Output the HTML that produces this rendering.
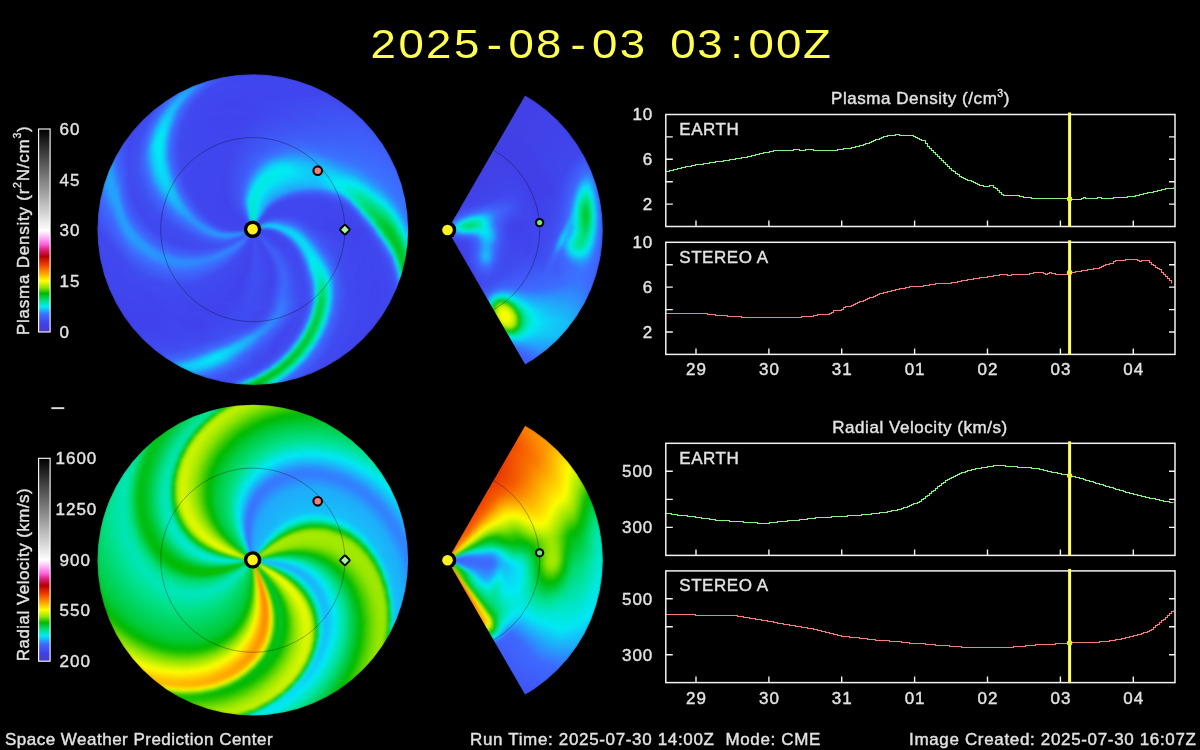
<!DOCTYPE html>
<html><head><meta charset="utf-8"><title>WSA-Enlil Solar Wind Prediction</title>
<style>
html,body{margin:0;padding:0;background:#000}
body{width:1200px;height:750px;position:relative;overflow:hidden;font-family:"Liberation Sans",sans-serif}
.d{position:absolute;overflow:hidden}
.bl{position:absolute;width:0;height:0;filter:blur(1.4px)}
.bl i{position:absolute;left:0;top:0;border-radius:50%;display:block}
svg{position:absolute;left:0;top:0}
text{font-family:"Liberation Sans",sans-serif;letter-spacing:.55px;stroke-width:.4px;paint-order:stroke}
.t text{stroke:#e2e2e2}
.t .ttl text{letter-spacing:0;stroke:none}
.t text.n{letter-spacing:1px}
</style></head><body>
<div class="d" style="left:93.4px;top:70.2px;width:318.8px;height:318.8px;clip-path:circle(155.4px at 50% 50%)"><div class="bl" style="left:159.4px;top:159.4px"><i style="width:313.8px;height:313.8px;margin:-156.9px;background:conic-gradient(from 90deg,#2b91fc 0deg,#0dd1f7 3.5deg,#01e9f5 4.5deg,#00da6d 9deg,#00c934 11.5deg,#00c21f 13.5deg,#00c425 15deg,#00ce46 16deg,#00e4a3 17.5deg,#00ebf1 18.5deg,#3a72fe 20.5deg,#3f59f7 22deg,#4044ed 26deg,#4047ee 66.5deg,#3e62fb 78deg,#3d6dff 79.5deg,#1ab4f9 82deg,#00ebf4 83.5deg,#00d865 86.5deg,#00c320 88.5deg,#00bd0c 90deg,#00be11 91deg,#00c831 92deg,#00da6b 93deg,#00e9e1 94.5deg,#09d9f6 95deg,#367afe 96.5deg,#3e67fe 97deg,#3f4ef2 100deg,#3f53f4 105.5deg,#3e69ff 110deg,#19b7f9 114.5deg,#0fcbf7 117.5deg,#1bb3f9 119.5deg,#3e69fe 122.5deg,#3f4df1 128.5deg,#4042ec 142.5deg,#4049ef 181.5deg,#3d6cff 193.5deg,#24a1fb 199deg,#20a8fa 203deg,#3284fd 206.5deg,#3e68fe 208.5deg,#4047ee 217.5deg,#404af0 230.5deg,#3c6eff 241.5deg,#2996fc 246deg,#2897fc 249.5deg,#3e66fd 254deg,#4046ee 263deg,#4047ee 303.5deg,#3e6aff 344deg,#3a73fe 356.5deg,#2b91fc 360deg)"></i>
<i style="width:311px;height:311px;margin:-155.5px;background:conic-gradient(from 90deg,#23a2fb 0deg,#00eaf5 3.5deg,#00db6d 8deg,#00c934 10.5deg,#00c21e 13deg,#00c423 14deg,#00cd41 15deg,#00de78 16deg,#00eae8 17.5deg,#0bd4f7 18deg,#3778fe 19.5deg,#3e67fd 20deg,#4049ef 23.5deg,#4042ec 45.5deg,#3f4cf1 69deg,#3e68fe 78deg,#3086fd 79.5deg,#00ebf3 82.5deg,#00d865 85.5deg,#00c321 87.5deg,#00bd0d 89deg,#00be12 90deg,#00c831 91deg,#00da6a 92deg,#00e9df 93.5deg,#08dbf6 94deg,#357cfe 95.5deg,#3e68fe 96deg,#3f4ef2 99deg,#3f52f4 104.5deg,#3d6dff 109.5deg,#17bbf9 114deg,#0ecdf7 116.5deg,#17bbf9 118.5deg,#3e68fe 122deg,#3f4df1 128deg,#4042ec 142deg,#4048ef 180.5deg,#3e6aff 192.5deg,#23a2fb 198.5deg,#21a6fa 202.5deg,#347ffd 206deg,#3e66fd 208deg,#4046ee 217deg,#3f4bf0 229.5deg,#3d6cff 239.5deg,#279bfb 244.5deg,#269cfb 248deg,#3b71fe 251.5deg,#3f4cf1 258.5deg,#4042ec 272.5deg,#3f4ef2 313deg,#3d6cff 350deg,#3877fe 356deg,#279afb 359.5deg,#23a2fb 360deg)"></i>
<i style="width:308.2px;height:308.2px;margin:-154.1px;background:conic-gradient(from 90deg,#1ab5f9 0deg,#00ebf5 2.5deg,#00d760 7.5deg,#00c72e 10deg,#00c21e 12.5deg,#00c62c 13.5deg,#00d355 14.5deg,#00e6b9 16deg,#00e9e0 16.5deg,#07dbf6 17deg,#347ffd 18.5deg,#3e68fe 19deg,#4049ef 22.5deg,#4042ec 40deg,#3f4bf0 67.5deg,#3e68fe 77deg,#3087fd 78.5deg,#00ebf3 81.5deg,#00d866 84.5deg,#00c422 86.5deg,#00bd0e 88deg,#00bf12 89deg,#00c831 90deg,#00d969 91deg,#00e9dd 92.5deg,#07ddf6 93deg,#347efd 94.5deg,#3e68fe 95deg,#3f4ef2 98deg,#3f51f3 103.5deg,#3e69ff 108.5deg,#18b9f9 113deg,#0dcff7 116deg,#18baf9 118deg,#3d6cff 121deg,#3f4ff2 126.5deg,#4042ec 139.5deg,#4049ef 180deg,#3d6cff 192deg,#24a1fb 197.5deg,#21a7fa 201.5deg,#3282fd 205deg,#3e67fe 207deg,#4047ee 216deg,#3f4bf0 228deg,#3c6fff 238deg,#259ffb 243deg,#24a1fb 246.5deg,#3875fe 250deg,#3e60fa 252.5deg,#4045ed 261deg,#4047ee 301.5deg,#3e69ff 342deg,#3974fe 354deg,#2995fc 358deg,#1ab5f9 360deg)"></i>
<i style="width:305.4px;height:305.4px;margin:-152.7px;background:conic-gradient(from 90deg,#0fcbf7 0deg,#00ebf3 1.5deg,#00d761 6.5deg,#00c72e 9deg,#00c21e 11.5deg,#00c629 12.5deg,#00d150 13.5deg,#00e5b1 15deg,#04e3f6 16deg,#3e6aff 18deg,#404af0 21.5deg,#4042ec 36deg,#404af0 66deg,#3e65fd 75.5deg,#3c6eff 76.5deg,#1ab6f9 79deg,#00ebf2 80.5deg,#00d866 83.5deg,#00c423 85.5deg,#00be0f 87deg,#00bf13 88deg,#00c830 89deg,#00d968 90deg,#00e9db 91.5deg,#06dff6 92deg,#3380fd 93.5deg,#3e69fe 94deg,#3f4ef2 97deg,#3f50f3 102.5deg,#3c6eff 108deg,#16bef8 112.5deg,#0cd1f7 115deg,#10c9f8 116.5deg,#2b92fc 119deg,#3e6aff 120.5deg,#3f4df1 126.5deg,#4042ec 140deg,#4048ef 179deg,#3e6aff 191deg,#259ffb 196.5deg,#21a7fa 200.5deg,#2e8cfc 203.5deg,#3e68fe 206deg,#4047ee 215deg,#3f4bf0 226.5deg,#3d6bff 236deg,#24a1fb 241deg,#20a8fa 244.5deg,#2e8afc 247.5deg,#3e67fd 250deg,#4046ee 258.5deg,#4046ee 299deg,#3e69fe 339.5deg,#3975fe 353deg,#2897fb 357deg,#0fcbf7 360deg)"></i>
<i style="width:302.6px;height:302.6px;margin:-151.3px;background:conic-gradient(from 90deg,#04e2f6 0deg,#00e9e3 1deg,#00d761 5.5deg,#00c72f 8deg,#00c21e 10.5deg,#00c527 11.5deg,#00d04b 12.5deg,#00e4a9 14deg,#01eaf5 15deg,#3b70ff 17deg,#3f50f3 19.5deg,#4042ec 25.5deg,#4049ef 64deg,#3e63fc 74deg,#3a73fe 75.5deg,#0ecef7 78.5deg,#05e1f6 79deg,#00eaea 79.5deg,#00d760 82.5deg,#00c321 84.5deg,#00be10 86deg,#00c017 87deg,#00ca38 88deg,#00e396 89.5deg,#00eae6 90.5deg,#0ad5f7 91deg,#3779fe 92.5deg,#3e67fe 93deg,#3f4cf0 96.5deg,#3f53f4 102.5deg,#3e6aff 107deg,#17bcf9 111.5deg,#0bd4f7 114.5deg,#15c0f8 116.5deg,#3e68fe 120deg,#3f4df1 126deg,#4042ec 140deg,#4049ef 178.5deg,#3d6cff 190.5deg,#24a0fb 196deg,#21a6fa 200deg,#3380fd 203.5deg,#3e67fd 205.5deg,#4047ee 214.5deg,#3f4ef1 226deg,#3c6eff 234.5deg,#22a5fa 239.5deg,#1eadfa 243deg,#2c8ffc 246deg,#3e68fe 248.5deg,#4046ee 257deg,#4046ee 297.5deg,#3e68fe 338deg,#3975fe 351.5deg,#2a93fc 355.5deg,#09d7f7 359.5deg,#04e2f6 360deg)"></i>
<i style="width:299.8px;height:299.8px;margin:-149.9px;background:conic-gradient(from 90deg,#00e9e2 0deg,#00d762 4.5deg,#00c629 7.5deg,#00c31f 10deg,#00c832 11deg,#00d660 12deg,#00e7c7 13.5deg,#00eaee 14deg,#2b92fc 15.5deg,#3876fe 16deg,#3e60fa 17deg,#4047ee 20.5deg,#4045ee 59.5deg,#3f5ffa 72deg,#3d6bff 74deg,#13c3f8 77deg,#02e8f5 78deg,#00db6f 81deg,#00c62a 83deg,#00bf13 84.5deg,#00c11c 86deg,#00cd40 87deg,#00e4a2 88.5deg,#00ebf2 89.5deg,#3a72fe 91.5deg,#3f59f7 93deg,#4049ef 97deg,#3f5df9 104deg,#3c6eff 106.5deg,#14c0f8 111deg,#0ad6f7 114deg,#16bef8 116deg,#3c6eff 119deg,#3f52f4 123.5deg,#4042ec 135.5deg,#4047ee 176deg,#3e6aff 189.5deg,#259efb 195deg,#21a6fa 199deg,#2e8bfc 202deg,#3e68fe 204.5deg,#4047ee 213.5deg,#3f4ef2 224.5deg,#3b71fe 233deg,#20a9fa 238deg,#1bb2f9 241.5deg,#2a94fc 244.5deg,#3e69fe 247deg,#4047ee 255deg,#4045ed 294.5deg,#3e67fe 335deg,#3876fe 350.5deg,#2995fc 354.5deg,#09d9f6 358.5deg,#00ebf0 359.5deg,#00e9e2 360deg)"></i>
<i style="width:297px;height:297px;margin:-148.5px;background:conic-gradient(from 90deg,#00e7c4 0deg,#00d456 4deg,#00c62a 6.5deg,#00c21f 9deg,#00c82f 10deg,#00d55a 11deg,#00e6bf 12.5deg,#00eae6 13deg,#0ad7f7 13.5deg,#357cfe 15deg,#3e68fe 15.5deg,#4049ef 19deg,#4042ec 36.5deg,#3f4bf0 63deg,#3e66fd 72deg,#357cfe 73.5deg,#00ebf1 77deg,#00d969 80deg,#00c528 82deg,#00bf14 83.5deg,#00c017 84.5deg,#00c832 85.5deg,#00d866 86.5deg,#00e8d5 88deg,#03e4f6 88.5deg,#3e6bff 90.5deg,#3f4ef2 93.5deg,#3f4cf1 99deg,#3e6aff 105.5deg,#16bef8 110deg,#09d8f6 113deg,#0ecef7 114.5deg,#2995fc 117deg,#3e6aff 118.5deg,#3f4df1 124.5deg,#4042ec 137.5deg,#4049ef 177deg,#3d6dff 189deg,#24a0fb 194.5deg,#22a5fa 198.5deg,#347ffd 202deg,#3e66fd 204deg,#4047ee 213deg,#3f4ff2 223.5deg,#3d6cff 231deg,#1faafa 236deg,#18b8f9 239.5deg,#21a7fa 242deg,#3e6aff 245.5deg,#4047ef 253.5deg,#4044ed 291.5deg,#3e65fd 332deg,#3877fe 349.5deg,#2897fc 353.5deg,#08daf6 357.5deg,#00eaee 358.5deg,#00e7c4 360deg)"></i>
<i style="width:294.2px;height:294.2px;margin:-147.1px;background:conic-gradient(from 90deg,#00e4a6 0deg,#00d04c 3.5deg,#00c525 6deg,#00c21e 8deg,#00c72c 9deg,#00d355 10deg,#00e6b7 11.5deg,#00e9dd 12deg,#06def6 12.5deg,#3e69ff 14.5deg,#404af0 18deg,#4042ec 32.5deg,#404af0 61.5deg,#3e67fd 71deg,#3975fe 72deg,#0dcff7 75deg,#04e2f6 75.5deg,#00eae9 76deg,#00d863 79deg,#00c526 81deg,#00bf15 82.5deg,#00c11a 83.5deg,#00cb39 84.5deg,#00e293 86deg,#00e9e0 87deg,#08dbf6 87.5deg,#347efd 89deg,#3e68fe 89.5deg,#3f4bf0 93deg,#3f4ef2 99deg,#3c6eff 105deg,#13c3f8 109.5deg,#08daf6 112.5deg,#13c4f8 114.5deg,#3e69ff 118deg,#3f4df1 124deg,#4042ec 137.5deg,#4049ef 176deg,#3e6aff 188deg,#259efb 193.5deg,#21a5fa 197.5deg,#3382fd 201deg,#3e67fe 203deg,#4047ef 212deg,#3f4ff2 222deg,#3c6eff 229.5deg,#1eadfa 234.5deg,#16bdf9 238deg,#1eadfa 240.5deg,#3e68fe 244.5deg,#4047ee 252.5deg,#4045ed 293deg,#3e67fe 333.5deg,#3876fe 348deg,#2899fb 352.5deg,#07dcf6 356.5deg,#00eaed 357.5deg,#00e4a6 360deg)"></i>
<i style="width:291.4px;height:291.4px;margin:-145.7px;background:conic-gradient(from 90deg,#00e289 0deg,#00cb3a 3.5deg,#00c31f 6deg,#00c321 7.5deg,#00cb3a 8.5deg,#00da6b 9.5deg,#00e8d5 11deg,#03e5f5 11.5deg,#3c6eff 13.5deg,#3f4df1 16.5deg,#4042ec 24.5deg,#4049ef 59.5deg,#3e65fd 69.5deg,#3c6dff 70.5deg,#13c4f8 73.5deg,#01e8f5 74.5deg,#00dc71 77.5deg,#00c72f 79.5deg,#00c018 81deg,#00c21f 82.5deg,#00cd41 83.5deg,#00e39e 85deg,#00eaec 86deg,#1cb2f9 87deg,#3877fe 88deg,#3e66fd 88.5deg,#404af0 92deg,#3f4ff2 98.5deg,#3e6aff 104deg,#14c1f8 108.5deg,#07dcf6 111.5deg,#0bd4f7 113deg,#269cfb 115.5deg,#3e68fe 117.5deg,#3f4bf0 124deg,#4042ec 139.5deg,#4049ef 175.5deg,#3d6dff 187.5deg,#249ffb 193deg,#22a4fb 197deg,#357dfe 200.5deg,#3e66fd 202.5deg,#4048ef 211deg,#3f51f3 221deg,#3b70fe 228deg,#1cb1f9 233deg,#14c2f8 236.5deg,#1bb2f9 239deg,#3e6aff 243deg,#4047ee 251deg,#4045ed 291.5deg,#3e67fd 332deg,#3778fe 347deg,#279afb 351.5deg,#07ddf6 355.5deg,#00eaeb 356.5deg,#00e289 360deg)"></i>
<i style="width:288.6px;height:288.6px;margin:-144.3px;background:conic-gradient(from 90deg,#00db70 0deg,#00c933 3deg,#00c21e 5.5deg,#00c528 7deg,#00d04b 8deg,#00e4a7 9.5deg,#00ebf4 10.5deg,#3973fe 12.5deg,#3f5ffa 13.5deg,#4046ee 17.5deg,#4047ee 56.5deg,#3e61fb 67.5deg,#3a72fe 69.5deg,#10caf8 72.5deg,#00ebf0 73.5deg,#00da6c 76.5deg,#00c72d 78.5deg,#00c018 80deg,#00c423 81.5deg,#00cf49 82.5deg,#00e4a9 84deg,#01eaf5 85deg,#3b70ff 87deg,#3f55f5 89deg,#4047ee 93.5deg,#3f5df9 101deg,#3c6fff 103.5deg,#12c5f8 108deg,#06def6 111deg,#0bd3f7 112.5deg,#2898fb 115deg,#3d6cff 116.5deg,#3f50f3 121.5deg,#4042ec 133deg,#4047ee 173.5deg,#3e6aff 186.5deg,#259efb 192deg,#22a4fa 196deg,#3380fd 199.5deg,#3e67fd 201.5deg,#4049ef 210deg,#3f51f3 219.5deg,#3e6bff 226deg,#1ab5f9 231.5deg,#11c7f8 235deg,#19b8f9 237.5deg,#3e68fe 242deg,#4047ee 249.5deg,#4045ed 290deg,#3e66fd 330.5deg,#3877fe 345.5deg,#2996fc 350deg,#0bd5f7 354deg,#01e9f5 355deg,#00db70 360deg)"></i>
<i style="width:285.8px;height:285.8px;margin:-142.9px;background:conic-gradient(from 90deg,#00d459 0deg,#00c527 3deg,#00c31f 5.5deg,#00c933 6.5deg,#00d660 7.5deg,#00e7c5 9deg,#00eaeb 9.5deg,#1bb3f9 10.5deg,#3779fe 11.5deg,#3e67fe 12deg,#4049ef 15.5deg,#4042ec 33deg,#3f4bf0 58.5deg,#3e67fe 67.5deg,#3876fe 68.5deg,#0dd1f7 71.5deg,#04e3f6 72deg,#00e8d2 73deg,#00d354 76deg,#00c322 78deg,#00c11a 79.5deg,#00c528 80.5deg,#00d251 81.5deg,#00e5b4 83deg,#00e9db 83.5deg,#05e0f6 84deg,#3e6aff 86deg,#3f4bf0 89.5deg,#3f4cf1 96deg,#3e6aff 102.5deg,#10caf8 107.5deg,#05e1f6 110.5deg,#0cd3f7 112deg,#3186fd 115deg,#3e6aff 116deg,#3f4bf0 122.5deg,#4042ec 137deg,#4049ef 174deg,#3d6dff 186deg,#259ffb 191.5deg,#23a3fb 195.5deg,#367cfe 199deg,#3e68fe 200.5deg,#4049ef 209deg,#3f51f3 218deg,#3d6dff 224.5deg,#18b9f9 230deg,#0fccf7 233.5deg,#16bdf9 236deg,#357dfe 239.5deg,#3e66fd 241deg,#4047ee 248.5deg,#4045ed 289deg,#3e66fd 329.5deg,#3876fe 344deg,#2a93fc 348.5deg,#0fcdf7 352.5deg,#00ebf5 354deg,#00d864 359.5deg,#00d459 360deg)"></i>
<i style="width:283px;height:283px;margin:-141.5px;background:conic-gradient(from 90deg,#00cf48 0deg,#00c425 2.5deg,#00c321 5deg,#00cb3b 6deg,#00e28d 7.5deg,#03e5f5 9deg,#3c6eff 11deg,#3f50f3 13.5deg,#4042ec 19.5deg,#4049ef 56deg,#3e65fd 66deg,#367bfe 67.5deg,#0ad7f7 70.5deg,#01e9f5 71deg,#00dd74 74deg,#00c934 76deg,#00c21c 77.5deg,#00c322 79deg,#00cd41 80deg,#00e39a 81.5deg,#00eae6 82.5deg,#0ad7f7 83deg,#357dfe 84.5deg,#3e68fe 85deg,#404af0 88.5deg,#3f4bf0 95deg,#3c6eff 102deg,#11c7f8 106.5deg,#04e3f6 109.5deg,#08daf6 111deg,#24a1fb 113.5deg,#3e69ff 115.5deg,#3f4bf0 122deg,#4042ec 137deg,#4049ef 173deg,#3e6aff 185deg,#259dfb 190.5deg,#22a3fb 194.5deg,#347ffd 198deg,#3e66fd 200deg,#4049ef 208.5deg,#3f54f5 217.5deg,#3d6cff 223deg,#17bbf9 228.5deg,#0dd0f7 232deg,#13c4f8 234.5deg,#3185fd 238deg,#3e68fe 239.5deg,#4047ee 247deg,#4044ed 287.5deg,#3e65fd 328deg,#3975fe 342.5deg,#2a93fc 347.5deg,#0fcbf7 351.5deg,#01e9f5 353deg,#00d968 358.5deg,#00cf48 360deg)"></i>
<i style="width:280.2px;height:280.2px;margin:-140.1px;background:conic-gradient(from 90deg,#00cb3a 0deg,#00c320 2.5deg,#00c425 4.5deg,#00ce43 5.5deg,#00e39b 7deg,#00eae5 8deg,#09d8f6 8.5deg,#347efd 10deg,#3e68fe 10.5deg,#404af0 14deg,#4042ec 29deg,#3f4bf0 56deg,#3e66fd 65deg,#3a73fe 66deg,#10cbf8 69deg,#00ebf1 70deg,#00db70 73deg,#00c832 75deg,#00c21d 76.5deg,#00c525 78deg,#00cf47 79deg,#00e4a3 80.5deg,#00eaee 81.5deg,#3877fe 83.5deg,#3e67fd 84deg,#404af0 87.5deg,#3f4bf0 94.5deg,#3e69ff 101deg,#0fcbf7 106deg,#03e5f5 109deg,#08daf6 110.5deg,#259efb 113deg,#3e68fe 115deg,#3f4bf0 121.5deg,#4042ec 137.5deg,#4049ef 172.5deg,#3c6fff 184.5deg,#249ffb 190deg,#23a3fb 193.5deg,#347ffd 197deg,#3e66fd 199deg,#4049ef 207.5deg,#3f54f5 216.5deg,#3c6fff 222deg,#15bff8 227.5deg,#0bd5f7 231deg,#10c9f8 233.5deg,#2a94fc 236.5deg,#3e69fe 238.5deg,#4047ee 246deg,#4044ed 286.5deg,#3e65fd 327deg,#3975fe 341.5deg,#2a93fc 346.5deg,#10c9f8 350.5deg,#00eaef 352.5deg,#00db6d 357.5deg,#00cb3a 360deg)"></i>
<i style="width:277.4px;height:277.4px;margin:-138.7px;background:conic-gradient(from 90deg,#00c82f 0deg,#00c21e 2.5deg,#00c629 4deg,#00d14d 5deg,#00e4a9 6.5deg,#00ebf4 7.5deg,#3974fe 9.5deg,#3f5ffa 10.5deg,#4046ee 14.5deg,#4047ee 52deg,#3e62fb 63deg,#3e6aff 64.5deg,#16bdf9 67.5deg,#05e0f6 68.5deg,#00eaec 69deg,#00da6d 72deg,#00c831 74deg,#00c21e 75.5deg,#00c528 77deg,#00d04c 78deg,#00e4a8 79.5deg,#00ebf4 80.5deg,#3974fe 82.5deg,#3f5ffa 83.5deg,#4048ef 87deg,#3f4df1 94.5deg,#3d6cff 100.5deg,#0dcff7 105.5deg,#02e8f5 108.5deg,#08daf6 110deg,#269cfb 112.5deg,#3c6fff 114deg,#3f53f4 118deg,#4042ec 128deg,#4046ee 168.5deg,#3e67fe 182deg,#24a0fb 189deg,#23a2fb 192.5deg,#367bfe 196deg,#3e68fe 197.5deg,#4049ef 206deg,#3f53f4 215deg,#3e6aff 220.5deg,#13c3f8 226.5deg,#08daf6 230deg,#0ecef7 232.5deg,#2898fb 235.5deg,#3e6aff 237.5deg,#4047ee 245deg,#4044ed 285.5deg,#3e65fc 326deg,#3974fe 340deg,#2b92fc 345.5deg,#0dd0f7 350deg,#00ebf2 351.5deg,#00d866 357deg,#00c82f 360deg)"></i>
<i style="width:274.6px;height:274.6px;margin:-137.3px;background:conic-gradient(from 90deg,#00c527 0deg,#00c21f 2.5deg,#00c72e 3.5deg,#00d457 4.5deg,#00e6b8 6deg,#00e9dd 6.5deg,#06dff6 7deg,#3e6bff 9deg,#404af0 12.5deg,#4042ec 25deg,#404af0 53.5deg,#3e65fd 62.5deg,#3d6dff 63.5deg,#14c1f8 66.5deg,#03e4f6 67.5deg,#00e8d2 68.5deg,#00d459 71.5deg,#00c528 73.5deg,#00c31f 75deg,#00c62c 76deg,#00d251 77deg,#00e5ae 78.5deg,#02e7f5 79.5deg,#3b71fe 81.5deg,#3f55f5 83.5deg,#4045ed 88deg,#3f56f5 96deg,#3b71fe 100deg,#0fccf7 104.5deg,#01e9f5 107.5deg,#04e2f6 109deg,#19b7f9 111deg,#3d6cff 113.5deg,#3f4ef2 119deg,#4042ec 130.5deg,#4049ef 169.5deg,#3c6eff 182deg,#259efb 187.5deg,#23a3fb 191deg,#347ffd 194.5deg,#3e66fd 196.5deg,#4049ef 205deg,#3f53f4 214deg,#3d6cff 219.5deg,#11c8f8 225.5deg,#06dff6 229deg,#0cd3f7 231.5deg,#269bfb 234.5deg,#3d6cff 236.5deg,#404af0 243deg,#4042ec 263deg,#3f4ff2 303.5deg,#3a73fe 338.5deg,#2d8efc 344deg,#12c6f8 348.5deg,#00ebf5 350.5deg,#00da6b 356deg,#00c72c 359.5deg,#00c527 360deg)"></i>
<i style="width:271.8px;height:271.8px;margin:-135.9px;background:conic-gradient(from 90deg,#00c321 0deg,#00c320 2deg,#00c935 3deg,#00d762 4deg,#00e7c6 5.5deg,#00eaec 6deg,#1bb4f9 7deg,#367bfe 8deg,#3e68fe 8.5deg,#404af0 12deg,#4042ec 27.5deg,#3f4bf0 53deg,#3e68fe 62deg,#2996fc 64deg,#02e8f5 66.5deg,#00d967 70deg,#00c830 72deg,#00c320 73.5deg,#00c425 74.5deg,#00cc3f 75.5deg,#00e291 77deg,#00e9d9 78deg,#04e2f6 78.5deg,#3c6eff 80.5deg,#3f4ef1 83.5deg,#4046ee 89.5deg,#3e61fb 97.5deg,#3e6bff 99deg,#0dd0f7 104deg,#00eaf5 106.5deg,#04e2f6 108.5deg,#21a6fa 111deg,#3e6aff 113deg,#3f4bf0 119.5deg,#4042ec 135deg,#4049ef 168.5deg,#3e6aff 180.5deg,#269cfb 186deg,#23a1fb 190deg,#367bfe 193.5deg,#3e68fe 195deg,#4049ef 203.5deg,#3f52f4 212.5deg,#3c6eff 218.5deg,#0fccf7 224.5deg,#04e3f6 228deg,#09d7f7 230.5deg,#249ffb 233.5deg,#3e68fe 236deg,#4047ef 243deg,#4044ed 283deg,#3e64fc 323.5deg,#3a73fe 337.5deg,#2b92fc 343.5deg,#0fcdf7 348deg,#01e8f5 349.5deg,#00db6f 355deg,#00c82f 358.5deg,#00c321 360deg)"></i>
<i style="width:269px;height:269px;margin:-134.5px;background:conic-gradient(from 90deg,#00c424 0deg,#00c527 1.5deg,#00cd41 2.5deg,#00e291 4deg,#00e9d9 5deg,#04e3f6 5.5deg,#3b6fff 7.5deg,#3f51f3 10deg,#4042ec 16deg,#4049ef 50.5deg,#3e63fc 60deg,#3a72fe 61.5deg,#11c9f8 64.5deg,#00ebf4 65.5deg,#00d865 69deg,#00c82f 71deg,#00c321 72.5deg,#00c527 73.5deg,#00ce43 74.5deg,#00e396 76deg,#00e9df 77deg,#06def6 77.5deg,#3e6bff 79.5deg,#3f4bf0 83deg,#4047ef 90deg,#3e68fe 98deg,#0dd1f7 103.5deg,#00eaf5 106.5deg,#06def6 108deg,#24a0fb 110.5deg,#3e69fe 112.5deg,#4049ef 119.5deg,#4042ec 142deg,#404af0 168deg,#3d6dff 179.5deg,#259dfb 185deg,#23a2fb 188.5deg,#347ffd 192deg,#3e66fd 194deg,#4049ef 202.5deg,#3f52f4 211.5deg,#3b71fe 217.5deg,#0dd0f7 223.5deg,#01e8f5 227deg,#07dcf6 229.5deg,#23a3fb 232.5deg,#3e69fe 235deg,#4048ef 242deg,#4043ed 281deg,#3f5ffa 317.5deg,#3a73fe 336.5deg,#2b91fc 342.5deg,#10c9f8 347deg,#00ebf2 349deg,#00db6d 354.5deg,#00c831 358deg,#00c424 360deg)"></i>
<i style="width:266.2px;height:266.2px;margin:-133.1px;background:conic-gradient(from 90deg,#00c629 0deg,#00c830 1deg,#00d14f 2deg,#00e4a4 3.5deg,#00eaeb 4.5deg,#1ab6f9 5.5deg,#3e68fe 7deg,#404af0 10.5deg,#4042ec 24.5deg,#3f4bf0 50.5deg,#3e67fe 59.5deg,#3975fe 60.5deg,#0fccf7 63.5deg,#00ebf0 64.5deg,#00d762 68deg,#00c72f 70deg,#00c423 71.5deg,#00c62a 72.5deg,#00cf48 73.5deg,#00e39c 75deg,#00eae4 76deg,#08d9f6 76.5deg,#3e69ff 78.5deg,#3f4bf0 82deg,#4048ef 89.5deg,#3e68fe 97.5deg,#0dd0f7 103deg,#02e7f5 105.5deg,#05e1f6 107deg,#19b7f9 109deg,#3c6eff 111.5deg,#3f51f3 116deg,#4042ec 126deg,#4049ef 166deg,#3e6aff 178deg,#269bfb 183.5deg,#24a1fb 187.5deg,#367bfe 191deg,#3e68fe 192.5deg,#4049ef 201deg,#3f51f3 210deg,#3e6bff 216deg,#0ecff7 222deg,#00ebf4 225.5deg,#02e6f5 228deg,#16bef9 230.5deg,#3e69ff 234deg,#4048ef 241deg,#4043ec 279deg,#3f5cf8 314.5deg,#3a73fe 335.5deg,#2c90fc 341.5deg,#12c6f8 346deg,#01e9f5 348deg,#00da6c 354deg,#00c934 357.5deg,#00c629 360deg)"></i>
<i style="width:263.4px;height:263.4px;margin:-131.7px;background:conic-gradient(from 90deg,#00c832 0deg,#00d049 1deg,#00e395 2.5deg,#00e9d9 3.5deg,#03e4f6 4deg,#3a72fe 6deg,#3f5af7 7.5deg,#4044ed 12deg,#4048ef 47.5deg,#3e62fb 57.5deg,#3d6cff 59deg,#15bff8 62deg,#05e1f6 63deg,#00eaec 63.5deg,#00d760 67deg,#00c72f 69deg,#00c424 70.5deg,#00c72d 71.5deg,#00d04c 72.5deg,#00e4a2 74deg,#00eaea 75deg,#0bd5f7 75.5deg,#357efd 77deg,#3e68fe 77.5deg,#404af0 81deg,#4047ee 88.5deg,#3e66fd 96.5deg,#367bfe 98deg,#0dd0f7 102.5deg,#03e5f5 105deg,#07dcf6 106.5deg,#22a3fb 109deg,#3e6aff 111deg,#4049ef 118deg,#4042ec 138.5deg,#404af0 165.5deg,#3d6bff 177deg,#269cfb 182.5deg,#249ffb 186.5deg,#3877fe 190deg,#3e64fc 192deg,#4048ef 200.5deg,#3f53f4 209.5deg,#3c6dff 215deg,#0cd3f7 221deg,#00ebf4 223.5deg,#00eaed 226deg,#03e5f5 227.5deg,#1faafa 230.5deg,#3e6aff 233deg,#4048ef 240deg,#4043ec 276.5deg,#3f5af7 311.5deg,#3a73fe 334.5deg,#2a93fc 341deg,#10caf8 345.5deg,#00ebf3 347.5deg,#00d761 354deg,#00ca38 357deg,#00c830 359.5deg,#00c832 360deg)"></i>
<i style="width:260.6px;height:260.6px;margin:-130.3px;background:conic-gradient(from 90deg,#00cf46 0deg,#00da6d 1deg,#00e7c8 2.5deg,#00eaec 3deg,#19b7f9 4deg,#3e69ff 5.5deg,#404af0 9deg,#4042ec 21.5deg,#3f4bf0 48.5deg,#3e68fe 57.5deg,#2995fc 59.5deg,#03e5f5 62deg,#00e6bd 63.5deg,#00d65e 66deg,#00c72f 68deg,#00c525 69.5deg,#00c82f 70.5deg,#00d250 71.5deg,#00e4a7 73deg,#00ebef 74deg,#367afe 76deg,#3e68fe 76.5deg,#404af0 80deg,#4047ee 88deg,#3e66fd 96deg,#357dfe 97.5deg,#11c9f8 101.5deg,#04e2f6 104.5deg,#09d8f6 106deg,#259efb 108.5deg,#3e69fe 110.5deg,#4049ef 117.5deg,#4042ec 141.5deg,#3f4bf0 165deg,#3c6eff 176deg,#269dfb 181.5deg,#24a0fb 185deg,#367bfe 188.5deg,#3e68fe 190deg,#4049ef 198.5deg,#3f50f3 207.5deg,#3c6fff 214deg,#0ad5f7 220deg,#00ebf1 222.5deg,#00eaea 225deg,#05e1f6 227deg,#2a93fc 230.5deg,#3d6cff 232deg,#4049ef 238.5deg,#4042ec 262deg,#3f50f3 302deg,#3a72fe 333.5deg,#2b92fc 340deg,#0ecff7 345deg,#01e8f5 346.5deg,#00da6a 353deg,#00cb3c 356.5deg,#00ca36 359deg,#00cf46 360deg)"></i>
<i style="width:257.8px;height:257.8px;margin:-128.9px;background:conic-gradient(from 90deg,#00d865 0deg,#00e6b9 1.5deg,#03e4f6 2.5deg,#3974fe 4.5deg,#3e60fa 5.5deg,#4046ee 9.5deg,#4047ee 44deg,#3e61fb 55deg,#3a72fe 57deg,#0ad7f7 60.5deg,#01e8f5 61deg,#00da6c 64.5deg,#00ca37 66.5deg,#00c527 68deg,#00c832 69.5deg,#00d355 70.5deg,#00e5ad 72deg,#00ebf5 73deg,#3877fe 75deg,#3e67fd 75.5deg,#404af0 79deg,#4047ee 87deg,#3e64fc 95deg,#3974fe 96.5deg,#11c8f8 101deg,#05e0f6 104deg,#10caf8 106deg,#3c6eff 109.5deg,#3f50f2 114.5deg,#4042ec 124.5deg,#4049ef 162.5deg,#3e6aff 174.5deg,#269bfb 180deg,#259ffb 184deg,#3877fe 187.5deg,#3e64fc 189.5deg,#4048ef 198deg,#3f53f4 207.5deg,#3d6dff 213deg,#08d9f6 219.5deg,#00ebf3 221.5deg,#00eaeb 224deg,#04e2f6 226deg,#2995fc 229.5deg,#3c6dff 231deg,#3f4bf0 237deg,#4042ec 253deg,#404af0 293.5deg,#3a72fe 332.5deg,#2b91fc 339deg,#0fcbf7 344deg,#00ebf4 346deg,#00da6a 352.5deg,#00cd40 356deg,#00cc3e 358.5deg,#00d252 359.5deg,#00d865 360deg)"></i>
<i style="width:255px;height:255px;margin:-127.5px;background:conic-gradient(from 90deg,#00e28d 0deg,#00eaec 1.5deg,#18b8f9 2.5deg,#3e6aff 4deg,#3f4bf0 7.5deg,#4042ec 19deg,#404af0 46deg,#3e67fd 55deg,#3975fe 56deg,#08dbf6 59.5deg,#00ebf4 60deg,#00d969 63.5deg,#00ca36 65.5deg,#00c528 67deg,#00c935 68.5deg,#00d459 69.5deg,#00e5b2 71deg,#02e7f5 72deg,#3974fe 74deg,#3e60fa 75deg,#4047ee 79deg,#3f4bf0 88.5deg,#3e6bff 95.5deg,#11c8f8 100.5deg,#07ddf6 103.5deg,#12c5f8 105.5deg,#3e6aff 109deg,#4049ef 116deg,#4042ec 137.5deg,#3f4bf0 162.5deg,#3d6cff 173.5deg,#269cfb 179deg,#24a0fb 182.5deg,#367bfe 186deg,#3e68fe 187.5deg,#4048ef 196.5deg,#3f51f3 206deg,#3b71fe 212.5deg,#0ad5f7 218.5deg,#00ebf2 221deg,#00eaed 223.5deg,#03e4f6 225deg,#21a7fa 228deg,#3e69fe 230.5deg,#4047ef 237.5deg,#4043ed 278deg,#3f5ffa 315deg,#3a72fe 331.5deg,#2a94fc 338.5deg,#0dcff7 343.5deg,#00eaef 345.5deg,#00da6b 352deg,#00ce45 355.5deg,#00ce46 358deg,#00d65f 359deg,#00e28d 360deg)"></i>
<i style="width:252.2px;height:252.2px;margin:-126.1px;background:conic-gradient(from 90deg,#00e7c5 0deg,#00eae6 0.5deg,#08dbf6 1deg,#3c6fff 3deg,#3f51f3 5.5deg,#4042ec 11.5deg,#4049ef 44deg,#3e65fc 53.5deg,#3d6cff 54.5deg,#0ecef7 58deg,#00ebf0 59deg,#00d967 62.5deg,#00ca36 64.5deg,#00c629 66deg,#00ca39 67.5deg,#00d65e 68.5deg,#00e6b8 70deg,#04e2f6 71deg,#3b71fe 73deg,#3f55f5 75deg,#4044ed 80deg,#3f50f3 89.5deg,#3c6eff 95deg,#14c1f8 99.5deg,#08daf6 102.5deg,#10c9f8 104.5deg,#3e68fe 108.5deg,#4047ef 116deg,#4044ed 154.5deg,#3f5af7 167.5deg,#3a73fe 173deg,#269cfb 178deg,#259ffb 181.5deg,#3779fe 185deg,#3e67fe 186.5deg,#4048ef 195.5deg,#3f50f3 205deg,#3d6cff 211.5deg,#09d7f7 218deg,#00ebf2 220.5deg,#00ebf0 223deg,#06dff6 224.5deg,#2a93fc 228deg,#3d6cff 229.5deg,#4049ef 236deg,#4042ec 259deg,#3f50f2 299.5deg,#3a72fe 330.5deg,#2a95fc 337.5deg,#0ecef7 342.5deg,#00ebf2 344.5deg,#00dc71 351deg,#00d04b 354.5deg,#00d04a 357deg,#00d65f 358deg,#00e4a6 359.5deg,#00e7c5 360deg)"></i>
<i style="width:249.4px;height:249.4px;margin:-124.7px;background:conic-gradient(from 90deg,#06dff6 0deg,#3974fe 2deg,#3e60fa 3deg,#4047ee 7deg,#4046ee 40.5deg,#3e60fa 51.5deg,#3c6eff 53.5deg,#0dd1f7 57deg,#00eaec 58deg,#00d865 61.5deg,#00ca36 63.5deg,#00c62b 65deg,#00cb3c 66.5deg,#00d762 67.5deg,#00e6bd 69deg,#00e9e0 69.5deg,#06dff6 70deg,#3c6fff 72deg,#3f51f3 74.5deg,#4043ed 80deg,#3f53f4 89.5deg,#3e6aff 94deg,#16bdf9 98.5deg,#0ad7f7 101.5deg,#11c7f8 103.5deg,#3e68fe 107.5deg,#4048ef 115deg,#4042ec 148.5deg,#3f51f3 163.5deg,#3b71fe 172deg,#279bfb 177deg,#259ffb 180.5deg,#367bfe 184deg,#3e68fe 185.5deg,#4048ef 194.5deg,#3f51f3 204.5deg,#3b70ff 211deg,#0bd3f7 217deg,#00ebf2 220deg,#00ebf4 222.5deg,#11c8f8 225deg,#3e68fe 229deg,#4047ee 236deg,#4043ed 276.5deg,#3f5ffa 313.5deg,#3a72fe 329.5deg,#2995fc 336.5deg,#0bd5f7 342deg,#00ebf4 343.5deg,#00db6f 350.5deg,#00d14f 354deg,#00d14f 356deg,#00d761 357deg,#00e4a4 358.5deg,#00e9e2 359.5deg,#06dff6 360deg)"></i>
<i style="width:246.6px;height:246.6px;margin:-123.3px;background:conic-gradient(from 90deg,#1eacfa 0deg,#3778fe 1deg,#3e67fe 1.5deg,#4048ef 5.5deg,#4042ec 30.5deg,#3f52f4 46.5deg,#3e69fe 52deg,#22a4fb 54.5deg,#04e4f6 56.5deg,#00e8d5 57.5deg,#00d865 60.5deg,#00ca37 62.5deg,#00c72c 64deg,#00c933 65deg,#00d14f 66deg,#00e39e 67.5deg,#00e9e2 68.5deg,#07ddf6 69deg,#3c6eff 71deg,#3f4ef2 74deg,#4044ed 81deg,#3f59f7 90deg,#3b71fe 93.5deg,#15bff8 98deg,#0bd3f7 101deg,#16bdf9 103deg,#3e69fe 106.5deg,#4048ef 114deg,#4042ec 141deg,#3f4cf1 160.5deg,#3c6fff 171deg,#269cfb 176.5deg,#269dfb 180deg,#3975fe 183.5deg,#3f5ef9 186.5deg,#4046ee 195deg,#3f54f5 205deg,#3d6bff 210deg,#0ad5f7 216.5deg,#00ebf2 219.5deg,#04e4f6 222.5deg,#1faafa 225.5deg,#3e6aff 228deg,#4048ef 235deg,#4043ec 272deg,#3f59f7 307deg,#3a72fe 328.5deg,#279afb 336deg,#08dbf6 341.5deg,#00eaf5 342.5deg,#00dd75 349.5deg,#00d355 353deg,#00d459 355.5deg,#00dd74 356.5deg,#00e6bf 358deg,#04e3f6 359deg,#1eacfa 360deg)"></i>
<i style="width:243.8px;height:243.8px;margin:-121.9px;background:conic-gradient(from 90deg,#357dfe 0deg,#3e69fe 0.5deg,#4049ef 4.5deg,#4042ec 25.5deg,#3f4ff2 44deg,#3e69ff 51deg,#1ab5f9 54deg,#03e5f5 55.5deg,#00e398 58deg,#00d04a 60.5deg,#00c72e 62.5deg,#00c935 64deg,#00d251 65deg,#00e4a0 66.5deg,#00eae5 67.5deg,#08dbf6 68deg,#3d6dff 70deg,#3f4ef2 73deg,#4044ed 80deg,#3f58f7 89deg,#3d6dff 92.5deg,#17bbf9 97deg,#0dd0f7 100deg,#17bbf9 102deg,#3e69fe 105.5deg,#4048ef 113.5deg,#4042ec 147.5deg,#3f53f4 162.5deg,#3c6dff 170deg,#269bfb 175.5deg,#259dfb 179deg,#3876fe 182.5deg,#3e64fc 184.5deg,#4047ee 193deg,#3f50f3 203deg,#3c6fff 209.5deg,#0cd1f7 215.5deg,#00ebf5 218.5deg,#03e5f5 221.5deg,#1daffa 224.5deg,#3e68fe 227.5deg,#4047ee 234.5deg,#4043ed 275deg,#3e60fa 312.5deg,#3a72fe 327.5deg,#279afb 335deg,#08daf6 340.5deg,#00eaee 342deg,#00df7a 348.5deg,#00d55b 352deg,#00d65d 354.5deg,#00dd75 355.5deg,#00e6bc 357deg,#02e6f5 358deg,#357dfe 360deg)"></i>
<i style="width:241px;height:241px;margin:-120.5px;background:conic-gradient(from 90deg,#3e64fc 0deg,#4048ef 4deg,#4044ed 34.5deg,#3f5bf8 47deg,#3e6aff 50deg,#19b7f9 53deg,#02e7f5 54.5deg,#00dc73 58deg,#00cd40 60deg,#00c72f 62deg,#00ca37 63deg,#00d354 64deg,#00e4a3 65.5deg,#00eae7 66.5deg,#09d9f6 67deg,#3d6cff 69deg,#3f4bf0 72.5deg,#4045ed 80.5deg,#3f5cf9 89deg,#3e6aff 91.5deg,#19b6f9 96deg,#0fccf7 99deg,#18baf9 101deg,#3e69ff 104.5deg,#4048ef 112.5deg,#4042ec 139.5deg,#3f4df1 159deg,#3b71fe 169.5deg,#279afb 174.5deg,#259dfb 178deg,#3778fe 181.5deg,#3e64fc 183.5deg,#4047ee 192deg,#3f50f3 202deg,#3e6aff 208.5deg,#0bd3f7 215deg,#00ebf4 218.5deg,#02e6f5 220.5deg,#15bff8 223deg,#3e6aff 226.5deg,#4048ef 233.5deg,#4043ec 272deg,#3f5bf8 307.5deg,#3b70ff 326deg,#279afb 334deg,#05e0f6 340deg,#00eae8 341.5deg,#00e080 347.5deg,#00d761 351deg,#00d762 353.5deg,#00de77 354.5deg,#00e6ba 356deg,#01eaf5 357deg,#3e6aff 359.5deg,#3e64fc 360deg)"></i>
<i style="width:238.2px;height:238.2px;margin:-119.1px;background:conic-gradient(from 90deg,#3f5af7 0deg,#4045ed 4.5deg,#4048ef 37.5deg,#3e62fb 47.5deg,#3e6aff 49deg,#11c9f8 52.5deg,#01e9f5 53.5deg,#00dc72 57deg,#00cd40 59deg,#00c831 61deg,#00cb39 62deg,#00d356 63deg,#00e4a5 64.5deg,#00eae9 65.5deg,#09d8f7 66deg,#3d6bff 68deg,#3f4bf0 71.5deg,#4044ed 79.5deg,#3f5cf8 88deg,#3b6fff 91deg,#19b8f9 95.5deg,#11c8f8 98.5deg,#1daefa 100.5deg,#3e69ff 103.5deg,#404af0 111deg,#4042ec 127deg,#404af0 156.5deg,#3c6fff 168.5deg,#269bfb 174deg,#279bfb 177.5deg,#3a72fe 181deg,#3f57f6 185.5deg,#4046ee 194deg,#3f59f7 204deg,#3c6eff 208deg,#0dcff7 214deg,#00eaf5 217.5deg,#04e3f6 220deg,#1eadfa 223deg,#3c6eff 225.5deg,#3f4bf0 231.5deg,#4042ec 247deg,#4049ef 287.5deg,#3b70ff 325deg,#279afb 333deg,#06def6 339deg,#00eaea 340.5deg,#00e07f 347deg,#00d865 350.5deg,#00d967 352.5deg,#00de79 353.5deg,#00e6b9 355deg,#00ebf3 356deg,#3c6eff 358.5deg,#3f5af7 360deg)"></i>
<i style="width:235.4px;height:235.4px;margin:-117.7px;background:conic-gradient(from 90deg,#3f53f4 0deg,#4043ec 5.5deg,#4049ef 37.5deg,#3e65fc 47deg,#3d6cff 48deg,#10cbf8 51.5deg,#00ebf5 52.5deg,#00dc72 56deg,#00cd41 58deg,#00c832 60deg,#00cb3b 61deg,#00d459 62deg,#00e4a8 63.5deg,#00eaeb 64.5deg,#18b9f9 65.5deg,#3e6aff 67deg,#3f4bf0 70.5deg,#4044ed 78.5deg,#3f5df9 87.5deg,#3d6cff 90deg,#1bb3f9 94.5deg,#13c4f8 97.5deg,#1eacfa 99.5deg,#3e69ff 102.5deg,#3f4bf0 110deg,#4042ec 124.5deg,#404af0 155.5deg,#3c6dff 167.5deg,#279afb 173deg,#269bfb 176.5deg,#3974fe 180deg,#3f59f7 184deg,#4046ee 192.5deg,#3f56f6 202.5deg,#3e6aff 207deg,#0cd1f7 213.5deg,#01eaf5 217deg,#06def6 219.5deg,#21a6fa 222.5deg,#3e69ff 225deg,#4048ef 232deg,#4043ed 272deg,#3f5ef9 308.5deg,#3b70ff 324deg,#279bfb 332deg,#07ddf6 338deg,#00ebf5 339deg,#00e185 346deg,#00da6b 349.5deg,#00dc71 352deg,#00e28b 353deg,#00e8d2 354.5deg,#00ebf0 355deg,#3a72fe 357.5deg,#3f5bf8 359deg,#3f53f4 360deg)"></i>
<i style="width:232.6px;height:232.6px;margin:-116.3px;background:conic-gradient(from 90deg,#3f4df1 0deg,#4042ec 8.5deg,#404af0 37deg,#3e65fd 46deg,#3779fe 47.5deg,#00ebf3 51.5deg,#00dc71 55deg,#00cd41 57deg,#00c934 59deg,#00cc3d 60deg,#00d55b 61deg,#00e5ab 62.5deg,#00eaee 63.5deg,#269cfb 65deg,#3e6aff 66deg,#3f4bf0 69.5deg,#4045ed 78deg,#3f5ffa 87deg,#3b71fe 89.5deg,#1daffa 93.5deg,#15c0f8 96.5deg,#1faafa 98.5deg,#3e69ff 101.5deg,#3f4cf1 109deg,#4042ec 122.5deg,#4049ef 154.5deg,#3d6bff 166.5deg,#2799fb 172deg,#269bfb 175.5deg,#3975fe 179deg,#3e61fb 181.5deg,#4046ee 190deg,#3f50f3 200deg,#3c6dff 206.5deg,#0ecdf7 212.5deg,#02e8f5 216deg,#05e0f6 218.5deg,#1faafa 221.5deg,#3d6cff 224deg,#4049ef 230.5deg,#4042ec 252.5deg,#3f4ff2 293deg,#3b70ff 323deg,#259ffb 331.5deg,#00ebef 338.5deg,#00e28b 345deg,#00dc71 348.5deg,#00dd75 351deg,#00e28d 352deg,#00e8d0 353.5deg,#00eaed 354deg,#15c0f8 355deg,#3876fe 356.5deg,#3e61fb 357.5deg,#3f4df1 360deg)"></i>
<i style="width:229.8px;height:229.8px;margin:-114.9px;background:conic-gradient(from 90deg,#4049ef 0deg,#4042ec 18.5deg,#3f4df1 38deg,#3e68fe 45.5deg,#23a2fb 48deg,#00ebf0 50.5deg,#00dc70 54deg,#00cd42 56deg,#00c935 58deg,#00cc3f 59deg,#00d65e 60deg,#00e5ad 61.5deg,#00ebf0 62.5deg,#3e6aff 65deg,#4049ef 69deg,#4046ee 78.5deg,#3e66fd 87.5deg,#347ffd 89.5deg,#1ab4f9 93.5deg,#17baf9 96deg,#2a94fc 98.5deg,#3e69fe 100.5deg,#3f4ef2 107.5deg,#4042ec 120.5deg,#4049ef 153.5deg,#3c6eff 166deg,#279afb 171.5deg,#2799fb 175deg,#3e67fe 179.5deg,#4047ee 188.5deg,#3f4ef2 198.5deg,#3e6aff 205.5deg,#0dcff7 212deg,#02e7f5 215.5deg,#07dcf6 218deg,#22a3fb 221deg,#3e69fe 223.5deg,#4047ef 230.5deg,#4043ed 271deg,#3f5ffa 308deg,#3a72fe 322.5deg,#259efb 330.5deg,#00ebf3 337.5deg,#00e293 344deg,#00de79 347.5deg,#00df7c 350deg,#00e4a3 351.5deg,#00eaec 353deg,#14c2f8 354deg,#3779fe 355.5deg,#3e68fe 356deg,#4049ef 360deg)"></i>
<i style="width:227px;height:227px;margin:-113.5px;background:conic-gradient(from 90deg,#4047ee 0deg,#4046ee 32deg,#3f5ef9 42.5deg,#3b71fe 45deg,#0dd0f7 48.5deg,#00eaee 49.5deg,#00db70 53deg,#00ce43 55deg,#00ca37 57deg,#00cd41 58deg,#00dd77 59.5deg,#00ebf2 61.5deg,#3e69ff 64deg,#4049ef 68deg,#4046ee 77.5deg,#3e65fd 86.5deg,#3a73fe 88deg,#1eacfa 92deg,#19b7f9 95deg,#2a93fc 97.5deg,#3e69fe 99.5deg,#3f4ff2 106.5deg,#4042ec 119.5deg,#4049ef 153deg,#3d6bff 165deg,#2898fb 170.5deg,#279afb 174deg,#3974fe 177.5deg,#3f5cf8 181deg,#4046ee 189.5deg,#3f53f4 199.5deg,#3d6dff 205deg,#0fcbf7 211deg,#03e5f5 214.5deg,#06def6 217deg,#20a8fa 220deg,#3e6aff 222.5deg,#4048ef 229.5deg,#4042ec 265deg,#3f57f6 300deg,#3a72fe 321.5deg,#23a1fb 330deg,#00ebf1 337deg,#00e397 343.5deg,#00e182 347.5deg,#00e28c 349.5deg,#00e6bc 351deg,#00eaed 352deg,#14c2f8 353deg,#3e69fe 355deg,#404af0 359deg,#4047ee 360deg)"></i>
<i style="width:224.2px;height:224.2px;margin:-112.1px;background:conic-gradient(from 90deg,#4045ed 0deg,#4048ef 32.5deg,#3e64fc 42.5deg,#3a73fe 44deg,#04e2f6 48deg,#00e9d9 49deg,#00db6f 52deg,#00ce43 54deg,#00ca38 56deg,#00ce43 57deg,#00de79 58.5deg,#00ebf4 60.5deg,#347efd 62.5deg,#3e69ff 63deg,#4049ef 67deg,#4046ee 76.5deg,#3e66fd 86deg,#1eacfa 91.5deg,#1bb4f9 94deg,#2b91fc 96.5deg,#3e68fe 98.5deg,#3f50f3 105deg,#4042ec 118.5deg,#4049ef 152deg,#3c6eff 164.5deg,#2899fb 170deg,#2898fb 173.5deg,#3e67fd 178deg,#4047ee 187deg,#3f50f2 197.5deg,#3b70ff 204.5deg,#0fcdf7 210.5deg,#03e5f6 214deg,#08daf6 216.5deg,#23a2fb 219.5deg,#3e68fe 222deg,#4047ef 229deg,#4043ed 269.5deg,#3f5ffa 306.5deg,#3b71fe 320.5deg,#24a0fb 329deg,#01eaf5 336deg,#00e4a1 342.5deg,#00e28d 346.5deg,#00e395 348.5deg,#00e6c0 350deg,#00eaef 351deg,#1fabfa 352.5deg,#3e69ff 354deg,#404af0 358deg,#4045ed 360deg)"></i>
<i style="width:221.4px;height:221.4px;margin:-110.7px;background:conic-gradient(from 90deg,#4044ed 0deg,#4049ef 32deg,#3e64fc 41.5deg,#3e6aff 42.5deg,#12c5f8 46deg,#03e4f6 47deg,#00e8d7 48deg,#00db6f 51deg,#00ce44 53deg,#00cb3a 55deg,#00ce45 56deg,#00df7c 57.5deg,#01eaf5 59.5deg,#357dfd 61.5deg,#3e69fe 62deg,#4049ef 66deg,#4046ee 75.5deg,#3e66fd 85deg,#3974fe 86.5deg,#20a8fa 90.5deg,#1cb0fa 93deg,#2799fb 95deg,#3e68fe 97.5deg,#3f50f3 104deg,#4042ec 118deg,#4049ef 151.5deg,#3e6bff 163.5deg,#2897fb 169deg,#2799fb 172.5deg,#3a72fe 176deg,#3f57f6 180.5deg,#4045ed 189deg,#3f58f6 199.5deg,#3a71fe 204deg,#0ecdf7 210deg,#04e3f6 213.5deg,#0ad7f7 216deg,#259efb 219deg,#3d6cff 221deg,#4049ef 227.5deg,#4042ec 248.5deg,#3f4ef2 289deg,#3b71fe 319.5deg,#23a3fb 328.5deg,#00ebf5 335.5deg,#00e4a6 342deg,#00e397 346deg,#00e39d 347.5deg,#00e7c5 349deg,#00ebf1 350deg,#3e6aff 353deg,#404af0 357deg,#4044ed 360deg)"></i>
<i style="width:218.6px;height:218.6px;margin:-109.3px;background:conic-gradient(from 90deg,#4043ec 0deg,#4049ef 31deg,#3e64fc 40.5deg,#3e6bff 41.5deg,#11c7f8 45deg,#03e6f5 46deg,#00df7d 49.5deg,#00d14d 51.5deg,#00cb3a 53.5deg,#00cf48 55deg,#00e07e 56.5deg,#02e8f5 58.5deg,#357cfe 60.5deg,#3e69fe 61deg,#4049ef 65deg,#4046ee 75deg,#3e67fe 84.5deg,#21a7fa 90deg,#1faafa 92.5deg,#3284fd 95deg,#3e68fe 96.5deg,#3f51f3 103deg,#4042ec 118deg,#4049ef 150.5deg,#3c6dff 163deg,#2898fb 168.5deg,#2897fc 172deg,#3e66fd 176.5deg,#4047ee 185.5deg,#3f4ff2 196deg,#3e6aff 203deg,#11c7f8 209deg,#05e1f6 212.5deg,#08daf6 215deg,#21a6fa 218deg,#3e6aff 220.5deg,#4048ef 227.5deg,#4043ec 263.5deg,#3f58f7 298.5deg,#3a72fe 318.5deg,#22a3fb 327.5deg,#00ebf1 335deg,#00e5af 341deg,#00e4a2 345deg,#00e5aa 346.5deg,#00e8d4 348deg,#00eae9 348.5deg,#05e2f6 349deg,#3975fe 351.5deg,#3e62fb 352.5deg,#4047ee 357deg,#4043ec 360deg)"></i>
<i style="width:215.8px;height:215.8px;margin:-107.9px;background:conic-gradient(from 90deg,#4042ec 0deg,#4049f0 30.5deg,#3e65fc 39.5deg,#3d6cff 40.5deg,#0ad7f7 44.5deg,#02e7f5 45deg,#00db6f 49deg,#00ce46 51deg,#00cc3d 53deg,#00cf49 54deg,#00e07f 55.5deg,#02e8f5 57.5deg,#357dfe 59.5deg,#3e69fe 60deg,#4049ef 64deg,#4046ee 74deg,#3e68fe 84deg,#22a3fb 89deg,#21a7fa 91.5deg,#3282fd 94deg,#3e68fe 95.5deg,#3f51f3 102deg,#4042ec 117.5deg,#4049ef 150deg,#3e6bff 162deg,#2997fc 167.5deg,#2898fb 171deg,#3b70ff 174.5deg,#3f4bf0 182.5deg,#4049ef 192.5deg,#3e68fe 202deg,#0ecdf7 209deg,#05e1f6 212.5deg,#0cd2f7 215deg,#2f8afd 218.5deg,#3e69fe 220deg,#4048ef 227deg,#4043ed 267deg,#3e60fa 304.5deg,#3b70ff 317deg,#22a3fb 326.5deg,#00ebf5 334deg,#00e6b7 340deg,#00e5ad 344deg,#00e6b8 345.5deg,#00e9e3 347deg,#01e8f5 347.5deg,#3d6cff 350.5deg,#3f4bf0 354.5deg,#4042ec 360deg)"></i>
<i style="width:213px;height:213px;margin:-106.5px;background:conic-gradient(from 90deg,#4042ec 0deg,#404af0 29.5deg,#3e65fd 38.5deg,#3778fe 40deg,#02e7f5 44deg,#00db6f 48deg,#00cf47 50deg,#00cc3e 52deg,#00d458 53.5deg,#00e39b 55deg,#02e8f5 56.5deg,#357dfd 58.5deg,#3e69fe 59deg,#4049ef 63deg,#4046ee 72.5deg,#3e67fe 82.5deg,#23a2fb 88deg,#24a0fb 90.5deg,#3e68fe 94deg,#3f51f3 100.5deg,#4042ec 118deg,#404af0 149.5deg,#3d6dff 161.5deg,#2897fc 167deg,#2996fc 170.5deg,#3e66fd 175deg,#4047ee 184deg,#3f4ef2 194.5deg,#3c6dff 202deg,#11c8f8 208deg,#06dff6 211.5deg,#0ad5f7 214deg,#259ffb 217deg,#3e68fe 219.5deg,#4047ee 226.5deg,#4044ed 267deg,#3e64fc 307.5deg,#3a73fe 316.5deg,#21a7fa 326deg,#00ebf3 333.5deg,#00e6c0 339deg,#00e6b8 343deg,#00e7c5 344.5deg,#00ebf2 346deg,#3e68fe 349.5deg,#4049ef 354deg,#4042ec 360deg)"></i>
<i style="width:210.2px;height:210.2px;margin:-105.1px;background:conic-gradient(from 90deg,#4042ec 0deg,#404af0 29deg,#3e68fe 38deg,#2b91fc 40deg,#01e8f5 43deg,#00db70 47deg,#00cf48 49deg,#00cd40 51deg,#00d459 52.5deg,#00e39c 54deg,#02e8f5 55.5deg,#3e69ff 58deg,#4049ef 62deg,#4046ee 71.5deg,#3e68fe 81.5deg,#259dfb 86.5deg,#259dfb 89deg,#3876fe 91.5deg,#3e64fc 93deg,#3f50f3 99deg,#4042ec 118.5deg,#4049ef 148.5deg,#3b70ff 161deg,#2996fc 166deg,#2996fc 169.5deg,#3e67fd 174deg,#4047ee 183deg,#3f4ef2 194deg,#3c6fff 201.5deg,#11c8f8 207.5deg,#06def6 211deg,#0cd3f7 213.5deg,#279bfb 216.5deg,#3e6aff 218.5deg,#4048ef 225.5deg,#4042ec 259deg,#3f57f6 293.5deg,#3b71fe 314.5deg,#20a8fa 325deg,#00ebf2 333deg,#00e7c6 338.5deg,#00e7c5 342.5deg,#00e9df 344deg,#00eaee 344.5deg,#0dcff7 345.5deg,#3d6dff 348deg,#3f4cf1 352deg,#4042ec 360deg)"></i>
<i style="width:207.4px;height:207.4px;margin:-103.7px;background:conic-gradient(from 90deg,#4042ec 0deg,#404af0 28deg,#3e68fe 37deg,#249ffb 39.5deg,#01e9f5 42deg,#00dc70 46deg,#00cf49 48deg,#00cd41 50deg,#00d55a 51.5deg,#00e39c 53deg,#01e8f5 54.5deg,#3e69ff 57deg,#404af0 61deg,#4046ee 70deg,#3e69fe 80.5deg,#2899fb 85deg,#279bfb 87.5deg,#3876fe 90deg,#3e64fc 91.5deg,#3f50f2 97.5deg,#4042ec 119.5deg,#404af0 148deg,#3d6dff 160deg,#2996fc 165.5deg,#2a94fc 169deg,#3e68fe 173deg,#4047ee 182deg,#3f4df1 193deg,#3b70ff 201deg,#11c8f8 207deg,#07ddf6 210.5deg,#0dd0f7 213deg,#2897fc 216deg,#3e69ff 218deg,#4048ef 225deg,#4043ec 262deg,#3f5cf8 296.5deg,#3b70ff 312.5deg,#1faafa 324deg,#00ebf0 332.5deg,#00e8cd 338deg,#00e8d0 341.5deg,#03e5f5 343.5deg,#3e68fe 347deg,#4049ef 351.5deg,#4042ec 360deg)"></i>
<i style="width:204.6px;height:204.6px;margin:-102.3px;background:conic-gradient(from 90deg,#4042ec 0deg,#404af0 27deg,#3e68fe 36deg,#24a0fb 38.5deg,#01e9f5 41deg,#00dc71 45deg,#00d04a 47deg,#00cd42 49deg,#00d55b 50.5deg,#00e39d 52deg,#01e8f5 53.5deg,#3e69ff 56deg,#404af0 60deg,#4046ee 69deg,#3e6aff 79.5deg,#2a94fc 83.5deg,#2898fb 86deg,#3975fe 88.5deg,#3e64fc 90deg,#3f4ff2 96deg,#4042ec 120.5deg,#404af0 147.5deg,#3c6fff 159.5deg,#2995fc 164.5deg,#2995fc 168deg,#3e66fd 172.5deg,#4047ee 181.5deg,#3f4ef2 192.5deg,#3e6aff 200deg,#11c8f8 206.5deg,#07dcf6 210deg,#0ecdf7 212.5deg,#3088fd 216deg,#3e68fe 217.5deg,#4047ef 224.5deg,#4044ed 264.5deg,#3e63fb 301.5deg,#3974fe 311.5deg,#1daffa 323.5deg,#00ebf1 332deg,#00e8d5 337.5deg,#00e9db 340.5deg,#02e7f5 342deg,#3480fd 345deg,#3c6dff 345.5deg,#3f4cf1 349.5deg,#4042ec 360deg)"></i>
<i style="width:201.8px;height:201.8px;margin:-100.9px;background:conic-gradient(from 90deg,#4042ec 0deg,#404af0 26deg,#3e69fe 35deg,#1daffa 38deg,#01eaf5 40deg,#00e07f 43.5deg,#00d04b 46deg,#00ce44 48deg,#00d55c 49.5deg,#00e39d 51deg,#01e8f5 52.5deg,#3e6aff 55deg,#404af0 59deg,#4046ee 67.5deg,#3e68fe 78deg,#2a93fc 82.5deg,#2b92fc 85deg,#3e67fe 88deg,#3f4ff2 94deg,#4046ee 106deg,#4047ee 144.5deg,#3d6cff 158.5deg,#2995fc 164deg,#2a93fc 167.5deg,#3e67fe 171.5deg,#4047ee 180.5deg,#3f4df1 191.5deg,#3e6aff 199.5deg,#13c3f8 205.5deg,#08daf6 209deg,#0dd1f7 211.5deg,#269bfb 214.5deg,#3d6cff 216.5deg,#4049f0 223deg,#4042ec 243.5deg,#3f4ff2 283deg,#3a71fe 309deg,#1cb0fa 322.5deg,#00ebf2 331.5deg,#00e9df 337deg,#00eae7 339.5deg,#02e7f5 340.5deg,#279bfb 343deg,#3e68fe 344.5deg,#4048ef 349.5deg,#4042ec 360deg)"></i>
<i style="width:199px;height:199px;margin:-99.5px;background:conic-gradient(from 90deg,#4042ec 0deg,#3f4bf0 25deg,#3e68fe 33.5deg,#2c8ffc 35.5deg,#04e2f6 38.5deg,#00e9dc 39.5deg,#00e07e 42.5deg,#00d252 45deg,#00d150 47deg,#00db6d 48.5deg,#00e5b2 50deg,#00eaed 51deg,#16bdf9 52deg,#3974fe 53.5deg,#3e61fb 54.5deg,#4046ee 59deg,#3f4cf1 69deg,#3b71fe 77.5deg,#2b91fc 81deg,#2d8efc 83.5deg,#3e66fd 86.5deg,#3f4df1 92.5deg,#4048ef 104deg,#4042ec 132deg,#3f4ff2 148.5deg,#3c6fff 158deg,#2a94fc 163deg,#2a94fc 166.5deg,#3e66fd 171deg,#4046ee 180deg,#3f4df1 191deg,#3d6dff 199deg,#13c3f8 205deg,#09d8f6 208.5deg,#0fcbf7 211deg,#2a94fc 214deg,#3e68fe 216deg,#4048ef 223deg,#4043ed 260.5deg,#3f5df9 293.5deg,#3a73fe 307deg,#19b7f9 322deg,#00ebf1 331deg,#00eae6 336deg,#00ebf4 338.5deg,#17bcf9 340.5deg,#3e69fe 343deg,#4048ef 348deg,#4042ec 360deg)"></i>
<i style="width:195px;height:195px;margin:-97.5px;background:conic-gradient(from 90deg,#4042ec 0deg,#3f4bf0 23.5deg,#3e68fe 32deg,#1faafa 35deg,#00ebf1 37.5deg,#00e288 41deg,#00d65f 43.5deg,#00d65d 45.5deg,#00de78 47deg,#00e6b9 48.5deg,#00ebf1 49.5deg,#3974fe 52deg,#3e61fb 53deg,#4047ee 57.5deg,#3f4cf1 67deg,#3c6eff 75.5deg,#2c8ffc 79.5deg,#2e8cfc 81.5deg,#3e66fd 84.5deg,#3f4cf1 90.5deg,#4049ef 103deg,#4042ec 127deg,#3f4df1 146.5deg,#3c6eff 157deg,#2a93fc 162deg,#2a93fc 165.5deg,#3e65fd 170deg,#4046ee 179deg,#3f4ef2 190.5deg,#3e6aff 198deg,#15bff8 204deg,#0bd4f7 207.5deg,#10c9f8 210deg,#2a94fc 213deg,#3e68fe 215deg,#4048ef 222deg,#4043ec 257.5deg,#3f5bf8 289.5deg,#3a71fe 304deg,#15bff8 321.5deg,#00ebf4 330deg,#00ebef 335deg,#04e3f6 337deg,#1bb2f9 339deg,#3c6fff 341deg,#3f4df1 345deg,#4042ec 354.5deg,#4042ec 360deg)"></i>
<i style="width:191px;height:191px;margin:-95.5px;background:conic-gradient(from 90deg,#4042ec 0deg,#3f4cf1 22.5deg,#3e69ff 30.5deg,#13c4f8 34.5deg,#00ebf4 36deg,#00e292 39.5deg,#00da6c 42deg,#00da6b 44deg,#00e183 45.5deg,#00e6c1 47deg,#01eaf5 48deg,#3973fe 50.5deg,#3f5cf8 52deg,#4046ee 56.5deg,#3f4ef2 66deg,#3b70ff 74deg,#2e8cfc 77.5deg,#3185fd 80deg,#3e65fd 82.5deg,#3f4bf0 88.5deg,#404af0 101.5deg,#4042ec 118.5deg,#3f4bf0 144.5deg,#3c6dff 156deg,#2b92fc 161deg,#2a93fc 164.5deg,#3e68fe 168.5deg,#4047ee 177.5deg,#3f4cf1 189deg,#3c6dff 197.5deg,#15bff8 203.5deg,#0cd1f7 207deg,#14c1f8 209.5deg,#357dfe 213deg,#3e65fd 214.5deg,#4047ee 221.5deg,#4045ed 262deg,#3e64fc 295.5deg,#3876fe 303deg,#0dd1f7 323.5deg,#00ebf5 331deg,#05e1f6 335.5deg,#19b7f9 337.5deg,#3e69fe 340deg,#4049ef 345deg,#4042ec 360deg)"></i>
<i style="width:187px;height:187px;margin:-93.5px;background:conic-gradient(from 90deg,#4042ec 0deg,#3f4cf1 21deg,#3e69fe 29deg,#0ecdf7 33.5deg,#02e6f5 34.5deg,#00e395 38.5deg,#00de77 41deg,#00df7b 43deg,#00e39c 44.5deg,#01e9f5 46.5deg,#3877fe 49deg,#3e62fb 50deg,#4047ee 54.5deg,#3f4cf1 63.5deg,#3d6dff 72deg,#2f89fd 75.5deg,#3284fd 78deg,#3e65fd 80.5deg,#4049ef 87deg,#3f4bf0 100.5deg,#4042ec 116.5deg,#404af0 143deg,#3d6cff 155deg,#2b92fc 160deg,#2b92fc 163.5deg,#3e68fe 167.5deg,#4047ee 176.5deg,#3f4cf1 188deg,#3e6aff 196.5deg,#17bbf9 202.5deg,#0ecef7 206deg,#15c0f8 208.5deg,#357dfe 212deg,#3e66fd 213.5deg,#4047ee 220.5deg,#4045ed 261deg,#3e63fc 293deg,#3974fe 300.5deg,#04e4f6 328.5deg,#06def6 334deg,#16bdf9 336deg,#3e68fe 339deg,#4049ef 344deg,#4042ec 360deg)"></i>
<i style="width:183px;height:183px;margin:-91.5px;background:conic-gradient(from 90deg,#4042ec 0deg,#3f4cf1 20deg,#3e6aff 28deg,#03e6f5 33.5deg,#00e5b1 36.5deg,#00e28b 39deg,#00e187 41.5deg,#00e39c 43deg,#00e8d2 44.5deg,#00eaea 45deg,#06dff6 45.5deg,#3b71fe 48deg,#3f58f6 50deg,#4045ee 55deg,#3f55f5 64.5deg,#3b6fff 70.5deg,#3088fd 74deg,#357dfe 76.5deg,#3e62fb 79deg,#4048ef 85.5deg,#3f4bf0 99.5deg,#4042ec 114.5deg,#404af0 142deg,#3b71fe 154.5deg,#2a93fc 159.5deg,#2d8efc 163deg,#3e68fe 166.5deg,#4047ee 175.5deg,#3f4cf1 187deg,#3c6eff 196deg,#19b7f9 201.5deg,#10caf8 205.5deg,#19b7f9 208deg,#3e69ff 212deg,#4047ee 219.5deg,#4045ed 260deg,#3e62fb 290.5deg,#3a73fe 298.5deg,#06def6 327deg,#0ad7f7 333deg,#19b7f9 335deg,#3c6dff 337.5deg,#3f4cf1 342deg,#4042ec 353.5deg,#4042ec 360deg)"></i>
<i style="width:179px;height:179px;margin:-89.5px;background:conic-gradient(from 90deg,#4042ec 0deg,#3f4df1 19deg,#3c6dff 27deg,#00ebf1 33deg,#00e4a8 36.5deg,#00e393 39deg,#00e39a 41deg,#00e6ba 42.5deg,#01e9f5 44deg,#3d6cff 47deg,#3f4cf1 51deg,#4048ef 58deg,#3b70ff 69deg,#3185fd 72.5deg,#357cfe 74.5deg,#3e63fc 77deg,#4047ef 83.5deg,#3f4cf1 98.5deg,#4042ec 113deg,#404af0 141deg,#3b70ff 153.5deg,#2b92fc 158.5deg,#2d8efc 162deg,#3e68fe 165.5deg,#4047ee 174.5deg,#3f4cf1 186deg,#3e6bff 195deg,#19b8f9 201deg,#11c7f8 204.5deg,#1ab5f9 207deg,#3e69fe 211deg,#4047ee 218.5deg,#4045ed 259deg,#3e61fb 288.5deg,#3a73fe 296.5deg,#18b9f9 314deg,#08daf6 326.5deg,#0dd0f7 332deg,#1cb0fa 334deg,#3e6aff 336.5deg,#4048ef 342deg,#4042ec 360deg)"></i>
<i style="width:175px;height:175px;margin:-87.5px;background:conic-gradient(from 90deg,#4042ec 0deg,#3f4ef1 18deg,#3e69ff 25.5deg,#00ebf4 32deg,#00e5b3 35.5deg,#00e4a2 38deg,#00e4a9 40deg,#00e7c9 41.5deg,#00eaee 42.5deg,#10cbf8 43.5deg,#3e69fe 46deg,#404af0 50.5deg,#3f4bf0 58.5deg,#3a72fe 68.5deg,#3283fd 72deg,#3f5df9 77deg,#4047ee 83.5deg,#3f4cf1 97.5deg,#4042ec 111.5deg,#404af0 140deg,#3c6fff 152.5deg,#2b91fc 157.5deg,#2d8dfc 161deg,#3e67fe 164.5deg,#4047ee 173.5deg,#3f4df1 185.5deg,#3e6aff 194deg,#1ab5f9 200deg,#13c3f8 203.5deg,#1cb1f9 206deg,#3e68fe 210deg,#4047ee 217.5deg,#4045ed 258deg,#3e60fa 286.5deg,#3a73fe 294.5deg,#1ab5f9 309.5deg,#0bd5f7 324.5deg,#10c9f8 331deg,#20a9fa 333deg,#3e68fe 335.5deg,#4048ef 341deg,#4042ec 360deg)"></i>
<i style="width:171px;height:171px;margin:-85.5px;background:conic-gradient(from 90deg,#4042ec 0deg,#3f4ef2 17deg,#3e6aff 24.5deg,#02e8f5 31deg,#00e6b9 35deg,#00e5b2 38deg,#00e6c0 39.5deg,#03e5f5 41.5deg,#3a72fe 44.5deg,#3f59f7 46.5deg,#4046ee 51.5deg,#3f55f5 61deg,#3974fe 68deg,#347ffd 71.5deg,#3f5df9 76deg,#4046ee 82.5deg,#3f4df1 96.5deg,#4042ec 110deg,#404af0 139deg,#3c6eff 151.5deg,#2c90fc 156.5deg,#2d8dfc 160deg,#3e67fe 163.5deg,#4047ee 172.5deg,#3f4df1 184.5deg,#3c6fff 193.5deg,#1cb1f9 199deg,#15c0f8 202.5deg,#1daefa 205deg,#3e67fe 209deg,#4047ee 216.5deg,#4045ed 257deg,#3e60fa 285deg,#3a72fe 292.5deg,#19b6f9 306.5deg,#0dd1f7 321.5deg,#13c4f8 329.5deg,#1eadfa 331.5deg,#3e67fe 334.5deg,#4048ef 340deg,#4042ec 360deg)"></i>
<i style="width:167px;height:167px;margin:-83.5px;background:conic-gradient(from 90deg,#4042ec 0deg,#3f50f3 16.5deg,#3d6cff 23.5deg,#00ebf4 30.5deg,#00e7c6 34deg,#00e7c1 37deg,#00e8cf 38.5deg,#01e9f5 40deg,#3d6cff 43.5deg,#3f4bf0 48deg,#4049ef 55.5deg,#3b71fe 67deg,#357dfe 70.5deg,#3f5cf9 75deg,#4046ee 81.5deg,#3f4cf1 96deg,#4042ec 110deg,#404af0 138deg,#3c6dff 150.5deg,#2c90fc 155.5deg,#2e8cfc 159deg,#3e67fe 162.5deg,#4047ee 171.5deg,#3f4cf1 183.5deg,#3c6dff 192.5deg,#1daefa 198deg,#17bbf9 202deg,#23a3fb 204.5deg,#3e6aff 207.5deg,#4048ef 215deg,#4044ed 252.5deg,#3f5bf8 280.5deg,#3b71fe 290.5deg,#18baf9 304.5deg,#0ecef7 317.5deg,#15bff8 328deg,#1daffa 330deg,#3e6aff 333deg,#4048ef 339deg,#4042ec 360deg)"></i>
<i style="width:163px;height:163px;margin:-81.5px;background:conic-gradient(from 90deg,#4042ec 0deg,#3f50f3 15.5deg,#3c6eff 22.5deg,#01e9f5 29.5deg,#00e7cc 33deg,#00e7c9 36deg,#00e8d7 37.5deg,#00eaee 38.5deg,#0bd4f7 39.5deg,#3e6aff 42.5deg,#4049ef 47.5deg,#3f4cf1 56deg,#3a72fe 66.5deg,#367afe 69.5deg,#3f54f5 75.5deg,#4046ee 82deg,#3f4df1 95deg,#4042ec 108.5deg,#404af0 137deg,#3d6dff 149.5deg,#2c8ffc 154.5deg,#2e8bfc 158deg,#3e67fe 161.5deg,#4047ee 170.5deg,#3f4cf1 182.5deg,#3d6cff 191.5deg,#1fabfa 197deg,#19b8f9 201deg,#249ffb 203.5deg,#3e69fe 206.5deg,#4047ef 214deg,#4044ed 253.5deg,#3f5cf8 280deg,#3a72fe 289deg,#16bdf9 302.5deg,#0ecdf7 313.5deg,#16bdf9 325.5deg,#1daefa 328.5deg,#347efd 331deg,#3e65fc 332.5deg,#4047ee 338.5deg,#4042ec 360deg)"></i>
<i style="width:159px;height:159px;margin:-79.5px;background:conic-gradient(from 90deg,#4042ec 0deg,#3f51f3 14.5deg,#3b70ff 21.5deg,#02e7f5 28.5deg,#00e8ce 32.5deg,#00e8d2 35.5deg,#00eae7 37deg,#00ebf3 37.5deg,#259efb 40deg,#3e6aff 41.5deg,#4049ef 46.5deg,#3f4bf0 55deg,#3778fe 68.5deg,#4049ef 77.5deg,#3f4ef2 88.5deg,#4047ee 97.5deg,#4046ee 133.5deg,#3e6bff 148.5deg,#2d8efc 153.5deg,#2e8cfc 157deg,#3e68fe 160.5deg,#4046ee 170deg,#3f4df1 182deg,#3b71fe 191deg,#1eacfa 196.5deg,#1ab4f9 200deg,#269cfb 202.5deg,#3e68fe 205.5deg,#4046ee 213.5deg,#4045ed 254deg,#3f5ef9 279.5deg,#3a72fe 287deg,#15c0f8 300deg,#0cd2f7 309.5deg,#15c0f8 323deg,#1eacfa 327.5deg,#357cfe 330deg,#3e64fc 331.5deg,#4047ee 337.5deg,#4042ec 360deg)"></i>
<i style="width:155px;height:155px;margin:-77.5px;background:conic-gradient(from 90deg,#4042ec 0deg,#3f53f4 14deg,#3e6aff 20deg,#03e6f5 27.5deg,#00e8d4 31.5deg,#00e9d8 34.5deg,#01e8f5 36.5deg,#2e8afc 39.5deg,#3e69ff 40.5deg,#4049ef 45.5deg,#3f4bf0 54deg,#3975fe 67.5deg,#4048ef 77deg,#3f4cf1 94.5deg,#4042ec 108deg,#3f4bf0 136deg,#3b71fe 148.5deg,#2c8ffc 153.5deg,#2f89fd 156.5deg,#3e66fd 160deg,#4047ee 169deg,#3f4df1 181deg,#3c6fff 190deg,#20a9fa 195.5deg,#1cb1fa 199deg,#2898fb 201.5deg,#3e6aff 204deg,#4047ee 212deg,#4044ed 252.5deg,#3f5df9 277.5deg,#3a72fe 285deg,#12c6f8 298deg,#09d8f6 307deg,#14c1f8 321.5deg,#1fabfa 326.5deg,#367bfe 329deg,#3e64fc 330.5deg,#4047ee 336.5deg,#4042ec 360deg)"></i>
<i style="width:151px;height:151px;margin:-75.5px;background:conic-gradient(from 90deg,#4042ec 0deg,#3f55f5 13.5deg,#3d6bff 19deg,#03e4f6 26.5deg,#00e9e1 29deg,#00e9d9 32.5deg,#00eae9 34.5deg,#04e4f6 35.5deg,#2f88fd 38.5deg,#3e69ff 39.5deg,#4049f0 44.5deg,#3f4bf0 53deg,#3a72fe 66.5deg,#4047ee 76.5deg,#3f4cf1 94deg,#4042ec 107.5deg,#404af0 135deg,#3c6eff 147.5deg,#2d8efc 152.5deg,#2e8afc 155.5deg,#3e65fd 159.5deg,#4046ee 168.5deg,#3f4ef2 180.5deg,#3d6dff 189deg,#21a6fa 194.5deg,#1eadfa 198deg,#2d8dfc 201deg,#3e66fd 203.5deg,#4046ee 211.5deg,#4045ed 252deg,#3f5df9 276deg,#3b71fe 283deg,#0fcbf7 296deg,#06dff6 304deg,#10c9f8 317.5deg,#1faafa 325.5deg,#367afe 328deg,#3e64fc 329.5deg,#4047ee 335.5deg,#4042ec 360deg)"></i>
<i style="width:147px;height:147px;margin:-73.5px;background:conic-gradient(from 90deg,#4043ec 0deg,#3f57f6 13deg,#3d6dff 18deg,#04e2f6 25.5deg,#00eae9 27.5deg,#00e9de 31deg,#00eaee 33.5deg,#06dff6 34.5deg,#3087fd 37.5deg,#3e69fe 38.5deg,#404af0 43.5deg,#3f4bf0 52deg,#3c6eff 66deg,#4046ee 76deg,#3f4ef2 93deg,#4042ec 105.5deg,#404af0 134deg,#3b70ff 147deg,#2d8dfc 152deg,#3088fd 155deg,#3e66fd 158.5deg,#4046ee 167.5deg,#3f4df1 179deg,#3e6bff 188deg,#23a2fb 193.5deg,#1fa9fa 197deg,#2f89fd 200deg,#3e68fe 202deg,#4047ee 210deg,#4045ed 250.5deg,#3f5df9 274deg,#3b70fe 281deg,#0ecdf7 293.5deg,#03e5f5 301deg,#0bd5f7 312.5deg,#1daefa 324deg,#3185fd 326.5deg,#3e67fe 328deg,#4047ee 334.5deg,#4043ec 360deg)"></i>
<i style="width:143px;height:143px;margin:-71.5px;background:conic-gradient(from 90deg,#4043ed 0deg,#3f59f7 12.5deg,#3c6eff 17deg,#05e0f6 24.5deg,#00eaed 26.5deg,#00e9e4 30deg,#00ebf4 32.5deg,#13c3f8 34.5deg,#3e68fe 37.5deg,#4048ef 43deg,#3f4df1 52deg,#3c6dff 64.5deg,#4045ed 75.5deg,#3f4ef2 92.5deg,#4042ec 105deg,#404af0 133.5deg,#3a72fe 146.5deg,#2d8dfc 151.5deg,#3185fd 154.5deg,#3e65fc 158deg,#4046ee 167deg,#3f4ef2 178.5deg,#3c6fff 187.5deg,#249ffb 192.5deg,#21a6fa 196deg,#3186fd 199deg,#3e67fe 201deg,#4047ee 209deg,#4045ed 249.5deg,#3f5df9 272.5deg,#3b6fff 279deg,#0cd2f7 291.5deg,#00ebf5 298.5deg,#05e1f6 308deg,#1eadfa 323deg,#3184fd 325.5deg,#3e67fe 327deg,#4047ee 333.5deg,#4043ed 360deg)"></i>
<i style="width:139px;height:139px;margin:-69.5px;background:conic-gradient(from 90deg,#4044ed 0deg,#3f5cf8 12deg,#3d6cff 15.5deg,#08dbf6 23deg,#00ebf0 25.5deg,#00eaea 29deg,#04e3f6 31.5deg,#20a8fa 34deg,#3e6aff 36deg,#4049ef 41.5deg,#3f4cf1 50.5deg,#3e6aff 63.5deg,#4045ed 74.5deg,#3f4df1 92.5deg,#4042ec 105deg,#404af0 133deg,#3c6fff 145.5deg,#2e8cfc 150.5deg,#3087fd 153.5deg,#3e66fd 157deg,#4046ee 166deg,#3f4ef2 177.5deg,#3d6dff 186.5deg,#269cfb 191.5deg,#23a2fb 195deg,#3283fd 198deg,#3e67fd 200deg,#4046ee 208deg,#4045ed 248.5deg,#3f5cf9 271deg,#3c6fff 277.5deg,#0bd5f7 290deg,#00ebf3 296deg,#03e5f5 305.5deg,#1eacfa 322deg,#3283fd 324.5deg,#3e6bff 325.5deg,#4048ef 332deg,#4044ed 360deg)"></i>
<i style="width:135px;height:135px;margin:-67.5px;background:conic-gradient(from 90deg,#4045ed 0deg,#3e60fa 11.5deg,#3a72fe 14.5deg,#0ad6f7 21.5deg,#00ebf3 24.5deg,#00ebf2 28deg,#05e1f6 30deg,#18b9f9 32deg,#3c6eff 34.5deg,#3f4df1 39deg,#4047ee 46.5deg,#3e69ff 62.5deg,#4044ed 74deg,#3f4ef1 92deg,#4042ec 104.5deg,#404af0 132deg,#3b70ff 145deg,#2e8cfc 150deg,#3284fd 153deg,#3e64fc 156.5deg,#4046ee 165.5deg,#3f4ff2 177deg,#3b71fe 186deg,#269bfb 191deg,#269cfb 194.5deg,#3877fe 197.5deg,#3e63fc 199.5deg,#4045ee 207.5deg,#4045ed 248deg,#3f5df9 270deg,#3c6eff 276deg,#0ad6f7 288.5deg,#00ebf2 294deg,#00ebf3 301.5deg,#1faafa 321deg,#3381fd 323.5deg,#3e6aff 324.5deg,#4048ef 331deg,#4045ed 359.5deg,#4045ed 360deg)"></i>
<i style="width:131px;height:131px;margin:-65.5px;background:conic-gradient(from 90deg,#4047ee 0deg,#3e65fd 11.5deg,#3778fe 13.5deg,#0ad7f7 20.5deg,#00ebf4 24.5deg,#06def6 28.5deg,#18baf9 30.5deg,#3e68fe 33.5deg,#4048ef 39deg,#3f4cf1 48.5deg,#3e69fe 61deg,#4044ed 73deg,#3f4ef2 91.5deg,#4042ec 104deg,#404af0 131.5deg,#3c6dff 144deg,#2e8bfc 149deg,#3185fd 152deg,#3e65fd 155.5deg,#4047ee 164.5deg,#3f4ff2 176deg,#3b71fe 185deg,#2899fb 190deg,#2897fb 193.5deg,#3e67fd 197.5deg,#4046ee 206deg,#4045ed 246.5deg,#3f5bf8 268deg,#3a71fe 275deg,#09d8f6 287deg,#00ebf1 292deg,#00eaef 299deg,#07dcf6 306deg,#22a3fb 320.5deg,#3e69ff 323.5deg,#4047ef 330deg,#4045ed 358.5deg,#4047ee 360deg)"></i>
<i style="width:127px;height:127px;margin:-63.5px;background:conic-gradient(from 90deg,#4049ef 0deg,#3e69ff 11deg,#0cd2f7 19deg,#02e7f5 23deg,#08dbf6 27deg,#17baf9 29deg,#3e69ff 32deg,#4049ef 37.5deg,#404af0 46.5deg,#3e68fe 60deg,#4044ed 72deg,#3f4ef2 91deg,#4042ec 103deg,#404af0 130.5deg,#3c6fff 143.5deg,#2e8afc 148.5deg,#3283fd 151.5deg,#3e66fd 154.5deg,#4047ee 163.5deg,#3f50f3 175deg,#3b71fe 184deg,#2996fc 189deg,#2996fc 192deg,#3e67fe 196deg,#4046ee 204.5deg,#4044ed 245deg,#3f5bf8 266.5deg,#3b70ff 273.5deg,#09d9f6 285.5deg,#00ebf1 290deg,#00eaed 297deg,#04e3f6 302.5deg,#21a7fa 319deg,#347efd 321.5deg,#3e65fd 323deg,#4046ee 329.5deg,#4047ee 358.5deg,#4049ef 360deg)"></i>
<i style="width:123px;height:123px;margin:-61.5px;background:conic-gradient(from 90deg,#3f4bf0 0deg,#3d6cff 10deg,#0ecef7 17.5deg,#04e2f6 21.5deg,#0ad7f7 25.5deg,#17baf9 27.5deg,#3e6aff 30.5deg,#4049f0 36deg,#4049ef 45deg,#3e67fe 59deg,#4043ed 71deg,#3f4ff2 90.5deg,#4042ec 102.5deg,#404af0 130deg,#3b70fe 143deg,#2f8afd 148deg,#3480fd 151deg,#3e65fd 154deg,#4047ee 163deg,#3f51f3 174.5deg,#3b71fe 183deg,#2a94fc 188deg,#2c90fc 191deg,#3e68fe 194.5deg,#4046ee 203.5deg,#4044ed 244deg,#3f5af7 265deg,#3c6eff 272deg,#08daf6 284deg,#00ebf1 288deg,#00eae9 294.5deg,#03e5f6 301deg,#22a5fa 318deg,#367bfe 320.5deg,#3e65fc 322deg,#4046ee 328.5deg,#4047ee 357deg,#3f4bf0 360deg)"></i>
<i style="width:119px;height:119px;margin:-59.5px;background:conic-gradient(from 90deg,#3f4ef2 0deg,#3e6aff 8.5deg,#0fccf7 16deg,#05e1f6 20deg,#0bd3f7 24.5deg,#21a7fa 27deg,#3e68fe 29.5deg,#4048ef 35.5deg,#3f4cf1 45.5deg,#3e67fd 58deg,#4043ed 70deg,#3f4ff2 90deg,#4042ec 102deg,#3f4bf0 129.5deg,#3c6eff 142deg,#2f89fd 147deg,#3382fd 150deg,#3e66fd 153deg,#4047ee 162deg,#3f51f3 173deg,#3c6eff 181.5deg,#2a93fc 186.5deg,#2b92fc 189.5deg,#3e66fd 193.5deg,#4046ee 202deg,#4044ed 242.5deg,#3f59f7 263.5deg,#3b71fe 271deg,#08dbf6 282.5deg,#00ebf1 286deg,#00eae6 292.5deg,#02e6f5 299.5deg,#23a3fb 317deg,#3778fe 319.5deg,#3e64fc 321deg,#4046ee 327.5deg,#4047ee 356deg,#3f4ef2 360deg)"></i>
<i style="width:115px;height:115px;margin:-57.5px;background:conic-gradient(from 90deg,#3f52f4 0deg,#3d6dff 7deg,#0ecdf7 14.5deg,#05e1f6 18.5deg,#0cd3f7 23deg,#21a6fa 25.5deg,#3e67fe 28deg,#4048ef 34deg,#3f4bf0 44deg,#3e66fd 57deg,#4043ed 69deg,#3f4ef2 90deg,#4042ec 102deg,#404af0 128.5deg,#3b70ff 141.5deg,#2f8afd 146.5deg,#3480fd 149.5deg,#3e65fd 152.5deg,#4047ee 161.5deg,#3f53f4 172.5deg,#3a72fe 180.5deg,#2a94fc 185.5deg,#2b91fc 188.5deg,#3e68fe 192deg,#4046ee 200.5deg,#4044ed 241deg,#3f58f7 262deg,#3b6fff 269.5deg,#07dcf6 281deg,#00ebef 284.5deg,#00e9e3 291deg,#03e5f5 298.5deg,#24a1fb 316deg,#3e67fd 319.5deg,#4047ee 326deg,#4046ee 353.5deg,#3f52f4 360deg)"></i>
<i style="width:111px;height:111px;margin:-55.5px;background:conic-gradient(from 90deg,#3f57f6 0deg,#3b6fff 5.5deg,#10caf8 12.5deg,#05e1f6 17deg,#0cd2f7 21.5deg,#22a4fb 24deg,#3d6dff 26deg,#404af0 31.5deg,#4048ef 41deg,#3e66fd 56deg,#4043ec 68deg,#3f4ff2 89.5deg,#4042ec 101deg,#3f4bf0 128deg,#3c6eff 140.5deg,#2f89fd 145.5deg,#3282fd 148.5deg,#3e66fd 151.5deg,#4048ef 160.5deg,#3f52f4 171deg,#3b70ff 179deg,#2a94fc 184deg,#2a93fc 187deg,#3e67fd 191deg,#4046ee 199.5deg,#4044ed 240deg,#3f58f6 260.5deg,#3c6dff 268deg,#07dcf6 279.5deg,#00eaee 283deg,#00e9e1 289deg,#02e6f5 297deg,#259ffb 315deg,#3e66fd 318.5deg,#4047ee 325deg,#4047ee 352deg,#3f57f6 360deg)"></i>
<i style="width:107px;height:107px;margin:-53.5px;background:conic-gradient(from 90deg,#3f5df9 0deg,#3a72fe 4deg,#0fcbf7 11deg,#05e1f6 15.5deg,#0dd0f7 20deg,#23a1fb 22.5deg,#3e6bff 24.5deg,#4048ef 30.5deg,#4049ef 41deg,#3e65fd 55deg,#4043ec 67deg,#3f4ff2 82.5deg,#3f4cf0 90.5deg,#4042ec 104deg,#3f4cf1 128deg,#3c6fff 140deg,#2f8afd 145deg,#3381fd 148deg,#3e65fd 151deg,#4048ef 159.5deg,#3f53f4 170deg,#3c6eff 177.5deg,#2a94fc 182.5deg,#2b92fc 186deg,#3e65fd 190deg,#4046ee 198.5deg,#4044ed 239deg,#3f58f6 259.5deg,#3b70ff 267deg,#07dcf6 278deg,#00eaef 281.5deg,#00e9e1 287.5deg,#02e6f5 295.5deg,#269dfb 314deg,#3e68fe 317deg,#4046ee 324deg,#4047ee 350.5deg,#3f5df9 360deg)"></i>
<i style="width:103px;height:103px;margin:-51.5px;background:conic-gradient(from 90deg,#3e63fc 0deg,#3975fe 2.5deg,#0ecdf7 9.5deg,#05e1f6 14deg,#0dcff7 18.5deg,#259ffb 21deg,#3e6aff 23deg,#4048ef 29deg,#4049ef 40deg,#3e65fd 54.5deg,#4043ed 66deg,#3f4df1 81deg,#3f4ef2 89deg,#4042ec 100.5deg,#404af0 126.5deg,#3b71fe 139.5deg,#2f8afd 144.5deg,#347ffd 147.5deg,#3e65fc 150.5deg,#4048ef 159deg,#3f56f5 169.5deg,#3a71fe 176.5deg,#2996fc 181.5deg,#2995fc 184.5deg,#3e67fd 188.5deg,#4046ee 197deg,#4044ed 237.5deg,#3f57f6 258deg,#3c6dff 265.5deg,#08dbf6 276.5deg,#00ebef 280deg,#00e9e1 286deg,#02e6f5 294deg,#24a0fb 312.5deg,#3778fe 315deg,#3e64fc 316.5deg,#4046ee 323deg,#4047ee 349deg,#3e63fc 360deg)"></i>
<i style="width:99px;height:99px;margin:-49.5px;background:conic-gradient(from 90deg,#3e69ff 0deg,#0fcdf7 8deg,#05e0f6 12.5deg,#0cd2f7 16.5deg,#20a8fa 19deg,#3e69ff 21.5deg,#4048ef 27.5deg,#4048ef 38.5deg,#3e65fc 53.5deg,#4043ec 65.5deg,#3f4ef2 81deg,#3f4ef1 89deg,#4042ec 100.5deg,#3f4bf0 126deg,#3c6eff 138.5deg,#2f89fd 143.5deg,#3282fd 146.5deg,#3e66fd 149.5deg,#4049ef 158deg,#3f55f5 168deg,#3b70ff 175deg,#2996fc 180deg,#2a94fc 183.5deg,#3e66fd 187.5deg,#4045ee 196deg,#4044ed 236.5deg,#3f58f6 257deg,#3b70ff 264.5deg,#07ddf6 275.5deg,#00ebf0 278.5deg,#00e9e1 284.5deg,#02e6f5 292.5deg,#259efb 311.5deg,#3e67fe 315deg,#4046ee 322deg,#4047ee 347.5deg,#3e69ff 360deg)"></i>
<i style="width:95px;height:95px;margin:-47.5px;background:conic-gradient(from 90deg,#357efd 0deg,#0fccf7 6.5deg,#06def6 11deg,#0dd0f7 15deg,#21a6fa 17.5deg,#3e68fe 20deg,#4048ef 26deg,#4047ee 37.5deg,#3e64fc 53deg,#4043ec 64.5deg,#3f4df1 80deg,#3f4ff2 88deg,#4042ec 99deg,#3f4bf0 125.5deg,#3b6fff 138deg,#2f8afd 143deg,#3380fd 146deg,#3e65fd 149deg,#4049ef 157.5deg,#3f57f6 167.5deg,#3c6eff 173.5deg,#2996fc 178.5deg,#2996fc 182deg,#3e67fd 186deg,#4046ee 194.5deg,#4043ed 235deg,#3f57f6 255.5deg,#3c6eff 263deg,#07dcf6 274deg,#00ebf1 277deg,#00e9e2 283deg,#02e6f5 291deg,#21a5fa 308.5deg,#2996fc 311deg,#3e66fd 314deg,#4046ee 321deg,#4047ef 346deg,#3e6aff 358.5deg,#357efd 360deg)"></i>
<i style="width:91px;height:91px;margin:-45.5px;background:conic-gradient(from 90deg,#2b92fc 0deg,#0ecff7 5.5deg,#07dcf6 10deg,#11c9f8 14deg,#2897fc 16.5deg,#3e68fe 18.5deg,#4048ef 24.5deg,#4047ee 36.5deg,#3e64fc 52deg,#4043ec 64deg,#3f4df1 79.5deg,#3f50f2 87.5deg,#4042ec 98.5deg,#404af0 124.5deg,#3b71fe 137.5deg,#2f8afd 142.5deg,#347ffd 145.5deg,#3e64fc 148.5deg,#404af0 157deg,#3f5cf8 167.5deg,#3a73fe 172.5deg,#2898fb 177.5deg,#2898fb 180.5deg,#3974fe 183.5deg,#3f5df9 186.5deg,#4044ed 194.5deg,#4044ed 235deg,#3f57f6 254.5deg,#3b70ff 262deg,#08dbf6 272.5deg,#00eaef 276deg,#00e9e2 282deg,#02e6f5 289.5deg,#21a6fa 306.5deg,#279afb 309.5deg,#3e66fd 313deg,#4046ee 320deg,#4048ef 344.5deg,#3e6aff 357deg,#2b92fc 360deg)"></i>
<i style="width:87px;height:87px;margin:-43.5px;background:conic-gradient(from 90deg,#22a5fa 0deg,#0bd4f7 5deg,#08d9f6 9.5deg,#11c7f8 12.5deg,#2f89fd 15.5deg,#3e67fe 17deg,#4047ee 23.5deg,#4048ef 36.5deg,#3e64fc 51deg,#4043ec 63deg,#3f4cf1 78.5deg,#3f50f3 87deg,#4042ec 98deg,#3f4bf0 124deg,#3c6eff 136.5deg,#2f8afd 141.5deg,#3282fd 144.5deg,#3e66fd 147.5deg,#3f4bf0 156deg,#3f5cf8 166deg,#3a72fe 171deg,#2899fb 176deg,#2799fb 179deg,#3876fe 182deg,#3e63fc 184deg,#4045ee 192deg,#4043ed 232.5deg,#3f56f5 252.5deg,#3c6dff 260.5deg,#08daf6 271deg,#00ebef 274.5deg,#00e9e2 280.5deg,#02e7f5 288deg,#21a6fa 305deg,#2897fb 308.5deg,#3e68fe 311.5deg,#4047ee 318.5deg,#4047ee 342deg,#3e66fd 354.5deg,#3877fe 356.5deg,#22a5fa 360deg)"></i>
<i style="width:83px;height:83px;margin:-41.5px;background:conic-gradient(from 90deg,#1ab5f9 0deg,#0ad7f7 4.5deg,#0bd5f7 9deg,#15bff8 11.5deg,#3e67fe 15.5deg,#4047ee 22deg,#4048ef 35.5deg,#3e63fc 50.5deg,#4043ec 62.5deg,#3f4cf1 78deg,#3f50f3 86.5deg,#4042ec 97.5deg,#3f4bf0 123.5deg,#3b70ff 136deg,#2f8afd 141deg,#3381fd 144deg,#3e65fd 147deg,#3f4cf1 155deg,#3f5df9 165deg,#3a71fe 169.5deg,#2799fb 174.5deg,#2898fb 178deg,#3e67fd 182deg,#4046ee 190.5deg,#4043ed 231deg,#3f56f5 251.5deg,#3c6fff 259.5deg,#07dcf6 270deg,#00ebf0 273deg,#00e9e1 279deg,#03e6f5 287deg,#21a6fa 303.5deg,#2995fc 307.5deg,#3e67fd 310.5deg,#4047ee 317.5deg,#4047ee 340.5deg,#3e68fe 353.5deg,#1ab5f9 360deg)"></i>
<i style="width:79px;height:79px;margin:-39.5px;background:conic-gradient(from 90deg,#13c3f8 0deg,#09d9f6 4.5deg,#0fcbf7 9deg,#249ffb 11.5deg,#3d6dff 13.5deg,#4049ef 19.5deg,#4045ed 32deg,#3e62fb 50deg,#4043ec 61.5deg,#3f4cf1 77.5deg,#3f51f3 86deg,#4042ec 97deg,#404af0 122.5deg,#3b71fe 135.5deg,#2e8afc 140.5deg,#347ffd 143.5deg,#3e65fc 146.5deg,#3f4cf1 154.5deg,#3e60fa 164.5deg,#3b71fe 168deg,#2799fb 173deg,#2799fb 176.5deg,#3973fe 179.5deg,#3f5ffa 182deg,#4044ed 190deg,#4043ed 230.5deg,#3f56f6 250.5deg,#3d6cff 258deg,#07dcf6 268.5deg,#00eaef 271.5deg,#00e9de 277.5deg,#02e6f5 286deg,#21a7fa 302deg,#2898fb 306deg,#3e66fd 309.5deg,#4046ee 316.5deg,#4047ee 339.5deg,#3e6aff 352.5deg,#13c3f8 360deg)"></i>
<i style="width:75px;height:75px;margin:-37.5px;background:conic-gradient(from 90deg,#0fcdf7 0deg,#0ad7f7 4.5deg,#13c4f8 8deg,#3186fd 11deg,#3d6cff 12deg,#4049ef 18deg,#4044ed 31deg,#3e62fb 49deg,#4043ec 61deg,#3f4cf1 77deg,#3f51f3 86deg,#4042ec 96.5deg,#3f4bf0 122deg,#3c6eff 134.5deg,#2f8afd 139.5deg,#3282fd 142.5deg,#3e66fd 145.5deg,#3f4df1 153.5deg,#3e62fb 163.5deg,#3b70ff 166.5deg,#2799fb 171.5deg,#269bfb 175deg,#3876fe 178deg,#3e63fc 180deg,#4045ee 188deg,#4043ed 228.5deg,#3f55f5 249deg,#3b70ff 257deg,#05e0f6 267.5deg,#00eaee 270deg,#00e9db 276deg,#00ebf2 283.5deg,#21a6fa 301deg,#2996fc 305deg,#3e68fe 308deg,#4046ee 315.5deg,#4047ef 338deg,#3e6aff 351deg,#12c6f8 359deg,#0fcdf7 360deg)"></i>
<i style="width:71px;height:71px;margin:-35.5px;background:conic-gradient(from 90deg,#0cd3f7 0deg,#0dd0f7 5deg,#1bb2f9 7.5deg,#3d6bff 10.5deg,#4048ef 17deg,#4046ee 32deg,#3e62fb 48.5deg,#4043ec 60.5deg,#3f4bf0 76.5deg,#3f52f3 85.5deg,#4042ec 96deg,#3f4bf0 121.5deg,#3b70ff 134deg,#2e8afc 139deg,#3381fd 142deg,#3e65fd 145deg,#3f4ef2 153deg,#3e67fd 163.5deg,#347ffd 166.5deg,#259dfb 171deg,#2799fb 174deg,#3e66fd 178deg,#4046ee 186deg,#4043ec 226.5deg,#3f55f5 247.5deg,#3d6dff 255.5deg,#05e0f6 266deg,#00eaec 268.5deg,#00e9d9 274deg,#00eaea 281deg,#04e2f6 285deg,#21a7fa 299.5deg,#2899fb 303.5deg,#3e67fd 307deg,#4046ee 314.5deg,#4048ef 337deg,#3e69ff 349.5deg,#12c5f8 357.5deg,#0cd3f7 360deg)"></i>
<i style="width:67px;height:67px;margin:-33.5px;background:conic-gradient(from 90deg,#0bd5f7 0deg,#11c7f8 4.5deg,#269cfb 7deg,#3e6aff 9deg,#4048ef 15.5deg,#4045ed 31deg,#3e62fb 48deg,#4043ec 60deg,#3f4bf0 76deg,#3f52f4 85deg,#4042ec 95.5deg,#3f4bf0 120.5deg,#3c6eff 133deg,#2f8afd 138deg,#3283fd 141deg,#3e66fd 144deg,#3f4ff2 152deg,#3e68fe 162.5deg,#269cfb 169deg,#269bfb 172.5deg,#3a73fe 175.5deg,#3e62fb 177.5deg,#4045ed 185.5deg,#4043ed 226deg,#3f55f5 246.5deg,#3b70ff 254.5deg,#03e5f5 265deg,#00e9e2 268.5deg,#00e8d6 274.5deg,#02e7f5 283deg,#20a9fa 297.5deg,#2997fc 302.5deg,#3e66fd 306deg,#4046ee 313.5deg,#4048ef 335.5deg,#3e69ff 348deg,#13c3f8 356deg,#0bd5f7 360deg)"></i>
<i style="width:63px;height:63px;margin:-31.5px;background:conic-gradient(from 90deg,#0cd3f7 0deg,#12c6f8 3deg,#279bfb 5.5deg,#3e6aff 7.5deg,#4048ef 14deg,#4045ed 30.5deg,#3e61fb 48deg,#4043ec 59.5deg,#3f4cf1 76deg,#3f52f4 85deg,#4042ec 95.5deg,#3f4bf0 120deg,#3a72fe 132.5deg,#2e8bfc 137.5deg,#3480fd 140.5deg,#3e65fd 143.5deg,#3f50f3 151deg,#3e69ff 161.5deg,#279afb 167deg,#24a0fb 170.5deg,#347ffd 173.5deg,#3e65fd 175.5deg,#4046ee 183.5deg,#4043ec 224deg,#3f54f4 244.5deg,#3c6dff 253deg,#03e5f5 263.5deg,#00e9e0 267deg,#00e8d2 272.5deg,#00eaed 280deg,#07ddf6 284deg,#21a6fa 297.5deg,#2a94fc 301.5deg,#3e68fe 304.5deg,#4046ee 312deg,#4047ee 333deg,#3e69ff 346.5deg,#14c2f8 354.5deg,#0bd4f7 359deg,#0cd3f7 360deg)"></i>
<i style="width:59px;height:59px;margin:-29.5px;background:conic-gradient(from 90deg,#0dcff7 0deg,#1ab5f9 2.5deg,#3e68fe 6deg,#4048ef 12.5deg,#4045ee 30.5deg,#3e61fb 47.5deg,#4043ec 59.5deg,#3f4bf0 75.5deg,#3f53f4 84.5deg,#4042ec 95deg,#3f4bf0 119deg,#3b71fe 131.5deg,#2e8bfc 136.5deg,#3381fd 139.5deg,#3e66fd 142.5deg,#3f51f3 150deg,#3e69ff 160deg,#269dfb 166deg,#259efb 169.5deg,#3779fe 172.5deg,#3e66fd 174deg,#4046ee 182deg,#4043ec 222.5deg,#3f53f4 243.5deg,#3c6dff 252deg,#02e6f5 262.5deg,#00e8d2 269deg,#00e8d7 275deg,#02e7f5 281.5deg,#1fabfa 295.5deg,#2997fc 300.5deg,#3e65fd 304deg,#4046ee 311.5deg,#4048ef 332deg,#3e6bff 345deg,#15c0f8 352.5deg,#0bd4f7 357deg,#0dcff7 360deg)"></i>
<i style="width:55px;height:55px;margin:-27.5px;background:conic-gradient(from 90deg,#14c2f8 0deg,#3185fd 3deg,#3d6cff 4deg,#4048ef 10.5deg,#4044ed 28.5deg,#3e60fa 47.5deg,#4043ec 59deg,#3f4bf0 75deg,#3f53f4 84deg,#4042ec 94.5deg,#3f4bf0 118deg,#3b70ff 130.5deg,#2e8bfc 135.5deg,#3282fd 138.5deg,#3e66fd 141.5deg,#3f51f3 149deg,#3e69ff 159deg,#259dfb 165deg,#24a0fb 168.5deg,#367bfe 171.5deg,#3e67fd 173deg,#4046ee 181deg,#4043ec 221.5deg,#3f53f4 243deg,#3b70ff 252deg,#01eaf5 262.5deg,#00e8d1 268deg,#00e8d2 274deg,#02e6f5 282deg,#1fabfa 296deg,#269bfb 300deg,#3e67fe 303.5deg,#4046ee 311deg,#4048ef 330deg,#3e69ff 343deg,#14c2f8 351deg,#0bd5f7 355.5deg,#11c8f8 359.5deg,#14c2f8 360deg)"></i>
<i style="width:51px;height:51px;margin:-25.5px;background:conic-gradient(from 90deg,#22a3fb 0deg,#3e69ff 2.5deg,#4048ef 9deg,#4044ed 29deg,#3e60fa 47deg,#4043ec 59deg,#3f4bf0 75deg,#3f53f4 84deg,#4042ec 94.5deg,#3f4cf1 117.5deg,#3c6fff 129.5deg,#2e8bfc 134.5deg,#3283fd 137.5deg,#3e66fd 140.5deg,#3f51f3 148deg,#3e69fe 158deg,#259dfb 164deg,#23a2fb 167.5deg,#347ffd 170.5deg,#3e68fe 172deg,#4046ee 180deg,#4043ec 220.5deg,#3f52f4 242.5deg,#3c6dff 251.5deg,#01e9f5 262deg,#00e8d0 267.5deg,#00e8ce 273.5deg,#02e7f5 282deg,#1daefa 295.5deg,#249ffb 299.5deg,#3e66fd 303.5deg,#4046ee 311deg,#4049ef 329deg,#3d6bff 341.5deg,#14c1f8 349deg,#0ad5f7 353.5deg,#0fccf7 357.5deg,#22a3fb 360deg)"></i>
<i style="width:47px;height:47px;margin:-23.5px;background:conic-gradient(from 90deg,#367bfe 0deg,#3e68fe 1deg,#4047ef 7.5deg,#4045ed 29.5deg,#3f5ffa 47deg,#4043ec 58.5deg,#3f4bf0 74.5deg,#3f54f4 83.5deg,#4042ec 94deg,#3f4bf0 116.5deg,#3c6eff 128.5deg,#2e8afc 133.5deg,#3284fd 136.5deg,#3e65fc 140deg,#3f51f3 147.5deg,#3e6aff 157.5deg,#269dfb 163deg,#23a3fb 166.5deg,#3283fd 169.5deg,#3e66fd 171.5deg,#4046ee 179.5deg,#4043ec 220deg,#3f53f4 242.5deg,#3b70ff 251.5deg,#01e8f5 261.5deg,#00e7cc 267.5deg,#00e7cc 273.5deg,#02e6f5 282.5deg,#1daefa 296deg,#259ffb 299.5deg,#3e68fe 303deg,#4047ee 310.5deg,#4049ef 327deg,#3e6aff 339.5deg,#13c3f8 347.5deg,#0ad7f7 352.5deg,#10caf8 356deg,#2a93fc 359deg,#367bfe 360deg)"></i>
<i style="width:43px;height:43px;margin:-21.5px;background:conic-gradient(from 90deg,#3e63fb 0deg,#4046ee 6.5deg,#4047ee 31deg,#3f5ffa 46.5deg,#4043ec 58.5deg,#3f4cf1 74.5deg,#3f54f4 83.5deg,#4042ec 93.5deg,#3f4bf0 115.5deg,#3a72fe 128deg,#2e8bfc 133deg,#3380fd 136deg,#3e65fd 139deg,#3f51f3 146.5deg,#3e69ff 156.5deg,#249ffb 162.5deg,#23a3fb 166deg,#347efd 169deg,#3e68fe 170.5deg,#4046ee 178.5deg,#4043ec 219deg,#3f52f4 242deg,#3d6dff 251deg,#00ebf4 261.5deg,#00e8cd 266.5deg,#00e7c7 272.5deg,#02e7f5 282.5deg,#1cb0fa 296deg,#259efb 299.5deg,#3e67fd 303deg,#4047ee 310.5deg,#404af0 326deg,#3d6cff 338deg,#14c1f8 345.5deg,#09d8f7 350.5deg,#0ecef7 354deg,#21a6fa 356.5deg,#3e6aff 359deg,#3e63fb 360deg)"></i>
<i style="width:39px;height:39px;margin:-19.5px;background:conic-gradient(from 90deg,#3f58f6 0deg,#4043ec 7.5deg,#4049ef 32deg,#3f5ffa 46deg,#4042ec 58.5deg,#3f4cf1 74.5deg,#3f54f5 83deg,#4042ec 93.5deg,#3f4cf1 115deg,#3b71fe 127deg,#2e8bfc 132deg,#3381fd 135deg,#3e65fd 138deg,#3f51f3 145.5deg,#3e69ff 155.5deg,#259ffb 161.5deg,#22a4fa 165deg,#3282fd 168deg,#3e66fd 170deg,#4046ee 178deg,#4043ec 218.5deg,#3f51f3 241.5deg,#3b70ff 251deg,#00ebf5 261deg,#00e7cb 266deg,#00e7c4 272deg,#00eaeb 280.5deg,#05e1f6 284deg,#20a8fa 298.5deg,#367afe 301.5deg,#3e66fd 303deg,#4046ee 310.5deg,#3f4bf0 325deg,#3e6aff 336deg,#13c3f8 344deg,#09d8f6 349deg,#0fcdf7 352.5deg,#2996fc 355.5deg,#3e68fe 357.5deg,#3f58f6 360deg)"></i>
<i style="width:35px;height:35px;margin:-17.5px;background:conic-gradient(from 90deg,#3f51f3 0deg,#4042ec 9deg,#404af0 32.5deg,#3f5ef9 46deg,#4042ec 58deg,#3f4cf1 74deg,#3f54f5 83deg,#4042ec 93deg,#3f4cf1 114deg,#3b70ff 126deg,#2e8bfc 131deg,#3382fd 134deg,#3e68fe 136.5deg,#3f51f3 144.5deg,#3e69fe 154.5deg,#23a1fb 161deg,#22a4fb 164.5deg,#357efd 167.5deg,#3e67fe 169deg,#4046ee 177deg,#4043ec 217.5deg,#3f51f3 241deg,#3d6dff 250.5deg,#01eaf5 260.5deg,#00e7c8 266deg,#00e6c1 272deg,#00eaec 281deg,#05e0f6 284.5deg,#21a7fa 298.5deg,#3e67fe 302.5deg,#4047ee 310deg,#3f4bf0 323.5deg,#3c6eff 335deg,#13c3f8 342.5deg,#09d9f6 347.5deg,#0dcff7 351deg,#21a5fa 353.5deg,#3e6aff 356deg,#3f51f3 360deg)"></i>
<i style="width:31px;height:31px;margin:-15.5px;background:conic-gradient(from 90deg,#3f4df1 0deg,#4042ec 11deg,#3f4bf0 32.5deg,#3f5ef9 45.5deg,#4043ec 57.5deg,#3f4cf0 73.5deg,#3f55f5 82.5deg,#4042ec 92.5deg,#3f4cf1 113.5deg,#3c6fff 125deg,#2e8afc 130deg,#3283fd 133deg,#3e66fd 136deg,#3f51f3 143.5deg,#3e6aff 154deg,#259efb 159.5deg,#21a6fa 163.5deg,#3382fd 166.5deg,#3e66fd 168.5deg,#4046ee 176.5deg,#4043ec 217deg,#3f51f3 241deg,#3b70ff 250.5deg,#01e8f5 260deg,#00e7c6 265.5deg,#00e6bd 271deg,#00e9de 279deg,#02e7f5 283.5deg,#1eacfa 298deg,#357dfe 301deg,#3e66fd 302.5deg,#4047ee 310deg,#3f4df1 323.5deg,#3d6dff 334deg,#12c6f8 342deg,#08daf6 347deg,#0cd1f7 350deg,#20a9fa 352.5deg,#3d6dff 355deg,#3f4df1 360deg)"></i>
<i style="width:27px;height:27px;margin:-13.5px;background:conic-gradient(from 90deg,#3f4bf0 0deg,#4042ec 15deg,#3f4ef1 33.5deg,#3f5ef9 45deg,#4042ec 57.5deg,#3f4cf1 73.5deg,#3f54f5 82.5deg,#4042ec 92.5deg,#3f4cf1 112.5deg,#3c6eff 124deg,#2e8afc 129deg,#3283fd 132deg,#3e66fd 135deg,#3f50f3 142.5deg,#3e68fe 152.5deg,#22a3fb 159.5deg,#22a5fa 163deg,#357dfe 166deg,#3e67fe 167.5deg,#4046ee 175.5deg,#4042ec 216deg,#3f51f3 240.5deg,#3d6dff 250deg,#00ebf3 260deg,#00e7c5 265deg,#00e6b9 270.5deg,#00e8d6 278deg,#03e6f5 284deg,#1fabfa 298deg,#3e68fe 302deg,#4048ef 309.5deg,#3f4df1 322.5deg,#3d6cff 333deg,#12c5f8 341deg,#08dbf6 346deg,#0bd3f7 349deg,#1eadfa 351.5deg,#3e68fe 354.5deg,#3f4bf0 360deg)"></i>
<i style="width:23px;height:23px;margin:-11.5px;background:conic-gradient(from 90deg,#4048ef 0deg,#4043ec 23.5deg,#3f5df9 45deg,#4042ec 57deg,#3f4cf1 73deg,#3f55f5 82deg,#4042ec 92deg,#3f4df1 112deg,#3a71fe 123.5deg,#2e8bfc 128.5deg,#3380fd 131.5deg,#3e65fc 134.5deg,#3f50f3 142deg,#3e69fe 152deg,#23a3fb 158.5deg,#21a7fa 162deg,#3381fd 165deg,#3e68fe 166.5deg,#4046ee 174.5deg,#4042ec 215deg,#3f50f3 240deg,#3e6aff 249.5deg,#00ebf5 259.5deg,#00e7c4 264.5deg,#00e6b6 270deg,#00e8d2 277.5deg,#02e7f5 284deg,#1cb0fa 297.5deg,#3975fe 301deg,#3e64fc 302.5deg,#4048ef 309.5deg,#3f4ef2 322deg,#3e6bff 332deg,#13c4f8 340deg,#08dbf6 345deg,#0dd1f7 348.5deg,#279afb 351.5deg,#3e69ff 353.5deg,#4048ef 360deg)"></i>
<i style="width:19px;height:19px;margin:-9.5px;background:conic-gradient(from 90deg,#4047ee 0deg,#4046ee 28deg,#3f5df9 44deg,#4042ec 56.5deg,#3f4bf0 72.5deg,#3f56f5 81.5deg,#4042ec 91.5deg,#3f4df1 111deg,#3b70ff 122.5deg,#2e8bfc 127.5deg,#3381fd 130.5deg,#3e65fd 133.5deg,#3f50f3 141deg,#3e6aff 151.5deg,#24a0fb 157deg,#20a8fa 161deg,#3185fd 164deg,#3e67fd 166deg,#4047ee 173.5deg,#4043ec 214deg,#3f51f3 238deg,#3c6dff 247.5deg,#00eaf5 257deg,#00e7c3 262deg,#00e5b3 267.5deg,#00e7cb 274.5deg,#01e8f5 282deg,#1ab4f9 295deg,#3185fd 298deg,#3e69fe 299.5deg,#4048ef 307deg,#3f4cf1 320deg,#3e6aff 331deg,#11c8f8 339.5deg,#07dcf6 344.5deg,#0cd3f7 347.5deg,#20a9fa 350deg,#3d6cff 352.5deg,#4049ef 359deg,#4047ee 360deg)"></i>
<i style="width:15px;height:15px;margin:-7.5px;background:conic-gradient(from 90deg,#4046ee 0deg,#4046ee 28deg,#3f5df9 44deg,#4042ec 56.5deg,#3f4cf0 72.5deg,#3f56f5 81.5deg,#4042ec 91.5deg,#3f4df1 111deg,#3c6eff 122deg,#2e8afc 127deg,#3283fd 130deg,#3e66fd 133deg,#3f50f3 140.5deg,#3e67fe 150.5deg,#22a4fa 157.5deg,#20a8fa 161deg,#3382fd 164deg,#3e68fe 165.5deg,#4046ee 173.5deg,#4043ec 214deg,#3f51f3 237.5deg,#3e6aff 246.5deg,#00ebf2 256.5deg,#00e6c1 261.5deg,#00e5b3 267deg,#00e8ce 274.5deg,#02e7f5 281.5deg,#1bb2f9 294.5deg,#3876fe 298deg,#3e64fc 299.5deg,#4047ee 307deg,#3f4ef2 321deg,#3d6dff 331deg,#12c5f8 339deg,#07dcf6 344deg,#0ad6f7 347deg,#1daffa 349.5deg,#3e69ff 352.5deg,#4047ee 359.5deg,#4046ee 360deg)"></i></div></div>
<div class="d" style="left:93.4px;top:400.8px;width:318.8px;height:318.8px;clip-path:circle(155.4px at 50% 50%)"><div class="bl" style="left:159.4px;top:159.4px"><i style="width:313.8px;height:313.8px;margin:-156.9px;background:conic-gradient(from 90deg,#3380fd 0deg,#2898fb 7.5deg,#1cb1f9 17.5deg,#16bcf9 24.5deg,#0dcff7 26deg,#00ebf5 27deg,#00e4a3 28.5deg,#00cb3b 30deg,#07bb00 31deg,#49cf00 32deg,#75dc00 33deg,#95e600 34.5deg,#97e600 38.5deg,#65d700 46deg,#00ba04 56.5deg,#00e399 75deg,#00ebf5 88deg,#00eaee 90.5deg,#00e8d5 91.5deg,#00e4a7 92.5deg,#00d866 93.5deg,#00c11b 94.5deg,#0dbd00 95deg,#63d700 96deg,#85e100 96.5deg,#9ce700 97deg,#b7ee00 98.5deg,#b5ed00 101.5deg,#8ce300 107deg,#1fc200 117deg,#1bc100 119.5deg,#37c900 121deg,#79dd00 122.5deg,#adeb00 123.5deg,#f2fc00 125deg,#fff900 125.5deg,#ffc900 127.5deg,#ffbb00 129.5deg,#ffd300 134deg,#fcfe00 139.5deg,#88e200 150.5deg,#13bf00 160deg,#00ba04 162.5deg,#00cc3c 173.5deg,#00e398 206deg,#00e5b1 217deg,#00e4a2 221.5deg,#00dc73 225.5deg,#00c528 230.5deg,#00c018 234deg,#00c831 240deg,#00e397 254.5deg,#00e290 256.5deg,#00db70 258deg,#00c932 259.5deg,#02ba00 260.5deg,#67d800 262deg,#99e700 263deg,#baee00 265deg,#bbef00 268deg,#8ae200 275.5deg,#00b900 289.5deg,#00d14d 304deg,#00e39d 320.5deg,#02e8f5 335deg,#2f89fd 355deg,#3380fd 360deg)"></i>
<i style="width:311px;height:311px;margin:-155.5px;background:conic-gradient(from 90deg,#3382fd 0deg,#1daefa 13deg,#16bcf9 23deg,#0dcff7 24.5deg,#00eaf5 25.5deg,#00e7c4 26.5deg,#00e183 27.5deg,#00c11c 29deg,#04ba00 29.5deg,#47ce00 30.5deg,#74dc00 31.5deg,#94e600 33deg,#99e700 36.5deg,#74dc00 43deg,#00ba03 55deg,#00e39a 73.5deg,#01e9f5 86.5deg,#00ebf2 89deg,#00e9da 90deg,#00e5ae 91deg,#00cf48 92.5deg,#05ba00 93.5deg,#5dd500 94.5deg,#9ae700 95.5deg,#b7ee00 97deg,#b9ee00 99.5deg,#89e200 106deg,#1cc100 116deg,#17c000 118deg,#2cc600 119.5deg,#67d800 121deg,#b5ed00 122.5deg,#fafe00 124deg,#ffc500 126.5deg,#ffbb00 129deg,#ffed00 136deg,#fafe00 138.5deg,#84e100 149.5deg,#0fbe00 159deg,#00ba03 161deg,#00cb3c 172deg,#00e398 204.5deg,#00e5b2 215.5deg,#00e4a2 220deg,#00dc73 224deg,#00c528 229deg,#00c018 232.5deg,#00c831 238.5deg,#00e398 253deg,#00e293 255deg,#00dd75 256.5deg,#00cb3a 258deg,#00bb06 259deg,#7cde00 261deg,#95e600 261.5deg,#b4ed00 263deg,#bff000 265.5deg,#91e500 273.5deg,#00ba02 288.5deg,#00d14c 302.5deg,#00e39e 319deg,#02e7f5 333.5deg,#2f89fd 353deg,#3382fd 360deg)"></i>
<i style="width:308.2px;height:308.2px;margin:-154.1px;background:conic-gradient(from 90deg,#3186fd 0deg,#1eadfa 11deg,#15bef8 22deg,#0bd4f7 23.5deg,#00eaed 24.5deg,#00e396 26deg,#00bd0e 28deg,#14bf00 28.5deg,#53d200 29.5deg,#87e200 31deg,#99e700 32.5deg,#92e500 37.5deg,#4fd100 46deg,#00ba04 54deg,#00e39c 72.5deg,#01e9f5 85deg,#00ebf1 88deg,#00e8d6 89deg,#00e4a5 90deg,#00d762 91deg,#00bf15 92deg,#16bf00 92.5deg,#6bd900 93.5deg,#8ce300 94deg,#aceb00 95deg,#beef00 97deg,#98e700 103.5deg,#1ac100 115deg,#16c000 117deg,#2bc600 118.5deg,#65d700 120deg,#b5ed00 121.5deg,#fafe00 123deg,#ffc500 125.5deg,#ffba00 128deg,#ffed00 135deg,#fafe00 137.5deg,#83e000 148.5deg,#0ebd00 158deg,#00ba04 160deg,#00cc3d 171deg,#00e398 203deg,#00e5b2 214deg,#00e4a1 219deg,#00db6f 223deg,#00c526 228deg,#00c017 231.5deg,#00c832 237.5deg,#00e398 251.5deg,#00e292 254deg,#00dc72 255.5deg,#00c934 257deg,#01b900 258deg,#68d800 259.5deg,#99e700 260.5deg,#bbef00 262.5deg,#bdef00 265.5deg,#8ce300 273deg,#00b900 287deg,#00d04b 301deg,#00e399 317deg,#02e7f5 332deg,#2f89fd 351.5deg,#3382fd 358.5deg,#3186fd 360deg)"></i>
<i style="width:305.4px;height:305.4px;margin:-152.7px;background:conic-gradient(from 90deg,#2d8efc 0deg,#1eaefa 9.5deg,#16bef8 20.5deg,#0bd3f7 22deg,#00eaef 23deg,#00e39a 24.5deg,#00be12 26.5deg,#10be00 27deg,#4fd100 28deg,#86e100 29.5deg,#99e700 31deg,#94e500 36deg,#51d100 44.5deg,#00ba03 52.5deg,#00e39d 71deg,#00ebf5 83deg,#02e7f5 86deg,#00eaea 87deg,#00e7c7 88deg,#00da6a 89.5deg,#00c21e 90.5deg,#0bbc00 91deg,#64d700 92deg,#87e100 92.5deg,#abeb00 93.5deg,#bdef00 95deg,#b3ed00 98.5deg,#85e100 104deg,#17c000 114deg,#15bf00 116deg,#2ec700 117.5deg,#6eda00 119deg,#d5f500 121deg,#fffc00 122deg,#ffc900 124deg,#ffb800 126deg,#ffcf00 130.5deg,#feff00 136deg,#87e100 147deg,#10be00 156.5deg,#00ba03 158.5deg,#00cb3b 169deg,#00e398 201.5deg,#00e5b2 212.5deg,#00e4a1 217.5deg,#00db70 221.5deg,#00c526 226.5deg,#00c017 230deg,#00c831 236deg,#00e399 250deg,#00e395 252.5deg,#00de78 254deg,#00cb3c 255.5deg,#00bb08 256.5deg,#3ecb00 257.5deg,#95e600 259deg,#b5ed00 260.5deg,#c0f000 263deg,#94e500 271deg,#00ba02 286deg,#00d14d 300deg,#00e39d 316deg,#01e9f5 330deg,#2f89fd 349.5deg,#3381fd 356.5deg,#2d8efc 360deg)"></i>
<i style="width:302.6px;height:302.6px;margin:-151.3px;background:conic-gradient(from 90deg,#2996fc 0deg,#1cb1fa 10deg,#16bef8 19deg,#0cd2f7 20.5deg,#00ebf1 21.5deg,#00e39e 23deg,#00c016 25deg,#0abc00 25.5deg,#4bd000 26.5deg,#76dc00 27.5deg,#96e600 29deg,#9ae700 33deg,#73dc00 39.5deg,#00ba02 51deg,#00e39d 69.5deg,#01eaf5 81.5deg,#03e4f6 84.5deg,#00eaef 85.5deg,#00e8cf 86.5deg,#00e397 87.5deg,#00b901 89.5deg,#5bd400 90.5deg,#80df00 91deg,#9be700 91.5deg,#baef00 93deg,#bdef00 95.5deg,#8ee400 102deg,#18c000 112.5deg,#14bf00 115deg,#31c800 116.5deg,#76dc00 118deg,#adeb00 119deg,#f4fc00 120.5deg,#fff600 121deg,#ffc500 123deg,#ffb700 125deg,#ffd000 129.5deg,#fdfe00 135deg,#83e000 146deg,#11be00 155deg,#00bb06 157.5deg,#00cc3c 168deg,#00e396 199.5deg,#00e5b2 211deg,#00e4a1 216deg,#00dc71 220deg,#00c527 225deg,#00c016 228.5deg,#00c72d 234deg,#00e39a 248.5deg,#00e398 251deg,#00e07e 252.5deg,#00ce45 254deg,#00be11 255deg,#0ebd00 255.5deg,#73db00 257deg,#9fe800 258deg,#bdef00 260deg,#bbef00 263.5deg,#8ce300 270.5deg,#00b901 284.5deg,#00d04b 298deg,#00e39a 314deg,#02e8f5 328.5deg,#3088fd 348deg,#3282fd 355deg,#2996fc 360deg)"></i>
<i style="width:299.8px;height:299.8px;margin:-149.9px;background:conic-gradient(from 90deg,#269dfb 0deg,#1bb3f9 11deg,#15c0f8 18deg,#0ad7f7 19.5deg,#03e4f6 20deg,#00eae8 20.5deg,#00e292 22deg,#00bc0b 24deg,#18c000 24.5deg,#54d200 25.5deg,#88e200 27deg,#9ae700 28.5deg,#95e600 33.5deg,#58d300 41.5deg,#00ba03 50deg,#00e39b 68deg,#00eaf5 80deg,#05e1f6 83deg,#00eaee 84.5deg,#00e7ca 85.5deg,#00e28f 86.5deg,#00c21d 88deg,#0dbd00 88.5deg,#67d800 89.5deg,#8ae200 90deg,#adec00 91deg,#c0f000 92.5deg,#b5ed00 96deg,#88e200 101.5deg,#17c000 111.5deg,#13bf00 114deg,#2ec700 115.5deg,#73db00 117deg,#abeb00 118deg,#f2fc00 119.5deg,#fff700 120deg,#ffc500 122deg,#ffb700 124deg,#ffcf00 128.5deg,#feff00 134deg,#83e000 145deg,#10be00 154deg,#00ba03 156deg,#00cb3b 166.5deg,#00e397 198.5deg,#00e5b2 209.5deg,#00e4a3 214.5deg,#00dd76 218.5deg,#00c425 224deg,#00c016 227.5deg,#00c832 233.5deg,#00e39b 247.5deg,#00e399 250deg,#00df7c 251.5deg,#00cd40 253deg,#00bd0c 254deg,#15bf00 254.5deg,#79dd00 256deg,#93e500 256.5deg,#b5ed00 258deg,#c2f000 260.5deg,#96e600 268.5deg,#00ba02 283.5deg,#00d04b 297deg,#00e398 312.5deg,#01e8f5 327deg,#2f89fd 346deg,#3381fd 353deg,#269dfb 360deg)"></i>
<i style="width:297px;height:297px;margin:-148.5px;background:conic-gradient(from 90deg,#22a4fb 0deg,#15bff8 16.5deg,#0bd5f7 18deg,#00eaec 19deg,#00e398 20.5deg,#00be11 22.5deg,#10be00 23deg,#4fd100 24deg,#86e100 25.5deg,#9ae700 27deg,#97e600 32deg,#5ad400 40deg,#00b901 48.5deg,#00e39b 66.5deg,#01e9f5 78.5deg,#05e1f6 82deg,#00ebf3 83deg,#00e8d2 84deg,#00e39a 85deg,#00b901 87deg,#5cd500 88deg,#82e000 88.5deg,#9ce700 89deg,#bcef00 90.5deg,#bff000 93deg,#8be300 100deg,#14bf00 110.5deg,#0fbd00 112.5deg,#23c300 114deg,#5dd500 115.5deg,#b1ec00 117deg,#f9fe00 118.5deg,#ffc200 121deg,#ffb600 123deg,#ffcf00 127.5deg,#fcfe00 133deg,#87e100 143.5deg,#12be00 152.5deg,#00bb05 155deg,#00cc3d 165.5deg,#00e395 196.5deg,#00e5b3 208deg,#00e4a4 213deg,#00de77 217deg,#00c525 222.5deg,#00c015 226deg,#00c72d 231.5deg,#00e39c 246deg,#00e39c 248.5deg,#00e182 250deg,#00d04a 251.5deg,#07bb00 253deg,#6eda00 254.5deg,#9de800 255.5deg,#bef000 257.5deg,#c0f000 260.5deg,#89e200 268.5deg,#00b901 282deg,#00d04b 295.5deg,#00e398 311deg,#02e8f5 325.5deg,#3088fd 344.5deg,#3380fd 351deg,#22a4fb 360deg)"></i>
<i style="width:294.2px;height:294.2px;margin:-147.1px;background:conic-gradient(from 90deg,#20a8fa 0deg,#16bdf9 15deg,#08d9f6 17deg,#02e7f5 17.5deg,#00e7cb 18.5deg,#00da6a 20deg,#00bb08 21.5deg,#3ccb00 22.5deg,#6cd900 23.5deg,#92e500 25deg,#9de800 28deg,#88e200 33.5deg,#30c700 43deg,#00ba02 47.5deg,#00e39d 65.5deg,#00eaf5 77deg,#06def6 80.5deg,#00ebf2 82deg,#00e8ce 83deg,#00e293 84deg,#00c31f 85.5deg,#0bbc00 86deg,#67d800 87deg,#8be300 87.5deg,#aeec00 88.5deg,#c2f000 90deg,#b8ee00 93.5deg,#8be300 99deg,#13bf00 109.5deg,#0dbd00 111.5deg,#20c300 113deg,#59d400 114.5deg,#97e600 115.5deg,#f7fd00 117.5deg,#ffe400 118.5deg,#ffbc00 120.5deg,#ffb700 123deg,#fdff00 132deg,#87e100 142.5deg,#11be00 151.5deg,#00ba02 153.5deg,#00cb3b 164deg,#00e396 195.5deg,#00e5b3 207deg,#00e4a2 212deg,#00dd74 216deg,#00c424 221.5deg,#00bf15 225deg,#00c832 231deg,#00e39b 244.5deg,#00e49f 247deg,#00e28d 248.5deg,#00d65d 250deg,#00bf12 251.5deg,#0dbd00 252deg,#73dc00 253.5deg,#a0e800 254.5deg,#bff000 256.5deg,#beef00 260deg,#89e200 267.5deg,#00b901 281deg,#00d04c 294.5deg,#00e39a 310deg,#01e8f5 324deg,#3088fd 343deg,#3380fd 349.5deg,#20a8fa 360deg)"></i>
<i style="width:291.4px;height:291.4px;margin:-145.7px;background:conic-gradient(from 90deg,#1eacfa 0deg,#16bdf9 13.5deg,#0ad7f7 15.5deg,#03e4f6 16deg,#00eae9 16.5deg,#00e394 18deg,#00be0f 20deg,#12be00 20.5deg,#50d100 21.5deg,#86e100 23deg,#9ae700 24.5deg,#96e600 30deg,#58d300 38deg,#00b900 46deg,#00e39d 64deg,#01e9f5 75.5deg,#06def6 79.5deg,#01e9f5 80.5deg,#00e8d7 81.5deg,#00e4a0 82.5deg,#00d355 83.5deg,#00bb05 84.5deg,#80df00 86deg,#9ce700 86.5deg,#bdef00 88deg,#c2f000 90.5deg,#8fe400 97.5deg,#14bf00 108deg,#0cbd00 110.5deg,#21c300 112deg,#45ce00 113deg,#b4ed00 115deg,#fdff00 116.5deg,#ffc800 118.5deg,#ffb400 120.5deg,#ffc600 124.5deg,#fcfe00 131deg,#84e000 141.5deg,#0ebd00 150.5deg,#00ba05 152.5deg,#00cb3b 162.5deg,#00e396 194deg,#00e5b3 205.5deg,#00e4a3 210.5deg,#00dd76 214.5deg,#00c425 220deg,#00bf14 223.5deg,#00c72d 229deg,#00e39b 243deg,#00e49f 246deg,#00e187 247.5deg,#00d252 249deg,#00ba03 250.5deg,#83e000 252.5deg,#a7ea00 253.5deg,#c2f000 255.5deg,#bdef00 259deg,#8de300 266deg,#00b900 279.5deg,#00cf49 292.5deg,#00e396 308deg,#02e8f5 322.5deg,#3088fd 341deg,#3480fd 347.5deg,#1eacfa 360deg)"></i>
<i style="width:288.6px;height:288.6px;margin:-144.3px;background:conic-gradient(from 90deg,#1daefa 0deg,#16bdf9 12deg,#0bd5f7 14deg,#00eaee 15deg,#00e39d 16.5deg,#00c018 18.5deg,#08bb00 19deg,#48cf00 20deg,#82e000 21.5deg,#99e700 23deg,#99e700 28deg,#6eda00 34.5deg,#00ba03 45deg,#00e39d 62.5deg,#01e9f5 74deg,#07dcf6 78deg,#00ebf1 79.5deg,#00e7ca 80.5deg,#00d864 82deg,#00bf14 83deg,#1ac100 83.5deg,#74dc00 84.5deg,#96e600 85deg,#bcef00 86.5deg,#c5f100 88.5deg,#93e500 96deg,#12be00 107deg,#0bbc00 109.5deg,#23c300 111deg,#49cf00 112deg,#b9ee00 114deg,#fffc00 115.5deg,#ffc500 117.5deg,#ffb300 119.5deg,#ffc600 123.5deg,#fbfe00 130deg,#88e200 140deg,#16c000 148.5deg,#00ba03 151deg,#00cb3a 161deg,#00e396 192.5deg,#00e5b3 204deg,#00e4a4 209deg,#00de78 213deg,#00c526 218.5deg,#00bf14 222deg,#00c62b 227.5deg,#00e39b 241.5deg,#00e4a2 244.5deg,#00e28e 246deg,#00d55c 247.5deg,#00be10 249deg,#10be00 249.5deg,#77dd00 251deg,#92e500 251.5deg,#b6ee00 253deg,#c5f100 255.5deg,#a0e800 262.5deg,#00ba02 278.5deg,#00d04b 291.5deg,#00e396 306.5deg,#02e7f5 321deg,#3087fd 339.5deg,#3380fd 346deg,#1eadfa 359deg,#1daefa 360deg)"></i>
<i style="width:285.8px;height:285.8px;margin:-142.9px;background:conic-gradient(from 90deg,#1cb0fa 0deg,#16bef8 11deg,#09d8f6 13deg,#03e5f5 13.5deg,#00eae8 14deg,#00e394 15.5deg,#00be10 17.5deg,#10be00 18deg,#4ed000 19deg,#85e100 20.5deg,#9ae700 22deg,#99e700 27deg,#6eda00 33.5deg,#00ba03 44deg,#00e39a 61deg,#01eaf5 72.5deg,#08dbf6 77deg,#00ebf0 78.5deg,#00e7c6 79.5deg,#00e185 80.5deg,#00bd0d 82deg,#23c400 82.5deg,#7bde00 83.5deg,#9ae700 84deg,#beef00 85.5deg,#c5f100 88deg,#8de300 95.5deg,#11be00 106deg,#09bc00 108.5deg,#1fc200 110deg,#44cd00 111deg,#b4ed00 113deg,#ffff00 114.5deg,#ffc600 116.5deg,#ffb200 118.5deg,#ffc500 122.5deg,#fdfe00 129deg,#89e200 139deg,#16c000 147.5deg,#00ba04 150deg,#00cb3b 160deg,#00e395 191deg,#00e5b3 202.5deg,#00e4a6 207.5deg,#00df7d 211.5deg,#00c424 217.5deg,#00bf14 221deg,#00c72c 226.5deg,#00e39c 240.5deg,#00e4a2 243.5deg,#00e28d 245deg,#00d55b 246.5deg,#00bd0d 248deg,#14bf00 248.5deg,#7ade00 250deg,#95e600 250.5deg,#b7ee00 252deg,#c6f100 254.5deg,#a1e900 261.5deg,#00ba02 277.5deg,#00d04b 290.5deg,#00e397 305.5deg,#01e8f5 319.5deg,#3087fd 338deg,#3380fd 344.5deg,#1eadfa 357.5deg,#1cb0fa 360deg)"></i>
<i style="width:283px;height:283px;margin:-141.5px;background:conic-gradient(from 90deg,#1bb2f9 0deg,#16bdf9 9.5deg,#0ad5f7 11.5deg,#00eaee 12.5deg,#00e39e 14deg,#00c11a 16deg,#04ba00 16.5deg,#45ce00 17.5deg,#81e000 19deg,#99e700 20.5deg,#9be700 25deg,#7edf00 30.5deg,#16c000 40.5deg,#00bb05 43deg,#00e39e 60deg,#01e9f5 71deg,#09d8f6 75.5deg,#01e9f5 77deg,#00e8d2 78deg,#00e395 79deg,#00c21d 80.5deg,#0ebd00 81deg,#6cd900 82deg,#90e400 82.5deg,#b2ed00 83.5deg,#c6f100 85deg,#bdef00 88.5deg,#8be300 94.5deg,#0fbd00 105deg,#08bb00 107.5deg,#20c300 109deg,#47ce00 110deg,#b9ee00 112deg,#fffb00 113.5deg,#ffc300 115.5deg,#ffb100 117.5deg,#ffc500 121.5deg,#fcfe00 128deg,#86e100 138deg,#13bf00 146.5deg,#00bb06 149deg,#00cb3c 159deg,#00e293 189deg,#00e5b3 201deg,#00e4a3 206.5deg,#00dc70 211deg,#00c526 216deg,#00bf13 219.5deg,#00c527 224.5deg,#00e39c 239deg,#00e4a5 242deg,#00e394 243.5deg,#00d866 245deg,#01b900 247deg,#6bd900 248.5deg,#9de800 249.5deg,#c0f000 251.5deg,#c4f100 254.5deg,#8fe400 262.5deg,#00b901 276deg,#00cf48 288.5deg,#00e394 303.5deg,#01e8f5 318deg,#3088fd 336deg,#347ffd 342.5deg,#1eadfa 356deg,#1bb2f9 360deg)"></i>
<i style="width:280.2px;height:280.2px;margin:-140.1px;background:conic-gradient(from 90deg,#1bb3f9 0deg,#15bef8 8.5deg,#09d8f6 10.5deg,#03e5f5 11deg,#00eae9 11.5deg,#00e397 13deg,#00bf14 15deg,#0bbc00 15.5deg,#4acf00 16.5deg,#83e000 18deg,#9ae700 19.5deg,#9ae700 24.5deg,#76dc00 30.5deg,#00b901 41.5deg,#00e39b 58.5deg,#02e8f5 70deg,#09d7f7 74.5deg,#01eaf5 76deg,#00e8d0 77deg,#00e291 78deg,#00c018 79.5deg,#15bf00 80deg,#71db00 81deg,#95e600 81.5deg,#bdef00 83deg,#c8f200 85deg,#9ce700 92deg,#0ebd00 104deg,#06bb00 106.5deg,#1cc100 108deg,#41cc00 109deg,#b3ed00 111deg,#ffff00 112.5deg,#ffc500 114.5deg,#ffb100 116.5deg,#ffbf00 120deg,#fdff00 127deg,#87e100 137deg,#13bf00 145.5deg,#00ba02 147.5deg,#00cb3a 157.5deg,#00e393 188deg,#00e5b4 200deg,#00e4a6 205deg,#00dd76 209.5deg,#00c424 215deg,#00bf13 218.5deg,#00c527 223.5deg,#00e39e 238deg,#00e4a6 241deg,#00e394 242.5deg,#00d865 244deg,#03ba00 246deg,#6dda00 247.5deg,#9ee800 248.5deg,#c1f000 250.5deg,#c4f100 253.5deg,#8fe400 261.5deg,#00b901 275deg,#00cf49 287.5deg,#00e395 302.5deg,#02e6f5 317deg,#3088fd 334.5deg,#347ffd 341deg,#1eadfa 354.5deg,#1bb3f9 360deg)"></i>
<i style="width:277.4px;height:277.4px;margin:-138.7px;background:conic-gradient(from 90deg,#1ab4f9 0deg,#16bef8 7deg,#0ad5f7 9deg,#00eaef 10deg,#00e4a2 11.5deg,#00cd40 13deg,#00ba03 14deg,#58d300 15.5deg,#89e200 17deg,#9de800 19deg,#95e600 25deg,#52d200 33deg,#00ba03 40.5deg,#00e39a 57deg,#00eaf5 68deg,#0ad5f7 73deg,#00ebf0 75deg,#00e7c2 76deg,#00df7d 77deg,#00ba02 78.5deg,#5fd500 79.5deg,#86e100 80deg,#a0e800 80.5deg,#c2f000 82deg,#c7f200 84.5deg,#91e400 92deg,#0cbd00 103deg,#04ba00 105.5deg,#1cc200 107deg,#43cd00 108deg,#b6ee00 110deg,#fffc00 111.5deg,#ffcd00 113deg,#ffb100 115deg,#ffb700 118deg,#fdff00 126deg,#84e100 136deg,#10be00 144.5deg,#00ba04 146.5deg,#00cb3a 156deg,#00e293 186.5deg,#00e5b4 198.5deg,#00e4a4 204deg,#00dc71 208.5deg,#00c321 214deg,#00bf12 217.5deg,#00c72d 223deg,#00e39d 236.5deg,#00e4a8 239.5deg,#00e39a 241deg,#00dc71 242.5deg,#00bd0e 244.5deg,#14bf00 245deg,#7bde00 246.5deg,#95e600 247deg,#b8ee00 248.5deg,#c8f200 251deg,#a6ea00 257.5deg,#77dd00 262.5deg,#00ba03 274deg,#00d04a 286.5deg,#00e394 301deg,#01e9f5 315deg,#3087fd 333deg,#347ffd 339.5deg,#1eadfa 352.5deg,#1ab4f9 360deg)"></i>
<i style="width:274.6px;height:274.6px;margin:-137.3px;background:conic-gradient(from 90deg,#1ab5f9 0deg,#14c0f8 6deg,#07ddf6 8deg,#00eaf5 8.5deg,#00e5ad 10deg,#00d14d 11.5deg,#00be0f 12.5deg,#11be00 13deg,#64d700 14.5deg,#8fe400 16deg,#9fe800 18.5deg,#92e500 24.5deg,#4bd000 32.5deg,#00b901 39deg,#00e399 55.5deg,#00eaf5 66.5deg,#0bd4f7 71.5deg,#06def6 73deg,#01e8f5 73.5deg,#00e8d1 74.5deg,#00e290 75.5deg,#00c016 77deg,#18c000 77.5deg,#74dc00 78.5deg,#97e600 79deg,#bff000 80.5deg,#caf200 82.5deg,#a2e900 89deg,#6fda00 93.5deg,#0abc00 102deg,#03ba00 104.5deg,#1dc200 106deg,#44cd00 107deg,#b9ee00 109deg,#edfb00 110deg,#fffa00 110.5deg,#ffcb00 112deg,#ffb000 114deg,#ffb700 117deg,#fdfe00 125deg,#82e000 135deg,#13bf00 143deg,#00ba02 145deg,#00cb39 154.5deg,#00e394 185.5deg,#00e5b4 197deg,#00e4a5 202.5deg,#00dd74 207deg,#00c423 212.5deg,#00be12 216deg,#00c527 221deg,#00e39d 235deg,#00e4a8 238.5deg,#00e397 240deg,#00d969 241.5deg,#00ba02 243.5deg,#87e100 245.5deg,#a9eb00 246.5deg,#c5f100 248.5deg,#c2f100 252deg,#8ce300 259.5deg,#00b901 272.5deg,#00cf47 284.5deg,#00e290 299deg,#01e9f5 313.5deg,#3088fd 331deg,#347ffd 337.5deg,#1eadfa 351deg,#1ab5f9 360deg)"></i>
<i style="width:271.8px;height:271.8px;margin:-135.9px;background:conic-gradient(from 90deg,#1ab6f9 0deg,#14c1f8 5deg,#06dff6 7deg,#00ebf2 7.5deg,#00e4a8 9deg,#00c629 11deg,#00bc0b 11.5deg,#15bf00 12deg,#66d800 13.5deg,#90e400 15deg,#9fe800 17.5deg,#92e500 23.5deg,#4cd000 31.5deg,#00b901 38deg,#00e39b 54.5deg,#01e9f5 65.5deg,#0cd3f7 70.5deg,#06def6 72deg,#01e8f5 72.5deg,#00e8cf 73.5deg,#00e28e 74.5deg,#00bf13 76deg,#1cc100 76.5deg,#77dd00 77.5deg,#99e700 78deg,#c0f000 79.5deg,#cbf300 81.5deg,#a3e900 88deg,#6fda00 92.5deg,#09bc00 101deg,#01b900 103.5deg,#18c000 105deg,#3dcb00 106deg,#b2ed00 108deg,#ffff00 109.5deg,#ffce00 111deg,#ffb000 113deg,#ffb500 116deg,#ffff00 124deg,#83e000 134deg,#13bf00 142deg,#00ba02 144deg,#00cb39 153.5deg,#00e293 184deg,#00e5b4 196deg,#00e4a4 201.5deg,#00dc73 206deg,#00c322 211.5deg,#00be11 215deg,#00c527 220deg,#00e39e 234deg,#00e4a9 237.5deg,#00e398 239deg,#00d969 240.5deg,#00ba02 242.5deg,#87e100 244.5deg,#a9eb00 245.5deg,#c5f100 247.5deg,#c3f100 251deg,#8de300 258.5deg,#00b901 271.5deg,#00cf47 283.5deg,#00e291 298deg,#02e7f5 312.5deg,#2f88fd 329.5deg,#347efd 336deg,#1eadfa 349.5deg,#1ab6f9 360deg)"></i>
<i style="width:269px;height:269px;margin:-134.5px;background:conic-gradient(from 90deg,#19b7f9 0deg,#13c4f8 4deg,#02e8f5 6deg,#00e8cf 7deg,#00de77 8.5deg,#00c119 10deg,#05ba00 10.5deg,#5bd400 12deg,#8be300 13.5deg,#9ee800 15.5deg,#97e600 21.5deg,#60d600 28.5deg,#00ba03 37deg,#00e39a 53deg,#01e9f5 64deg,#0cd2f7 69.5deg,#05e1f6 71deg,#00ebf2 71.5deg,#00e7c3 72.5deg,#00df7c 73.5deg,#00b901 75deg,#61d600 76deg,#89e200 76.5deg,#b1ec00 77.5deg,#c9f200 79deg,#c6f200 82deg,#8fe400 89deg,#0cbd00 99.5deg,#00b901 102deg,#0cbc00 103.5deg,#28c500 104.5deg,#59d400 105.5deg,#9be700 106.5deg,#fffd00 108.5deg,#ffcc00 110deg,#ffaf00 112deg,#ffb400 115deg,#ffff00 123deg,#81e000 133deg,#11be00 141deg,#00ba04 143deg,#00cb3a 152.5deg,#00e292 182.5deg,#00e5b4 194.5deg,#00e4a5 200deg,#00dd76 204.5deg,#00c31f 210.5deg,#00be11 214deg,#00c72d 219.5deg,#00e39d 232.5deg,#00e5ab 236deg,#00e39e 237.5deg,#00dd76 239deg,#00c830 240.5deg,#00bf14 241deg,#0cbd00 241.5deg,#75dc00 243deg,#91e400 243.5deg,#b7ee00 245deg,#caf200 247.5deg,#b0ec00 253deg,#86e100 258deg,#00ba02 270.5deg,#00cf49 282.5deg,#00e290 296.5deg,#02e7f5 311deg,#3088fd 328deg,#347efd 334.5deg,#1eadfa 348deg,#19b7f9 360deg)"></i>
<i style="width:266.2px;height:266.2px;margin:-133.1px;background:conic-gradient(from 90deg,#18b8f9 0deg,#0fcbf7 3.5deg,#00eaf5 5deg,#00e5b1 6.5deg,#00d354 8deg,#00c016 9deg,#07bb00 9.5deg,#5dd500 11deg,#8be300 12.5deg,#9ee800 14.5deg,#97e600 20.5deg,#61d600 27.5deg,#00ba02 36deg,#00e39b 52deg,#00eaf5 62.5deg,#0dd0f7 68deg,#09d8f6 69.5deg,#00ebf2 70.5deg,#00e7c3 71.5deg,#00df7b 72.5deg,#01b900 74deg,#63d700 75deg,#8ae200 75.5deg,#b2ed00 76.5deg,#c9f200 78deg,#c7f200 81deg,#8ae200 88.5deg,#07bb00 99deg,#00ba02 101.5deg,#12be00 103deg,#35c900 104deg,#6eda00 105deg,#aceb00 106deg,#fbfe00 107.5deg,#ffc400 109.5deg,#ffad00 111.5deg,#ffba00 115deg,#fafe00 122.5deg,#83e000 132deg,#11be00 140deg,#00ba04 142deg,#00cb3a 151.5deg,#00e291 181deg,#00e5b4 193deg,#00e4a8 198.5deg,#00df7c 203deg,#00c21f 209.5deg,#00be10 213deg,#00c72d 218.5deg,#00e39e 231.5deg,#00e5ac 235deg,#00e49f 236.5deg,#00de77 238deg,#00c831 239.5deg,#00bf15 240deg,#0abc00 240.5deg,#73dc00 242deg,#90e400 242.5deg,#b7ee00 244deg,#caf200 246.5deg,#b1ec00 252deg,#82e000 257.5deg,#00ba02 269.5deg,#00cf49 281.5deg,#00e290 295.5deg,#01e9f5 309.5deg,#3088fd 326.5deg,#347efd 333deg,#1eadfa 346.5deg,#18b8f9 360deg)"></i>
<i style="width:263.4px;height:263.4px;margin:-131.7px;background:conic-gradient(from 90deg,#17bcf9 0deg,#0dd0f7 2.5deg,#03e4f6 3.5deg,#00eaec 4deg,#00e4a2 5.5deg,#00ce45 7deg,#00bc09 8deg,#36c900 9deg,#77dd00 10.5deg,#97e600 12deg,#a0e800 16deg,#8ce300 21.5deg,#3ecc00 29.5deg,#00ba04 35deg,#00e39e 51deg,#02e7f5 61.5deg,#0ecff7 67deg,#08daf6 68.5deg,#00eaeb 69.5deg,#00e6b6 70.5deg,#00da6b 71.5deg,#00c017 72.5deg,#17c000 73deg,#74dc00 74deg,#97e600 74.5deg,#c1f000 76deg,#cef300 78deg,#afec00 83.5deg,#89e200 87.5deg,#0abc00 97.5deg,#00ba04 100deg,#07bb00 101.5deg,#35c900 103deg,#6eda00 104deg,#adeb00 105deg,#fcfe00 106.5deg,#ffc300 108.5deg,#ffac00 110.5deg,#ffb900 114deg,#fbfe00 121.5deg,#81e000 131deg,#10be00 139deg,#00bb05 141deg,#00cb3b 150.5deg,#00e290 179.5deg,#00e5b5 192deg,#00e4a6 197.5deg,#00de79 202deg,#00c321 208deg,#00be10 211.5deg,#00c527 216.5deg,#00e39d 230deg,#00e5ae 233.5deg,#00e39d 235.5deg,#00dc71 237deg,#00bd0c 239deg,#16c000 239.5deg,#7dde00 241deg,#97e600 241.5deg,#baef00 243deg,#cbf300 245.5deg,#b1ec00 251deg,#86e100 256deg,#01b900 268deg,#00cf48 280deg,#00e28f 294deg,#02e6f5 308.5deg,#3087fd 325deg,#347efd 331.5deg,#1eadfa 345deg,#17bcf9 360deg)"></i>
<i style="width:260.6px;height:260.6px;margin:-130.3px;background:conic-gradient(from 90deg,#13c3f8 0deg,#06dff6 2deg,#00ebf4 2.5deg,#00e5b0 4deg,#00d355 5.5deg,#04ba00 7deg,#59d400 8.5deg,#89e200 10deg,#9ee800 12deg,#99e700 18deg,#69d800 24.5deg,#00b901 33.5deg,#00e39c 49.5deg,#02e8f5 60deg,#0ecdf7 65.5deg,#07ddf6 67.5deg,#01e9f5 68deg,#00e7c9 69deg,#00e183 70deg,#00bb08 71.5deg,#5ad400 72.5deg,#83e000 73deg,#9fe800 73.5deg,#c4f100 75deg,#cff400 77deg,#abeb00 83deg,#81e000 87deg,#08bb00 96.5deg,#00bb05 99deg,#05bb00 100.5deg,#34c900 102deg,#6dda00 103deg,#aceb00 104deg,#fcfe00 105.5deg,#ffc200 107.5deg,#ffab00 109.5deg,#ffb800 113deg,#fbfe00 120.5deg,#89e200 129.5deg,#1ac100 137deg,#00ba02 139.5deg,#00ca38 148.5deg,#00e291 178.5deg,#00e5b5 190.5deg,#00e4a7 196deg,#00df7c 200.5deg,#00c21e 207deg,#00be0f 210.5deg,#00c528 215.5deg,#00e39c 228.5deg,#00e5af 232.5deg,#00e39a 234.5deg,#00da6b 236deg,#00ba03 238deg,#85e100 240deg,#a9eb00 241deg,#c7f200 243deg,#c6f200 246.5deg,#8ce300 254.5deg,#00b901 267deg,#00cf46 278.5deg,#00e28e 292.5deg,#02e7f5 307deg,#3087fd 323.5deg,#347efd 330deg,#1eacfa 343deg,#15bff8 359.5deg,#13c3f8 360deg)"></i>
<i style="width:257.8px;height:257.8px;margin:-128.9px;background:conic-gradient(from 90deg,#0ecef7 0deg,#00ebf2 1.5deg,#00e5af 3deg,#00d354 4.5deg,#04ba00 6deg,#59d400 7.5deg,#89e200 9deg,#9ee800 11deg,#99e700 17deg,#6fda00 23deg,#00b900 32.5deg,#00e39d 48.5deg,#01eaf5 58.5deg,#0fccf7 64.5deg,#07dcf6 66.5deg,#01e8f5 67deg,#00e7ca 68deg,#00e185 69deg,#00bc09 70.5deg,#58d400 71.5deg,#81e000 72deg,#9ee800 72.5deg,#c4f100 74deg,#d0f400 76deg,#b0ec00 81.5deg,#89e200 85.5deg,#08bb00 95.5deg,#00bb06 98deg,#01b900 99.5deg,#2bc600 101deg,#61d600 102deg,#beef00 103.5deg,#f3fc00 104.5deg,#fff400 105deg,#ffc500 106.5deg,#ffab00 108.5deg,#ffb200 111.5deg,#fdff00 119.5deg,#82e000 129deg,#14bf00 136.5deg,#00ba02 138.5deg,#00ca38 147.5deg,#00e292 177.5deg,#00e5b5 189.5deg,#00e4a7 195deg,#00df7c 199.5deg,#00c21e 206deg,#00be0f 209.5deg,#00c528 214.5deg,#00e39c 227.5deg,#00e5b0 231.5deg,#00e39c 233.5deg,#00db6d 235deg,#00bb06 237deg,#82e000 239deg,#a8ea00 240deg,#c7f200 242deg,#c9f200 245deg,#8de300 253.5deg,#00b900 266deg,#00cf46 277.5deg,#00e28e 291.5deg,#01e9f5 305.5deg,#3087fd 322deg,#357dfd 328.5deg,#1eadfa 342deg,#15c0f8 358.5deg,#0ecef7 360deg)"></i>
<i style="width:255px;height:255px;margin:-127.5px;background:conic-gradient(from 90deg,#02e6f5 0deg,#00e8d5 1deg,#00d866 3deg,#00bd0e 4.5deg,#11be00 5deg,#60d600 6.5deg,#8ce300 8deg,#9fe800 10deg,#99e700 16deg,#6fda00 22deg,#00b901 31.5deg,#00e39b 47deg,#00eaf5 57deg,#0fcbf7 63.5deg,#0ad6f7 65deg,#00ebf3 66deg,#00e6c0 67deg,#00de77 68deg,#06bb00 69.5deg,#67d800 70.5deg,#8de300 71deg,#b4ed00 72deg,#ccf300 73.5deg,#ccf300 76.5deg,#90e400 84deg,#07bb00 94.5deg,#00ba05 98deg,#09bc00 99deg,#29c500 100deg,#5fd600 101deg,#bcef00 102.5deg,#f2fc00 103.5deg,#fff500 104deg,#ffc500 105.5deg,#ffaa00 107.5deg,#ffb100 110.5deg,#feff00 118.5deg,#81e000 128deg,#13bf00 135.5deg,#00ba03 137.5deg,#00cb39 146.5deg,#00e291 176deg,#00e5b5 188deg,#00e4a9 193.5deg,#00e07f 198deg,#00c21c 205deg,#00bd0f 208.5deg,#00c72d 214deg,#00e49f 226.5deg,#00e5b1 230.5deg,#00e4a3 232deg,#00df7c 233.5deg,#00ca37 235deg,#01b900 236deg,#6cd900 237.5deg,#9ee800 238.5deg,#c4f100 240.5deg,#cbf300 243.5deg,#93e500 252deg,#00b901 265deg,#00cf47 276.5deg,#00e28d 290deg,#01e9f5 304deg,#3087fd 320.5deg,#357dfd 327deg,#1eacfa 340deg,#15bff8 357deg,#08dbf6 359.5deg,#02e6f5 360deg)"></i>
<i style="width:252.2px;height:252.2px;margin:-126.1px;background:conic-gradient(from 90deg,#00e8d4 0deg,#00d967 2deg,#00bd0f 3.5deg,#0fbe00 4deg,#5fd500 5.5deg,#8be300 7deg,#9ee800 9deg,#9ae700 15deg,#70db00 21deg,#00b901 30.5deg,#00e39c 46deg,#01e9f5 56deg,#10cbf8 62.5deg,#0bd5f7 64deg,#00ebf4 65deg,#00e7c2 66deg,#00df7a 67deg,#02ba00 68.5deg,#63d700 69.5deg,#8ae300 70deg,#b3ed00 71deg,#ccf300 72.5deg,#cdf300 75.5deg,#92e500 83deg,#07bb00 93.5deg,#00bb08 96.5deg,#04ba00 98deg,#21c300 99deg,#52d200 100deg,#98e600 101deg,#fffc00 103deg,#ffca00 104.5deg,#ffaa00 106.5deg,#ffaf00 109.5deg,#fafe00 118deg,#83e000 127deg,#14bf00 134.5deg,#00ba03 136.5deg,#00cb39 145.5deg,#00e291 175deg,#00e5b5 187deg,#00e4a9 192.5deg,#00e07f 197deg,#00c21c 204deg,#00bd0e 207.5deg,#00c529 212.5deg,#00e39b 225deg,#00e5b2 229deg,#00e4a5 231deg,#00e07e 232.5deg,#00cb3b 234deg,#00ba03 235deg,#85e100 237deg,#a9eb00 238deg,#c8f200 240deg,#cbf300 243deg,#8ee400 251.5deg,#00b901 264deg,#00ce45 275deg,#00e28d 289deg,#01e8f5 303deg,#3087fd 319deg,#357dfe 325.5deg,#1eacfa 339deg,#15c0f8 356deg,#07dcf6 358.5deg,#02e7f5 359deg,#00e8d4 360deg)"></i>
<i style="width:249.4px;height:249.4px;margin:-124.7px;background:conic-gradient(from 90deg,#00e397 0deg,#00bb06 2.5deg,#64d700 4.5deg,#8ee400 6deg,#a0e800 8.5deg,#97e600 15deg,#5bd400 22deg,#00ba02 29.5deg,#00e399 44.5deg,#00eaf5 54.5deg,#10c9f8 61deg,#0ad7f7 63deg,#00eaee 64deg,#00e6b9 65deg,#00ce45 66.5deg,#00c21c 67deg,#11be00 67.5deg,#6fda00 68.5deg,#94e500 69deg,#c1f000 70.5deg,#d2f400 72.5deg,#bdef00 77deg,#8ae300 82.5deg,#06bb00 92.5deg,#00bb08 96deg,#02ba00 97deg,#1ec200 98deg,#4fd100 99deg,#95e600 100deg,#fffe00 102deg,#ffca00 103.5deg,#ffae00 105deg,#ffa800 107.5deg,#ffdc00 113.5deg,#fbfe00 117deg,#83e000 126deg,#12bf00 133.5deg,#00ba04 135.5deg,#00cb3a 144.5deg,#00e290 173.5deg,#00e5b5 185.5deg,#00e4aa 191deg,#00df7d 196deg,#00c11a 203deg,#00bd0e 206.5deg,#00c72e 212deg,#00e39e 224deg,#00e5b3 228deg,#00e4a4 230deg,#00df7a 231.5deg,#00c11a 233.5deg,#04ba00 234deg,#6dda00 235.5deg,#9ee800 236.5deg,#c5f100 238.5deg,#cdf300 241.5deg,#94e500 250deg,#00ba02 263deg,#00ce46 274deg,#00e28b 287.5deg,#01e9f5 301.5deg,#3087fd 317.5deg,#357dfe 324deg,#1eacfa 337.5deg,#15bff8 354.5deg,#0ad7f7 357deg,#00ebf2 358deg,#00e5b2 359.5deg,#00e397 360deg)"></i>
<i style="width:246.6px;height:246.6px;margin:-123.3px;background:conic-gradient(from 90deg,#00d252 0deg,#02ba00 1.5deg,#55d300 3deg,#86e100 4.5deg,#9be700 6deg,#9fe800 11deg,#8ae200 16deg,#3dcb00 23.5deg,#00ba03 28.5deg,#00e39c 43.5deg,#02e8f5 53.5deg,#11c8f8 60deg,#09d9f6 62deg,#03e5f5 62.5deg,#00eae8 63deg,#00e5b0 64deg,#00d864 65deg,#00be11 66deg,#1ec200 66.5deg,#78dd00 67.5deg,#99e700 68deg,#c3f100 69.5deg,#d3f400 71.5deg,#beef00 76deg,#8ae200 81.5deg,#05ba00 91.5deg,#00bc09 95deg,#00b900 96deg,#1bc100 97deg,#4bd000 98deg,#adeb00 99.5deg,#feff00 101deg,#ffbf00 103deg,#ffa700 105deg,#ffaf00 108deg,#fcfe00 116deg,#82e000 125deg,#18c000 132deg,#00ba05 134.5deg,#00cb3a 143.5deg,#00e28f 172deg,#00e5b6 184.5deg,#00e4a9 190deg,#00df7b 195deg,#00c21d 201.5deg,#00bd0d 205deg,#00c526 210deg,#00e39c 222.5deg,#00e5b4 226.5deg,#00e5aa 228.5deg,#00e289 230deg,#00d04a 231.5deg,#00bf14 232.5deg,#0abc00 233deg,#72db00 234.5deg,#8fe400 235deg,#b8ee00 236.5deg,#cdf300 238.5deg,#c4f100 242.5deg,#88e200 250deg,#00ba03 262deg,#00cf47 273deg,#00e28d 286.5deg,#02e7f5 300.5deg,#3087fd 316deg,#357cfe 322deg,#1eacfa 336deg,#15c0f8 353.5deg,#07dbf6 356deg,#00eaeb 357deg,#00e4a8 358.5deg,#00d252 360deg)"></i>
<i style="width:243.8px;height:243.8px;margin:-121.9px;background:conic-gradient(from 90deg,#00c11b 0deg,#00b901 0.5deg,#52d200 2deg,#84e100 3.5deg,#9ae700 5deg,#a1e900 9.5deg,#8be300 15deg,#3fcc00 22.5deg,#00ba02 27.5deg,#00e39c 42.5deg,#00eaf5 52deg,#11c8f8 58.5deg,#0dd0f7 60.5deg,#04e3f6 61.5deg,#00eaeb 62deg,#00e5b4 63deg,#00d969 64deg,#00c017 65deg,#17c000 65.5deg,#72db00 66.5deg,#96e600 67deg,#c2f000 68.5deg,#d3f500 70.5deg,#bff000 75deg,#8de300 80.5deg,#06bb00 90.5deg,#00bc0b 94deg,#04ba00 95.5deg,#26c400 96.5deg,#5cd500 97.5deg,#bcef00 99deg,#f3fc00 100deg,#fff400 100.5deg,#ffc300 102deg,#ffa700 104deg,#ffad00 107deg,#ffff00 115deg,#85e100 124deg,#19c000 131deg,#00ba04 133.5deg,#00ca38 142deg,#00e28f 171deg,#00e6b6 183.5deg,#00e4a9 189deg,#00df7b 194deg,#00c119 201deg,#00bd0d 204.5deg,#00c72e 210deg,#00e39c 221.5deg,#00e5b5 226deg,#00e4a5 228deg,#00df7b 229.5deg,#00c11a 231.5deg,#03ba00 232deg,#6cd900 233.5deg,#9ee800 234.5deg,#c5f100 236.5deg,#cef300 239.5deg,#9ae700 247.5deg,#00ba02 261deg,#00cf46 272deg,#00e28d 285.5deg,#01e9f5 299deg,#3186fd 315deg,#357cfe 321deg,#1eacfa 334.5deg,#14c0f8 352.5deg,#07dcf6 355deg,#00eaeb 356deg,#00e4a9 357.5deg,#00ca37 359.5deg,#00c11b 360deg)"></i>
<i style="width:241px;height:241px;margin:-120.5px;background:conic-gradient(from 90deg,#25c400 0deg,#6ad900 1.5deg,#90e400 3deg,#a2e900 6deg,#92e500 13deg,#51d100 20deg,#00ba02 26.5deg,#00e39f 41.5deg,#02e8f5 51deg,#11c7f8 57.5deg,#0cd1f7 59.5deg,#02e7f5 60.5deg,#00eae6 61deg,#00e5ac 62deg,#00d760 63deg,#00bd0e 64deg,#21c300 64.5deg,#7ade00 65.5deg,#9ae700 66deg,#c4f100 67.5deg,#d4f500 69.5deg,#c0f000 74deg,#8de300 79.5deg,#05ba00 89.5deg,#00bd0c 93deg,#02ba00 94.5deg,#22c300 95.5deg,#57d300 96.5deg,#9de800 97.5deg,#effb00 99deg,#fff700 99.5deg,#ffc500 101deg,#ffa600 103deg,#ffac00 106deg,#fafe00 114.5deg,#85e100 123deg,#18c000 130deg,#00ba05 132.5deg,#00ca39 141deg,#00e28e 169.5deg,#00e6b6 182deg,#00e5ab 187.5deg,#00e07f 192.5deg,#00c21c 199.5deg,#00bd0c 203deg,#00c526 208deg,#00e39e 220.5deg,#00e6b6 224.5deg,#00e5ac 226.5deg,#00e28a 228deg,#00d04c 229.5deg,#07bb00 231deg,#6fda00 232.5deg,#9fe800 233.5deg,#c6f100 235.5deg,#cff400 238.5deg,#9ae700 246.5deg,#00ba02 260deg,#00ce45 270.5deg,#00e28b 284deg,#02e7f5 298deg,#3186fd 313.5deg,#357cfe 319.5deg,#1eacfa 333deg,#15bff8 351deg,#0ad7f7 353.5deg,#00ebf5 354.5deg,#00e6ba 356deg,#00d969 357.5deg,#00bf15 359deg,#06bb00 359.5deg,#25c400 360deg)"></i>
<i style="width:238.2px;height:238.2px;margin:-119.1px;background:conic-gradient(from 90deg,#53d200 0deg,#84e100 1.5deg,#9ae700 3deg,#a1e900 7.5deg,#8de300 13deg,#47ce00 20deg,#00b901 25.5deg,#00e39f 40.5deg,#00ebf5 49.5deg,#12c6f8 56.5deg,#0dd0f7 58.5deg,#03e4f6 59.5deg,#00eae9 60deg,#00e5b1 61deg,#00d967 62deg,#00c016 63deg,#17c000 63.5deg,#72db00 64.5deg,#96e600 65deg,#c2f000 66.5deg,#d5f500 68.5deg,#c5f100 72.5deg,#89e200 79deg,#01b900 89deg,#00bd0c 92.5deg,#07bb00 94deg,#2dc600 95deg,#68d800 96deg,#aaeb00 97deg,#fdfe00 98.5deg,#ffbe00 100.5deg,#ffa400 102.5deg,#ffad00 105.5deg,#feff00 113.5deg,#80df00 122.5deg,#13bf00 129.5deg,#00ba04 131.5deg,#00ca39 140deg,#00e28e 168.5deg,#00e6b6 181deg,#00e5ab 186.5deg,#00e080 191.5deg,#00c018 199deg,#00bd0c 202.5deg,#00c72e 208deg,#00e39e 219.5deg,#00e6b7 223.5deg,#00e5ae 225.5deg,#00e28e 227deg,#00d251 228.5deg,#00b901 230deg,#85e100 232deg,#a9eb00 233deg,#caf200 235deg,#cef300 238deg,#93e500 246.5deg,#00b902 259deg,#00ce44 269.5deg,#00e28b 283deg,#02e6f5 297deg,#3087fd 312deg,#367bfe 318deg,#1eacfa 332deg,#15c0f8 350deg,#0ad7f7 352.5deg,#00ebf5 353.5deg,#00e6bc 355deg,#00da6c 356.5deg,#01b900 358.5deg,#53d200 360deg)"></i>
<i style="width:235.4px;height:235.4px;margin:-117.7px;background:conic-gradient(from 90deg,#78dd00 0deg,#97e600 1.5deg,#a3e900 5.5deg,#8de300 12deg,#47ce00 19deg,#00ba02 24.5deg,#00e39c 39deg,#01e8f5 48.5deg,#12c5f8 55deg,#0fcbf7 57deg,#02e7f5 58.5deg,#00e7cb 59.5deg,#00e187 60.5deg,#00be0f 62deg,#1fc200 62.5deg,#77dd00 63.5deg,#98e700 64deg,#c3f100 65.5deg,#d5f500 67.5deg,#c6f100 71.5deg,#89e200 78deg,#00b900 88deg,#00bd0d 91.5deg,#04ba00 93deg,#28c500 94deg,#61d600 95deg,#c1f000 96.5deg,#f8fd00 97.5deg,#ffcd00 99deg,#ffad00 100.5deg,#ffa200 102.5deg,#ffbc00 106.5deg,#ffff00 112.5deg,#80df00 121.5deg,#13bf00 128.5deg,#00ba04 130.5deg,#00cb39 139deg,#00e28f 167.5deg,#00e6b6 180deg,#00e4aa 185.5deg,#00e07e 190.5deg,#00c016 198deg,#00bd0c 201.5deg,#00c72f 207deg,#00e4a0 218.5deg,#00e6b8 222.5deg,#00e5ae 224.5deg,#00e28c 226deg,#00d14f 227.5deg,#01b900 229deg,#69d900 230.5deg,#9ce700 231.5deg,#c5f100 233.5deg,#d1f400 236deg,#b4ed00 241.5deg,#87e100 246.5deg,#00ba02 258deg,#00ce45 268.5deg,#00e288 281.5deg,#02e8f5 295.5deg,#3087fd 310.5deg,#367bfe 316.5deg,#1eacfa 330.5deg,#15bef8 348.5deg,#08daf6 351.5deg,#00ebf0 352.5deg,#00e5b5 354deg,#00d866 355.5deg,#00bf13 357deg,#07bb00 357.5deg,#56d300 359deg,#78dd00 360deg)"></i>
<i style="width:232.6px;height:232.6px;margin:-116.3px;background:conic-gradient(from 90deg,#90e400 0deg,#a3e900 3deg,#95e600 10deg,#59d400 16.5deg,#00ba02 23.5deg,#00e39d 38deg,#01eaf5 47deg,#13c4f8 54deg,#0fccf7 56deg,#00eaf5 57.5deg,#00e7c6 58.5deg,#00e181 59.5deg,#00bc0a 61deg,#25c400 61.5deg,#7bde00 62.5deg,#9ae700 63deg,#c4f100 64.5deg,#d6f500 66.5deg,#c7f200 70.5deg,#8ae200 77deg,#05ba00 86.5deg,#00bd0e 90.5deg,#00b900 92deg,#22c300 93deg,#59d400 94deg,#9fe800 95deg,#f2fc00 96.5deg,#fff400 97deg,#ffc200 98.5deg,#ffa400 100.5deg,#ffa900 103.5deg,#fafe00 112deg,#81e000 120.5deg,#12bf00 127.5deg,#00ba04 129.5deg,#00cb39 138deg,#00e28d 166deg,#00e6b6 178.5deg,#00e5ac 184deg,#00e183 189deg,#00c015 197deg,#00bc0b 200.5deg,#00c830 206deg,#00e39d 217deg,#00e6b9 221.5deg,#00e5ad 223.5deg,#00e28b 225deg,#00d14d 226.5deg,#03ba00 228deg,#6ad900 229.5deg,#9ce800 230.5deg,#c5f100 232.5deg,#d2f400 235deg,#b5ed00 240.5deg,#87e200 245.5deg,#00ba02 257deg,#00ce45 267.5deg,#00e289 280.5deg,#01e9f5 294deg,#3087fd 309deg,#367bfe 315deg,#1eacfa 329deg,#15bff8 347.5deg,#07ddf6 350.5deg,#00eaeb 351.5deg,#00e5af 353deg,#00d760 354.5deg,#00be0f 356deg,#0bbc00 356.5deg,#58d300 358deg,#86e100 359.5deg,#90e400 360deg)"></i>
<i style="width:229.8px;height:229.8px;margin:-114.9px;background:conic-gradient(from 90deg,#9ae700 0deg,#a2e900 4.5deg,#8ce300 10.5deg,#43cd00 17.5deg,#00b900 22.5deg,#00e39d 37deg,#01e9f5 46deg,#13c4f8 53deg,#10caf8 55deg,#02e7f5 56.5deg,#00e7cc 57.5deg,#00d763 59deg,#00bf14 60deg,#18c000 60.5deg,#71db00 61.5deg,#94e500 62deg,#c2f000 63.5deg,#d6f500 65.5deg,#c9f200 69.5deg,#8de300 76deg,#01b900 86deg,#00be10 89.5deg,#06bb00 91.5deg,#2dc600 92.5deg,#69d900 93.5deg,#aceb00 94.5deg,#ffff00 96deg,#ffbc00 98deg,#ffa200 100deg,#ffaa00 103deg,#feff00 111deg,#85e100 119.5deg,#1bc100 126deg,#00ba03 128.5deg,#00cb39 137deg,#00e28d 165deg,#00e6b6 177.5deg,#00e4aa 183.5deg,#00de78 189deg,#00c016 196deg,#00bc0b 199.5deg,#00c62a 204.5deg,#00e39d 216deg,#00e6ba 220.5deg,#00e5b0 222.5deg,#00e28f 224deg,#00d354 225.5deg,#00bb06 227deg,#7edf00 229deg,#97e600 229.5deg,#c3f100 231.5deg,#d2f400 234deg,#baef00 239deg,#8ae200 244.5deg,#00b901 256deg,#00ce45 266.5deg,#00e289 279.5deg,#01e9f5 293deg,#3186fd 308deg,#367bfe 314deg,#1fabfa 327.5deg,#15c0f8 346.5deg,#07ddf6 349.5deg,#00eaed 350.5deg,#00e5b3 352deg,#00d865 353.5deg,#04ba00 355.5deg,#53d200 357deg,#83e000 358.5deg,#9ae700 360deg)"></i>
<i style="width:227px;height:227px;margin:-113.5px;background:conic-gradient(from 90deg,#a0e800 0deg,#9de800 6deg,#80e000 11deg,#22c300 19deg,#00b900 21.5deg,#00e49f 36deg,#02e8f5 45deg,#13c3f8 51.5deg,#0fcbf7 54deg,#01e9f5 55.5deg,#00e7c8 56.5deg,#00e185 57.5deg,#00be11 59deg,#1bc100 59.5deg,#72db00 60.5deg,#95e600 61deg,#c2f000 62.5deg,#d7f500 64.5deg,#caf200 68.5deg,#8ee400 75deg,#00b900 85deg,#00be11 88.5deg,#02b900 90.5deg,#26c400 91.5deg,#60d600 92.5deg,#c0f000 94deg,#f8fd00 95deg,#ffcc00 96.5deg,#ffab00 98deg,#ffa000 100deg,#ffba00 104deg,#fffe00 110deg,#86e100 118.5deg,#1bc100 125deg,#00ba03 127.5deg,#00cb39 136deg,#00e28c 163.5deg,#00e6b7 176.5deg,#00e5ac 182deg,#00df7d 187.5deg,#00c015 195deg,#00bc0a 198.5deg,#00c62a 203.5deg,#00e49f 215deg,#00e6bb 219.5deg,#00e5b0 221.5deg,#00e28f 223deg,#00d353 224.5deg,#00bb06 226deg,#7edf00 228deg,#97e600 228.5deg,#c3f100 230.5deg,#d3f400 233deg,#bbef00 238deg,#8be300 243.5deg,#00b901 255deg,#00ce43 265deg,#00e186 278deg,#02e7f5 292deg,#3186fd 306.5deg,#367afe 312.5deg,#1fabfa 326deg,#14c1f8 345.5deg,#06dff6 348.5deg,#01e9f5 349deg,#00e7c4 350.5deg,#00d761 352.5deg,#00bf12 354deg,#07bb00 354.5deg,#54d200 356deg,#84e100 357.5deg,#9ae700 359deg,#a0e800 360deg)"></i>
<i style="width:224.2px;height:224.2px;margin:-112.1px;background:conic-gradient(from 90deg,#a2e900 0deg,#98e600 7deg,#64d700 13deg,#00ba04 21deg,#00e39e 35deg,#00ebf5 43.5deg,#13c3f8 50.5deg,#10caf8 53deg,#02e6f5 54.5deg,#00eae7 55deg,#00e28e 56.5deg,#00c21c 58deg,#0dbd00 58.5deg,#66d800 59.5deg,#8ae300 60deg,#b2ed00 61deg,#cff400 62.5deg,#d8f600 65deg,#afec00 71deg,#83e000 75deg,#02ba00 84deg,#00be11 88deg,#00ba04 89.5deg,#07bb00 90deg,#30c800 91deg,#6fda00 92deg,#96e600 92.5deg,#fffb00 94.5deg,#ffc600 96deg,#ffa800 97.5deg,#ffa000 100deg,#ffcb00 105deg,#feff00 109.5deg,#81e000 118deg,#17c000 124.5deg,#00ba02 126.5deg,#00ca37 134.5deg,#00e28d 163deg,#00e6b7 175.5deg,#00e5ac 181deg,#00e07e 186.5deg,#00c016 194deg,#00bc0a 197.5deg,#00c529 202.5deg,#00e39e 214deg,#00e6bc 218.5deg,#00e5b2 220.5deg,#00e394 222deg,#00d55b 223.5deg,#00be0f 225deg,#10be00 225.5deg,#73dc00 227deg,#a0e800 228deg,#c7f200 230deg,#d3f500 232.5deg,#b6ee00 238deg,#87e200 243deg,#00b900 254deg,#00cd42 264deg,#00e186 277deg,#02e7f5 291deg,#3185fd 305.5deg,#367afe 311.5deg,#1fabfa 325deg,#14c1f8 344.5deg,#06def6 347.5deg,#00eaeb 348.5deg,#00e5b2 350deg,#00d967 351.5deg,#00b901 353.5deg,#4ed000 355deg,#80df00 356.5deg,#99e700 358deg,#a2e900 360deg)"></i>
<i style="width:221.4px;height:221.4px;margin:-110.7px;background:conic-gradient(from 90deg,#a4e900 0deg,#93e500 7deg,#54d200 13.5deg,#00ba04 20deg,#00e39a 33.5deg,#01e9f5 42.5deg,#14c2f8 49.5deg,#10caf8 52deg,#02e8f5 53.5deg,#00e7cc 54.5deg,#00d967 56deg,#00c11b 57deg,#0dbd00 57.5deg,#66d700 58.5deg,#8ae200 59deg,#b1ed00 60deg,#cff400 61.5deg,#d9f600 64deg,#b5ed00 69.5deg,#84e100 74deg,#02ba00 83deg,#00bf12 87deg,#02ba00 89deg,#28c500 90deg,#64d700 91deg,#a8ea00 92deg,#fcfe00 93.5deg,#ffbc00 95.5deg,#ffa000 97.5deg,#ffa700 100.5deg,#fffe00 108.5deg,#8ce300 116.5deg,#1ec200 123deg,#00ba02 125.5deg,#00ca37 133.5deg,#00e28e 162deg,#00e6b7 174.5deg,#00e5ac 180deg,#00e07d 185.5deg,#00c016 193deg,#00bc09 196.5deg,#00c529 201.5deg,#00e4a0 213deg,#00e6bd 217.5deg,#00e5b3 219.5deg,#00e394 221deg,#00d55b 222.5deg,#00be10 224deg,#0ebd00 224.5deg,#8ce300 226.5deg,#b7ee00 228deg,#d2f400 230.5deg,#c9f200 234.5deg,#89e200 242deg,#01b900 253deg,#00cd43 263deg,#00e186 276deg,#01e9f5 289.5deg,#3186fd 304deg,#367afe 310deg,#1fabfa 323.5deg,#15bff8 343deg,#09d9f6 346deg,#00ebf5 347deg,#00e7c4 348.5deg,#00d865 350.5deg,#00b900 352.5deg,#4ed000 354deg,#80df00 355.5deg,#99e700 357deg,#a4e900 360deg)"></i>
<i style="width:218.6px;height:218.6px;margin:-109.3px;background:conic-gradient(from 90deg,#a4e900 0deg,#90e400 6.5deg,#4fd100 13deg,#00ba03 19deg,#00e39b 32.5deg,#02e8f5 41.5deg,#14c1f8 48.5deg,#10caf8 51deg,#01e9f5 52.5deg,#00e7ca 53.5deg,#00d866 55deg,#00c11b 56deg,#0dbd00 56.5deg,#64d700 57.5deg,#88e200 58deg,#b1ec00 59deg,#cff300 60.5deg,#daf600 63deg,#b6ee00 68.5deg,#86e100 73deg,#02ba00 82deg,#00bf14 86deg,#00ba02 88deg,#21c300 89deg,#59d400 90deg,#a0e800 91deg,#f3fc00 92.5deg,#fff300 93deg,#ffc000 94.5deg,#ffa000 96.5deg,#ffa500 99.5deg,#fbfe00 108deg,#84e100 116deg,#17c000 122.5deg,#00ba02 124.5deg,#00ca37 132.5deg,#00e28c 160.5deg,#00e6b7 173.5deg,#00e5ab 179deg,#00df7d 184.5deg,#00bf15 192deg,#00bc09 195.5deg,#00c528 200.5deg,#00e39c 211.5deg,#00e6bd 216deg,#00e5b3 218.5deg,#00e394 220deg,#00ce45 222deg,#00be11 223deg,#0cbd00 223.5deg,#8ae200 225.5deg,#abeb00 226.5deg,#ccf300 228.5deg,#d3f500 231.5deg,#9fe800 239deg,#01b900 252deg,#00ce43 262deg,#00e187 275deg,#02e7f5 288.5deg,#3284fd 303deg,#367afe 309deg,#1fabfa 322deg,#15c0f8 342deg,#08daf6 345deg,#00ebf3 346deg,#00e5ac 348deg,#00d763 349.5deg,#00b900 351.5deg,#4dd000 353deg,#7fdf00 354.5deg,#99e700 356deg,#a4e900 360deg)"></i>
<i style="width:215.8px;height:215.8px;margin:-107.9px;background:conic-gradient(from 90deg,#a3e900 0deg,#8fe400 6deg,#4bd000 12.5deg,#00b901 18deg,#00e39a 31.5deg,#02e8f5 40.5deg,#14c0f8 47.5deg,#10c9f8 50deg,#03e5f5 51.5deg,#00eae9 52deg,#00e395 53.5deg,#00ba03 55.5deg,#7ade00 57deg,#99e700 57.5deg,#c3f100 59deg,#d9f600 61deg,#d0f400 64.5deg,#8ae200 72deg,#05ba00 81deg,#00bf14 85.5deg,#02ba00 87.5deg,#29c500 88.5deg,#66d800 89.5deg,#aaeb00 90.5deg,#feff00 92deg,#ffbb00 94deg,#ff9f00 96deg,#ffa500 99deg,#fffe00 107deg,#89e200 115deg,#1ac100 121.5deg,#00b900 123.5deg,#00ca36 131.5deg,#00e28e 160deg,#00e6b7 172.5deg,#00e5ac 178deg,#00e07f 183.5deg,#00bf12 191.5deg,#00bc09 195deg,#00c62b 200deg,#00e4a0 211deg,#00e6bf 215.5deg,#00e6b6 217.5deg,#00e399 219deg,#00d14e 221deg,#00ba02 222.5deg,#7edf00 224.5deg,#97e600 225deg,#c4f100 227deg,#d5f500 229.5deg,#c2f000 234deg,#87e100 240.5deg,#00ba02 251.5deg,#00ce44 261.5deg,#00e186 274deg,#02e7f5 287.5deg,#3185fd 301.5deg,#377afe 307.5deg,#1fabfa 321deg,#15c0f8 341deg,#08d9f6 344deg,#00ebf5 345deg,#00e5b2 347deg,#00da6a 348.5deg,#00bb08 350.5deg,#2ec700 351.5deg,#6bd900 353deg,#97e600 355deg,#a4e900 359deg,#a3e900 360deg)"></i>
<i style="width:213px;height:213px;margin:-106.5px;background:conic-gradient(from 90deg,#a2e900 0deg,#8ce300 5.5deg,#46ce00 12deg,#00b900 17deg,#00e39b 30.5deg,#00eaf5 39deg,#14c1f8 46deg,#10c9f8 49deg,#02e6f5 50.5deg,#00eae8 51deg,#00e395 52.5deg,#00bb06 54.5deg,#77dd00 56deg,#97e600 56.5deg,#c2f100 58deg,#d9f600 60deg,#d2f400 63.5deg,#8ce300 71deg,#00b901 80.5deg,#00c015 84.5deg,#00ba03 86.5deg,#20c300 87.5deg,#59d400 88.5deg,#a0e800 89.5deg,#f4fc00 91deg,#fff300 91.5deg,#ffbf00 93deg,#ff9f00 95deg,#ffa300 98deg,#fcfe00 106.5deg,#8ce300 114deg,#22c300 120deg,#01b900 122.5deg,#00ca36 130.5deg,#00e28c 158.5deg,#00e6b8 171.5deg,#00e5ac 177deg,#00de78 183deg,#00be12 190.5deg,#00bc08 194deg,#00c62b 199deg,#00e39c 209.5deg,#00e6bf 214deg,#00e6b7 216.5deg,#00e39a 218deg,#00d250 220deg,#00ba05 221.5deg,#94e500 224deg,#c2f100 226deg,#d5f500 228.5deg,#c3f100 233deg,#89e200 239.5deg,#00b901 250.5deg,#00cd42 260deg,#00e186 273deg,#01eaf5 286deg,#3284fd 300.5deg,#3779fe 306deg,#1faafa 319.5deg,#14c0f8 340deg,#08dbf6 343deg,#00ebf3 344deg,#00e5b0 346deg,#00da6a 347.5deg,#00bc08 349.5deg,#2cc600 350.5deg,#6ad900 352deg,#97e600 354deg,#a4e900 358deg,#a2e900 360deg)"></i>
<i style="width:210.2px;height:210.2px;margin:-105.1px;background:conic-gradient(from 90deg,#a1e900 0deg,#8be300 5deg,#43cd00 11.5deg,#00ba04 16.5deg,#00e39a 29.5deg,#00eaf5 38deg,#15c0f8 45deg,#11c8f8 48deg,#00eaef 50deg,#00e4a1 51.5deg,#00ca38 53deg,#00bf14 53.5deg,#14bf00 54deg,#8ae200 55.5deg,#b1ec00 56.5deg,#d5f500 58.5deg,#d9f600 61.5deg,#9ce700 69deg,#02b900 79.5deg,#00c016 83.5deg,#00bc09 85.5deg,#01b900 86deg,#28c500 87deg,#65d700 88deg,#a9eb00 89deg,#fdff00 90.5deg,#ffbb00 92.5deg,#ff9e00 94.5deg,#ffa300 97.5deg,#fffd00 105.5deg,#87e200 113.5deg,#1fc200 119.5deg,#00ba02 122deg,#00ca38 130deg,#00e28c 157.5deg,#00e6b8 170.5deg,#00e5ac 176deg,#00df7a 182deg,#00bf13 189.5deg,#00bb07 193deg,#00c629 198deg,#00e4a0 209deg,#00e6c0 213.5deg,#00e5b3 216deg,#00e292 217.5deg,#00cd42 219.5deg,#00be10 220.5deg,#0dbd00 221deg,#88e200 223deg,#aaeb00 224deg,#ccf300 226deg,#d5f500 229deg,#a5ea00 236deg,#72db00 240.5deg,#01b900 249.5deg,#00ce44 259.5deg,#00e185 272deg,#01eaf5 285deg,#3186fd 299deg,#3779fe 305deg,#1fabfa 318.5deg,#15c0f8 339deg,#08d9f6 342deg,#00eaf5 343deg,#00e6b6 345deg,#00d55a 347deg,#00be11 348.5deg,#07bb00 349deg,#50d100 350.5deg,#80df00 352deg,#9ae700 353.5deg,#a4e900 358deg,#a1e900 360deg)"></i>
<i style="width:207.4px;height:207.4px;margin:-103.7px;background:conic-gradient(from 90deg,#9fe800 0deg,#88e200 4.5deg,#37c900 11.5deg,#00ba03 15.5deg,#00e39b 28.5deg,#01e9f5 37deg,#15bff8 44deg,#11c8f8 47deg,#04e2f6 48.5deg,#00eaee 49deg,#00e4a2 50.5deg,#00d65f 51.5deg,#00c018 52.5deg,#0ebd00 53deg,#84e100 54.5deg,#aeec00 55.5deg,#d4f500 57.5deg,#dcf700 60deg,#b6ee00 65.5deg,#83e000 70deg,#02ba00 78.5deg,#00c017 82.5deg,#00bd0c 84.5deg,#00ba04 85deg,#0abc00 85.5deg,#38ca00 86.5deg,#9ee800 88deg,#f2fc00 89.5deg,#fff400 90deg,#ffc000 91.5deg,#ff9e00 93.5deg,#ffa100 96.5deg,#fff400 104deg,#f5fd00 105.5deg,#80df00 113deg,#19c000 119deg,#00b902 121deg,#00ca38 129deg,#00e28c 156.5deg,#00e6b8 169.5deg,#00e5ac 175deg,#00df7b 181deg,#00bf13 188.5deg,#00bb07 192deg,#00c529 197deg,#00e39c 207.5deg,#00e6c0 212deg,#00e6ba 214.5deg,#00e394 216.5deg,#00ce45 218.5deg,#07bb00 220deg,#82e000 222deg,#a7ea00 223deg,#cbf300 225deg,#d6f500 228deg,#abeb00 234.5deg,#81e000 238.5deg,#01b900 248.5deg,#00ce44 258.5deg,#00e185 271deg,#01e9f5 284deg,#3184fd 298deg,#3779fe 303.5deg,#1faafa 317deg,#14c1f8 338deg,#08dbf6 341deg,#00ebf5 342deg,#00e5b6 344deg,#00d55b 346deg,#04ba00 348deg,#4dd000 349.5deg,#7edf00 351deg,#99e700 352.5deg,#a5ea00 356.5deg,#9fe800 360deg)"></i>
<i style="width:204.6px;height:204.6px;margin:-102.3px;background:conic-gradient(from 90deg,#9ce800 0deg,#81e000 4.5deg,#23c400 12deg,#00b902 14.5deg,#00e39b 27.5deg,#01e8f5 36deg,#15bff8 43deg,#11c8f8 46deg,#00eaee 48deg,#00e4a3 49.5deg,#00d762 50.5deg,#00c21c 51.5deg,#08bb00 52deg,#7edf00 53.5deg,#9ae700 54deg,#c4f100 55.5deg,#dbf600 57.5deg,#d4f500 61deg,#8de300 68.5deg,#03ba00 77.5deg,#00c018 82deg,#00bc08 84deg,#03ba00 84.5deg,#2cc600 85.5deg,#aeec00 87.5deg,#fffd00 89deg,#ffb800 91deg,#fe9c00 93deg,#ffa200 96deg,#fffe00 104deg,#83e000 112deg,#1ac100 118deg,#00b901 120deg,#00c935 127.5deg,#00e28c 155.5deg,#00e6b8 168.5deg,#00e5ac 174deg,#00df7b 180deg,#00bf13 187.5deg,#00bb06 191deg,#00c423 195.5deg,#00e39c 206.5deg,#00e6c1 211deg,#00e6bb 213.5deg,#00e395 215.5deg,#00cf49 217.5deg,#00b900 219deg,#7cde00 221deg,#95e600 221.5deg,#c3f100 223.5deg,#d7f500 226deg,#c8f200 230deg,#8ae200 237deg,#00ba02 248deg,#00ce43 257.5deg,#00e186 270deg,#02e8f5 283deg,#3185fd 296.5deg,#3778fe 302deg,#1fabfa 316deg,#15bff8 336.5deg,#07dbf6 340deg,#00ebf4 341deg,#00e5b6 343deg,#00d55c 345deg,#00b900 347deg,#4acf00 348.5deg,#7cde00 350deg,#98e700 351.5deg,#a5ea00 355.5deg,#9ce800 360deg)"></i>
<i style="width:201.8px;height:201.8px;margin:-100.9px;background:conic-gradient(from 90deg,#9ae700 0deg,#75dc00 5deg,#00ba04 14deg,#00e49f 27deg,#01e9f5 35deg,#15bef8 42deg,#12c6f8 45deg,#00ebf5 47deg,#00e5af 48.5deg,#00d14f 50deg,#00bc0a 51deg,#1ec200 51.5deg,#8de300 53deg,#bef000 54.5deg,#daf600 56.5deg,#d9f600 59.5deg,#99e700 67deg,#00b900 77deg,#00c118 81deg,#00bd0e 83deg,#07bb00 84deg,#34c900 85deg,#9be700 86.5deg,#eefb00 88deg,#fff700 88.5deg,#ffb500 90.5deg,#fe9b00 92.5deg,#ffa200 95.5deg,#ffff00 103.5deg,#89e200 111deg,#1ec200 117deg,#00ba03 119.5deg,#00ca37 127deg,#00e28b 154.5deg,#00e6b8 167.5deg,#00e5ad 173deg,#00df7d 179deg,#00be10 187deg,#00bb06 190.5deg,#00c62a 195.5deg,#00e4a0 206deg,#00e7c2 210.5deg,#00e6b9 213deg,#00e28d 215deg,#00cc3d 217deg,#00bd0c 218deg,#11be00 218.5deg,#88e200 220.5deg,#a9eb00 221.5deg,#cdf300 223.5deg,#d7f500 226.5deg,#abeb00 233deg,#80e000 237deg,#00b900 247deg,#00cd42 256.5deg,#00e184 269deg,#01e8f5 282deg,#3185fd 295.5deg,#3778fe 301deg,#1fabfa 315deg,#15bff8 335.5deg,#08daf6 339deg,#01e9f5 340deg,#00e6bc 342deg,#00d866 344deg,#00bc0a 346deg,#0fbd00 346.5deg,#54d200 348deg,#8de300 350deg,#a2e900 352.5deg,#9ee800 359deg,#9ae700 360deg)"></i>
<i style="width:199px;height:199px;margin:-99.5px;background:conic-gradient(from 90deg,#97e600 0deg,#64d700 5.5deg,#01b900 12.5deg,#00e39b 25.5deg,#00eaf5 33.5deg,#16bef8 40.5deg,#13c3f8 43.5deg,#00ebf0 46deg,#00e4a9 47.5deg,#00d04a 49deg,#00bb07 50deg,#6eda00 51.5deg,#8ee400 52deg,#bef000 53.5deg,#daf600 55.5deg,#daf600 58.5deg,#93e500 66.5deg,#00b900 76deg,#00c119 80deg,#00be10 82deg,#03ba00 83deg,#2ec700 84deg,#94e600 85.5deg,#fffc00 87.5deg,#ffb700 89.5deg,#fe9b00 91.5deg,#ffa000 94.5deg,#fffd00 102.5deg,#8ae200 110deg,#1dc200 116deg,#00ba04 118.5deg,#00ca37 126deg,#00e28a 153deg,#00e6b9 166.5deg,#00e5ac 172deg,#00df7c 178deg,#00be0f 186deg,#00bb06 189.5deg,#00c62b 194.5deg,#00e39d 204.5deg,#00e7c2 209deg,#00e6be 211.5deg,#00e39a 213.5deg,#00d252 215.5deg,#00bc0b 217deg,#12be00 217.5deg,#88e200 219.5deg,#a9eb00 220.5deg,#cdf300 222.5deg,#d8f600 225.5deg,#b0ec00 231.5deg,#81e000 236deg,#00b901 246deg,#00cd40 255deg,#00e182 267.5deg,#02e6f5 281deg,#3185fd 294deg,#3878fe 299.5deg,#1fabfa 313.5deg,#15bff8 334.5deg,#07ddf6 338deg,#00ebf3 339deg,#00e6b7 341deg,#00d762 343deg,#00bb07 345deg,#42cd00 346.5deg,#83e000 348.5deg,#9be700 350deg,#a5ea00 354.5deg,#97e600 360deg)"></i>
<i style="width:195px;height:195px;margin:-97.5px;background:conic-gradient(from 90deg,#90e400 0deg,#50d100 6deg,#00b901 11.5deg,#00e49f 24.5deg,#00ebf5 32deg,#16bef9 39deg,#14c1f8 42deg,#07dcf6 44deg,#01e9f5 44.5deg,#00e6b7 46deg,#00d65d 47.5deg,#06bb00 49deg,#77dd00 50.5deg,#96e600 51deg,#cbf300 53deg,#dff700 55.5deg,#cdf300 59.5deg,#8ae300 66deg,#04ba00 74.5deg,#00c11a 79deg,#00be10 81deg,#03ba00 82deg,#2ec700 83deg,#94e600 84.5deg,#fffc00 86.5deg,#ffb700 88.5deg,#fe9a00 90.5deg,#ff9f00 93.5deg,#fff600 101deg,#f1fc00 102.5deg,#89e200 109deg,#23c300 114.5deg,#00b900 117deg,#00ca36 124.5deg,#00e28b 152deg,#00e6b9 165deg,#00e5ad 170.5deg,#00de79 177deg,#00bd0d 185deg,#00bb06 188.5deg,#00c72d 193.5deg,#00e4a0 203.5deg,#00e7c4 208deg,#00e6bc 210.5deg,#00e395 212.5deg,#00d04a 214.5deg,#00ba03 216deg,#8de300 218.5deg,#b7ee00 220deg,#d6f500 222.5deg,#d2f400 226deg,#8ee400 234deg,#00ba02 245deg,#00cd42 254deg,#00e184 266.5deg,#02e7f5 279.5deg,#3284fd 292.5deg,#3877fe 298deg,#1faafa 311.5deg,#15bff8 333deg,#08dbf6 336.5deg,#01eaf5 337.5deg,#00e6bf 339.5deg,#00db6e 341.5deg,#01b900 344deg,#5cd500 346deg,#91e400 348deg,#a5e900 351deg,#99e700 358.5deg,#90e400 360deg)"></i>
<i style="width:191px;height:191px;margin:-95.5px;background:conic-gradient(from 90deg,#88e200 0deg,#3aca00 6.5deg,#00ba02 10.5deg,#00e39d 23deg,#00ebf4 30.5deg,#16bdf9 37.5deg,#13c3f8 41deg,#04e3f6 43deg,#00eaee 43.5deg,#00e5ab 45deg,#00d251 46.5deg,#00be11 47.5deg,#12be00 48deg,#7fdf00 49.5deg,#9ae700 50deg,#ccf300 52deg,#e0f800 54.5deg,#cdf300 58.5deg,#8ae200 65deg,#02ba00 73.5deg,#00c11c 78deg,#00be11 80deg,#02ba00 81deg,#2dc700 82deg,#aeec00 84deg,#fffd00 85.5deg,#ffb800 87.5deg,#fe9900 89.5deg,#ff9d00 92.5deg,#ffef00 99.5deg,#fafe00 101deg,#87e200 108deg,#21c300 113.5deg,#00ba02 116deg,#00ca37 123.5deg,#00e28a 150.5deg,#00e6b9 163.5deg,#00e5af 169deg,#00df7c 175.5deg,#00be10 183.5deg,#00ba03 186.5deg,#00c11a 190.5deg,#00e39e 202deg,#00e7c4 206.5deg,#00e6c0 209deg,#00e39e 211deg,#00d459 213deg,#03ba00 215deg,#79dd00 217deg,#a1e900 218deg,#cff400 220.5deg,#d9f600 223.5deg,#abeb00 230deg,#7fdf00 234deg,#00ba03 244deg,#00cd43 253deg,#00e182 265deg,#02e7f5 278deg,#3283fd 291deg,#3877fe 296.5deg,#1faafa 310deg,#15bff8 331.5deg,#09d9f6 335deg,#00ebf0 336.5deg,#00e4a3 339deg,#00ca38 341.5deg,#00bd0d 342.5deg,#09bc00 343deg,#61d600 345deg,#93e500 347deg,#a6ea00 350.5deg,#94e500 358.5deg,#88e200 360deg)"></i>
<i style="width:187px;height:187px;margin:-93.5px;background:conic-gradient(from 90deg,#7fdf00 0deg,#23c300 7deg,#00ba03 9.5deg,#00e39a 21.5deg,#01e8f5 29.5deg,#16bdf9 36deg,#14c1f8 39.5deg,#07ddf6 41.5deg,#01e9f5 42deg,#00e6ba 43.5deg,#00d866 45deg,#00bc0a 46.5deg,#1bc100 47deg,#84e100 48.5deg,#aceb00 49.5deg,#d5f500 51.5deg,#e1f800 54deg,#c1f000 59deg,#89e200 64deg,#00b900 72.5deg,#00c21c 76.5deg,#00be12 79deg,#01b900 80deg,#48cf00 81.5deg,#aceb00 83deg,#ffff00 84.5deg,#ffb900 86.5deg,#fe9900 88.5deg,#fe9900 91deg,#ffcc00 96deg,#fbfe00 100deg,#87e100 107deg,#20c200 112.5deg,#00ba03 115deg,#00ca38 122.5deg,#00e289 149deg,#00e6b9 162.5deg,#00e5ad 168deg,#00df7a 174.5deg,#00bd0e 182.5deg,#00ba02 185.5deg,#00c320 190deg,#00e4a1 201deg,#00e7c6 205.5deg,#00e6bf 208deg,#00e399 210deg,#00cc3d 212.5deg,#00be10 213.5deg,#0abc00 214deg,#7cde00 216deg,#a3e900 217deg,#d0f400 219.5deg,#daf600 222.5deg,#abeb00 229deg,#7fdf00 233deg,#00b900 242.5deg,#00cd41 251.5deg,#00e080 263.5deg,#01e8f5 276.5deg,#3283fd 289.5deg,#3877fe 295deg,#1faafa 308.5deg,#15c0f8 330.5deg,#07dcf6 334deg,#00ebf4 335deg,#00e5ae 337.5deg,#00d65d 339.5deg,#00bb08 341.5deg,#28c500 342.5deg,#74dc00 344.5deg,#9ae700 346.5deg,#a6ea00 350.5deg,#90e400 358deg,#7fdf00 360deg)"></i>
<i style="width:183px;height:183px;margin:-91.5px;background:conic-gradient(from 90deg,#75dc00 0deg,#00ba04 8.5deg,#00e39d 20.5deg,#01e9f5 28deg,#16bdf9 34.5deg,#15bff8 38deg,#09d8f7 40deg,#00ebf0 41deg,#00e5b1 42.5deg,#00d65d 44deg,#00ba04 45.5deg,#87e200 47.5deg,#adec00 48.5deg,#d5f500 50.5deg,#e2f800 53deg,#c6f100 57.5deg,#8ae200 63deg,#00b901 71.5deg,#00c21d 75.5deg,#00bf13 78deg,#00b901 79deg,#28c500 80deg,#c4f100 82.5deg,#fbfe00 83.5deg,#ffba00 85.5deg,#fe9900 87.5deg,#fe9700 90deg,#ffc400 94.5deg,#fdfe00 99deg,#87e100 106deg,#1ec200 111.5deg,#00ba04 114deg,#00ca36 121deg,#00e28a 148deg,#00e6b9 161deg,#00e5af 166.5deg,#00de78 173.5deg,#00bd0c 181.5deg,#00ba02 184.5deg,#00c321 189deg,#00e39e 199.5deg,#00e7c6 204deg,#00e7c3 206.5deg,#00e4a3 208.5deg,#00d762 210.5deg,#00bd0c 212.5deg,#0ebd00 213deg,#96e600 215.5deg,#cbf300 218deg,#dbf600 220.5deg,#c6f100 225deg,#86e100 231.5deg,#00b900 241.5deg,#00cc3f 250deg,#00e181 262.5deg,#01eaf5 275deg,#3282fd 288deg,#3877fe 293.5deg,#20a9fa 306.5deg,#15bff8 329deg,#05e0f6 333deg,#00eaef 334deg,#00e4a7 336.5deg,#00d457 338.5deg,#00ba03 340.5deg,#67d800 343deg,#96e600 345deg,#a6ea00 349deg,#94e600 356.5deg,#75dc00 360deg)"></i>
<i style="width:179px;height:179px;margin:-89.5px;background:conic-gradient(from 90deg,#69d900 0deg,#01b900 7deg,#00e4a0 19.5deg,#00ebf5 26.5deg,#16bdf9 33deg,#16bdf9 36.5deg,#07dcf6 39deg,#02e7f5 39.5deg,#00e8d6 40.5deg,#00dc73 42.5deg,#01b900 44.5deg,#89e200 46.5deg,#aeec00 47.5deg,#d6f500 49.5deg,#e3f800 52deg,#c6f200 56.5deg,#8ae200 62deg,#00ba02 70.5deg,#00c21e 74.5deg,#00bf14 77deg,#00ba03 78deg,#25c400 79deg,#bff000 81.5deg,#f6fd00 82.5deg,#ffdd00 83.5deg,#ffa600 85.5deg,#fd9400 87.5deg,#ffa000 90.5deg,#ffff00 98deg,#87e100 105deg,#1ec200 110.5deg,#00b900 112.5deg,#00c934 119.5deg,#00e28a 147deg,#00e6ba 160deg,#00e5ae 165.5deg,#00de77 172.5deg,#00bc0b 180.5deg,#00b901 183.5deg,#00c322 188deg,#00e39b 198deg,#00e7c8 203deg,#00e7c3 205.5deg,#00e4a0 207.5deg,#00d65e 209.5deg,#00bc09 211.5deg,#11be00 212deg,#97e600 214.5deg,#cbf300 217deg,#dcf700 219.5deg,#c6f200 224deg,#86e100 230.5deg,#00b901 240.5deg,#00cd40 249deg,#00e07e 261deg,#02e7f5 274deg,#3282fd 286.5deg,#3876fe 291.5deg,#1faafa 305.5deg,#15bef8 327.5deg,#07ddf6 331.5deg,#00ebf4 332.5deg,#00e5b2 335deg,#00d252 337.5deg,#00b900 339.5deg,#58d300 341.5deg,#8ee400 343.5deg,#a4e900 346deg,#9ee800 353deg,#85e100 357.5deg,#69d900 360deg)"></i>
<i style="width:175px;height:175px;margin:-87.5px;background:conic-gradient(from 90deg,#5dd500 0deg,#01b900 6deg,#00e39b 18deg,#01e8f5 25.5deg,#17bbf9 32deg,#16bef8 35.5deg,#05e0f6 38deg,#00ebf4 38.5deg,#00e4a2 40.5deg,#04ba00 43.5deg,#89e200 45.5deg,#aeec00 46.5deg,#d6f500 48.5deg,#e3f800 51deg,#c7f200 55.5deg,#8be300 61deg,#04ba00 69deg,#00c31f 74deg,#00c016 76deg,#00bb05 77deg,#0abc00 77.5deg,#5ad400 79deg,#9fe800 80deg,#f1fc00 81.5deg,#fff500 82deg,#ffb300 84deg,#fd9600 86deg,#fe9a00 89deg,#ffe100 95deg,#fffd00 97deg,#88e200 104deg,#25c400 109deg,#00b900 111.5deg,#00c935 118.5deg,#00e289 145.5deg,#00e6ba 159deg,#00e5ad 164.5deg,#00dd76 171.5deg,#00bc0a 179.5deg,#00b901 182.5deg,#00c322 187deg,#00e39d 197deg,#00e7c8 201.5deg,#00e7c7 204deg,#00e4aa 206deg,#00d55c 208.5deg,#00bb08 210.5deg,#2fc700 211.5deg,#96e600 213.5deg,#cbf300 216deg,#ddf700 218.5deg,#cbf300 222.5deg,#87e200 229.5deg,#00b901 239.5deg,#00cd40 248deg,#00e07f 260deg,#01e9f5 272.5deg,#3282fd 285deg,#3975fe 290deg,#1faafa 304deg,#15bff8 326.5deg,#05e0f6 330.5deg,#00ebf0 331.5deg,#00e5ad 334deg,#00d14e 336.5deg,#03ba00 338.5deg,#59d400 340.5deg,#8fe400 342.5deg,#a4e900 345deg,#9fe800 352deg,#85e100 356.5deg,#5dd500 360deg)"></i>
<i style="width:171px;height:171px;margin:-85.5px;background:conic-gradient(from 90deg,#50d100 0deg,#01b900 5deg,#00e39e 17deg,#00ebf5 24deg,#17bcf9 30.5deg,#17bcf9 34deg,#09d9f6 36.5deg,#00eaef 37.5deg,#00e39d 39.5deg,#06bb00 42.5deg,#88e200 44.5deg,#adeb00 45.5deg,#d6f500 47.5deg,#e4f900 50deg,#c9f200 54.5deg,#8ce300 60deg,#04ba00 68deg,#00c320 73deg,#00c017 75deg,#06bb00 76.5deg,#52d200 78deg,#99e700 79deg,#fffb00 81deg,#ffb600 83deg,#fd9600 85deg,#fd9500 87.5deg,#ffc300 92deg,#fbfe00 96.5deg,#89e200 103deg,#25c400 108deg,#00b900 110.5deg,#00c935 117.5deg,#00e187 144deg,#00e6ba 157.5deg,#00e5af 163deg,#00dd75 170.5deg,#00bc09 178.5deg,#00b900 181.5deg,#00c422 186deg,#00e49f 196deg,#00e7c9 200.5deg,#00e7c7 203deg,#00e4a8 205deg,#00d55a 207.5deg,#00bb07 209.5deg,#2fc700 210.5deg,#95e600 212.5deg,#cbf300 215deg,#ddf700 217.5deg,#ccf300 221.5deg,#88e200 228.5deg,#00b902 238.5deg,#00cd41 247deg,#00df7d 258.5deg,#02e7f5 271.5deg,#3282fd 283.5deg,#3975fe 288.5deg,#1faafa 302.5deg,#15bef8 325deg,#07dcf6 329deg,#00eaf5 330deg,#00e6b9 332.5deg,#00d65f 335deg,#04ba00 337.5deg,#5ad400 339.5deg,#8fe400 341.5deg,#a4e900 344deg,#9fe800 351deg,#8be300 355deg,#50d100 360deg)"></i>
<i style="width:167px;height:167px;margin:-83.5px;background:conic-gradient(from 90deg,#42cd00 0deg,#01b900 4deg,#00e49f 16deg,#01e8f5 23deg,#17baf9 29.5deg,#16bcf9 33deg,#07dcf6 35.5deg,#00eaeb 36.5deg,#00e399 38.5deg,#05bb00 41.5deg,#85e100 43.5deg,#abeb00 44.5deg,#d5f500 46.5deg,#e5f900 49deg,#cff300 53deg,#8ee400 59deg,#04ba00 67deg,#00c321 72deg,#00bf13 74.5deg,#01b900 75.5deg,#49cf00 77deg,#aceb00 78.5deg,#fcfe00 80deg,#ffba00 82deg,#fe9600 84deg,#fd9300 86.5deg,#ffba00 90.5deg,#feff00 95.5deg,#8be300 102deg,#25c400 107deg,#00b900 109.5deg,#00c936 116.5deg,#00e288 143deg,#00e6ba 156.5deg,#00e5af 162deg,#00dd74 169.5deg,#00bc08 177.5deg,#01b900 180.5deg,#00c21d 184.5deg,#00e39b 194.5deg,#00e7c8 199deg,#00e7cb 201.5deg,#00e5b2 203.5deg,#00da6b 206deg,#00bb08 208.5deg,#11be00 209deg,#92e500 211.5deg,#caf200 214deg,#def700 216.5deg,#cef300 220.5deg,#89e200 227.5deg,#00b902 237.5deg,#00cc3f 245.5deg,#00e07d 257.5deg,#01e9f5 270deg,#3283fd 282deg,#3974fe 287deg,#20a9fa 301deg,#15bff8 324deg,#06def6 328deg,#00ebf3 329deg,#00e6b6 331.5deg,#00dc71 333.5deg,#05ba00 336.5deg,#59d400 338.5deg,#8fe400 340.5deg,#a4e900 343deg,#9fe800 350deg,#87e200 354.5deg,#42cd00 360deg)"></i>
<i style="width:163px;height:163px;margin:-81.5px;background:conic-gradient(from 90deg,#33c800 0deg,#02ba00 3deg,#00e4a1 15deg,#00ebf5 21.5deg,#17bbf9 28deg,#18baf9 31.5deg,#0bd5f7 34deg,#01e9f5 35deg,#00e5ae 37deg,#00d866 38.5deg,#03ba00 40.5deg,#81e000 42.5deg,#a9eb00 43.5deg,#d5f500 45.5deg,#e6f900 48deg,#d0f400 52deg,#90e400 58deg,#04ba00 66deg,#00c322 71deg,#00c015 73.5deg,#00ba03 74.5deg,#25c400 75.5deg,#bdef00 78deg,#f3fc00 79deg,#fff400 79.5deg,#ffb100 81.5deg,#fd9300 83.5deg,#fd9400 86deg,#ffc400 90.5deg,#fffd00 94.5deg,#8de300 101deg,#26c400 106deg,#00b900 108.5deg,#00ca36 115.5deg,#00e288 142deg,#00e6bb 155.5deg,#00e5ae 161deg,#00dd74 168.5deg,#00bb08 176.5deg,#00b900 180deg,#00c528 184.5deg,#00e39c 193.5deg,#00e7ca 198deg,#00e7cb 200.5deg,#00e5b2 202.5deg,#00da6b 205deg,#00bc09 207.5deg,#0fbd00 208deg,#8ee400 210.5deg,#c1f000 212.5deg,#ddf700 215deg,#d6f500 218.5deg,#8be300 226.5deg,#00b901 236.5deg,#00cc3f 244.5deg,#00e07e 256.5deg,#02e7f5 269deg,#3380fd 281deg,#3974fe 286deg,#20a9fa 299.5deg,#15c0f8 323deg,#05e0f6 327deg,#00eae7 328.5deg,#00e4a4 331deg,#00d55c 333deg,#04ba00 335.5deg,#58d300 337.5deg,#8ee400 339.5deg,#a4e900 342deg,#a0e800 349deg,#88e200 353.5deg,#3bcb00 359.5deg,#33c800 360deg)"></i>
<i style="width:159px;height:159px;margin:-79.5px;background:conic-gradient(from 90deg,#25c400 0deg,#00ba04 2.5deg,#00e39b 13.5deg,#01e9f5 20.5deg,#18b9f9 27deg,#17baf9 30.5deg,#0ad6f7 33deg,#00ebf4 34deg,#00e5ac 36deg,#00d866 37.5deg,#00b901 39.5deg,#97e600 42deg,#cbf300 44deg,#e5f900 46.5deg,#daf600 50deg,#92e500 57deg,#00ba02 65.5deg,#00c321 69.5deg,#00c21d 72deg,#00bb07 73.5deg,#07bb00 74deg,#54d200 75.5deg,#9ae700 76.5deg,#fffc00 78.5deg,#ffb600 80.5deg,#fd9400 82.5deg,#fd9200 85deg,#ffb900 89deg,#fcfe00 94deg,#84e100 100.5deg,#1fc200 105.5deg,#00b900 107.5deg,#00ca36 114.5deg,#00e186 140.5deg,#00e6bb 154.5deg,#00e5ae 160deg,#00dd74 167.5deg,#00bb07 175.5deg,#01b900 179deg,#00c527 183.5deg,#00e39d 192.5deg,#00e7cb 197deg,#00e7cc 199.5deg,#00e5b2 201.5deg,#00da6b 204deg,#00bd0c 206.5deg,#0bbc00 207deg,#8ae200 209.5deg,#b4ed00 211deg,#d9f600 213.5deg,#ddf700 216.5deg,#9ae700 224.5deg,#00b901 235.5deg,#00cc3f 243.5deg,#00e07e 255.5deg,#00eaf5 267.5deg,#3381fd 279.5deg,#3974fe 284.5deg,#20a9fa 298deg,#15bef8 321.5deg,#07dcf6 325.5deg,#00eaef 327deg,#00e4a3 330deg,#00d04a 332.5deg,#01b900 334.5deg,#56d300 336.5deg,#8de300 338.5deg,#a4e900 341deg,#a1e900 347.5deg,#8ae200 352.5deg,#45ce00 358deg,#25c400 360deg)"></i>
<i style="width:155px;height:155px;margin:-77.5px;background:conic-gradient(from 90deg,#16bf00 0deg,#00ba03 1.5deg,#00e39c 12.5deg,#02e8f5 19.5deg,#17baf9 25.5deg,#19b8f9 29deg,#0dcff7 31.5deg,#00ebf3 33deg,#00e5ab 35deg,#00d14f 37deg,#00ba05 38.5deg,#91e400 41deg,#c8f200 43deg,#e6f900 45.5deg,#e0f800 48.5deg,#95e600 56deg,#00b901 64.5deg,#00c322 68.5deg,#00c31f 71deg,#00b900 73deg,#48cf00 74.5deg,#a9eb00 76deg,#f8fd00 77.5deg,#ffcc00 79deg,#fe9c00 81deg,#fc8e00 83.5deg,#ffa900 87deg,#fffe00 93deg,#88e200 99.5deg,#20c300 104.5deg,#01b900 106.5deg,#00ca36 113.5deg,#00e186 139.5deg,#00e6bb 153deg,#00e5b0 158.5deg,#00dd74 166.5deg,#00bb07 174.5deg,#04ba00 177.5deg,#00be10 180.5deg,#00e39e 191.5deg,#00e7cd 196deg,#00e8cd 198.5deg,#00e5b2 200.5deg,#00da6c 203deg,#00be0f 205.5deg,#06bb00 206deg,#98e700 209deg,#cdf300 211.5deg,#e0f800 214deg,#cff300 218deg,#88e200 225deg,#00b900 234.5deg,#00cc3f 242.5deg,#00e07e 254.5deg,#01e9f5 266.5deg,#347ffd 278.5deg,#3974fe 283.5deg,#20a8fa 296.5deg,#15bff8 320.5deg,#07ddf6 324.5deg,#00eaed 326deg,#00e4a2 329deg,#00d04b 331.5deg,#00b901 333.5deg,#63d700 336deg,#95e600 338deg,#a8ea00 341.5deg,#97e600 350deg,#64d700 355deg,#16bf00 360deg)"></i>
<i style="width:151px;height:151px;margin:-75.5px;background:conic-gradient(from 90deg,#06bb00 0deg,#00c015 2deg,#00e39c 11.5deg,#00ebf4 18deg,#18b9f9 24.5deg,#19b8f9 28deg,#0dd0f7 30.5deg,#00ebf2 32deg,#00e396 34.5deg,#00bc09 37.5deg,#13bf00 38deg,#89e200 40deg,#b9ee00 41.5deg,#ddf700 43.5deg,#e8f900 46deg,#c8f200 50.5deg,#8fe400 55.5deg,#00b900 63.5deg,#00c423 68deg,#00c21d 70.5deg,#00bb05 72deg,#0bbc00 72.5deg,#5ad400 74deg,#9ee800 75deg,#ecfa00 76.5deg,#fffa00 77deg,#ffb500 79deg,#fd9300 81deg,#fd9000 83.5deg,#ffb800 87.5deg,#fcfe00 92.5deg,#8ce300 98.5deg,#2bc600 103deg,#00ba03 106deg,#00c935 112.5deg,#00e186 138.5deg,#00e6bb 152deg,#00e5b0 157.5deg,#00dd75 165.5deg,#00ba03 174deg,#03ba00 177deg,#00c11a 180.5deg,#00e39e 190.5deg,#00e8ce 195deg,#00e8ce 197.5deg,#00e5b3 199.5deg,#00db6e 202deg,#00b900 205deg,#93e500 208deg,#cbf300 210.5deg,#e0f800 213deg,#d4f500 216.5deg,#8ae300 224deg,#02b900 233.5deg,#00cc3e 241.5deg,#00e07e 253.5deg,#01e8f5 265.5deg,#3380fd 277deg,#3a73fe 282deg,#20a9fa 295.5deg,#15bff8 319.5deg,#03e4f6 324deg,#00eaec 325deg,#00e4a3 328deg,#00d14d 330.5deg,#00ba05 332.5deg,#6fda00 335.5deg,#99e700 337.5deg,#a8ea00 341.5deg,#95e600 349.5deg,#5fd600 354.5deg,#06bb00 360deg)"></i>
<i style="width:147px;height:147px;margin:-73.5px;background:conic-gradient(from 90deg,#00bb06 0deg,#00e39c 10.5deg,#00ebf5 17deg,#17baf9 23deg,#19b8f9 27deg,#0dd1f7 29.5deg,#00ebf1 31deg,#00e398 33.5deg,#00be0f 36.5deg,#0bbc00 37deg,#98e700 39.5deg,#d4f500 42deg,#e9fa00 44.5deg,#d9f600 48deg,#8ae200 55deg,#01b900 62.5deg,#00c424 67deg,#00c31f 69.5deg,#02ba00 71.5deg,#4bd000 73deg,#abeb00 74.5deg,#f9fd00 76deg,#ffbd00 78deg,#fd9500 80deg,#fc8e00 82.5deg,#ffb400 86.5deg,#fffe00 91.5deg,#84e100 98deg,#25c400 102.5deg,#00ba02 105deg,#00c935 111.5deg,#00e186 137.5deg,#00e6bb 151deg,#00e5b1 156.5deg,#00dd75 164.5deg,#00ba04 173deg,#05ba00 176deg,#00bd0d 178.5deg,#00e39e 189.5deg,#00e8cf 194deg,#00e8cf 196.5deg,#00e5b4 198.5deg,#00dc70 201deg,#00ba05 204deg,#9de800 207.5deg,#d0f400 210deg,#e2f800 212.5deg,#cff300 216.5deg,#86e100 223.5deg,#00ba03 233deg,#00cc3e 240.5deg,#00e07d 252.5deg,#02e7f5 264.5deg,#347ffd 276deg,#3a72fe 280.5deg,#20a8fa 294deg,#15bff8 318.5deg,#03e4f6 323deg,#00eaec 324deg,#00e4a4 327deg,#00d250 329.5deg,#00bc09 331.5deg,#0bbc00 332deg,#6bd900 334.5deg,#98e600 336.5deg,#a8ea00 340deg,#97e600 348.5deg,#62d600 353.5deg,#00b900 359.5deg,#00bb06 360deg)"></i>
<i style="width:143px;height:143px;margin:-71.5px;background:conic-gradient(from 90deg,#00be12 0deg,#00e39b 9.5deg,#00eaf5 16deg,#18baf9 22deg,#19b8f9 26deg,#09d9f6 29deg,#00ebf2 30deg,#00e39b 32.5deg,#01b900 36deg,#90e400 38.5deg,#c7f200 40.5deg,#e7f900 43deg,#e3f800 46deg,#97e600 53.5deg,#04ba00 61.5deg,#00c424 66deg,#00c322 68.5deg,#00ba05 70.5deg,#0cbd00 71deg,#5bd400 72.5deg,#9ee800 73.5deg,#fffb00 75.5deg,#ffb700 77.5deg,#fd9300 79.5deg,#fc8e00 82deg,#ffb600 86deg,#fdfe00 91deg,#89e200 97deg,#27c500 101.5deg,#00b901 104deg,#00c935 110.5deg,#00e186 136.5deg,#00e6bc 150.5deg,#00e5ae 156deg,#00dc71 164deg,#00ba04 172deg,#06bb00 175deg,#00bd0c 177.5deg,#00e39e 188.5deg,#00e8cf 193deg,#00e8d0 195.5deg,#00e6b6 197.5deg,#00dd74 200deg,#00bc0b 203deg,#0abc00 203.5deg,#97e600 206.5deg,#cdf300 209deg,#e2f800 211.5deg,#d5f500 215deg,#89e200 222.5deg,#00b901 232deg,#00cc3e 239.5deg,#00df7d 251.5deg,#02e7f5 263.5deg,#3380fd 274.5deg,#3a72fe 279deg,#20a8fa 293deg,#15bff8 317.5deg,#03e4f6 322deg,#00eaec 323deg,#00e4a6 326deg,#00cd43 329deg,#05ba00 331deg,#66d800 333.5deg,#96e600 335.5deg,#a8ea00 339deg,#95e600 348deg,#5ed500 353deg,#00ba04 359deg,#00be12 360deg)"></i>
<i style="width:139px;height:139px;margin:-69.5px;background:conic-gradient(from 90deg,#00c21d 0deg,#00e4a2 9deg,#01eaf5 15deg,#18b9f9 21deg,#19b7f9 25deg,#09d9f6 28deg,#00ebf3 29deg,#00e39f 31.5deg,#00c21e 34.5deg,#00bb07 35deg,#32c800 36deg,#9be700 38deg,#d6f500 40.5deg,#eafa00 43deg,#d9f600 46.5deg,#8ae200 53.5deg,#00b901 61deg,#00c424 65deg,#00c320 68deg,#02ba00 70deg,#4acf00 71.5deg,#a8ea00 73deg,#f5fd00 74.5deg,#fff300 75deg,#ffb200 77deg,#fd9000 79deg,#fc8e00 81.5deg,#ffb800 85.5deg,#fffc00 90deg,#82e000 96.5deg,#22c300 101deg,#02ba00 103deg,#00ca37 110deg,#00e186 135.5deg,#00e6bc 149.5deg,#00e5af 155deg,#00db6d 163.5deg,#00b901 171.5deg,#08bb00 174deg,#00bc0a 176.5deg,#00e396 187deg,#00e8d0 192deg,#00e8d2 194.5deg,#00e5ae 197deg,#00d968 199.5deg,#01b900 202.5deg,#8ee400 205.5deg,#c9f200 208deg,#e2f800 210.5deg,#d7f600 214deg,#8de300 221.5deg,#01b900 231deg,#00cc3d 238.5deg,#00df7c 250.5deg,#02e6f5 262.5deg,#347ffd 273.5deg,#3a72fe 278deg,#20a9fa 292deg,#15bff8 316.5deg,#03e4f6 321deg,#00eaed 322deg,#00e4a8 325deg,#00cf47 328deg,#00ba02 330deg,#6fda00 333deg,#9ae700 335deg,#a9eb00 339deg,#94e500 347.5deg,#5ad400 352.5deg,#00ba02 358deg,#00c21d 360deg)"></i>
<i style="width:135px;height:135px;margin:-67.5px;background:conic-gradient(from 90deg,#00c529 0deg,#00e4a1 8deg,#01eaf5 14deg,#18b8f9 20deg,#19b7f9 24deg,#09d8f7 27deg,#00ebf5 28deg,#00e4a3 30.5deg,#00cb3c 33deg,#00be10 34deg,#08bb00 34.5deg,#91e500 37deg,#c8f200 39deg,#e8fa00 41.5deg,#e4f900 44.5deg,#97e600 52deg,#01b900 60deg,#00c525 64.5deg,#00c21f 67.5deg,#00bb06 69deg,#0abc00 69.5deg,#56d300 71deg,#9ae700 72deg,#feff00 74deg,#ffad00 76.5deg,#fc8e00 78.5deg,#fc8d00 81deg,#ffb900 85deg,#ffff00 89.5deg,#89e200 95.5deg,#26c400 100deg,#00ba02 102.5deg,#00ca36 109deg,#00e185 134.5deg,#00e6bd 148.5deg,#00e5af 154deg,#00db6f 162.5deg,#00ba02 170.5deg,#08bb00 173.5deg,#00bd0c 176deg,#00e39c 186.5deg,#00e8d0 191deg,#00e8d3 193.5deg,#00e5b1 196deg,#00d55c 199deg,#00bb06 201.5deg,#27c500 202.5deg,#98e600 205deg,#cdf300 207.5deg,#e3f800 210deg,#d6f500 213.5deg,#89e200 221deg,#00ba02 230.5deg,#00cc3f 238deg,#00df7b 249.5deg,#02e7f5 261.5deg,#347efd 272.5deg,#3a71fe 277deg,#20a8fa 290.5deg,#15bff8 315.5deg,#04e4f6 320deg,#00eaee 321deg,#00e5ab 324deg,#00d65e 326.5deg,#00bc09 329deg,#0bbc00 329.5deg,#69d900 332deg,#98e600 334deg,#a9eb00 337.5deg,#96e600 346.5deg,#65d700 351deg,#01b900 357deg,#00c529 360deg)"></i>
<i style="width:131px;height:131px;margin:-65.5px;background:conic-gradient(from 90deg,#00c934 0deg,#00e49f 7deg,#00eaf5 13deg,#19b8f9 19deg,#19b6f9 23deg,#0ad6f7 26deg,#01e9f5 27deg,#00e4a8 29.5deg,#00d459 31.5deg,#00ba04 33.5deg,#9ae700 36.5deg,#d6f500 39deg,#ecfa00 41.5deg,#dbf600 45deg,#8be300 52deg,#00ba03 59.5deg,#00c425 63.5deg,#00c322 66.5deg,#00b901 68.5deg,#28c500 69.5deg,#bbef00 72deg,#edfb00 73deg,#fff900 73.5deg,#ffaa00 76deg,#fc8d00 78deg,#fc8d00 80.5deg,#ffbb00 84.5deg,#fcfe00 89deg,#83e000 95deg,#21c300 99.5deg,#00b900 101.5deg,#00c935 108deg,#00e185 133.5deg,#00e6bd 147.5deg,#00e5b0 153deg,#00dc71 161.5deg,#00ba03 169.5deg,#0abc00 172.5deg,#00bb05 174.5deg,#00db6f 182.5deg,#00e7cc 189.5deg,#00e8d6 192deg,#00e6be 194.5deg,#00dc72 197.5deg,#04ba00 201deg,#8de300 204deg,#c9f200 206.5deg,#e3f800 209deg,#d9f600 212.5deg,#8ee300 220deg,#00b900 229.5deg,#00cc3e 237deg,#00de79 248.5deg,#00eaee 259.5deg,#0ecdf7 263deg,#357dfe 271.5deg,#3b71fe 276deg,#20a8fa 289.5deg,#15bff8 314.5deg,#04e3f6 319deg,#00eae6 320.5deg,#00e4a1 323.5deg,#00cd42 326.5deg,#01b900 328.5deg,#62d600 331deg,#95e600 333deg,#a8ea00 336deg,#99e700 345deg,#77dd00 349deg,#00ba03 356.5deg,#00c934 360deg)"></i>
<i style="width:127px;height:127px;margin:-63.5px;background:conic-gradient(from 90deg,#00cd40 0deg,#00e4a5 6.5deg,#00ebf5 12deg,#19b8f9 18deg,#1ab5f9 22deg,#0bd4f7 25deg,#02e7f5 26deg,#00e8d0 27.5deg,#00dd75 30deg,#00bd0e 32.5deg,#09bc00 33deg,#8ee400 35.5deg,#c7f200 37.5deg,#e9fa00 40deg,#e6f900 43deg,#98e700 50.5deg,#00b900 58.5deg,#00c425 62.5deg,#00c424 65.5deg,#04ba00 68deg,#4dd000 69.5deg,#aaeb00 71deg,#f4fc00 72.5deg,#fff400 73deg,#ffa700 75.5deg,#fc8b00 77.5deg,#fc8d00 80deg,#ffbc00 84deg,#fafe00 88.5deg,#8be300 94deg,#2ec700 98deg,#00ba03 101deg,#00ca37 107.5deg,#00e184 132.5deg,#00e6bd 146.5deg,#00e5b1 152deg,#00db6e 161deg,#00b901 169deg,#0bbc00 171.5deg,#00bb07 174deg,#00e28a 183.5deg,#00e8d0 189deg,#00e8d6 191.5deg,#00e6b8 194deg,#00d968 197deg,#00bb06 200deg,#26c500 201deg,#96e600 203.5deg,#d4f500 206.5deg,#e5f900 209deg,#d0f400 213deg,#8be300 219.5deg,#00ba03 229deg,#00cc3d 236deg,#00de78 247.5deg,#00eae7 258deg,#04e2f6 260deg,#357cfe 270.5deg,#3b71fe 275deg,#21a7fa 288deg,#15bff8 313.5deg,#04e2f6 318deg,#00eae9 319.5deg,#00e398 323deg,#00bb07 327.5deg,#21c300 328.5deg,#78dd00 331deg,#98e600 332.5deg,#a9eb00 336deg,#97e600 345deg,#67d800 349.5deg,#01b900 355.5deg,#00cd40 360deg)"></i>
<i style="width:123px;height:123px;margin:-61.5px;background:conic-gradient(from 90deg,#00d04b 0deg,#00e5aa 6deg,#00ebf4 11deg,#19b7f9 17deg,#1ab4f9 21deg,#0cd2f7 24deg,#00ebf1 25.5deg,#00e290 28.5deg,#00ba05 32deg,#97e600 35deg,#d4f500 37.5deg,#edfb00 40deg,#def700 43.5deg,#8de300 50.5deg,#00ba03 58deg,#00c526 62deg,#00c424 65deg,#00bb06 67deg,#0abc00 67.5deg,#56d300 69deg,#99e700 70deg,#fafe00 72deg,#ffa400 75deg,#fc8a00 77deg,#fc8d00 79.5deg,#ffbd00 83.5deg,#fffd00 87.5deg,#86e100 93.5deg,#2ac600 97.5deg,#00b900 100deg,#00ca36 106.5deg,#00e183 131.5deg,#00e6bd 146deg,#00e5af 151.5deg,#00da6b 160.5deg,#00ba02 168deg,#0bbc00 171deg,#00ba04 173deg,#00dc71 181deg,#00e7cb 187.5deg,#00e8d8 190.5deg,#00e6bd 193deg,#00db6f 196deg,#02ba00 199.5deg,#9be700 203deg,#d7f500 206deg,#e6f900 208.5deg,#cef300 212.5deg,#88e200 219deg,#00b900 228deg,#00cb3c 235deg,#00df7a 247deg,#01e9f5 258.5deg,#367cfe 269.5deg,#3b71fe 274deg,#21a7fa 287deg,#16bef8 312.5deg,#05e0f6 317deg,#00eaeb 318.5deg,#00e39e 322deg,#00c830 325.5deg,#01b900 327deg,#60d600 329.5deg,#94e500 331.5deg,#a9ea00 334.5deg,#98e700 344deg,#72db00 348deg,#00ba03 355deg,#00d04b 360deg)"></i>
<i style="width:119px;height:119px;margin:-59.5px;background:conic-gradient(from 90deg,#00d457 0deg,#00e6b7 6deg,#02e7f5 10.5deg,#19b8f9 16deg,#1bb3f9 20deg,#0dd0f7 23deg,#00ebf5 24.5deg,#00e398 27.5deg,#05ba00 31.5deg,#9be700 34.5deg,#d7f500 37deg,#eefb00 39.5deg,#ddf700 43deg,#8be300 50deg,#01b900 57deg,#00c528 61.5deg,#00c423 64.5deg,#00ba03 66.5deg,#26c400 67.5deg,#9ee800 69.5deg,#ffff00 71.5deg,#ffae00 74deg,#fc8d00 76deg,#fc8a00 78.5deg,#ffb600 82.5deg,#fffe00 87deg,#81e000 93deg,#27c500 97deg,#00ba02 99.5deg,#00c934 105.5deg,#00e184 131deg,#00e6bd 145deg,#00e5b0 150.5deg,#00db6d 159.5deg,#00b900 167.5deg,#0dbd00 170deg,#00bb05 172.5deg,#00e28b 182deg,#00e8cf 187deg,#00e9da 189.5deg,#00e6c1 192deg,#00dd76 195deg,#00bc08 198.5deg,#0bbc00 199deg,#8fe400 202deg,#caf200 204.5deg,#e5f900 207deg,#def700 210deg,#8de300 218deg,#00ba02 227.5deg,#00cc3d 234.5deg,#00de78 246deg,#00eaea 256.5deg,#03e5f5 258deg,#367bfe 268.5deg,#3b70ff 273deg,#21a7fa 286deg,#16bef9 311.5deg,#06dff6 316deg,#00eaee 317.5deg,#00e4a4 321deg,#00cb39 324.5deg,#00bc09 326deg,#09bc00 326.5deg,#66d800 329deg,#97e600 331deg,#aaeb00 334.5deg,#95e600 344deg,#62d600 348.5deg,#02ba00 354deg,#00d457 360deg)"></i>
<i style="width:115px;height:115px;margin:-57.5px;background:conic-gradient(from 90deg,#00d762 0deg,#00e7cc 6.5deg,#01e9f5 9.5deg,#19b8f9 15deg,#1bb2f9 19deg,#0ecdf7 22deg,#02e7f5 23.5deg,#00e7c2 25.5deg,#00da6b 28deg,#00bc09 30.5deg,#0ebd00 31deg,#8ee300 33.5deg,#c6f100 35.5deg,#ebfa00 38deg,#ebfa00 40.5deg,#abeb00 47deg,#7fdf00 50deg,#00ba02 56.5deg,#00c527 60.5deg,#00c526 63.5deg,#00bd0c 65.5deg,#00b900 66deg,#46ce00 67.5deg,#a3e900 69deg,#fffc00 71deg,#ffac00 73.5deg,#fc8c00 75.5deg,#fc8900 78deg,#ffb600 82deg,#feff00 86.5deg,#8be300 92deg,#2dc600 96deg,#02ba00 98.5deg,#00ca36 105deg,#00e183 130deg,#00e6be 144.5deg,#00e5af 150deg,#00da6b 159deg,#00ba02 166.5deg,#0ebd00 169.5deg,#00bb07 172deg,#00e49f 182.5deg,#00e8d6 187deg,#00e8d7 189.5deg,#00e5b2 192deg,#00d761 195deg,#00ba02 198deg,#94e600 201.5deg,#d4f500 204.5deg,#e7f900 207deg,#d6f500 210.5deg,#8be300 217.5deg,#02ba00 226.5deg,#00cc3e 234deg,#00df7a 245.5deg,#02e6f5 257deg,#367bfe 267.5deg,#3b70ff 272deg,#21a7fa 285deg,#19b6f9 306.5deg,#11c7f8 312.5deg,#00ebf1 316.5deg,#00e4aa 320deg,#00d762 322.5deg,#00ba03 325.5deg,#6cd900 328.5deg,#99e700 330.5deg,#aaeb00 334deg,#95e600 343.5deg,#60d600 348deg,#00b901 353.5deg,#00d762 360deg)"></i>
<i style="width:111px;height:111px;margin:-55.5px;background:conic-gradient(from 90deg,#00db6e 0deg,#00ebf5 8.5deg,#1ab6f9 14.5deg,#1bb3f9 18.5deg,#0cd1f7 21.5deg,#00ebf3 23deg,#00e399 26deg,#00ba03 30deg,#93e500 33deg,#d2f400 35.5deg,#eefb00 38deg,#e5f900 41deg,#90e400 48.5deg,#04ba00 55.5deg,#00c528 60deg,#00c526 63deg,#00bc0a 65deg,#03ba00 65.5deg,#4bcf00 67deg,#a6ea00 68.5deg,#eefb00 70deg,#fffa00 70.5deg,#ffab00 73deg,#fc8b00 75deg,#fb8900 77.5deg,#ffb700 81.5deg,#fdff00 86deg,#88e200 91.5deg,#2ac600 95.5deg,#00b901 98deg,#00c934 104deg,#00e184 129.5deg,#00e6be 143.5deg,#00e5b3 148.5deg,#00db6e 158deg,#00b900 166deg,#0fbe00 168.5deg,#00ba03 171deg,#00df7c 179.5deg,#00e8d1 185.5deg,#00e9db 188deg,#00e7c2 190.5deg,#00d96a 194deg,#03ba00 197.5deg,#98e600 201deg,#d6f500 204deg,#e8f900 206.5deg,#d1f400 210.5deg,#8ae200 217deg,#00b900 226deg,#00cc3d 233deg,#00de78 244.5deg,#00eaec 255deg,#06def6 257deg,#367bfe 266.5deg,#3c6fff 270.5deg,#20a8fa 284.5deg,#16bef8 310deg,#03e6f5 315deg,#00eae4 316.5deg,#00e397 320deg,#03ba00 325deg,#70db00 328deg,#9be700 330deg,#aaeb00 333.5deg,#94e500 343deg,#5ed500 347.5deg,#00ba03 353deg,#00db6e 360deg)"></i>
<i style="width:107px;height:107px;margin:-53.5px;background:conic-gradient(from 90deg,#00de79 0deg,#00ebf2 7.5deg,#1bb4f9 14deg,#1bb2f9 17.5deg,#0ecef7 20.5deg,#02e8f5 22deg,#00e5b3 24.5deg,#00d65d 27deg,#02ba00 29.5deg,#97e600 32.5deg,#d4f500 35deg,#effb00 37.5deg,#e5f900 40.5deg,#8fe400 48deg,#01b900 55deg,#00c527 59deg,#00c529 62deg,#00bf13 64deg,#05bb00 65deg,#4fd100 66.5deg,#a9ea00 68deg,#f0fb00 69.5deg,#fff800 70deg,#ffaa00 72.5deg,#fc8a00 74.5deg,#fb8800 77deg,#ffb600 81deg,#fdfe00 85.5deg,#86e100 91deg,#27c500 95deg,#00ba02 97.5deg,#00c935 103.5deg,#00e183 128.5deg,#00e6be 143deg,#00e5af 148.5deg,#00da6d 157.5deg,#02ba00 165.5deg,#10be00 168deg,#00ba04 170.5deg,#00e28f 180deg,#00e8d4 185deg,#00e9dc 187.5deg,#00e6be 190deg,#00d864 193.5deg,#00bc09 196.5deg,#09bc00 197deg,#9ae700 200.5deg,#d7f600 203.5deg,#e8fa00 206deg,#d0f400 210deg,#88e200 216.5deg,#00ba02 225.5deg,#00cb3b 232deg,#00de79 244deg,#00ebf5 255deg,#357cfe 265.5deg,#3c6eff 269.5deg,#20a8fa 283.5deg,#15bff8 309.5deg,#00ebf0 315deg,#00e5ab 318.5deg,#00d457 321.5deg,#00bc09 324deg,#08bb00 324.5deg,#73dc00 327.5deg,#97e600 329deg,#aaeb00 332.5deg,#94e500 342.5deg,#5dd500 347deg,#03ba00 352deg,#00de79 360deg)"></i>
<i style="width:103px;height:103px;margin:-51.5px;background:conic-gradient(from 90deg,#00e185 0deg,#00eaf5 7deg,#19b7f9 12.5deg,#1cb1fa 16.5deg,#10caf8 19.5deg,#00ebf4 21.5deg,#00e28c 25deg,#00bd0d 28.5deg,#08bb00 29deg,#99e700 32deg,#d5f500 34.5deg,#f0fb00 37deg,#e5f900 40deg,#8de300 47.5deg,#00b901 54.5deg,#00c528 58.5deg,#00c629 61.5deg,#00bf12 63.5deg,#07bb00 64.5deg,#51d100 66deg,#92e500 67deg,#f1fc00 69deg,#fff800 69.5deg,#ffaa00 72deg,#fc8a00 74deg,#fb8700 76.5deg,#ffb600 80.5deg,#fdfe00 85deg,#83e000 90.5deg,#2fc700 94deg,#00ba04 97deg,#00ca36 103deg,#00e181 127.5deg,#00e6be 142deg,#00e5b3 147deg,#00da6b 157deg,#00ba02 164.5deg,#11be00 167deg,#00ba05 170deg,#00e39a 180deg,#00e8d6 184.5deg,#00e9dc 187deg,#00e6bb 189.5deg,#00d760 193deg,#00bb06 196deg,#22c300 197deg,#9ce700 200deg,#d8f600 203deg,#e9fa00 205.5deg,#d0f400 209.5deg,#87e200 216deg,#00ba03 225deg,#00cb3c 231.5deg,#00dd76 243deg,#00e9df 252.5deg,#01e8f5 254.5deg,#3779fe 265deg,#3c6eff 269deg,#20a7fa 282.5deg,#19b6f9 304deg,#12c6f8 310deg,#00ebf4 314deg,#00e5b3 317.5deg,#00d761 320.5deg,#00bb06 323.5deg,#76dc00 327deg,#98e600 328.5deg,#abeb00 332deg,#94e500 342deg,#64d700 346deg,#01b900 351.5deg,#00e185 360deg)"></i>
<i style="width:99px;height:99px;margin:-49.5px;background:conic-gradient(from 90deg,#00e290 0deg,#00ebf2 6deg,#1ab5f9 12deg,#1cb1f9 16deg,#0ecdf7 19deg,#00eaef 21deg,#00e187 24.5deg,#00bc0a 28deg,#0cbc00 28.5deg,#9ae700 31.5deg,#d6f500 34deg,#f1fc00 36.5deg,#e5f900 39.5deg,#8de300 47deg,#00ba02 54deg,#00c529 58deg,#00c629 61deg,#00bf12 63deg,#08bb00 64deg,#53d200 65.5deg,#94e500 66.5deg,#f1fc00 68.5deg,#fff800 69deg,#ffab00 71.5deg,#fc8900 73.5deg,#fb8600 76deg,#ffb500 80deg,#fdfe00 84.5deg,#82e000 90deg,#2dc700 93.5deg,#01b900 96deg,#00ca37 102.5deg,#00e182 127deg,#00e6bf 141.5deg,#00e5b3 146.5deg,#00da6a 156.5deg,#00b901 164deg,#12be00 166.5deg,#00bb05 169.5deg,#00e39d 179.5deg,#00e9d9 184deg,#00e9dc 186.5deg,#00e6b8 189deg,#00d55c 192.5deg,#00ba03 195.5deg,#9de800 199.5deg,#d9f600 202.5deg,#e9fa00 205deg,#d0f400 209deg,#87e100 215.5deg,#02ba00 224deg,#00cc3d 231deg,#00de77 242.5deg,#00eae8 252.5deg,#03e5f5 254deg,#367afe 264deg,#3c6eff 268deg,#21a7fa 281.5deg,#19b6f9 302.5deg,#13c4f8 309deg,#00ebf1 313.5deg,#00e5af 317deg,#00d65e 320deg,#00ba03 323deg,#78dd00 326.5deg,#99e700 328deg,#abeb00 331.5deg,#94e500 341.5deg,#63d700 345.5deg,#00b900 351deg,#00e290 360deg)"></i>
<i style="width:95px;height:95px;margin:-47.5px;background:conic-gradient(from 90deg,#00e39b 0deg,#00ebf5 5.5deg,#19b6f9 11deg,#1cb0fa 15deg,#11c9f8 18deg,#01e9f5 20deg,#00e4a4 23deg,#00d250 25.5deg,#00bb08 27.5deg,#0ebd00 28deg,#9ae700 31deg,#dff700 34deg,#f2fc00 36.5deg,#dcf700 40deg,#8ce300 46.5deg,#00ba03 53.5deg,#00c629 57.5deg,#00c629 60.5deg,#00bf12 62.5deg,#08bb00 63.5deg,#53d200 65deg,#94e500 66deg,#f0fc00 68deg,#fff900 68.5deg,#ffab00 71deg,#fc8900 73deg,#fb8500 75.5deg,#ffb400 79.5deg,#fdff00 84deg,#81e000 89.5deg,#2cc600 93deg,#00b900 95.5deg,#00c935 101.5deg,#00e183 126.5deg,#00e6bf 141deg,#00e5b2 146deg,#00d969 156deg,#01b900 163.5deg,#13bf00 166deg,#00bb06 169deg,#00e49f 179deg,#00e9db 183.5deg,#00e9dc 186deg,#00e5b5 188.5deg,#00d968 191.5deg,#00ba02 195deg,#9de800 199deg,#daf600 202deg,#eafa00 204.5deg,#d1f400 208.5deg,#86e100 215deg,#01b900 223.5deg,#00cc3d 230.5deg,#00de78 242deg,#01e9f5 253deg,#367bfe 263deg,#3c6dff 267deg,#20a8fa 281deg,#19b6f9 302.5deg,#12c5f8 308.5deg,#00eaf5 312.5deg,#00e6b8 316deg,#00d969 319deg,#00b901 322.5deg,#7add00 326deg,#9ae700 327.5deg,#abeb00 331deg,#94e500 341deg,#63d700 345deg,#00b901 350.5deg,#00e39b 360deg)"></i>
<i style="width:91px;height:91px;margin:-45.5px;background:conic-gradient(from 90deg,#00e4a6 0deg,#01e9f5 5deg,#1ab5f9 10.5deg,#1cb0fa 14.5deg,#0cd2f7 18deg,#00ebf4 19.5deg,#00e291 23deg,#00bb06 27deg,#28c500 28deg,#9ae700 30.5deg,#dff700 33.5deg,#f3fc00 36deg,#dcf700 39.5deg,#8de300 46deg,#04ba00 52.5deg,#00c62a 57deg,#00c629 60deg,#00bf12 62deg,#07bb00 63deg,#51d100 64.5deg,#92e500 65.5deg,#effb00 67.5deg,#fffa00 68deg,#ffad00 70.5deg,#fc8a00 72.5deg,#fb8400 75deg,#ffab00 78.5deg,#ffff00 83.5deg,#81e000 89deg,#2bc600 92.5deg,#00b900 95deg,#00c935 101deg,#00e181 125.5deg,#00e6c0 140.5deg,#00e5ae 146deg,#00d968 155.5deg,#02ba00 163deg,#14bf00 165.5deg,#00bb06 168.5deg,#00e4a1 178.5deg,#00e9d8 182.5deg,#00e9df 185deg,#00e6be 187.5deg,#00d866 191deg,#00b901 194.5deg,#9de800 198.5deg,#daf600 201.5deg,#ebfa00 204deg,#d1f400 208deg,#86e100 214.5deg,#00b900 223deg,#00cb3b 229.5deg,#00de79 241.5deg,#02e7f5 252.5deg,#3779fe 262.5deg,#3c6dff 266.5deg,#21a7fa 280deg,#19b6f9 301deg,#13c3f8 307.5deg,#00ebf4 312deg,#00e4aa 316deg,#00d459 319deg,#00b900 322deg,#6cd900 325deg,#9ae700 327deg,#abeb00 330.5deg,#94e500 340.5deg,#63d700 344.5deg,#00ba02 350deg,#00e39d 359.5deg,#00e4a6 360deg)"></i>
<i style="width:87px;height:87px;margin:-43.5px;background:conic-gradient(from 90deg,#00e5b1 0deg,#02e7f5 4.5deg,#1bb3f9 10deg,#1cb1fa 14deg,#0bd4f7 17.5deg,#00ebf1 19deg,#00e28f 22.5deg,#00bb06 26.5deg,#28c500 27.5deg,#9ae700 30deg,#dff700 33deg,#f3fc00 35.5deg,#ddf700 39deg,#8de300 45.5deg,#04ba00 52deg,#00c62a 56.5deg,#00c62a 59.5deg,#00bf13 61.5deg,#06bb00 62.5deg,#4fd100 64deg,#a8ea00 65.5deg,#fffd00 67.5deg,#ffa300 70.5deg,#fb8500 72.5deg,#fb8600 75deg,#ffb900 79deg,#fffe00 83deg,#81e000 88.5deg,#2bc600 92deg,#00b900 94.5deg,#00c935 100.5deg,#00e181 125deg,#00e6c0 140deg,#00e5ae 145.5deg,#00d968 155deg,#02ba00 162.5deg,#15bf00 165deg,#00bb06 168deg,#00e39a 177.5deg,#00e9da 182deg,#00e9df 184.5deg,#00e6bd 187deg,#00d864 190.5deg,#00b900 194deg,#9ce800 198deg,#daf600 201deg,#ebfa00 203.5deg,#d6f500 207deg,#87e100 214deg,#00b900 222.5deg,#00cb3b 229deg,#00dd75 240.5deg,#00e9db 249.5deg,#03e5f5 252deg,#3877fe 262deg,#3c6dff 266deg,#21a7fa 279deg,#19b6f9 300deg,#14c1f8 306.5deg,#00ebf2 311.5deg,#00e4a8 315.5deg,#00d458 318.5deg,#01b900 321.5deg,#6cd900 324.5deg,#9ae700 326.5deg,#aceb00 330deg,#94e600 340deg,#64d700 344deg,#00ba02 349.5deg,#00e49f 359deg,#00e5b1 360deg)"></i>
<i style="width:83px;height:83px;margin:-41.5px;background:conic-gradient(from 90deg,#00e6bb 0deg,#00ebf4 3.5deg,#1ab5f9 9deg,#1daffa 13deg,#0ecef7 16.5deg,#00eaef 18.5deg,#00e07d 22.5deg,#00bb06 26deg,#27c500 27deg,#98e700 29.5deg,#dff700 32.5deg,#f4fc00 35deg,#def700 38.5deg,#8ee400 45deg,#04ba00 51.5deg,#00c62b 56deg,#00c527 59.5deg,#03ba00 62deg,#4cd000 63.5deg,#a5e900 65deg,#feff00 67deg,#ffa500 70deg,#fb8600 72deg,#fb8500 74.5deg,#ffb700 78.5deg,#fffc00 82.5deg,#82e000 88deg,#2bc600 91.5deg,#00b900 94deg,#00ca36 100deg,#00e181 124.5deg,#00e6c0 139deg,#00e5b3 144deg,#00d968 154.5deg,#03ba00 162deg,#16bf00 164.5deg,#00bb05 167.5deg,#00e39b 177deg,#00e9db 181.5deg,#00e9e0 184deg,#00e6bc 186.5deg,#00d863 190deg,#00b901 193.5deg,#9be700 197.5deg,#d9f600 200.5deg,#ecfa00 203deg,#d7f600 206.5deg,#88e200 213.5deg,#00b900 222deg,#00cb3b 228.5deg,#00dd75 240deg,#00e9dc 249deg,#03e4f6 251.5deg,#3779fe 261deg,#3d6dff 265deg,#21a7fa 278.5deg,#19b6f9 299.5deg,#14c1f8 306deg,#00ebf1 311deg,#00e4a7 315deg,#00d457 318deg,#00b900 321deg,#7ade00 324.5deg,#9ae700 326deg,#abeb00 329deg,#95e600 339.5deg,#65d700 343.5deg,#00ba02 349deg,#00e4a0 358.5deg,#00e6bb 360deg)"></i>
<i style="width:79px;height:79px;margin:-39.5px;background:conic-gradient(from 90deg,#00e7c4 0deg,#00ebf5 3deg,#1ab4f9 8.5deg,#1daffa 12.5deg,#0ecff7 16deg,#02e8f5 17.5deg,#00e5ac 20.5deg,#00d55d 23deg,#00bb07 25.5deg,#25c400 26.5deg,#97e600 29deg,#def700 32deg,#f4fc00 34.5deg,#e4f900 37.5deg,#90e400 44.5deg,#05ba00 51deg,#00c62b 55.5deg,#00c528 59deg,#00bd0c 61deg,#00b900 61.5deg,#47ce00 63deg,#a1e900 64.5deg,#fafe00 66.5deg,#fe9d00 70deg,#fb8200 72deg,#fb8700 74.5deg,#ffc500 79deg,#f9fe00 82.5deg,#84e100 87.5deg,#2cc600 91deg,#00b900 93.5deg,#00ca36 99.5deg,#00e181 124deg,#00e6c0 138.5deg,#00e5b3 143.5deg,#00d968 154deg,#03ba00 161.5deg,#16c000 164deg,#00ba05 167deg,#00e39c 176.5deg,#00e9dd 181deg,#00e9e0 183.5deg,#00e6bb 186deg,#00d863 189.5deg,#00ba02 193deg,#9ae700 197deg,#d8f600 200deg,#ecfb00 202.5deg,#d8f600 206deg,#89e200 213deg,#01b900 221.5deg,#00cb3b 228deg,#00dd75 239.5deg,#00e9dd 248.5deg,#01e9f5 250.5deg,#3877fe 260.5deg,#3d6cff 264deg,#21a7fa 278deg,#19b6f9 299deg,#14c2f8 305.5deg,#00ebf0 310.5deg,#00e4a7 314.5deg,#00d457 317.5deg,#00b901 320.5deg,#79dd00 324deg,#9ae700 325.5deg,#abeb00 328.5deg,#96e600 339deg,#66d800 343deg,#00b901 348.5deg,#00e398 357.5deg,#00e7c4 360deg)"></i>
<i style="width:75px;height:75px;margin:-37.5px;background:conic-gradient(from 90deg,#00e8cd 0deg,#00eaf5 2.5deg,#1bb3f9 8deg,#1daffa 12deg,#0dcff7 15.5deg,#01e8f5 17deg,#00e5ac 20deg,#00d14d 23deg,#00bc09 25deg,#0bbc00 25.5deg,#93e500 28.5deg,#dcf700 31.5deg,#f5fd00 34deg,#e6f900 37deg,#92e500 44deg,#00ba03 51deg,#00c629 54.5deg,#00c62c 58deg,#00c018 60deg,#00ba03 61deg,#27c500 62deg,#9ce700 64deg,#f5fd00 66deg,#fff600 66.5deg,#ff9f00 69.5deg,#fb8300 71.5deg,#fb8500 74deg,#ffbb00 78deg,#fcfe00 82deg,#87e100 87deg,#2dc700 90.5deg,#01b900 93deg,#00ca36 99deg,#00e181 123.5deg,#00e6c0 138deg,#00e5b3 143deg,#00d968 153.5deg,#02ba00 161deg,#17c000 163.5deg,#00ba04 166.5deg,#00e39c 176deg,#00e9dd 180.5deg,#00e9e1 183deg,#00e6bc 185.5deg,#00d864 189deg,#00ba04 192.5deg,#97e600 196.5deg,#d7f500 199.5deg,#edfb00 202deg,#daf600 205.5deg,#8ae200 212.5deg,#02ba00 221deg,#00cb3b 227.5deg,#00dd75 239deg,#00e9dd 248deg,#01e8f5 250deg,#3876fe 260deg,#3d6cff 263.5deg,#21a7fa 277deg,#19b6f9 298deg,#14c2f8 305deg,#00ebf0 310deg,#00e4a7 314deg,#00d458 317deg,#00ba02 320deg,#84e100 324deg,#9fe800 325.5deg,#aceb00 329deg,#93e500 339deg,#5fd500 343deg,#00b900 348deg,#00e398 357deg,#00e8cd 360deg)"></i>
<i style="width:71px;height:71px;margin:-35.5px;background:conic-gradient(from 90deg,#00e8d6 0deg,#00eaf5 2deg,#1ab6f9 7deg,#1eadfa 11deg,#11c8f8 14.5deg,#01e8f5 16.5deg,#00e5ac 19.5deg,#00d65f 22deg,#00bd0c 24.5deg,#07bb00 25deg,#8ee400 28deg,#daf600 31deg,#f5fd00 33.5deg,#e7f900 36.5deg,#8ae200 44deg,#00ba02 50.5deg,#00c529 54deg,#00c72c 57.5deg,#00be11 60deg,#00bb06 60.5deg,#0bbc00 61deg,#57d300 62.5deg,#97e600 63.5deg,#fffb00 66deg,#ffa300 69deg,#fb8400 71deg,#fb8400 73.5deg,#ffb800 77.5deg,#fffe00 81.5deg,#8ae200 86.5deg,#39ca00 89.5deg,#02ba00 92.5deg,#00c935 98.5deg,#00e181 123deg,#00e6c1 138deg,#00e5ad 143.5deg,#00d969 153deg,#02b900 160.5deg,#18c000 163deg,#05ba00 165.5deg,#00ca37 169.5deg,#00e4a4 176deg,#00e9de 180deg,#00e9e2 182.5deg,#00e6bc 185deg,#00d865 188.5deg,#00bb06 192deg,#1ec200 193deg,#94e500 196deg,#d5f500 199deg,#edfb00 201.5deg,#e0f800 204.5deg,#8ce300 212deg,#00ba04 221deg,#00cb3b 227deg,#00dd75 238.5deg,#00e9dd 247.5deg,#01e8f5 249.5deg,#3975fe 259.5deg,#3d6cff 263deg,#21a7fa 276.5deg,#19b6f9 297.5deg,#15bff8 304deg,#00ebf0 309.5deg,#00e4a8 313.5deg,#00d559 316.5deg,#00ba05 319.5deg,#82e000 323.5deg,#9ee800 325deg,#aceb00 328.5deg,#94e500 338.5deg,#61d600 342.5deg,#01b900 347.5deg,#00e185 355.5deg,#00e8d6 360deg)"></i>
<i style="width:67px;height:67px;margin:-33.5px;background:conic-gradient(from 90deg,#00e9de 0deg,#00eaf5 1.5deg,#1ab5f9 6.5deg,#1eadfa 10.5deg,#11c8f8 14deg,#01e8f5 16deg,#00e5ae 19deg,#00d762 21.5deg,#02ba00 24.5deg,#9be700 28deg,#e1f800 31deg,#f6fd00 33.5deg,#dff700 37deg,#8de300 43.5deg,#00b901 50deg,#00c528 53.5deg,#00c72d 57deg,#00bf14 59.5deg,#05bb00 60.5deg,#4ed000 62deg,#a6ea00 63.5deg,#fdff00 65.5deg,#fe9c00 69deg,#fa8100 71deg,#fb8600 73.5deg,#ffc500 78deg,#fffb00 81deg,#8ee400 86deg,#3ccb00 89deg,#03ba00 92deg,#00ca38 98.5deg,#00e07f 122deg,#00e6c1 137.5deg,#00e5b1 142.5deg,#00da6a 152.5deg,#00b900 160deg,#19c000 162.5deg,#07bb00 165deg,#00bd0e 166.5deg,#00e39b 175deg,#00e9de 179.5deg,#00e9e3 182deg,#00e6bd 184.5deg,#00d967 188deg,#00bc09 191.5deg,#07bb00 192deg,#9de800 196deg,#dbf600 199deg,#eefb00 201.5deg,#d8f600 205deg,#86e100 212deg,#00ba02 220.5deg,#00cb3b 226.5deg,#00dd74 238deg,#00e8d7 246.5deg,#01e8f5 249deg,#3778fe 258.5deg,#3e6bff 262deg,#21a7fa 276deg,#19b6f9 297deg,#15bff8 303.5deg,#00ebf0 309deg,#00e4a9 313deg,#00d55c 316deg,#00bb08 319deg,#1bc100 320deg,#7fdf00 323deg,#9de800 324.5deg,#aceb00 328deg,#95e600 338deg,#6cd900 341.5deg,#04ba00 347deg,#00dc71 354deg,#00e9de 360deg)"></i>
<i style="width:63px;height:63px;margin:-31.5px;background:conic-gradient(from 90deg,#00eae6 0deg,#03e4f6 1.5deg,#1bb2f9 6.5deg,#1daefa 10.5deg,#0ecef7 14deg,#00eaef 16deg,#00e184 20deg,#00ba03 24deg,#97e600 27.5deg,#def700 30.5deg,#f5fd00 32.5deg,#effb00 35deg,#90e400 43deg,#01b900 49.5deg,#00c62b 53.5deg,#00c62c 57deg,#00c017 59deg,#00b901 60deg,#45ce00 61.5deg,#9ee800 63deg,#f5fd00 65deg,#ffe600 66deg,#fe9600 69deg,#fa7f00 71deg,#fb8800 73.5deg,#ffd300 78.5deg,#fcfe00 81deg,#83e000 86deg,#34c800 89deg,#00ba02 92deg,#00c935 97.5deg,#00e180 122deg,#00e6c1 137deg,#00e5b1 142deg,#00d866 152.5deg,#00b901 159.5deg,#19c000 162deg,#0fbe00 164deg,#00bb05 165.5deg,#00e4a2 175deg,#00e9de 179deg,#00eae4 181.5deg,#00e6bf 184deg,#00d96a 187.5deg,#02b900 191.5deg,#9ae700 195.5deg,#e0f800 199deg,#eefb00 201.5deg,#cff400 205.5deg,#89e200 211.5deg,#00b901 220deg,#00cb3a 226deg,#00de77 238deg,#01e9f5 248.5deg,#3877fe 258deg,#3e6aff 261.5deg,#21a7fa 275.5deg,#19b6f9 296.5deg,#14c1f8 303.5deg,#00ebf1 308.5deg,#00e5ab 312.5deg,#00d251 316deg,#04ba00 319deg,#7bde00 322.5deg,#9be700 324deg,#aceb00 327deg,#93e500 338deg,#5dd500 342deg,#00ba03 347deg,#00e395 355.5deg,#00eae6 360deg)"></i>
<i style="width:59px;height:59px;margin:-29.5px;background:conic-gradient(from 90deg,#00eaed 0deg,#06def6 1.5deg,#1bb2f9 6deg,#1eadfa 10deg,#0ecdf7 13.5deg,#00ebf1 15.5deg,#00e188 19.5deg,#00bb08 23.5deg,#0bbc00 24deg,#8fe400 27deg,#dbf600 30deg,#f4fc00 32deg,#f1fc00 34.5deg,#94e500 42.5deg,#05ba00 49deg,#00c62a 53deg,#00c72d 56.5deg,#00be11 59deg,#00bb06 59.5deg,#0bbc00 60deg,#57d300 61.5deg,#96e600 62.5deg,#fffd00 65deg,#ffa500 68deg,#fb8400 70deg,#fa7e00 72deg,#ffa500 75.5deg,#fffd00 80.5deg,#88e200 85.5deg,#37c900 88.5deg,#00b900 91.5deg,#00c934 97deg,#00e080 121.5deg,#00e6c1 136.5deg,#00e5b2 141.5deg,#00d967 152deg,#04ba00 159.5deg,#1ac100 162deg,#00ba03 165deg,#00e4a0 174.5deg,#00e9de 178.5deg,#00eae7 180.5deg,#00e8d4 182.5deg,#00de79 186.5deg,#00ba03 191deg,#95e600 195deg,#def700 198.5deg,#effb00 201deg,#d1f400 205deg,#8ce300 211deg,#01b900 219.5deg,#00cc3c 226deg,#00dd76 237.5deg,#00eae9 247deg,#03e4f6 248.5deg,#3a73fe 258deg,#3e6bff 261.5deg,#21a7fa 275deg,#19b6f9 296deg,#14c1f8 303deg,#00ebf2 308deg,#00e5ad 312deg,#00d354 315.5deg,#00b901 318.5deg,#84e100 322.5deg,#9fe800 324deg,#adeb00 327.5deg,#95e600 337.5deg,#69d800 341deg,#00b901 346.5deg,#00e289 354.5deg,#00eaed 360deg)"></i>
<i style="width:55px;height:55px;margin:-27.5px;background:conic-gradient(from 90deg,#00ebf3 0deg,#1bb2f9 5.5deg,#1eadfa 9.5deg,#0fccf7 13deg,#00ebf3 15deg,#00e28c 19deg,#04ba00 23.5deg,#9ae700 27deg,#e0f800 30deg,#f6fd00 32deg,#effb00 34.5deg,#8ee400 42.5deg,#00ba02 49deg,#00c62a 52.5deg,#00c72e 56deg,#00c015 58.5deg,#02ba00 59.5deg,#4bcf00 61deg,#a3e900 62.5deg,#f9fd00 64.5deg,#ffc600 66.5deg,#fc8d00 69deg,#fa7d00 71deg,#fc8d00 73.5deg,#ffef00 79.5deg,#fbfe00 80.5deg,#7edf00 85.5deg,#30c700 88.5deg,#02ba00 91deg,#00ca36 97deg,#00e07f 121deg,#00e6c1 136deg,#00e5b3 141deg,#00d969 151.5deg,#02ba00 159deg,#1bc100 161.5deg,#0ebd00 163.5deg,#00bb07 165deg,#00e39e 174deg,#00e9e2 178.5deg,#00eae6 180.5deg,#00e7c4 183deg,#00d864 187deg,#00bb08 190.5deg,#08bb00 191deg,#9ce800 195deg,#e2f800 198.5deg,#effb00 201deg,#c9f200 205.5deg,#87e100 211deg,#00ba03 219.5deg,#00cb3b 225.5deg,#00dd75 237deg,#00e9e1 246deg,#03e5f5 248deg,#3a73fe 257.5deg,#3e6bff 261deg,#21a7fa 274.5deg,#19b6f9 295.5deg,#14c0f8 302.5deg,#00ebf3 307.5deg,#00e5b0 311.5deg,#00d459 315deg,#00bb06 318deg,#1cc100 319deg,#7fdf00 322deg,#9de800 323.5deg,#adeb00 326.5deg,#92e500 337.5deg,#64d700 341deg,#03ba00 346deg,#00dd74 353deg,#00ebf3 360deg)"></i>
<i style="width:51px;height:51px;margin:-25.5px;background:conic-gradient(from 90deg,#02e8f5 0deg,#1bb3f9 5deg,#1eacfa 9deg,#10caf8 12.5deg,#00eaf5 14.5deg,#00e291 18.5deg,#00ba04 23deg,#93e500 26.5deg,#dcf700 29.5deg,#f6fd00 31.5deg,#f1fc00 34deg,#93e500 42deg,#02b900 48.5deg,#00c629 52deg,#00c72e 55.5deg,#00c119 58deg,#00ba05 59deg,#24c400 60deg,#99e700 62deg,#fffc00 64.5deg,#fe9a00 68deg,#fa7f00 70deg,#fb8400 72.5deg,#ffc600 77deg,#fffd00 80deg,#85e100 85deg,#34c900 88deg,#00ba02 91deg,#00c935 96.5deg,#00e07f 120.5deg,#00e7c2 136deg,#00e5b1 141deg,#00d866 151.5deg,#00b901 158.5deg,#1bc100 161deg,#11be00 163deg,#00ba04 164.5deg,#00e39b 173.5deg,#00e9e2 178deg,#00eae8 180deg,#00e7c8 182.5deg,#00d968 186.5deg,#00b900 190.5deg,#97e600 194.5deg,#dff700 198deg,#f0fb00 200.5deg,#d1f400 204.5deg,#8ae300 210.5deg,#00b901 219deg,#00cb3a 225deg,#00dc73 236.5deg,#00e8d8 245deg,#02e7f5 247.5deg,#3a73fe 257deg,#3e6aff 260.5deg,#21a7fa 274deg,#19b6f9 295deg,#15c0f8 302deg,#00ebf5 307deg,#00e5b4 311deg,#00d65d 314.5deg,#03ba00 318deg,#7ade00 321.5deg,#9be700 323deg,#adeb00 326deg,#94e500 337deg,#68d800 340.5deg,#00ba02 346deg,#00e28d 354deg,#00ebf1 359.5deg,#02e8f5 360deg)"></i>
<i style="width:47px;height:47px;margin:-23.5px;background:conic-gradient(from 90deg,#04e3f6 0deg,#1cb0fa 5deg,#1eadfa 9deg,#0ecff7 12.5deg,#00eaef 14.5deg,#00de79 19deg,#00bc0b 22.5deg,#07bb00 23deg,#9be700 26.5deg,#e1f800 29.5deg,#f7fd00 31.5deg,#f0fb00 34deg,#8de300 42deg,#00ba03 48.5deg,#00c62b 52deg,#00c72e 55.5deg,#00c015 58deg,#03ba00 59deg,#4cd000 60.5deg,#a3e900 62deg,#f8fd00 64deg,#ffc700 66deg,#fc8d00 68.5deg,#fa7c00 70.5deg,#fc8c00 73deg,#ffef00 79deg,#fbfe00 80deg,#8de300 84.5deg,#39ca00 87.5deg,#01b900 90.5deg,#00ca37 96.5deg,#00e07e 120deg,#00e7c2 135.5deg,#00e5b2 140.5deg,#00d968 151deg,#04ba00 158.5deg,#1cc100 161deg,#0ebd00 163deg,#00bb08 164.5deg,#00e4a1 173.5deg,#00e9e0 177.5deg,#00eae9 179.5deg,#00e8d5 181.5deg,#00db6d 186deg,#00bb06 190deg,#1dc200 191deg,#9de800 194.5deg,#e3f800 198deg,#f0fb00 200.5deg,#c9f200 205deg,#86e100 210.5deg,#03ba00 218.5deg,#00cc3c 225deg,#00dd76 236.5deg,#00eaea 246deg,#04e2f6 247.5deg,#3974fe 256.5deg,#3e6aff 260deg,#21a7fa 273.5deg,#19b6f9 294.5deg,#15bff8 301.5deg,#00ebf1 307deg,#00e5ad 311deg,#00d355 314.5deg,#00ba04 317.5deg,#8ee400 322deg,#a7ea00 324deg,#aaeb00 328.5deg,#92e500 337deg,#63d700 340.5deg,#01b900 345.5deg,#00e080 353deg,#01eaf5 359.5deg,#04e3f6 360deg)"></i>
<i style="width:43px;height:43px;margin:-21.5px;background:conic-gradient(from 90deg,#06dff6 0deg,#1cb1f9 4.5deg,#1eacfa 8.5deg,#0fccf7 12deg,#00ebf3 14deg,#00e080 18.5deg,#00ba03 22.5deg,#92e500 26deg,#dcf700 29deg,#f6fd00 31deg,#f2fc00 33.5deg,#93e500 41.5deg,#01b900 48deg,#00c62a 51.5deg,#00c72f 55deg,#00c11a 57.5deg,#00bb05 58.5deg,#0cbd00 59deg,#59d400 60.5deg,#98e600 61.5deg,#fffd00 64deg,#fe9b00 67.5deg,#fa7f00 69.5deg,#fa7f00 71.5deg,#ffb400 75.5deg,#fffc00 79.5deg,#85e100 84.5deg,#33c800 87.5deg,#00ba02 90.5deg,#00ca36 96deg,#00e07f 120deg,#00e7c2 135.5deg,#00e5ad 141deg,#00d865 151deg,#00b900 158deg,#1cc100 160.5deg,#12be00 162.5deg,#00ba04 164deg,#00e39d 173deg,#00eae4 177.5deg,#00eae8 179.5deg,#00e7c6 182deg,#00d966 186deg,#01b900 190deg,#97e600 194deg,#dff700 197.5deg,#f0fb00 200deg,#d2f400 204deg,#8be300 210deg,#00b901 218.5deg,#00cb3b 224.5deg,#00dd74 236deg,#00e9da 244.5deg,#00ebf5 246.5deg,#3975fe 256deg,#3e6aff 259.5deg,#21a7fa 273.5deg,#19b6f9 294.5deg,#15c0f8 301.5deg,#00ebf3 306.5deg,#00e5b2 310.5deg,#00d969 313.5deg,#04ba00 317.5deg,#7ade00 321deg,#9be700 322.5deg,#adeb00 325.5deg,#95e600 336.5deg,#68d800 340deg,#00ba03 345.5deg,#00e185 353deg,#00ebf4 359deg,#06dff6 360deg)"></i>
<i style="width:39px;height:39px;margin:-19.5px;background:conic-gradient(from 90deg,#08dbf6 0deg,#1daffa 4.5deg,#1eadfa 8.5deg,#0dd0f7 12deg,#01e9f5 13.5deg,#00e4a4 17deg,#00cb3b 20.5deg,#06bb00 22.5deg,#99e700 26deg,#e9fa00 29.5deg,#f9fe00 31.5deg,#e7f900 34.5deg,#8fe400 41.5deg,#00ba03 48deg,#00c62b 51.5deg,#00c72c 55.5deg,#00c017 57.5deg,#00b900 58.5deg,#48cf00 60deg,#a0e800 61.5deg,#f5fd00 63.5deg,#fff700 64deg,#fe9700 67.5deg,#fa7d00 69.5deg,#fb8400 72deg,#ffd100 77deg,#feff00 79.5deg,#8fe400 84deg,#39ca00 87deg,#01b900 90deg,#00ca37 96deg,#00e07e 119.5deg,#00e7c2 135deg,#00e5b1 140deg,#00d968 150.5deg,#04ba00 158deg,#1dc200 160.5deg,#10be00 162.5deg,#00b900 163.5deg,#00e4a2 173deg,#00e9e2 177deg,#00eaea 179deg,#00e8d4 181deg,#00da6d 185.5deg,#00bb07 189.5deg,#1cc100 190.5deg,#9ce700 194deg,#e2f800 197.5deg,#f0fc00 200deg,#caf200 204.5deg,#87e100 210deg,#00ba04 218.5deg,#00cb39 224deg,#00dd76 236deg,#02e7f5 246.5deg,#3a72fe 256deg,#3e6aff 259.5deg,#21a7fa 273deg,#19b6f9 294deg,#15bff8 301deg,#00ebef 306.5deg,#00e5ac 310.5deg,#00d355 314deg,#00ba04 317deg,#8ee300 321.5deg,#a7ea00 323.5deg,#aaeb00 328deg,#93e500 336.5deg,#65d700 340deg,#02ba00 345deg,#00de77 352deg,#00ebf0 358.5deg,#08dbf6 360deg)"></i>
<i style="width:35px;height:35px;margin:-17.5px;background:conic-gradient(from 90deg,#09d8f7 0deg,#1daefa 4.5deg,#1daffa 8.5deg,#0bd4f7 12deg,#00ebf2 13.5deg,#00e080 18deg,#00bb05 22deg,#39ca00 23.5deg,#9ee800 26deg,#e4f800 29deg,#f9fe00 31deg,#effb00 33.5deg,#8be300 41.5deg,#02ba00 47.5deg,#00c62a 51deg,#00c82f 54.5deg,#00c21c 57deg,#07bb00 58.5deg,#53d200 60deg,#91e500 61deg,#fcfe00 63.5deg,#fd9400 67.5deg,#fa7c00 69.5deg,#fb8600 72deg,#ffd400 77deg,#f9fe00 79.5deg,#88e200 84deg,#35c900 87deg,#00b902 90deg,#00c936 95.5deg,#00e07f 119.5deg,#00e7c2 135deg,#00e5ad 140.5deg,#00d866 150.5deg,#00b901 157.5deg,#1dc200 160deg,#14bf00 162deg,#00ba03 163.5deg,#00e39d 172.5deg,#00eae5 177deg,#00eae9 179deg,#00e7c6 181.5deg,#00d967 185.5deg,#00b901 189.5deg,#93e500 193.5deg,#def700 197deg,#f1fc00 199.5deg,#d8f600 203deg,#8ce300 209.5deg,#00b900 218deg,#00cb3b 224deg,#00dc73 235.5deg,#00e9da 244deg,#00eaf5 246deg,#3a73fe 255.5deg,#3e6aff 258.5deg,#20a8fa 273deg,#19b6f9 294.5deg,#14c0f8 301deg,#00ebf3 306deg,#00e5b2 310deg,#00d55c 313.5deg,#01b900 317deg,#86e100 321deg,#a0e800 322.5deg,#adec00 325.5deg,#92e500 336.5deg,#61d600 340deg,#00ba02 345deg,#00e185 352.5deg,#00ebf5 358.5deg,#09d8f7 360deg)"></i>
<i style="width:31px;height:31px;margin:-15.5px;background:conic-gradient(from 90deg,#0bd5f7 0deg,#1daffa 4deg,#1eadfa 8deg,#0dd0f7 11.5deg,#01e8f5 13deg,#00e4a5 16.5deg,#00cc3e 20deg,#01b900 22deg,#95e600 25.5deg,#e7f900 29deg,#fafe00 31deg,#e9fa00 34deg,#92e500 41deg,#00b902 47.5deg,#00c62b 51deg,#00c72d 55deg,#00c11a 57deg,#00ba04 58deg,#25c400 59deg,#9ae700 61deg,#fffc00 63.5deg,#fe9b00 67deg,#fa7e00 69deg,#fa7e00 71deg,#ffb300 75deg,#fffd00 79deg,#82e000 84deg,#31c800 87deg,#03ba00 89.5deg,#00ca37 95.5deg,#00e07d 119deg,#00e7c2 134.5deg,#00e5b2 139.5deg,#00d969 150deg,#02ba00 157.5deg,#1ec200 160deg,#12be00 162deg,#00bb06 163.5deg,#00e4a1 172.5deg,#00e9e2 176.5deg,#00eaeb 178.5deg,#00e8d6 180.5deg,#00db6e 185deg,#05bb00 189.5deg,#98e700 193.5deg,#e0f800 197deg,#f1fc00 199.5deg,#d1f400 203.5deg,#89e200 209.5deg,#00ba02 218deg,#00cb39 223.5deg,#00dd75 235.5deg,#00eaeb 245deg,#08dbf6 247deg,#3b71fe 255.5deg,#3e6aff 259deg,#21a6fa 272deg,#19b6f9 293deg,#15bff8 300.5deg,#00ebf0 306deg,#00e5ae 310deg,#00d457 313.5deg,#00bb07 316.5deg,#1ac100 317.5deg,#8be300 321deg,#a7ea00 323deg,#aceb00 327deg,#90e400 336.5deg,#5ed500 340deg,#04ba00 344.5deg,#00d762 350.5deg,#00e9df 357deg,#01e8f5 358.5deg,#0bd5f7 360deg)"></i>
<i style="width:27px;height:27px;margin:-13.5px;background:conic-gradient(from 90deg,#0cd2f7 0deg,#1eaefa 4deg,#1daefa 8deg,#0cd3f7 11.5deg,#00ebf4 13deg,#00e184 17.5deg,#00bc0a 21.5deg,#08bb00 22deg,#99e700 25.5deg,#e9fa00 29deg,#fafe00 31deg,#e7f900 34deg,#8fe400 41deg,#06bb00 47deg,#00c72c 51deg,#00c72c 55deg,#00c017 57deg,#00b900 58deg,#47ce00 59.5deg,#a0e800 61deg,#f4fc00 63deg,#fff800 63.5deg,#fe9800 67deg,#fa7d00 69deg,#fa7e00 71deg,#ffb500 75deg,#ffff00 79deg,#8ee400 83.5deg,#38ca00 86.5deg,#00b900 89.5deg,#00c935 95deg,#00e07e 119deg,#00e7c3 134.5deg,#00e5b1 139.5deg,#00d967 150deg,#05bb00 157.5deg,#1dc200 159.5deg,#16c000 161.5deg,#00b901 163deg,#00e39b 172deg,#00eae5 176.5deg,#00eaeb 178.5deg,#00e7c9 181deg,#00da6a 185deg,#00bb05 189deg,#1dc200 190deg,#9ce700 193.5deg,#e3f800 197deg,#f1fc00 199.5deg,#caf200 204deg,#87e100 209.5deg,#02ba00 217.5deg,#00cb3a 223.5deg,#00dd76 235.5deg,#00ebf5 245.5deg,#3a73fe 255deg,#3e6aff 258.5deg,#21a7fa 272deg,#19b6f9 293deg,#15c0f8 300.5deg,#00ebf4 305.5deg,#00e5b5 309.5deg,#00d760 313deg,#00ba03 316.5deg,#8fe400 321deg,#a8ea00 323deg,#aaeb00 327.5deg,#94e500 336deg,#65d700 339.5deg,#01b900 344.5deg,#00de79 351.5deg,#00ebf3 358deg,#0cd2f7 360deg)"></i>
<i style="width:23px;height:23px;margin:-11.5px;background:conic-gradient(from 90deg,#0dd0f7 0deg,#1eadfa 4deg,#1daffa 8deg,#0bd5f7 11.5deg,#00ebf1 13deg,#00e080 17.5deg,#00bb06 21.5deg,#22c300 22.5deg,#9de800 25.5deg,#ebfa00 29deg,#fbfe00 31deg,#e6f900 34deg,#8ce300 41deg,#02ba00 47deg,#00c62a 50.5deg,#00c72e 54.5deg,#00c015 57deg,#04ba00 58deg,#4ed000 59.5deg,#a5ea00 61deg,#f8fd00 63deg,#ffd600 64.5deg,#fc8d00 67.5deg,#f97a00 69.5deg,#fc8900 72deg,#ffee00 78deg,#fcfe00 79deg,#8ae200 83.5deg,#35c900 86.5deg,#00b901 89.5deg,#00ca36 95deg,#00e07f 119deg,#00e7c3 134.5deg,#00e5ad 140deg,#00d866 150deg,#00b901 157deg,#1ec200 159.5deg,#15bf00 161.5deg,#00ba02 163deg,#00e39e 172deg,#00eae7 176.5deg,#00eaea 178.5deg,#00e7c6 181deg,#00d967 185deg,#00ba02 189deg,#9fe800 193.5deg,#e4f900 197deg,#f1fc00 199.5deg,#c3f100 204.5deg,#85e100 209.5deg,#00b900 217.5deg,#00cb3b 223.5deg,#00dc73 235deg,#00e9db 243.5deg,#01e9f5 245.5deg,#3b71fe 255deg,#3e6aff 258.5deg,#21a7fa 272deg,#19b6f9 293deg,#16bef8 300deg,#00ebf2 305.5deg,#00e5b2 309.5deg,#00d55c 313deg,#00b900 316.5deg,#85e100 320.5deg,#a0e800 322deg,#aeec00 325deg,#93e500 336deg,#62d600 339.5deg,#00b901 344.5deg,#00df7c 351.5deg,#00eaf5 358deg,#0dd0f7 360deg)"></i>
<i style="width:19px;height:19px;margin:-9.5px;background:conic-gradient(from 90deg,#0ecef7 0deg,#1eacfa 4deg,#1daffa 8deg,#0ad7f7 11.5deg,#00eaef 13deg,#00e07d 17.5deg,#00ba03 21.5deg,#9fe800 25.5deg,#e4f900 28.5deg,#fafe00 30.5deg,#f0fb00 33deg,#8be300 41deg,#00b900 47deg,#00c62b 50.5deg,#00c72e 54.5deg,#00bf14 57deg,#07bb00 58deg,#53d200 59.5deg,#92e500 60.5deg,#fbfe00 63deg,#fd9500 67deg,#f97b00 69deg,#fa7f00 71deg,#ffc100 75.5deg,#fafe00 79deg,#87e200 83.5deg,#3ecc00 86deg,#00ba02 89.5deg,#00ca36 95deg,#00df7d 118.5deg,#00e7c3 134.5deg,#00e5ac 140deg,#00d865 150deg,#01b900 157deg,#1ec200 159.5deg,#14bf00 161.5deg,#00ba04 163deg,#00e4a0 172deg,#00e9e3 176deg,#00eaec 178deg,#00e8d7 180deg,#00d865 185deg,#00b900 189deg,#94e500 193deg,#def700 196.5deg,#f2fc00 199deg,#d9f600 202.5deg,#8ce300 209deg,#00b901 217.5deg,#00ca38 223deg,#00dd74 235deg,#00e9e3 244deg,#01e8f5 245.5deg,#3b70ff 255deg,#3d6bff 259deg,#21a6fa 271.5deg,#19b6f9 292.5deg,#15bef8 300deg,#00ebf0 305.5deg,#00e5b0 309.5deg,#00d55a 313deg,#03ba00 316.5deg,#87e200 320.5deg,#a6ea00 322.5deg,#aceb00 326.5deg,#92e500 336deg,#61d600 339.5deg,#00ba03 344.5deg,#00e07d 351.5deg,#00ebf0 357.5deg,#0ecef7 360deg)"></i>
<i style="width:15px;height:15px;margin:-7.5px;background:conic-gradient(from 90deg,#0ecef7 0deg,#1eacfa 4deg,#1daffa 8deg,#0ad7f7 11.5deg,#00eaef 13deg,#00e07d 17.5deg,#00ba03 21.5deg,#9fe800 25.5deg,#e4f900 28.5deg,#fafe00 30.5deg,#f0fb00 33deg,#8be300 41deg,#00b900 47deg,#00c62b 50.5deg,#00c72e 54.5deg,#00bf14 57deg,#07bb00 58deg,#53d200 59.5deg,#91e500 60.5deg,#fbfe00 63deg,#fd9500 67deg,#f97b00 69deg,#fa7f00 71deg,#ffc100 75.5deg,#fafe00 79deg,#87e100 83.5deg,#3ecc00 86deg,#00ba02 89.5deg,#00ca36 95deg,#00df7d 118.5deg,#00e7c3 134.5deg,#00e5ac 140deg,#00d865 150deg,#01b900 157deg,#1ec200 159.5deg,#14bf00 161.5deg,#00ba04 163deg,#00e4a0 172deg,#00e9e3 176deg,#00eaed 178deg,#00e8d7 180deg,#00d865 185deg,#00b900 189deg,#94e500 193deg,#def700 196.5deg,#f2fc00 199deg,#d9f600 202.5deg,#8ce300 209deg,#00b901 217.5deg,#00ca38 223deg,#00dd74 235deg,#00e9e3 244deg,#01e8f5 245.5deg,#3b70ff 255deg,#3d6bff 259deg,#21a6fa 271.5deg,#19b6f9 292.5deg,#15bef8 300deg,#00ebf0 305.5deg,#00e5b0 309.5deg,#00d55a 313deg,#03ba00 316.5deg,#87e200 320.5deg,#a6ea00 322.5deg,#aceb00 326.5deg,#92e500 336deg,#61d600 339.5deg,#00ba03 344.5deg,#00e07d 351.5deg,#00ebf0 357.5deg,#0ecef7 360deg)"></i></div></div>
<div class="d" style="left:288.1px;top:70.6px;width:318.8px;height:318.8px;clip-path:polygon(159.4px 159.4px,338.11px -150.135px,338.11px 468.935px);"><div style="position:absolute;left:0;top:0;width:318.8px;height:318.8px;clip-path:circle(155.4px at 50% 50%)"><div class="bl" style="left:159.4px;top:159.4px"><i style="width:313.8px;height:313.8px;margin:-156.9px;background:conic-gradient(from 29deg,#4140e5 0deg,#4045ee 30.5deg,#3e6aff 41deg,#3f58f6 67deg,#3e6aff 85deg,#1bb3f9 97.5deg,#18b9f9 104.5deg,#2799fb 111deg,#3e67fe 117deg,#3f58f6 122deg)"></i>
<i style="width:309.8px;height:309.8px;margin:-154.9px;background:conic-gradient(from 29deg,#4140e5 0deg,#4045ed 30.5deg,#3e6bff 39deg,#3283fd 42deg,#3975fe 47.5deg,#3e66fd 54.5deg,#3e60fa 77deg,#3a72fe 85.5deg,#19b7f9 98deg,#17bcf9 105deg,#279afb 111.5deg,#3e67fe 117.5deg,#3f59f7 122deg)"></i>
<i style="width:305.8px;height:305.8px;margin:-152.9px;background:conic-gradient(from 29deg,#4140e5 0deg,#4045ed 30.5deg,#3e69ff 38.5deg,#2799fb 42deg,#22a3fb 46deg,#3e68fe 63deg,#3e66fd 80.5deg,#3975fe 85.5deg,#17bbf9 98.5deg,#15bef8 105.5deg,#269cfb 112deg,#3e69fe 117.5deg,#3f5af7 122deg)"></i>
<i style="width:301.8px;height:301.8px;margin:-150.9px;background:conic-gradient(from 29deg,#4140e5 0deg,#4046ee 31deg,#3e69ff 38.5deg,#1cb1fa 42.5deg,#10cbf8 46deg,#12c5f8 52deg,#3e6bff 69.5deg,#3e6aff 82.5deg,#15bff8 99deg,#14c1f8 106deg,#269dfb 112.5deg,#3e68fe 118deg,#3f5bf8 122deg)"></i>
<i style="width:297.8px;height:297.8px;margin:-148.9px;background:conic-gradient(from 29deg,#4140e5 0deg,#4045ed 31deg,#3e65fc 38deg,#367cfe 39.5deg,#0dcff7 43.5deg,#00ebf2 46deg,#00e9de 50deg,#00eaef 55deg,#08daf6 58deg,#3974fe 72deg,#3e68fe 76.5deg,#3b71fe 83.5deg,#14c2f8 99.5deg,#13c3f8 106.5deg,#259ffb 113deg,#3e68fe 118.5deg,#3f5cf8 122deg)"></i>
<i style="width:293.8px;height:293.8px;margin:-146.9px;background:conic-gradient(from 29deg,#4140e5 0deg,#4046ee 31.5deg,#3e66fd 38.5deg,#3975fe 39.5deg,#03e4f6 44deg,#00e9dc 45.5deg,#00e5ac 49deg,#00e4a0 52.5deg,#00e6b7 56.5deg,#02e7f5 62deg,#3973fe 74.5deg,#3e6aff 79.5deg,#3186fd 87.5deg,#13c4f8 100deg,#12c6f8 107deg,#22a5fa 113deg,#3e68fe 119deg,#3f5df9 122deg)"></i>
<i style="width:289.8px;height:289.8px;margin:-144.9px;background:conic-gradient(from 29deg,#4140e5 0deg,#4045ed 31.5deg,#3e63fc 38.5deg,#3e6aff 39.5deg,#02e7f5 44deg,#00e397 48deg,#00dc71 51deg,#00da6a 54deg,#00e184 57.5deg,#01e9f5 66deg,#347efd 74.5deg,#3d6cff 79deg,#3381fd 86.5deg,#11c7f8 100.5deg,#10c9f8 107.5deg,#20a7fa 113.5deg,#3e68fe 119.5deg,#3f5ffa 122deg)"></i>
<i style="width:285.8px;height:285.8px;margin:-142.9px;background:conic-gradient(from 29deg,#4140e5 0deg,#4045ee 32deg,#3e63fb 39deg,#3e6aff 40deg,#00ebf3 44.5deg,#00e28b 48deg,#00d354 51deg,#00cd41 54deg,#00d251 57deg,#00e5ad 63.5deg,#00eaf5 68.5deg,#3088fd 74.5deg,#3b6fff 78.5deg,#367afe 85deg,#10c9f8 101deg,#0fccf7 108deg,#1fabfa 114deg,#3e68fe 120deg,#3e60fa 122deg)"></i>
<i style="width:281.8px;height:281.8px;margin:-140.9px;background:conic-gradient(from 29deg,#4140e5 0deg,#4046ee 32.5deg,#3e62fb 39.5deg,#3a73fe 41deg,#01eaf5 45deg,#00e185 48.5deg,#00ce46 51.5deg,#00c72e 54deg,#00ca37 57deg,#00e39f 65deg,#00e8d5 68.5deg,#01e8f5 70deg,#2c8ffc 74.5deg,#3a72fe 78deg,#3876fe 84deg,#0fcdf7 102deg,#0ecef7 109deg,#1daffa 114.5deg,#3e69fe 120.5deg,#3e62fb 122deg)"></i>
<i style="width:277.8px;height:277.8px;margin:-138.9px;background:conic-gradient(from 29deg,#4140e5 0deg,#4046ee 33deg,#3e64fc 40.5deg,#3d6cff 41.5deg,#00ebf1 46deg,#00e28e 49deg,#00d04c 52deg,#00c932 54.5deg,#00cb39 57.5deg,#00e49f 67deg,#00e8d4 69.5deg,#00ebf0 70.5deg,#2d8dfc 75deg,#3b70ff 78.5deg,#3876fe 84.5deg,#0ecff7 102.5deg,#0cd3f7 109.5deg,#1ab5f9 115deg,#3876fe 120deg,#3e64fc 122deg)"></i>
<i style="width:273.8px;height:273.8px;margin:-136.9px;background:conic-gradient(from 29deg,#4140e5 0deg,#4046ee 33.5deg,#3e65fc 41.5deg,#367bfe 43deg,#00ebf5 47deg,#00e398 50deg,#00d65f 53deg,#00d04b 55.5deg,#00d459 59deg,#00df7c 64deg,#00e28e 67deg,#00e7c1 69.5deg,#00ebf0 71deg,#2c8ffc 75deg,#3b71fe 78deg,#3c6fff 83deg,#21a5fa 94deg,#0ad6f7 104.5deg,#0ad6f7 111deg,#18b8f9 116deg,#3779fe 120.5deg,#3e67fd 122deg)"></i>
<i style="width:269.8px;height:269.8px;margin:-134.9px;background:conic-gradient(from 29deg,#4140e5 0deg,#4045ee 34deg,#3e65fc 42.5deg,#3778fe 44deg,#00ebf2 48.5deg,#00e5ae 51deg,#00e07e 54.5deg,#00dd76 57.5deg,#00e188 63deg,#00e185 66.5deg,#00e39e 68.5deg,#02e8f5 71.5deg,#2899fb 74.5deg,#3975fe 77deg,#3e6aff 80.5deg,#357dfd 87.5deg,#0ad6f7 104deg,#06dff6 111deg,#11c8f8 116deg,#2799fb 119.5deg,#3e6aff 122deg)"></i>
<i style="width:265.8px;height:265.8px;margin:-132.9px;background:conic-gradient(from 29deg,#4140e5 0deg,#4045ed 34.5deg,#3e66fd 44deg,#357cfe 45.5deg,#02e7f5 50deg,#00e7c7 52.5deg,#00e5ab 57deg,#00e4a6 62.5deg,#00e28c 66.5deg,#00e39e 68.5deg,#00e8d4 70.5deg,#01e9f5 71.5deg,#2897fc 74.5deg,#3a71fe 77deg,#3e68fe 81deg,#3778fe 87deg,#07ddf6 105.5deg,#02e7f5 113deg,#0cd2f7 117deg,#2897fb 120.5deg,#3877fe 122deg)"></i>
<i style="width:261.8px;height:261.8px;margin:-130.9px;background:conic-gradient(from 29deg,#4140e5 0deg,#4046ee 35.5deg,#3e69ff 46deg,#14c2f8 50.5deg,#00eaf5 52.5deg,#00eae7 55deg,#00e8d5 61.5deg,#00e39c 66.5deg,#00e4a0 68deg,#00e7c9 70deg,#03e5f5 71.5deg,#2b93fc 74.5deg,#3d6dff 77deg,#3e6bff 85deg,#00eaf5 108deg,#00eae7 115deg,#03e5f5 117.5deg,#1eacfa 120.5deg,#3087fd 122deg)"></i>
<i style="width:257.8px;height:257.8px;margin:-128.9px;background:conic-gradient(from 29deg,#4140e5 0deg,#4045ed 36deg,#3e68fe 47.5deg,#259efb 51deg,#0dd0f7 53.5deg,#0ad6f7 55.5deg,#0cd3f7 59.5deg,#00ebf3 62.5deg,#00e5b4 66.5deg,#00e5b3 68deg,#00e7cb 69.5deg,#00eaf5 71deg,#2e8cfc 74.5deg,#3d6bff 76.5deg,#3e69fe 85deg,#20a9fa 96.5deg,#00ebf3 107.5deg,#00e7c9 115.5deg,#00e8d7 117.5deg,#00ebf5 119deg,#279afb 122deg)"></i>
<i style="width:253.8px;height:253.8px;margin:-126.9px;background:conic-gradient(from 29deg,#4140e5 0deg,#4045ee 37deg,#3c6dff 50.5deg,#21a5fa 53.5deg,#15c0f8 55deg,#16bdf9 57deg,#1cb1fa 59.5deg,#13c4f8 62deg,#00ebf3 64.5deg,#00e8cf 67deg,#00e8d3 68.5deg,#02e6f5 70.5deg,#3779fe 75deg,#3e68fe 76.5deg,#3e6aff 86.5deg,#00ebf1 107deg,#00e4a1 115.5deg,#00e5aa 117.5deg,#00e9d9 119.5deg,#03e5f5 120.5deg,#1bb2f9 122deg)"></i>
<i style="width:249.8px;height:249.8px;margin:-124.9px;background:conic-gradient(from 29deg,#4140e5 0deg,#4045ee 38deg,#3d6dff 53deg,#1ab5f9 56.5deg,#1ab4f9 58deg,#24a0fb 60.5deg,#1eadfa 62.5deg,#01e9f5 66.5deg,#02e7f5 69deg,#18b9f9 71.5deg,#3c6eff 75deg,#3e62fb 80deg,#3c6fff 88.5deg,#04e2f6 105deg,#00eaeb 107deg,#00e5ab 112deg,#00dd73 115.5deg,#00dc71 117deg,#00e289 118.5deg,#00e8d1 120.5deg,#04e2f6 121.5deg,#0ecef7 122deg)"></i>
<i style="width:245.8px;height:245.8px;margin:-122.9px;background:conic-gradient(from 29deg,#4140e5 0deg,#4045ed 39deg,#3e6aff 55deg,#1cb2f9 58deg,#1ab4f9 59.5deg,#249ffb 62.5deg,#0fcdf7 67.5deg,#14c2f8 69.5deg,#3e6aff 74.5deg,#3e61fb 81.5deg,#3b70ff 89.5deg,#0cd1f7 103deg,#00ebf2 106deg,#00e5b1 110.5deg,#00d65e 114deg,#00cb39 116deg,#00cb3a 117.5deg,#00d55d 119deg,#00e39e 120.5deg,#00ebf1 122deg)"></i>
<i style="width:241.8px;height:241.8px;margin:-120.9px;background:conic-gradient(from 29deg,#4140e5 0deg,#4046ee 40.5deg,#3e66fd 56.5deg,#3e6aff 57deg,#1ab4f9 59.5deg,#14c1f8 61deg,#21a6fa 64.5deg,#1faafa 68.5deg,#3088fd 71.5deg,#3e67fe 74deg,#3f5ffa 81.5deg,#3b71fe 90.5deg,#12c6f8 102deg,#00ebef 106deg,#00e4aa 110deg,#00d761 112.5deg,#00ba04 115.5deg,#11be00 117deg,#03ba00 118deg,#00c11b 119deg,#00d865 120.5deg,#00e7c4 122deg)"></i>
<i style="width:237.8px;height:237.8px;margin:-118.9px;background:conic-gradient(from 29deg,#4140e5 0deg,#4044ed 40.5deg,#3f5ffa 57.5deg,#3c6eff 59deg,#13c2f8 61.5deg,#0cd1f7 63deg,#3e68fe 72.5deg,#3f5cf9 80deg,#3c6fff 91deg,#15bff8 101.5deg,#00ebf5 105.5deg,#00e5b3 109deg,#00d865 111.5deg,#00be10 113.5deg,#07bb00 114deg,#52d200 115.5deg,#6eda00 116.5deg,#70db00 117.5deg,#54d200 118.5deg,#1bc100 119.5deg,#00bc08 120deg,#00e394 122deg)"></i>
<i style="width:233.8px;height:233.8px;margin:-116.9px;background:conic-gradient(from 29deg,#4140e5 0deg,#4042ec 40.5deg,#3f5cf8 59deg,#3e67fe 60.5deg,#3186fd 61.5deg,#0fcbf7 63.5deg,#08dbf6 65deg,#15bff8 67deg,#3e6aff 71deg,#3f5af7 78.5deg,#3b70ff 92deg,#17bcf9 101.5deg,#00ebf3 105.5deg,#00e5b5 108.5deg,#00dc72 110.5deg,#00bf14 112.5deg,#09bc00 113deg,#93e500 115deg,#a5ea00 115.5deg,#afec00 117.5deg,#a9ea00 118.5deg,#9ce700 119deg,#7bde00 119.5deg,#20c300 120.5deg,#00be0f 121deg,#00d762 122deg)"></i>
<i style="width:229.8px;height:229.8px;margin:-114.9px;background:conic-gradient(from 29deg,#4140e5 0deg,#4041ec 40.5deg,#3f5af8 61deg,#3c6eff 63deg,#14c2f8 65.5deg,#0cd2f7 67deg,#14c1f8 68.5deg,#3e6aff 72deg,#3f59f7 78deg,#3c6dff 92.5deg,#1bb3f9 101deg,#00ebf3 105.5deg,#00e5ab 108.5deg,#00d55c 110.5deg,#00bc0a 112deg,#1bc100 112.5deg,#9ae700 114deg,#b3ed00 115deg,#c7f200 117deg,#b9ee00 119deg,#a4e900 120deg,#77dd00 120.5deg,#00b901 121.5deg,#00c830 122deg)"></i>
<i style="width:225.8px;height:225.8px;margin:-112.9px;background:conic-gradient(from 29deg,#4140e5 0deg,#4040eb 40.5deg,#3f56f6 62.5deg,#3e6bff 65.5deg,#249ffb 67.5deg,#1cb0fa 69deg,#249ffb 71deg,#3e68fe 74deg,#3f5af7 80.5deg,#3c6eff 93.5deg,#1daffa 101deg,#00ebf3 105.5deg,#00e5b3 108deg,#00d760 110deg,#00bc09 111.5deg,#21c300 112deg,#83e000 113deg,#a7ea00 113.5deg,#d5f500 116deg,#daf600 118deg,#b9ee00 120deg,#aceb00 120.5deg,#8ae200 121deg,#00b900 122deg)"></i>
<i style="width:221.8px;height:221.8px;margin:-110.9px;background:conic-gradient(from 29deg,#4140e5 0deg,#4040ea 40.5deg,#3f55f5 65deg,#3a72fe 70deg,#357dfe 72.5deg,#3e65fc 76.5deg,#3f5ef9 85.5deg,#3b6fff 94.5deg,#1cb0fa 101.5deg,#00ebf4 105.5deg,#00e5ac 108deg,#00da6a 109.5deg,#00be11 111deg,#1ac100 111.5deg,#83e000 112.5deg,#a8ea00 113deg,#e8f900 116deg,#f0fb00 117.5deg,#e1f800 119deg,#adeb00 121deg,#85e100 121.5deg,#3bcb00 122deg)"></i>
<i style="width:217.8px;height:217.8px;margin:-108.9px;background:conic-gradient(from 29deg,#4140e5 0deg,#4040e9 40.5deg,#3f55f5 69deg,#3e61fb 77.5deg,#3e64fc 91deg,#3b70fe 95.5deg,#1cb1f9 102deg,#01eaf5 105.5deg,#00e6bb 107.5deg,#00d65f 109.5deg,#05bb00 111deg,#a4e900 112.5deg,#effb00 115.5deg,#ffff00 117deg,#f8fd00 118.5deg,#c9f200 120.5deg,#a8ea00 121.5deg,#6ad900 122deg)"></i>
<i style="width:213.8px;height:213.8px;margin:-106.9px;background:conic-gradient(from 29deg,#4140e5 0deg,#4040e9 40.5deg,#3f56f5 76deg,#3e6aff 95.5deg,#1eacfa 102deg,#02e7f5 105.5deg,#00e8cd 107deg,#00e28e 108.5deg,#00ca37 110deg,#00bf13 110.5deg,#1ac100 111deg,#8de300 112deg,#aceb00 112.5deg,#f9fe00 115.5deg,#fff800 118deg,#f9fe00 119deg,#c1f000 121deg,#b0ec00 121.5deg,#8be300 122deg)"></i>
<i style="width:209.8px;height:209.8px;margin:-104.9px;background:conic-gradient(from 29deg,#4140e5 0deg,#4040e9 40.5deg,#3f54f5 81deg,#3d6bff 96.5deg,#1eadfa 102.5deg,#00ebf1 106deg,#00e4a6 108deg,#00d353 109.5deg,#00bd0c 110.5deg,#25c400 111deg,#9ae700 112deg,#bef000 113deg,#fdff00 115.5deg,#fff300 117.5deg,#fdff00 119deg,#c5f100 121deg,#99e700 122deg)"></i>
<i style="width:205.8px;height:205.8px;margin:-102.9px;background:conic-gradient(from 29deg,#4140e5 0deg,#4040e8 40.5deg,#3f51f3 81deg,#3d6dff 97.5deg,#1daefa 103deg,#01e9f5 106deg,#00e6c0 107.5deg,#00dc73 109deg,#00bd0c 110.5deg,#26c400 111deg,#9be700 112deg,#ccf300 113.5deg,#fcfe00 115.5deg,#fff500 117.5deg,#fbfe00 119deg,#b3ed00 121.5deg,#98e600 122deg)"></i>
<i style="width:201.8px;height:201.8px;margin:-100.9px;background:conic-gradient(from 29deg,#4140e5 0deg,#4040e9 40.5deg,#3f4ff2 80deg,#3e6bff 98deg,#1daefa 103.5deg,#00eaef 106.5deg,#00e397 108.5deg,#00cb39 110deg,#00bf14 110.5deg,#1ac100 111deg,#8ee400 112deg,#aceb00 112.5deg,#f4fc00 115.5deg,#fffc00 117deg,#fafe00 118.5deg,#cdf300 120.5deg,#adec00 121.5deg,#83e000 122deg)"></i>
<i style="width:197.8px;height:197.8px;margin:-98.9px;background:conic-gradient(from 29deg,#4140e5 0deg,#4040e9 40.5deg,#3f4cf1 78deg,#3e69ff 98.5deg,#21a6fa 103.5deg,#02e7f5 106.5deg,#00e8d3 107.5deg,#00e187 109deg,#02ba00 111deg,#a3e900 112.5deg,#dff700 115deg,#f4fc00 117deg,#e4f800 119deg,#b3ed00 121deg,#9ee800 121.5deg,#5cd500 122deg)"></i>
<i style="width:193.8px;height:193.8px;margin:-96.9px;background:conic-gradient(from 29deg,#4140e5 0deg,#4040ea 40.5deg,#3f4bf0 77.5deg,#3e69fe 99deg,#2a95fc 103deg,#0ecff7 106deg,#00ebf5 107deg,#00e399 109deg,#00c118 111deg,#11be00 111.5deg,#79dd00 112.5deg,#a4e900 113deg,#d5f500 115.5deg,#dff700 117.5deg,#c7f200 119.5deg,#9fe800 121deg,#25c400 122deg)"></i>
<i style="width:189.8px;height:189.8px;margin:-94.9px;background:conic-gradient(from 29deg,#4140e5 0deg,#4040ea 40.5deg,#404af0 77deg,#3e66fd 99deg,#3877fe 101.5deg,#19b7f9 105.5deg,#00ebf3 107.5deg,#00e395 109.5deg,#00c119 111.5deg,#0cbd00 112deg,#94e600 113.5deg,#a9eb00 114deg,#c7f200 116.5deg,#c0f000 118.5deg,#a8ea00 120deg,#88e200 120.5deg,#1cc200 121.5deg,#00c016 122deg)"></i>
<i style="width:185.8px;height:185.8px;margin:-92.9px;background:conic-gradient(from 29deg,#4140e5 0deg,#4040eb 40.5deg,#4049ef 77.5deg,#3e65fd 99.5deg,#3a73fe 102deg,#20a9fa 105.5deg,#00ebf5 108deg,#00e399 110deg,#00bc0a 112.5deg,#1ac100 113deg,#82e000 114.5deg,#9be700 115deg,#abeb00 116deg,#a6ea00 118.5deg,#96e600 119deg,#52d200 120deg,#00ba04 121deg,#00d14d 122deg)"></i>
<i style="width:181.8px;height:181.8px;margin:-90.9px;background:conic-gradient(from 29deg,#4140e5 0deg,#4041ec 40.5deg,#4048ef 76.5deg,#3e63fb 99.5deg,#3c6eff 102.5deg,#22a4fa 106deg,#03e5f5 108.5deg,#00e8d4 109.5deg,#00dd75 111.5deg,#01b900 114deg,#43cd00 115.5deg,#57d300 116.5deg,#54d200 117.5deg,#39ca00 118.5deg,#08bb00 119.5deg,#00c72c 120.5deg,#00e187 122deg)"></i>
<i style="width:177.8px;height:177.8px;margin:-88.9px;background:conic-gradient(from 29deg,#4140e5 0deg,#4042ec 40.5deg,#4047ee 76deg,#3e61fb 100deg,#3c6fff 103.5deg,#20a8fa 107deg,#01e9f5 109.5deg,#00da6c 113deg,#00c72d 115deg,#00c018 116.5deg,#00c422 118deg,#00d04c 119.5deg,#00e4a8 121.5deg,#00e7c3 122deg)"></i>
<i style="width:173.8px;height:173.8px;margin:-86.9px;background:conic-gradient(from 29deg,#4140e5 0deg,#4044ed 40.5deg,#4046ee 75.5deg,#3e60fa 100.5deg,#3c6eff 104.5deg,#20a7fa 108deg,#03e5f6 110.5deg,#00e7cb 112deg,#00e184 114.5deg,#00da6c 116.5deg,#00dd76 118deg,#00e39a 119.5deg,#00eae6 121.5deg,#03e5f5 122deg)"></i>
<i style="width:169.8px;height:169.8px;margin:-84.9px;background:conic-gradient(from 29deg,#4140e5 0deg,#4045ee 40.5deg,#4043ed 72deg,#3f5cf8 100deg,#3e6bff 105.5deg,#19b7f9 110deg,#00ebf4 112.5deg,#00e7c4 115deg,#00e6bc 117deg,#00e8d7 119deg,#00ebf0 120deg,#18b8f9 122deg)"></i>
<i style="width:165.8px;height:165.8px;margin:-82.9px;background:conic-gradient(from 29deg,#4140e5 0deg,#4046ee 35.5deg,#4043ed 73.5deg,#3f5cf8 101.5deg,#3d6cff 107deg,#09d8f6 114.5deg,#05e0f6 117deg,#12c5f8 119.5deg,#2b91fc 122deg)"></i>
<i style="width:161.8px;height:161.8px;margin:-80.9px;background:conic-gradient(from 29deg,#4140e5 0deg,#4045ee 34deg,#4044ed 45deg,#4045ee 79deg,#3f5df9 103.5deg,#3b6fff 109deg,#20a9fa 114.5deg,#1faafa 117.5deg,#3480fd 121deg,#3c6eff 122deg)"></i>
<i style="width:157.8px;height:157.8px;margin:-78.9px;background:conic-gradient(from 29deg,#4140e5 0deg,#4045ee 33deg,#4048ef 43.5deg,#4040e9 60deg,#3f53f4 99.5deg,#3c6eff 111.5deg,#3284fd 115.5deg,#3975fe 119deg,#3e63fb 122deg)"></i>
<i style="width:153.8px;height:153.8px;margin:-76.9px;background:conic-gradient(from 29deg,#4140e5 0deg,#4045ed 32deg,#3f4cf1 42.5deg,#4040e9 57deg,#3f4ff2 97.5deg,#3e66fd 117.5deg,#3f5cf8 122deg)"></i>
<i style="width:149.8px;height:149.8px;margin:-74.9px;background:conic-gradient(from 29deg,#4140e5 0deg,#4046ee 31.5deg,#3f4ff2 42deg,#4040e9 56.5deg,#3f4df1 97deg,#3f5ef9 117.5deg,#3f56f5 122deg)"></i>
<i style="width:145.8px;height:145.8px;margin:-72.9px;background:conic-gradient(from 29deg,#4140e5 0deg,#4045ed 30.5deg,#3f52f3 41.5deg,#4040e9 56.5deg,#3f4cf1 97deg,#3f57f6 118deg,#3f51f3 122deg)"></i>
<i style="width:141.8px;height:141.8px;margin:-70.9px;background:conic-gradient(from 29deg,#4140e5 0deg,#4045ed 30deg,#3f55f5 41deg,#4040e9 56.5deg,#3f4bf0 97deg,#3f52f3 118.5deg,#3f4df1 122deg)"></i>
<i style="width:137.8px;height:137.8px;margin:-68.9px;background:conic-gradient(from 29deg,#4140e5 0deg,#4045ee 29.5deg,#3f57f6 41deg,#4040ea 57deg,#3f4cf1 97.5deg,#3f4ef1 119deg,#404af0 122deg)"></i>
<i style="width:133.8px;height:133.8px;margin:-66.9px;background:conic-gradient(from 29deg,#4140e5 0deg,#4045ee 29deg,#3f5af7 40.5deg,#4040eb 58deg,#3f4df1 98.5deg,#404af0 120deg,#4048ef 122deg)"></i>
<i style="width:129.8px;height:129.8px;margin:-64.9px;background:conic-gradient(from 29deg,#4140e5 0deg,#4045ee 28.5deg,#3f5cf8 40.5deg,#4041ec 58deg,#3f4df1 95deg,#3f4df1 114deg,#4046ee 122deg)"></i>
<i style="width:125.8px;height:125.8px;margin:-62.9px;background:conic-gradient(from 29deg,#4140e5 0deg,#4045ee 28deg,#3f5efa 40.5deg,#4043ed 58deg,#3f4df1 91.5deg,#3f53f4 108.5deg,#4045ed 122deg)"></i>
<i style="width:121.8px;height:121.8px;margin:-60.9px;background:conic-gradient(from 29deg,#4140e5 0deg,#4045ee 27.5deg,#3e61fb 40.5deg,#4046ee 58deg,#3f4ff2 89.5deg,#3f59f7 105deg,#4044ed 122deg)"></i>
<i style="width:117.8px;height:117.8px;margin:-58.9px;background:conic-gradient(from 29deg,#4140e5 0deg,#4045ed 27deg,#3e63fc 41deg,#404af0 58deg,#3f52f4 87.5deg,#3e60fa 102.5deg,#4044ed 122deg)"></i>
<i style="width:113.8px;height:113.8px;margin:-56.9px;background:conic-gradient(from 29deg,#4140e5 0deg,#4045ed 26.5deg,#3e65fd 41deg,#3f4ff2 58deg,#3f57f6 86.5deg,#3e68fe 101deg,#4043ec 122deg)"></i>
<i style="width:109.8px;height:109.8px;margin:-54.9px;background:conic-gradient(from 29deg,#4140e5 0deg,#4045ed 26deg,#3e68fe 41deg,#3f55f5 58deg,#3f59f7 75deg,#3e62fb 88deg,#3876fe 94deg,#347ffd 99.5deg,#3f5ffa 108.5deg,#4043ec 122deg)"></i>
<i style="width:105.8px;height:105.8px;margin:-52.9px;background:conic-gradient(from 29deg,#4140e5 0deg,#4045ed 25.5deg,#3d6cff 42deg,#3f5bf8 57.5deg,#3e62fb 73.5deg,#3e67fe 86deg,#367bfe 90deg,#2899fb 96deg,#2c8ffc 101deg,#3e67fe 106.5deg,#4043ec 121.5deg,#4042ec 122deg)"></i>
<i style="width:101.8px;height:101.8px;margin:-50.9px;background:conic-gradient(from 29deg,#4140e5 0deg,#4046ee 25.5deg,#3778fe 42deg,#3e62fb 54.5deg,#3a72fe 65.5deg,#3b70ff 72.5deg,#3e6aff 82.5deg,#1eacfa 94.5deg,#21a6fa 99.5deg,#3a72fe 105.5deg,#3f4ff2 114.5deg,#4042ec 122deg)"></i>
<i style="width:97.8px;height:97.8px;margin:-48.9px;background:conic-gradient(from 29deg,#4140e5 0deg,#4045ee 24.5deg,#3b71fe 38deg,#3086fd 43deg,#3d6cff 55deg,#2995fc 68deg,#3381fd 80.5deg,#24a1fb 88deg,#17bbf9 94.5deg,#1eadfa 99.5deg,#3e67fe 107deg,#4043ed 120.5deg,#4042ec 122deg)"></i>
<i style="width:93.8px;height:93.8px;margin:-46.9px;background:conic-gradient(from 29deg,#4140e5 0deg,#4046ee 24deg,#3c6dff 36.5deg,#2b92fc 41.5deg,#2a93fc 47.5deg,#2f8afd 55.5deg,#1cb1f9 67.5deg,#2799fb 81deg,#15bff8 94deg,#1eadfa 99deg,#3e67fd 106.5deg,#4043ec 120.5deg,#4041ec 122deg)"></i>
<i style="width:89.8px;height:89.8px;margin:-44.9px;background:conic-gradient(from 29deg,#4140e5 0deg,#4046ee 23.5deg,#3d6dff 35.5deg,#259ffb 41deg,#1fabfa 46.5deg,#20a9fa 56deg,#11c8f8 67.5deg,#20a8fa 82deg,#19b7f9 94deg,#269cfb 99.5deg,#3e68fe 105deg,#4043ec 120deg,#4041eb 122deg)"></i>
<i style="width:85.8px;height:85.8px;margin:-42.9px;background:conic-gradient(from 29deg,#4140e5 0deg,#4046ee 22.5deg,#3d6dff 34.5deg,#1daffa 41deg,#13c3f8 47deg,#10caf8 58.5deg,#09d8f6 67.5deg,#1fabfa 83deg,#22a5fa 94deg,#347efd 100.5deg,#3e67fe 103.5deg,#4042ec 120deg,#4040eb 122deg)"></i>
<i style="width:81.8px;height:81.8px;margin:-40.9px;background:conic-gradient(from 29deg,#4140e6 0deg,#4046ee 21.5deg,#3d6cff 33.5deg,#17bcf9 40.5deg,#08daf6 46.5deg,#05e0f6 67deg,#24a0fb 84.5deg,#3087fd 95deg,#3e66fd 101.5deg,#4041eb 120deg,#4040ea 122deg)"></i>
<i style="width:77.8px;height:77.8px;margin:-38.9px;background:conic-gradient(from 29deg,#4140e6 0deg,#4046ee 20.5deg,#3d6cff 32.5deg,#0ecdf7 40.5deg,#00ebf3 45.5deg,#00eae9 53deg,#02e6f5 65.5deg,#2f88fd 86deg,#3e65fc 98deg,#4040eb 120deg,#4040ea 122deg)"></i>
<i style="width:73.8px;height:73.8px;margin:-36.9px;background:conic-gradient(from 29deg,#4140e6 0deg,#4047ee 19.5deg,#3d6cff 31.5deg,#06def6 40.5deg,#00ebf0 42.5deg,#00e8d1 48deg,#00e8d4 55.5deg,#02e6f5 65deg,#3a73fe 85deg,#4046ee 111.5deg,#4040e9 122deg)"></i>
<i style="width:69.8px;height:69.8px;margin:-34.9px;background:conic-gradient(from 29deg,#4140e6 0deg,#4047ef 18.5deg,#3d6dff 30.5deg,#01eaf5 40deg,#00e6c0 46deg,#00e6b6 51.5deg,#00e8d3 59deg,#01e9f5 64deg,#3e6bff 81.5deg,#4040ea 118.5deg,#4040e8 122deg)"></i>
<i style="width:65.8px;height:65.8px;margin:-32.9px;background:conic-gradient(from 29deg,#4140e6 0deg,#4048ef 17.5deg,#3e69ff 29deg,#00ebf1 39deg,#00e5b5 44.5deg,#00e4a1 49.5deg,#00e5ae 55deg,#00ebf1 63deg,#3e69ff 78.5deg,#4041eb 113deg,#4140e8 122deg)"></i>
<i style="width:61.8px;height:61.8px;margin:-30.9px;background:conic-gradient(from 29deg,#4140e7 0deg,#3f4bf0 17deg,#3e6aff 28deg,#00ebf5 37.5deg,#00e5ac 43.5deg,#00e290 48.5deg,#00e398 53.5deg,#00e7c8 59.5deg,#01e9f5 63.5deg,#3e6aff 76deg,#4048ef 98.5deg,#4140e7 122deg)"></i>
<i style="width:57.8px;height:57.8px;margin:-28.9px;background:conic-gradient(from 29deg,#4140e8 0deg,#3f4ef2 17deg,#3d6cff 27deg,#00ebf4 36.5deg,#00e4a1 43deg,#00e183 48deg,#00e288 53deg,#00e5b5 58.5deg,#00ebf5 63.5deg,#3d6bff 74.5deg,#404af0 92.5deg,#4140e7 122deg)"></i>
<i style="width:53.8px;height:53.8px;margin:-26.9px;background:conic-gradient(from 29deg,#4040e9 0deg,#3f54f5 18deg,#3c6fff 26deg,#00ebf5 35.5deg,#00e39a 42.5deg,#00de7a 47.5deg,#00df7d 52.5deg,#00e4a8 58deg,#01e8f5 64deg,#3e69ff 74.5deg,#4047ef 92deg,#4140e7 122deg)"></i>
<i style="width:49.8px;height:49.8px;margin:-24.9px;background:conic-gradient(from 29deg,#4040eb 0deg,#3f5bf8 19deg,#3c6dff 24.5deg,#00eaf5 34.5deg,#00e397 42deg,#00dd74 47.5deg,#00de77 52.5deg,#00e4a1 58deg,#02e8f5 64.5deg,#3e6aff 74.5deg,#4047ee 91.5deg,#4140e6 122deg)"></i>
<i style="width:45.8px;height:45.8px;margin:-22.9px;background:conic-gradient(from 29deg,#4042ec 0deg,#3e61fb 19.5deg,#3a73fe 23.5deg,#00ebf2 34deg,#00e397 41.5deg,#00dd74 47deg,#00dd76 52.5deg,#00e39e 58deg,#01e8f5 65deg,#3e69ff 75.5deg,#4046ee 93deg,#4140e6 122deg)"></i>
<i style="width:41.8px;height:41.8px;margin:-20.9px;background:conic-gradient(from 29deg,#4045ee 0deg,#3e67fe 20deg,#357dfd 23deg,#00eaf5 33deg,#00e398 41.5deg,#00de78 47.5deg,#00df7c 53deg,#00e4a8 59deg,#01e9f5 65.5deg,#3e69fe 77deg,#4046ee 95.5deg,#4140e7 122deg)"></i>
<i style="width:37.8px;height:37.8px;margin:-18.9px;background:conic-gradient(from 29deg,#4049ef 0deg,#3d6dff 19.5deg,#00ebf0 33deg,#00e39f 41.5deg,#00e182 48deg,#00e28c 54deg,#00e6c0 61deg,#01e8f5 66deg,#3e69fe 78.5deg,#4046ee 98.5deg,#4140e7 122deg)"></i>
<i style="width:33.8px;height:33.8px;margin:-16.9px;background:conic-gradient(from 29deg,#3f4ef2 0deg,#3d6dff 17.5deg,#00ebf0 33deg,#00e4aa 42deg,#00e395 49deg,#00e4a6 56deg,#00e9e3 64deg,#03e4f6 66.5deg,#3e69fe 80.5deg,#4046ee 103deg,#4040e9 122deg)"></i>
<i style="width:29.8px;height:29.8px;margin:-14.9px;background:conic-gradient(from 29deg,#3f53f4 0deg,#3c6eff 15.5deg,#00ebf2 33.5deg,#00e6bb 43deg,#00e5b0 51deg,#00e7cc 59deg,#02e7f5 65.5deg,#3e69fe 82.5deg,#4047ee 108.5deg,#4041eb 122deg)"></i>
<i style="width:25.8px;height:25.8px;margin:-12.9px;background:conic-gradient(from 29deg,#3f59f7 0deg,#3b71fe 13.5deg,#00eaf5 35.5deg,#00e8d2 46deg,#00e9d9 55.5deg,#02e7f5 63deg,#3e68fe 85deg,#4047ee 116.5deg,#4045ed 122deg)"></i>
<i style="width:21.8px;height:21.8px;margin:-10.9px;background:conic-gradient(from 29deg,#3f5ffa 0deg,#3a72fe 11.5deg,#0ad7f7 36deg,#00eaf5 49deg,#0ad6f7 61.5deg,#3779fe 83deg,#3e66fd 89deg,#404af0 122deg)"></i>
<i style="width:17.8px;height:17.8px;margin:-8.9px;background:conic-gradient(from 29deg,#3e64fc 0deg,#3a73fe 10deg,#16bdf9 36.5deg,#12c6f8 52.5deg,#22a5fa 70deg,#3e68fe 90deg,#3f50f3 122deg)"></i>
<i style="width:13.8px;height:13.8px;margin:-6.9px;background:conic-gradient(from 29deg,#3e66fd 0deg,#377afe 13.5deg,#23a2fb 40.5deg,#269cfb 61.5deg,#3e67fe 92.5deg,#3f56f6 122deg)"></i></div></div></div>
<div class="d" style="left:288.1px;top:400.8px;width:318.8px;height:318.8px;clip-path:polygon(159.4px 159.4px,338.11px -150.135px,338.11px 468.935px);"><div style="position:absolute;left:0;top:0;width:318.8px;height:318.8px;clip-path:circle(155.4px at 50% 50%)"><div class="bl" style="left:159.4px;top:159.4px"><i style="width:313.8px;height:313.8px;margin:-156.9px;background:conic-gradient(from 29deg,#f97a00 0deg,#ffa400 12.5deg,#fff300 22.5deg,#f9fd00 24deg,#8fe400 31deg,#07bb00 36.5deg,#00bf13 38deg,#00e182 46deg,#00e6bb 51.5deg,#00e9df 65.5deg,#02e7f5 82deg,#1cb1fa 94deg,#3e68fe 105.5deg,#3f51f3 122deg)"></i>
<i style="width:309.8px;height:309.8px;margin:-154.9px;background:conic-gradient(from 29deg,#f97900 0deg,#ffa200 12.5deg,#fff200 22.5deg,#fbfe00 24deg,#95e600 31deg,#03ba00 37deg,#00df7d 46deg,#00e6b6 51.5deg,#00e9db 65deg,#02e6f5 82.5deg,#1bb2f9 94deg,#3e68fe 106deg,#3f52f3 122deg)"></i>
<i style="width:305.8px;height:305.8px;margin:-152.9px;background:conic-gradient(from 29deg,#f97600 0deg,#ffa000 12.5deg,#fff300 23deg,#f9fe00 24.5deg,#95e600 31.5deg,#05bb00 37.5deg,#00dd73 46deg,#00e5ad 51.5deg,#00e8d6 65deg,#02e7f5 83deg,#1ab5f9 94deg,#3e68fe 106deg,#3f52f4 122deg)"></i>
<i style="width:301.8px;height:301.8px;margin:-150.9px;background:conic-gradient(from 29deg,#f87200 0deg,#fe9c00 12.5deg,#ffef00 23deg,#fafe00 25deg,#98e600 32deg,#02ba00 38.5deg,#00e07f 48deg,#00e4a7 52.5deg,#00e8cf 65.5deg,#02e7f5 84deg,#18b9f9 94deg,#3e68fe 106.5deg,#3f53f4 122deg)"></i>
<i style="width:297.8px;height:297.8px;margin:-148.9px;background:conic-gradient(from 29deg,#f76d00 0deg,#fe9800 12.5deg,#ffee00 23.5deg,#fcfe00 25.5deg,#94e500 33deg,#02ba00 39.5deg,#00e181 49.5deg,#00e4a4 55deg,#00e7c9 67deg,#02e7f5 85deg,#16bdf9 94deg,#3e69fe 106.5deg,#3f53f4 122deg)"></i>
<i style="width:293.8px;height:293.8px;margin:-146.9px;background:conic-gradient(from 29deg,#f76800 0deg,#fd9400 12.5deg,#ffec00 24deg,#fafe00 26.5deg,#93e500 34deg,#05ba00 40.5deg,#00df7b 50.5deg,#00e6b6 63deg,#02e6f5 86.5deg,#17bcf9 95deg,#3e68fe 107deg,#3f54f4 122deg)"></i>
<i style="width:289.8px;height:289.8px;margin:-144.9px;background:conic-gradient(from 29deg,#f66300 0deg,#fd9200 13deg,#fff100 25.5deg,#fafe00 27.5deg,#9ce700 34.5deg,#00b900 42deg,#00d866 50deg,#00e4a7 62deg,#02e6f5 88deg,#19b7f9 96.5deg,#3e68fe 107.5deg,#3f55f5 122deg)"></i>
<i style="width:285.8px;height:285.8px;margin:-142.9px;background:conic-gradient(from 29deg,#f55d00 0deg,#fc8d00 13deg,#fbfe00 28.5deg,#96e600 36deg,#05bb00 43deg,#00d65d 51deg,#00e4a0 63.5deg,#01e8f5 89deg,#21a6fa 99.5deg,#3e68fe 108deg,#3f55f5 122deg)"></i>
<i style="width:281.8px;height:281.8px;margin:-140.9px;background:conic-gradient(from 29deg,#f45800 0deg,#fc8900 13deg,#fdff00 29.5deg,#8ce300 37.5deg,#01b900 44.5deg,#00cf49 50.5deg,#00e394 63deg,#02e7f5 90.5deg,#3186fd 104deg,#3e68fe 108.5deg,#3f56f6 122deg)"></i>
<i style="width:277.8px;height:277.8px;margin:-138.9px;background:conic-gradient(from 29deg,#f35300 0deg,#fb8400 13deg,#feff00 30.5deg,#8de300 38.5deg,#03ba00 45.5deg,#00cd42 51.5deg,#00e289 63deg,#02e7f5 91.5deg,#357dfe 105.5deg,#3e68fe 109deg,#3f57f6 122deg)"></i>
<i style="width:273.8px;height:273.8px;margin:-136.9px;background:conic-gradient(from 29deg,#f34f00 0deg,#fa8100 13deg,#feff00 31.5deg,#8be300 39.5deg,#03ba00 46.5deg,#00ca38 52deg,#00e080 63deg,#01e8f5 92deg,#367bfe 106deg,#3e68fe 109.5deg,#3f57f6 122deg)"></i>
<i style="width:269.8px;height:269.8px;margin:-134.9px;background:conic-gradient(from 29deg,#f24b00 0deg,#fa8100 13.5deg,#fffe00 32deg,#86e100 40.5deg,#00b901 47.5deg,#00c935 53deg,#00de78 63deg,#01e8f5 92.5deg,#3e69ff 109deg,#3f58f6 122deg)"></i>
<i style="width:265.8px;height:265.8px;margin:-132.9px;background:conic-gradient(from 29deg,#f24900 0deg,#fa7f00 13.5deg,#fff900 32deg,#ebfa00 34deg,#86e100 41deg,#01b900 48deg,#00d14f 57.5deg,#00df7b 65deg,#00e9db 87deg,#02e7f5 93deg,#3e69ff 109deg,#3f58f7 122deg)"></i>
<i style="width:261.8px;height:261.8px;margin:-130.9px;background:conic-gradient(from 29deg,#f24800 0deg,#fa7e00 13.5deg,#fff800 32deg,#edfb00 34deg,#8ae200 41deg,#00ba02 48.5deg,#00da6c 62.5deg,#00e8d7 86deg,#02e8f5 93deg,#3e6aff 109deg,#3f58f7 122deg)"></i>
<i style="width:257.8px;height:257.8px;margin:-128.9px;background:conic-gradient(from 29deg,#f24800 0deg,#fa7e00 13.5deg,#fff700 32deg,#f5fd00 33.5deg,#84e000 41.5deg,#02ba00 48.5deg,#00d969 63deg,#00e8d6 86deg,#01e8f5 93deg,#3e6aff 109deg,#3f58f7 122deg)"></i>
<i style="width:253.8px;height:253.8px;margin:-126.9px;background:conic-gradient(from 29deg,#f24700 0deg,#fa7d00 13.5deg,#fff500 32deg,#f7fd00 33.5deg,#8be300 41.5deg,#04ba00 49deg,#00d65f 63.5deg,#00e8d2 85.5deg,#01e9f5 93deg,#3e6aff 109deg,#3f58f7 122deg)"></i>
<i style="width:249.8px;height:249.8px;margin:-124.9px;background:conic-gradient(from 29deg,#f14600 0deg,#fa7c00 13.5deg,#fff300 32deg,#fbfe00 33.5deg,#8ce300 42deg,#11be00 49deg,#00ba03 51deg,#00d761 67deg,#00e7cc 85deg,#02e7f5 93.5deg,#3e6aff 109deg,#3f59f7 122deg)"></i>
<i style="width:245.8px;height:245.8px;margin:-122.9px;background:conic-gradient(from 29deg,#f14400 0deg,#f97a00 13.5deg,#fff500 32.5deg,#f9fe00 34deg,#87e200 43deg,#21c300 49deg,#00ba03 53.5deg,#00da6c 71.5deg,#00e7c5 84.5deg,#01e8f5 93.5deg,#3e6aff 109deg,#3f59f7 122deg)"></i>
<i style="width:241.8px;height:241.8px;margin:-120.9px;background:conic-gradient(from 29deg,#f14200 0deg,#f97500 13deg,#fff100 32.5deg,#f9fd00 34.5deg,#8ee400 43.5deg,#34c900 49deg,#00ba03 57.5deg,#00cc3e 68deg,#00e4a1 80deg,#02e6f5 94deg,#3e6aff 109deg,#3f59f7 122deg)"></i>
<i style="width:237.8px;height:237.8px;margin:-118.9px;background:conic-gradient(from 29deg,#f13f00 0deg,#f87300 13deg,#fff100 33deg,#f9fe00 35deg,#8de300 44.5deg,#48cf00 49deg,#00ba04 63.5deg,#00d354 73deg,#00e4a7 82deg,#01e8f5 94deg,#3e6aff 109deg,#3f59f7 122deg)"></i>
<i style="width:233.8px;height:233.8px;margin:-116.9px;background:conic-gradient(from 29deg,#f03d00 0deg,#f87000 13deg,#ffec00 33deg,#fbfe00 35.5deg,#8ee400 45.5deg,#5dd500 49deg,#27c500 63deg,#00ba02 67deg,#00e395 81deg,#01eaf5 94deg,#3e6aff 109deg,#3f5af7 122deg)"></i>
<i style="width:229.8px;height:229.8px;margin:-114.9px;background:conic-gradient(from 29deg,#ef3b00 0deg,#f76e00 13deg,#ffec00 33.5deg,#f8fd00 36.5deg,#90e400 46.5deg,#6eda00 49.5deg,#57d300 61.5deg,#35c900 65.5deg,#00ba04 69.5deg,#00e290 81.5deg,#00e8d8 90.5deg,#01e8f5 94.5deg,#3e6aff 109deg,#3f5af7 122deg)"></i>
<i style="width:225.8px;height:225.8px;margin:-112.9px;background:conic-gradient(from 29deg,#ed3900 0deg,#f76b00 13deg,#ffcc00 29.5deg,#fcfe00 37deg,#80df00 49.5deg,#7cde00 61deg,#5dd500 65deg,#00ba03 71deg,#00df7c 80.5deg,#00e7cb 89deg,#03e6f5 95deg,#3e6aff 109deg,#3f5af7 122deg)"></i>
<i style="width:221.8px;height:221.8px;margin:-110.9px;background:conic-gradient(from 29deg,#ec3800 0deg,#f66600 12.5deg,#ffbc00 27deg,#fbfe00 38deg,#90e400 49deg,#92e500 55deg,#96e600 61.5deg,#79dd00 65deg,#00b901 72deg,#00de7a 81deg,#00e7c8 89deg,#02e7f5 95deg,#3e69ff 109deg,#3f5af8 122deg)"></i>
<i style="width:217.8px;height:217.8px;margin:-108.9px;background:conic-gradient(from 29deg,#eb3700 0deg,#f66400 12.5deg,#ffb500 26deg,#fafe00 39deg,#9ae700 48.5deg,#99e700 53.5deg,#a1e900 62deg,#8de300 65deg,#0ebd00 72deg,#00bb05 73deg,#00e184 82.5deg,#00e7c9 89.5deg,#01e9f5 95deg,#3e69ff 109deg,#3f5bf8 122deg)"></i>
<i style="width:213.8px;height:213.8px;margin:-106.9px;background:conic-gradient(from 29deg,#e93500 0deg,#f66200 12.5deg,#ffb000 25.5deg,#fcfe00 39.5deg,#9de800 48.5deg,#9ce700 53.5deg,#a7ea00 62deg,#91e400 65.5deg,#0ebd00 72.5deg,#00bb05 73.5deg,#00e291 84deg,#00e8d2 91deg,#03e6f5 95.5deg,#3e68fe 109.5deg,#3f5bf8 122deg)"></i>
<i style="width:209.8px;height:209.8px;margin:-104.9px;background:conic-gradient(from 29deg,#e93500 0deg,#f55e00 12deg,#ffac00 25deg,#fdfe00 40deg,#9de800 48.5deg,#99e700 53deg,#a7ea00 62deg,#92e500 65.5deg,#13bf00 72.5deg,#00b901 73.5deg,#00e39a 85deg,#02e7f5 95.5deg,#3e68fe 109.5deg,#3f5bf8 122deg)"></i>
<i style="width:205.8px;height:205.8px;margin:-102.9px;background:conic-gradient(from 29deg,#e83400 0deg,#f55d00 12deg,#ffab00 25deg,#fafe00 40.5deg,#9ae700 48.5deg,#90e400 52deg,#9fe800 62.5deg,#8be300 65.5deg,#12bf00 72.5deg,#00b901 73.5deg,#00e398 85deg,#00ebf4 95deg,#3e68fe 109.5deg,#3f5bf8 122deg)"></i>
<i style="width:201.8px;height:201.8px;margin:-100.9px;background:conic-gradient(from 29deg,#e83400 0deg,#f45a00 11.5deg,#ffab00 25deg,#fffb00 39.5deg,#e2f800 42.5deg,#8fe400 49deg,#83e000 52.5deg,#8ee400 58.5deg,#91e400 63deg,#6eda00 66.5deg,#00ba05 73.5deg,#00e397 85deg,#02e7f5 95.5deg,#3e68fe 109.5deg,#3f5bf8 122deg)"></i>
<i style="width:197.8px;height:197.8px;margin:-98.9px;background:conic-gradient(from 29deg,#e83400 0deg,#f55a00 11.5deg,#ffac00 25deg,#fcfe00 40deg,#7ade00 50deg,#6fda00 56.5deg,#79dd00 62.5deg,#5fd500 66deg,#00b900 72.5deg,#00e399 85deg,#02e8f5 95.5deg,#3e69ff 109.5deg,#3f5ef9 122deg)"></i>
<i style="width:193.8px;height:193.8px;margin:-96.9px;background:conic-gradient(from 29deg,#e83400 0deg,#f55c00 11.5deg,#ffb000 25deg,#feff00 39deg,#c1f000 44deg,#6ad900 50deg,#54d200 56.5deg,#58d300 63deg,#36c900 67deg,#00ba03 71.5deg,#00e39d 85deg,#01e9f5 95.5deg,#3d6cff 110.5deg,#3e66fd 122deg)"></i>
<i style="width:189.8px;height:189.8px;margin:-94.9px;background:conic-gradient(from 29deg,#e83400 0deg,#f55a00 11deg,#ffb700 25.5deg,#fcfe00 38deg,#c6f200 43deg,#7edf00 47.5deg,#56d300 50.5deg,#37ca00 57deg,#32c800 63.5deg,#00ba04 69.5deg,#00e39e 84.5deg,#00ebf5 95.5deg,#3480fd 110deg,#347efd 114.5deg,#3185fd 121deg,#3184fd 122deg)"></i>
<i style="width:185.8px;height:185.8px;margin:-92.9px;background:conic-gradient(from 29deg,#e93500 0deg,#f55d00 11deg,#ffbe00 25.5deg,#fdfe00 36.5deg,#c2f000 42.5deg,#8de300 46deg,#4fd100 49.5deg,#1bc100 56.5deg,#06bb00 64.5deg,#00c320 70deg,#00e4a1 84deg,#00e8d7 91.5deg,#02e6f5 96.5deg,#2997fc 109.5deg,#279afb 113.5deg,#19b6f9 118.5deg,#18b8f9 122deg)"></i>
<i style="width:181.8px;height:181.8px;margin:-90.9px;background:conic-gradient(from 29deg,#e93500 0deg,#f55c00 10.5deg,#ffc600 25.5deg,#fcfe00 35deg,#b4ed00 42.5deg,#86e100 45.5deg,#3ecc00 49.5deg,#00b901 56.5deg,#00c321 66deg,#00d864 75.5deg,#00e7ca 88.5deg,#02e8f5 97deg,#1daffa 109deg,#1ab5f9 112.5deg,#00ebf4 118deg,#00eae8 122deg)"></i>
<i style="width:177.8px;height:177.8px;margin:-88.9px;background:conic-gradient(from 29deg,#ea3600 0deg,#f55f00 10.5deg,#ffcf00 25.5deg,#fafe00 33.5deg,#9fe800 43deg,#2ec700 49.5deg,#00ba03 54deg,#00c424 60deg,#00d863 72.5deg,#00e8cd 88deg,#02e6f5 98.5deg,#11c8f8 108.5deg,#09d9f6 112.5deg,#00ebf3 114deg,#00e5b2 117.5deg,#00e398 122deg)"></i>
<i style="width:173.8px;height:173.8px;margin:-86.9px;background:conic-gradient(from 29deg,#ea3600 0deg,#f55e00 10deg,#ffd800 25.5deg,#fdff00 31.5deg,#97e600 42.5deg,#1fc200 49.5deg,#00ba04 52.5deg,#00ca38 59deg,#00e4a6 79.5deg,#00e8d6 89deg,#02e6f5 101.5deg,#04e3f6 109deg,#00eaed 111.5deg,#00e6be 114deg,#00dc72 117deg,#00d250 120deg,#00ce45 122deg)"></i>
<i style="width:169.8px;height:169.8px;margin:-84.9px;background:conic-gradient(from 29deg,#eb3700 0deg,#f56000 10deg,#ffda00 24.5deg,#fcfe00 30deg,#8fe400 41.5deg,#0abc00 50deg,#00bd0b 52deg,#00d14f 59deg,#00e28a 70deg,#00e9d9 88deg,#00eaec 104.5deg,#00e9df 109deg,#00e6bc 112deg,#00e289 114deg,#00c62b 117deg,#00bb05 119.5deg,#14bf00 122deg)"></i>
<i style="width:165.8px;height:165.8px;margin:-82.9px;background:conic-gradient(from 29deg,#ec3800 0deg,#f55f00 9.5deg,#ffdb00 23.5deg,#fcfe00 28.5deg,#8de300 40deg,#02ba00 49.5deg,#00da6c 60deg,#00e4a0 68.5deg,#00e9de 87deg,#00e9da 103.5deg,#00e7c4 108.5deg,#00e39d 111.5deg,#00d968 113.5deg,#00bb07 116deg,#34c900 117.5deg,#61d600 119.5deg,#82e000 122deg)"></i>
<i style="width:161.8px;height:161.8px;margin:-80.9px;background:conic-gradient(from 29deg,#ec3800 0deg,#f66100 9.5deg,#ffdf00 23deg,#fafe00 27.5deg,#8be300 38.5deg,#01b900 48.5deg,#00cb3c 54deg,#00e186 60.5deg,#00e6b7 67.5deg,#00e9e3 84.5deg,#00e8d5 99.5deg,#00e5b2 107.5deg,#00e182 111deg,#00d14d 113deg,#00be10 114.5deg,#0abc00 115deg,#7ade00 117deg,#9ce700 118deg,#cbf300 122deg)"></i>
<i style="width:157.8px;height:157.8px;margin:-78.9px;background:conic-gradient(from 29deg,#ed3900 0deg,#f66300 9.5deg,#ffde00 22deg,#f9fe00 26.5deg,#85e100 37.5deg,#02ba00 47.5deg,#00ca39 53deg,#00e395 60deg,#00e7cb 66.5deg,#00eae8 80deg,#00eae8 89deg,#00e6be 102.5deg,#00e395 108deg,#00d456 111.5deg,#00c527 113deg,#07bb00 114deg,#90e400 116deg,#c5f100 117.5deg,#f1fc00 120deg,#fff800 122deg)"></i>
<i style="width:153.8px;height:153.8px;margin:-76.9px;background:conic-gradient(from 29deg,#ed3900 0deg,#f66400 9.5deg,#ffdf00 21.5deg,#fcfe00 25.5deg,#8ae200 36deg,#31c800 42.5deg,#00ba02 47deg,#00cb3b 52.5deg,#00e39a 59deg,#00e9de 66deg,#00ebf4 78.5deg,#00eaeb 89deg,#00e6b6 102deg,#00e080 108deg,#00cf47 111deg,#00bb06 113deg,#16c000 113.5deg,#a2e900 115.5deg,#f1fc00 117.5deg,#feff00 118deg,#ffd000 122deg)"></i>
<i style="width:149.8px;height:149.8px;margin:-74.9px;background:conic-gradient(from 29deg,#ed3900 0deg,#f66100 9deg,#ffdf00 21deg,#fbfe00 25deg,#84e100 35.5deg,#2cc600 42deg,#00ba03 46.5deg,#00cb3a 52deg,#00e4a0 58.5deg,#00eaeb 65.5deg,#02e8f5 70deg,#03e5f5 81.5deg,#00eaee 89deg,#00e5b1 101.5deg,#00dc70 108deg,#00c832 111deg,#00ba02 112.5deg,#3bcb00 113.5deg,#a6ea00 115deg,#eefb00 116.5deg,#fffd00 117deg,#ffd200 119deg,#ffb000 122deg)"></i>
<i style="width:145.8px;height:145.8px;margin:-72.9px;background:conic-gradient(from 29deg,#ee3a00 0deg,#f66200 9deg,#ffdd00 20.5deg,#fcfe00 24.5deg,#84e100 35deg,#31c800 41deg,#00bb06 46.5deg,#00cc3e 52deg,#00e4a0 58deg,#00ebf3 65deg,#08dbf6 74deg,#00ebf1 88.5deg,#00e5af 101deg,#00db6d 107.5deg,#00c832 110.5deg,#00bb06 112deg,#12be00 112.5deg,#78dd00 114deg,#9ce800 114.5deg,#fffc00 116.5deg,#ffc800 118.5deg,#fe9c00 122deg)"></i>
<i style="width:141.8px;height:141.8px;margin:-70.9px;background:conic-gradient(from 29deg,#ee3a00 0deg,#f66200 9deg,#ffdd00 20.5deg,#fbfe00 24.5deg,#89e200 34.5deg,#37c900 40.5deg,#00ba05 46.5deg,#00cd40 52deg,#00e4a4 58deg,#00ebf4 64.5deg,#08daf6 70deg,#06def6 81deg,#00ebf0 89deg,#00e5ab 101deg,#00d760 108deg,#00c31f 111deg,#00b900 112deg,#5ad400 113.5deg,#a2e900 114.5deg,#f2fc00 116deg,#fff700 116.5deg,#ffc200 118.5deg,#fe9600 122deg)"></i>
<i style="width:137.8px;height:137.8px;margin:-68.9px;background:conic-gradient(from 29deg,#ee3a00 0deg,#f66200 9deg,#ffe200 21deg,#fafe00 24.5deg,#87e100 34.5deg,#37ca00 40.5deg,#00bb05 46.5deg,#00d04c 52.5deg,#00e4a9 58deg,#00ebf3 64deg,#09d8f6 69deg,#07dbf6 80deg,#00ebf0 89deg,#00e5ab 100.5deg,#00d65e 108deg,#00c21e 111deg,#01b900 112deg,#5bd400 113.5deg,#a3e900 114.5deg,#f2fc00 116deg,#fff600 116.5deg,#ffc100 118.5deg,#fd9500 122deg)"></i>
<i style="width:133.8px;height:133.8px;margin:-66.9px;background:conic-gradient(from 29deg,#ee3a00 0deg,#f66300 9deg,#ffe400 21deg,#feff00 24deg,#88e200 34deg,#38ca00 40deg,#00bb05 46deg,#00d65f 53deg,#00e6c1 59deg,#01eaf5 63.5deg,#0cd3f7 68deg,#09d8f7 79.5deg,#00eaef 89deg,#00e397 102deg,#00d55c 108deg,#00c21d 111deg,#02ba00 112deg,#5cd500 113.5deg,#a4e900 114.5deg,#f4fc00 116deg,#fff500 116.5deg,#ffc000 118.5deg,#fd9400 122deg)"></i>
<i style="width:129.8px;height:129.8px;margin:-64.9px;background:conic-gradient(from 29deg,#ee3a00 0deg,#f66300 9deg,#ffe500 21deg,#fafe00 24deg,#86e100 33.5deg,#39ca00 39deg,#00ba02 45deg,#00dd77 53.5deg,#00e9db 60deg,#01e9f5 62.5deg,#0fccf7 67deg,#0cd2f7 78.5deg,#00ebf1 88deg,#00da6c 106.5deg,#00cd3f 109.5deg,#04ba00 112deg,#5ed500 113.5deg,#a5ea00 114.5deg,#f6fd00 116deg,#ffe200 117deg,#ffb500 119deg,#fd9100 122deg)"></i>
<i style="width:125.8px;height:125.8px;margin:-62.9px;background:conic-gradient(from 29deg,#ef3b00 0deg,#f66400 9deg,#ffe800 21deg,#fcfe00 23.5deg,#8ae200 32.5deg,#37c900 38deg,#00b901 44deg,#00e39b 54.5deg,#00ebf0 60.5deg,#13c4f8 67deg,#0dcff7 78deg,#00ebf2 86.5deg,#00e395 100deg,#00d761 107.5deg,#00c528 110.5deg,#05bb00 112deg,#61d600 113.5deg,#a7ea00 114.5deg,#f8fd00 116deg,#ffc500 118deg,#fd9200 121.5deg,#fc8e00 122deg)"></i>
<i style="width:121.8px;height:121.8px;margin:-60.9px;background:conic-gradient(from 29deg,#ef3b00 0deg,#f76900 9.5deg,#fff500 22deg,#f7fd00 23.5deg,#85e100 32deg,#2dc700 37.5deg,#00ba03 43deg,#00cb39 47deg,#00e4a1 53.5deg,#00ebf5 59.5deg,#16bef8 66deg,#11c8f8 75deg,#00ebf1 84deg,#00e39d 96.5deg,#00dd75 105.5deg,#00d252 108.5deg,#00bd0c 111.5deg,#07bb00 112deg,#64d700 113.5deg,#aaeb00 114.5deg,#fcfe00 116deg,#ffc200 118deg,#fd9400 121deg,#fc8a00 122deg)"></i>
<i style="width:117.8px;height:117.8px;margin:-58.9px;background:conic-gradient(from 29deg,#f03c00 0deg,#f76a00 9.5deg,#fff900 22deg,#f2fc00 23.5deg,#89e200 31deg,#29c500 36.5deg,#00ba02 41deg,#00c322 44.5deg,#00e399 51.5deg,#00ebf1 57.5deg,#18b9f9 65.5deg,#13c3f8 72deg,#00ebf1 81deg,#00e4a4 93.5deg,#00e185 103.5deg,#00d763 107.5deg,#00c527 110.5deg,#00bc0a 111.5deg,#0abc00 112deg,#67d800 113.5deg,#adeb00 114.5deg,#ffff00 116deg,#ffbe00 118deg,#fd8f00 121deg,#fb8500 122deg)"></i>
<i style="width:113.8px;height:113.8px;margin:-56.9px;background:conic-gradient(from 29deg,#f03c00 0deg,#f76a00 9.5deg,#fffc00 22deg,#8ee400 30deg,#25c400 35.5deg,#01b900 38.5deg,#00c424 43.5deg,#00da6a 47.5deg,#00e8d3 53.5deg,#00ebf5 56deg,#16bdf9 62.5deg,#1bb4f9 67.5deg,#00ebf1 79deg,#00e5ad 91.5deg,#00e394 102deg,#00da6a 107deg,#00c832 110deg,#00bc08 111.5deg,#0cbd00 112deg,#6bd900 113.5deg,#93e500 114deg,#fffc00 116deg,#ffba00 118deg,#fc8b00 121deg,#fa8000 122deg)"></i>
<i style="width:109.8px;height:109.8px;margin:-54.9px;background:conic-gradient(from 29deg,#f03d00 0deg,#f76b00 9.5deg,#fffa00 21.5deg,#e7f900 23.5deg,#8ae300 29.5deg,#1cc100 35deg,#00b901 37deg,#00c934 43.5deg,#00e080 47.5deg,#00e8d6 52deg,#00ebf4 54deg,#16bdf9 59.5deg,#1faafa 66deg,#08daf6 75.5deg,#00eaef 79deg,#00e7c5 89deg,#00e4a8 100deg,#00dc71 106.5deg,#00cc3d 109.5deg,#00bb06 111.5deg,#10be00 112deg,#6fda00 113.5deg,#97e600 114deg,#ecfa00 115.5deg,#fff900 116deg,#ffb600 118deg,#fb8700 121deg,#fa7c00 122deg)"></i>
<i style="width:105.8px;height:105.8px;margin:-52.9px;background:conic-gradient(from 29deg,#f03e00 0deg,#f76c00 9.5deg,#fffd00 21.5deg,#88e200 29deg,#13bf00 34.5deg,#00ba04 36deg,#00ce45 43.5deg,#00e28a 47deg,#00e9e0 51deg,#02e8f5 52.5deg,#19b6f9 57.5deg,#269cfb 65deg,#1bb3f9 71deg,#00eaf5 81.5deg,#00e7c4 97deg,#00e188 104.5deg,#00d55b 108deg,#00bf14 111deg,#00ba04 111.5deg,#2fc700 112.5deg,#9ae700 114deg,#effb00 115.5deg,#fff500 116deg,#ffb200 118deg,#fa7c00 121.5deg,#f97700 122deg)"></i>
<i style="width:101.8px;height:101.8px;margin:-50.9px;background:conic-gradient(from 29deg,#f03f00 0deg,#f76d00 9.5deg,#fffa00 21deg,#e4f900 23deg,#87e100 28.5deg,#03ba00 34.5deg,#00d456 43.5deg,#00e49f 47deg,#00ebf0 50.5deg,#20a9fa 56.5deg,#2e8bfc 64deg,#2995fc 69deg,#0ecdf7 81.5deg,#02e7f5 90.5deg,#00e9d9 96deg,#00e07d 105.5deg,#00d250 108.5deg,#00ba02 111.5deg,#32c800 112.5deg,#9de800 114deg,#f3fc00 115.5deg,#fff300 116deg,#ffaf00 118deg,#f97800 121.5deg,#f87300 122deg)"></i>
<i style="width:97.8px;height:97.8px;margin:-48.9px;background:conic-gradient(from 29deg,#f13f00 0deg,#f76d00 9.5deg,#ffe800 19.5deg,#f9fe00 21.5deg,#88e200 28deg,#08bc00 33.5deg,#00bb08 34.5deg,#00d967 43.5deg,#00e5b3 47deg,#00ebf1 49.5deg,#259ffb 55.5deg,#357dfe 62.5deg,#367bfe 67.5deg,#1ab4f9 83deg,#0ecef7 89.5deg,#00ebf0 94.5deg,#00dc70 106.5deg,#00ca39 109.5deg,#00b900 111.5deg,#56d300 113deg,#9fe800 114deg,#f6fd00 115.5deg,#ffdb00 116.5deg,#ffa000 118.5deg,#f86f00 122deg)"></i>
<i style="width:93.8px;height:93.8px;margin:-46.9px;background:conic-gradient(from 29deg,#f14000 0deg,#f86e00 9.5deg,#ffdb00 18.5deg,#ffff00 21deg,#8ce300 27.5deg,#08bb00 33deg,#00bc0a 34deg,#00de78 43.5deg,#00e8d3 47.5deg,#01e8f5 49deg,#22a4fa 53.5deg,#347ffd 58deg,#3e6aff 66deg,#1bb4f9 87.5deg,#00ebf2 95deg,#00d969 107deg,#00c62b 110deg,#02ba00 111.5deg,#58d300 113deg,#a1e900 114deg,#f8fd00 115.5deg,#ffb600 117.5deg,#fc8c00 119.5deg,#f76b00 122deg)"></i>
<i style="width:89.8px;height:89.8px;margin:-44.9px;background:conic-gradient(from 29deg,#f14000 0deg,#f86e00 9.5deg,#ffdc00 18.5deg,#fdff00 21deg,#85e100 27.5deg,#00b901 33deg,#00d252 39.5deg,#00e290 44deg,#00eaef 48deg,#18baf9 51deg,#3381fd 56deg,#3e69fe 62.5deg,#3c6fff 71.5deg,#20a8fa 87deg,#00ebef 95.5deg,#00d968 107deg,#00c62a 110deg,#04ba00 111.5deg,#5ad400 113deg,#a3e900 114deg,#fafe00 115.5deg,#ffb400 117.5deg,#fb8200 120deg,#f76900 122deg)"></i>
<i style="width:85.8px;height:85.8px;margin:-42.9px;background:conic-gradient(from 29deg,#f14100 0deg,#f86f00 9.5deg,#ffd600 18deg,#fcfe00 21deg,#8ee400 27deg,#05bb00 32.5deg,#00d967 40.5deg,#00e4a7 44.5deg,#02e7f5 48deg,#259ffb 52.5deg,#3a72fe 57.5deg,#3e66fd 65deg,#3b71fe 73.5deg,#22a4fa 87deg,#00ebf1 95.5deg,#00d968 107deg,#00c629 110deg,#05ba00 111.5deg,#5cd500 113deg,#c0f000 114.5deg,#fcfe00 115.5deg,#ffb300 117.5deg,#fa8100 120deg,#f66700 122deg)"></i>
<i style="width:81.8px;height:81.8px;margin:-40.9px;background:conic-gradient(from 29deg,#f14100 0deg,#f86f00 9.5deg,#ffd600 18deg,#fbfe00 21deg,#8de300 27deg,#04ba00 32.5deg,#00e39c 43.5deg,#00ebf4 47.5deg,#23a3fb 52deg,#3974fe 57deg,#3e67fe 63deg,#3b70ff 73.5deg,#23a3fb 87deg,#00ebf1 95.5deg,#00d968 107deg,#00c629 110deg,#05bb00 111.5deg,#5cd500 113deg,#c1f000 114.5deg,#fcfe00 115.5deg,#ffb200 117.5deg,#fa8000 120deg,#f66600 122deg)"></i>
<i style="width:77.8px;height:77.8px;margin:-38.9px;background:conic-gradient(from 29deg,#f14200 0deg,#f86f00 9.5deg,#ffd600 18deg,#fbfe00 21deg,#8de300 27deg,#05ba00 32.5deg,#00e4a5 43.5deg,#02e7f5 47.5deg,#23a3fb 52deg,#3975fe 57deg,#3e67fe 63deg,#3b6fff 73deg,#24a0fb 86.5deg,#00ebf3 95deg,#00da6b 106.5deg,#00c933 109.5deg,#06bb00 111.5deg,#5cd500 113deg,#c0f000 114.5deg,#fcfe00 115.5deg,#ffb200 117.5deg,#fa8000 120deg,#f66700 122deg)"></i>
<i style="width:73.8px;height:73.8px;margin:-36.9px;background:conic-gradient(from 29deg,#f14300 0deg,#f87000 9.5deg,#ffd600 18deg,#fbfe00 21deg,#8ee400 27deg,#05ba00 32.5deg,#00e4a7 43deg,#01e9f5 47deg,#21a6fa 51.5deg,#3975fe 57deg,#3e67fe 63deg,#3b70ff 73deg,#23a3fb 86.5deg,#00eaf5 94deg,#00d96a 106deg,#00c72e 109.5deg,#00bc08 111deg,#09bc00 111.5deg,#5cd500 113deg,#c0f000 114.5deg,#fbfe00 115.5deg,#ffb200 117.5deg,#fb8800 119.5deg,#f66700 122deg)"></i>
<i style="width:69.8px;height:69.8px;margin:-34.9px;background:conic-gradient(from 29deg,#f14600 0deg,#f87200 9.5deg,#ffcf00 17.5deg,#fcfe00 21deg,#8fe400 27deg,#04ba00 32.5deg,#00e4a1 42deg,#01e9f5 46.5deg,#23a1fb 51.5deg,#3b71fe 57.5deg,#3e67fd 67deg,#3778fe 75.5deg,#23a3fb 86deg,#01eaf5 93deg,#00e5b5 98deg,#00e187 103deg,#00c425 109.5deg,#00ba04 111deg,#24c400 112deg,#5dd500 113deg,#bff000 114.5deg,#fafe00 115.5deg,#ffa400 118deg,#f87300 121deg,#f76700 122deg)"></i>
<i style="width:65.8px;height:65.8px;margin:-32.9px;background:conic-gradient(from 29deg,#f24900 0deg,#f87300 9.5deg,#ffcf00 17.5deg,#fcfe00 21deg,#90e400 27deg,#02ba00 32.5deg,#00e39a 41deg,#02e7f5 46deg,#24a1fb 51deg,#3b70ff 57deg,#3e66fd 67deg,#3778fe 75.5deg,#24a0fb 85deg,#05e1f6 91.5deg,#00eae8 93deg,#00e4a8 97deg,#00e182 102.5deg,#03ba00 111deg,#3fcc00 112.5deg,#dbf600 115deg,#f9fd00 115.5deg,#ffb300 117.5deg,#fb8700 119.5deg,#f76800 122deg)"></i>
<i style="width:61.8px;height:61.8px;margin:-30.9px;background:conic-gradient(from 29deg,#f34d00 0deg,#f97900 10deg,#ffd600 18deg,#fdfe00 21deg,#91e400 27deg,#00b900 32.5deg,#00e39b 40.5deg,#00ebf5 45deg,#279afb 51deg,#3d6dff 57deg,#3e69fe 70deg,#2a93fc 82.5deg,#0fccf7 89deg,#00ebf3 91.5deg,#00e394 96.5deg,#00e185 99deg,#00df7b 102deg,#00c21d 108deg,#01b900 110.5deg,#2bc600 112deg,#5dd500 113deg,#bcef00 114.5deg,#f7fd00 115.5deg,#ffd800 116.5deg,#ffa400 118deg,#f97900 120.5deg,#f76900 122deg)"></i>
<i style="width:57.8px;height:57.8px;margin:-28.9px;background:conic-gradient(from 29deg,#f35100 0deg,#f97b00 10deg,#ffd000 17.5deg,#fdff00 21deg,#85e100 27.5deg,#00ba02 32.5deg,#00e39b 40deg,#02e8f5 44.5deg,#2a93fc 51deg,#3e6aff 57deg,#3e6aff 71.5deg,#2b91fc 82deg,#0bd4f7 89deg,#00eaef 91deg,#00de79 96.5deg,#00db6d 98.5deg,#00db70 101.5deg,#00d457 103.5deg,#00bf14 107deg,#03ba00 109.5deg,#21c300 111.5deg,#44cd00 112.5deg,#f5fd00 115.5deg,#ffd900 116.5deg,#ffa400 118deg,#f97900 120.5deg,#f76a00 122deg)"></i>
<i style="width:53.8px;height:53.8px;margin:-26.9px;background:conic-gradient(from 29deg,#f45500 0deg,#fa7d00 10deg,#ffd000 17.5deg,#feff00 21deg,#85e100 27.5deg,#00ba04 32.5deg,#00e39a 39.5deg,#00ebf3 43.5deg,#2c90fc 50.5deg,#3e69ff 56deg,#3e69ff 71deg,#2d8efc 81.5deg,#0ad6f7 88.5deg,#00ebf5 90deg,#00e4a2 93.5deg,#00d864 96deg,#00d253 98deg,#00d761 101.5deg,#00cf47 103.5deg,#00bb05 106.5deg,#29c500 111.5deg,#46ce00 112.5deg,#7dde00 113.5deg,#f3fc00 115.5deg,#fff100 116deg,#ffa400 118deg,#f97900 120.5deg,#f76b00 122deg)"></i>
<i style="width:49.8px;height:49.8px;margin:-24.9px;background:conic-gradient(from 29deg,#f45a00 0deg,#fb8300 10.5deg,#ffd700 18deg,#feff00 21deg,#86e100 27.5deg,#06bb00 32deg,#00c526 34deg,#00e4a2 39.5deg,#00ebf4 43deg,#2a93fc 49.5deg,#3e6aff 54.5deg,#3e66fd 68.5deg,#367bfe 77.5deg,#2898fb 82.5deg,#00ebf3 89.5deg,#00e5ab 92.5deg,#00cf49 96deg,#00ca38 97.5deg,#00d251 101.5deg,#00cd41 103deg,#00ba04 105.5deg,#27c500 107.5deg,#30c700 111.5deg,#48cf00 112.5deg,#7bde00 113.5deg,#f2fc00 115.5deg,#fff200 116deg,#ffa300 118deg,#fa7f00 120deg,#f76b00 122deg)"></i>
<i style="width:45.8px;height:45.8px;margin:-22.9px;background:conic-gradient(from 29deg,#f55e00 0deg,#fb8500 10.5deg,#ffd700 18deg,#ffff00 21deg,#86e100 27.5deg,#04ba00 32deg,#00e39d 39deg,#00ebf3 42.5deg,#23a3fb 47.5deg,#3e6aff 53.5deg,#3e65fd 67deg,#3975fe 76deg,#2c8ffc 81.5deg,#00ebf1 89deg,#00e6b8 91.5deg,#00d457 94.5deg,#00c425 96.5deg,#00c21f 98deg,#00ce43 101.5deg,#00c933 103deg,#03ba00 105deg,#33c800 106.5deg,#45ce00 108deg,#37ca00 111.5deg,#4acf00 112.5deg,#7ade00 113.5deg,#f0fb00 115.5deg,#fff300 116deg,#ffa300 118deg,#fa7e00 120deg,#f76c00 122deg)"></i>
<i style="width:41.8px;height:41.8px;margin:-20.9px;background:conic-gradient(from 29deg,#f66200 0deg,#fc8a00 11deg,#ffea00 19.5deg,#ffff00 21deg,#87e100 27.5deg,#02ba00 32deg,#00e4a3 39deg,#00ebf0 42deg,#23a2fb 47deg,#3e69ff 53deg,#3e64fc 66.5deg,#3974fe 76deg,#2c8ffc 81.5deg,#00ebf2 88.5deg,#00e5ab 91.5deg,#00cd42 94.5deg,#00bd0c 96.5deg,#00bb07 98deg,#00c933 101deg,#00c72f 102.5deg,#05bb00 104.5deg,#4dd000 106.5deg,#5dd500 108deg,#3ecc00 111.5deg,#4cd000 112.5deg,#79dd00 113.5deg,#eefb00 115.5deg,#fff400 116deg,#ffa300 118deg,#fa7e00 120deg,#f76d00 122deg)"></i>
<i style="width:37.8px;height:37.8px;margin:-18.9px;background:conic-gradient(from 29deg,#f66500 0deg,#fc8b00 11deg,#ffea00 19.5deg,#ffff00 21deg,#87e100 27.5deg,#00b900 32deg,#00e39b 38.5deg,#01eaf5 42deg,#1eaefa 45.5deg,#3e6aff 52deg,#3e62fb 65deg,#3a73fe 76deg,#2c90fc 81.5deg,#00ebf4 88deg,#00e5b0 91deg,#00d457 93.5deg,#00b901 96deg,#14bf00 97deg,#11be00 98deg,#00ba03 99deg,#00c527 101deg,#00c424 102.5deg,#02b900 104deg,#55d300 106deg,#72db00 107.5deg,#67d800 109deg,#43cd00 111.5deg,#4ed000 112.5deg,#78dd00 113.5deg,#edfb00 115.5deg,#fff500 116deg,#ffa300 118deg,#fa7e00 120deg,#f76e00 122deg)"></i>
<i style="width:33.8px;height:33.8px;margin:-16.9px;background:conic-gradient(from 29deg,#f76700 0deg,#fc8c00 11deg,#ffea00 19.5deg,#ffff00 21deg,#95e600 27deg,#00b901 32deg,#00e39f 38.5deg,#00eaef 41.5deg,#19b6f9 44.5deg,#3e6aff 51.5deg,#3e61fb 64.5deg,#3a73fe 76deg,#2e8bfc 81deg,#01e9f5 87.5deg,#00e6b7 90.5deg,#00d65f 93deg,#02b900 95.5deg,#22c300 96.5deg,#2bc600 97.5deg,#0fbd00 99deg,#00b900 99.5deg,#00c321 101.5deg,#00be12 103deg,#00ba05 103.5deg,#26c400 104.5deg,#66d800 106deg,#7edf00 107deg,#7dde00 108.5deg,#48cf00 111.5deg,#4fd100 112.5deg,#78dd00 113.5deg,#ecfa00 115.5deg,#fff600 116deg,#ffa300 118deg,#fa7e00 120deg,#f86e00 122deg)"></i>
<i style="width:29.8px;height:29.8px;margin:-14.9px;background:conic-gradient(from 29deg,#f76900 0deg,#fc8d00 11deg,#ffe300 19deg,#fffe00 21deg,#95e600 27deg,#00b901 32deg,#00e4a1 38.5deg,#00ebf2 41.5deg,#21a6fa 45.5deg,#3e69ff 51.5deg,#3e61fb 64deg,#3a72fe 76deg,#2e8bfc 81deg,#00ebf5 87.5deg,#00e5b2 90.5deg,#00da6c 92.5deg,#00bb06 95deg,#30c800 96.5deg,#39ca00 97.5deg,#1bc100 99deg,#00ba04 100deg,#00c11b 101.5deg,#00bd0c 103deg,#02ba00 103.5deg,#71db00 106deg,#8ae200 107deg,#8ce300 108deg,#4bcf00 111.5deg,#50d100 112.5deg,#77dd00 113.5deg,#ebfa00 115.5deg,#fff600 116deg,#ffa300 118deg,#fa7d00 120deg,#f86e00 122deg)"></i>
<i style="width:25.8px;height:25.8px;margin:-12.9px;background:conic-gradient(from 29deg,#f76a00 0deg,#fd9000 11.5deg,#fff800 20.5deg,#f7fd00 21.5deg,#95e600 27deg,#00ba02 32deg,#00e4a2 38.5deg,#00ebf4 41.5deg,#1fabfa 45deg,#3e69fe 51.5deg,#3e60fa 64deg,#3a72fe 76deg,#2e8bfc 81deg,#00ebf4 87.5deg,#00e5b0 90.5deg,#00da6a 92.5deg,#00ba03 95deg,#35c900 96.5deg,#3dcb00 97.5deg,#1fc200 99deg,#00ba02 100deg,#00c119 101.5deg,#00bc0a 103deg,#05ba00 103.5deg,#75dc00 106deg,#8de300 107deg,#90e400 108deg,#68d800 110deg,#4bd000 111.5deg,#51d100 112.5deg,#77dd00 113.5deg,#ebfa00 115.5deg,#fff600 116deg,#ffa300 118deg,#fa7d00 120deg,#f86f00 122deg)"></i>
<i style="width:21.8px;height:21.8px;margin:-10.9px;background:conic-gradient(from 29deg,#f76a00 0deg,#fd9000 11.5deg,#fff800 20.5deg,#f7fd00 21.5deg,#95e600 27deg,#00ba02 32deg,#00e4a2 38.5deg,#00ebf4 41.5deg,#1fabfa 45deg,#3e69fe 51.5deg,#3e60fa 64deg,#3a72fe 76deg,#2e8bfc 81deg,#00ebf3 87.5deg,#00e5b0 90.5deg,#00da6a 92.5deg,#00ba03 95deg,#35c900 96.5deg,#3ecb00 97.5deg,#1fc200 99deg,#00ba02 100deg,#00c119 101.5deg,#00bc0a 103deg,#05ba00 103.5deg,#75dc00 106deg,#8de300 107deg,#90e400 108deg,#68d800 110deg,#4cd000 111.5deg,#51d100 112.5deg,#77dd00 113.5deg,#ebfa00 115.5deg,#fff600 116deg,#ffa300 118deg,#fa7d00 120deg,#f86f00 122deg)"></i>
<i style="width:17.8px;height:17.8px;margin:-8.9px;background:conic-gradient(from 29deg,#f76a00 0deg,#fc8d00 11deg,#ffe400 19deg,#ffff00 21deg,#95e600 27deg,#00ba02 32deg,#00e4a3 38.5deg,#00ebf4 41.5deg,#1faafa 45deg,#3e69fe 51.5deg,#3e60fa 64deg,#3a72fe 76deg,#2e8bfc 81deg,#00ebf3 87.5deg,#00e5b0 90.5deg,#00da6a 92.5deg,#00ba03 95deg,#35c900 96.5deg,#3ecb00 97.5deg,#1fc200 99deg,#00ba02 100deg,#00c119 101.5deg,#00bc0a 103deg,#05ba00 103.5deg,#75dc00 106deg,#8de300 107deg,#90e400 108deg,#68d800 110deg,#4cd000 111.5deg,#51d100 112.5deg,#77dd00 113.5deg,#ebfa00 115.5deg,#fff600 116deg,#ffa300 118deg,#fa7d00 120deg,#f86f00 122deg)"></i>
<i style="width:13.8px;height:13.8px;margin:-6.9px;background:conic-gradient(from 29deg,#f76a00 0deg,#fc8d00 11deg,#ffe400 19deg,#ffff00 21deg,#95e600 27deg,#00ba02 32deg,#00e4a3 38.5deg,#00ebf4 41.5deg,#1faafa 45deg,#3e69fe 51.5deg,#3e60fa 64deg,#3a72fe 76deg,#2e8bfc 81deg,#00ebf3 87.5deg,#00e5b0 90.5deg,#00da6a 92.5deg,#00ba03 95deg,#35c900 96.5deg,#3ecb00 97.5deg,#1fc200 99deg,#00ba02 100deg,#00c119 101.5deg,#00bc0a 103deg,#05ba00 103.5deg,#75dc00 106deg,#8de300 107deg,#90e400 108deg,#68d800 110deg,#4cd000 111.5deg,#51d100 112.5deg,#77dd00 113.5deg,#ebfa00 115.5deg,#fff600 116deg,#ffa300 118deg,#fa7d00 120deg,#f86f00 122deg)"></i></div></div></div>
<svg class="t" width="1200" height="750" viewBox="0 0 1200 750">
<g transform="scale(1.14,1)" font-size="40" fill="#ffff50" text-anchor="middle" class="ttl">
<text x="336.2" y="58.5">2</text>
<text x="360.7" y="58.5">0</text>
<text x="384.9" y="58.5">2</text>
<text x="409.4" y="58.5">5</text>
<text x="433.6" y="58.5">-</text>
<text x="457.2" y="58.5">0</text>
<text x="481.4" y="58.5">8</text>
<text x="507.0" y="58.5">-</text>
<text x="530.5" y="58.5">0</text>
<text x="554.8" y="58.5">3</text>
<text x="599.1" y="58.5">0</text>
<text x="622.8" y="58.5">3</text>
<text x="646.1" y="58.5">:</text>
<text x="667.8" y="58.5">0</text>
<text x="691.9" y="58.5">0</text>
<text x="716.7" y="58.5">Z</text>
</g>
<circle cx="252.8" cy="229.6" r="92.1" fill="none" stroke="#000" stroke-opacity="0.42" stroke-width="0.75"/>
<circle cx="252.6" cy="229.3" r="8.7" fill="#000"/><circle cx="252.6" cy="229.3" r="5.3" fill="#fff01e"/>
<circle cx="317.7" cy="170.7" r="4.3" fill="#f08080" stroke="#000" stroke-width="2.1"/>
<rect x="-3.7" y="-3.7" width="7.4" height="7.4" rx="1.3" transform="translate(344.9,229.7) rotate(45)" fill="#a4f5a4" stroke="#000" stroke-width="2"/>
<circle cx="252.8" cy="560.2" r="92.1" fill="none" stroke="#000" stroke-opacity="0.42" stroke-width="0.75"/>
<circle cx="252.6" cy="559.9" r="8.7" fill="#000"/><circle cx="252.6" cy="559.9" r="5.3" fill="#fff01e"/>
<circle cx="317.7" cy="501.3" r="4.3" fill="#f08080" stroke="#000" stroke-width="2.1"/>
<rect x="-3.7" y="-3.7" width="7.4" height="7.4" rx="1.3" transform="translate(344.9,560.3) rotate(45)" fill="#a4f5a4" stroke="#000" stroke-width="2"/>
<path d="M493.6 150.2A92.1 92.1 0 0 1 493.6 309.8" fill="none" stroke="#000" stroke-opacity="0.42" stroke-width="0.75"/>
<circle cx="447.5" cy="230" r="8.7" fill="#000"/><circle cx="447.5" cy="230" r="5.3" fill="#fff01e"/>
<path d="M493.6 480.4A92.1 92.1 0 0 1 493.6 640.0" fill="none" stroke="#000" stroke-opacity="0.42" stroke-width="0.75"/>
<circle cx="447.5" cy="560.2" r="8.7" fill="#000"/><circle cx="447.5" cy="560.2" r="5.3" fill="#fff01e"/>
<circle cx="539.6" cy="222.6" r="3.6" fill="#78e878" stroke="#000" stroke-width="2.1"/>
<circle cx="539.6" cy="552.8" r="3.6" fill="#78e878" stroke="#000" stroke-width="2.1"/>
<defs><linearGradient id="cb" x1="0" y1="1" x2="0" y2="0"><stop offset="0" stop-color="rgb(72,60,190)"/><stop offset="0.04" stop-color="rgb(64,64,235)"/><stop offset="0.085" stop-color="rgb(62,106,255)"/><stop offset="0.125" stop-color="rgb(0,235,245)"/><stop offset="0.155" stop-color="rgb(0,225,130)"/><stop offset="0.19" stop-color="rgb(0,185,0)"/><stop offset="0.22" stop-color="rgb(150,230,0)"/><stop offset="0.253" stop-color="rgb(255,255,0)"/><stop offset="0.29" stop-color="rgb(255,160,0)"/><stop offset="0.332" stop-color="rgb(240,60,0)"/><stop offset="0.372" stop-color="rgb(180,0,0)"/><stop offset="0.405" stop-color="rgb(220,30,120)"/><stop offset="0.433" stop-color="rgb(255,100,220)"/><stop offset="0.47" stop-color="rgb(255,190,250)"/><stop offset="0.5" stop-color="rgb(255,255,255)"/><stop offset="1" stop-color="rgb(0,0,0)"/></linearGradient></defs>
<rect x="38.6" y="129" width="11.5" height="203" fill="url(#cb)" stroke="#fff" stroke-width="1.1"/>
<text x="59.5" y="134.9" font-size="17" class="n" fill="#e2e2e2">60</text>
<text x="59.5" y="185.7" font-size="17" class="n" fill="#e2e2e2">45</text>
<text x="59.5" y="236.4" font-size="17" class="n" fill="#e2e2e2">30</text>
<text x="59.5" y="287.1" font-size="17" class="n" fill="#e2e2e2">15</text>
<text x="59.5" y="337.9" font-size="17" class="n" fill="#e2e2e2">0</text>
<text transform="translate(28.8,230.3) rotate(-90)" font-size="17" style="letter-spacing:.77px" fill="#e2e2e2" text-anchor="middle">Plasma Density (r<tspan font-size="10.5" dy="-7.5">2</tspan><tspan dy="7.5">N/cm</tspan><tspan font-size="10.5" dy="-7.5">3</tspan><tspan dy="7.5">)</tspan></text>
<rect x="38.6" y="458.3" width="11.5" height="202.9" fill="url(#cb)" stroke="#fff" stroke-width="1.1"/>
<text x="55.5" y="464.2" font-size="17" class="n" fill="#e2e2e2">1600</text>
<text x="55.5" y="514.9" font-size="17" class="n" fill="#e2e2e2">1250</text>
<text x="59.5" y="565.6" font-size="17" class="n" fill="#e2e2e2">900</text>
<text x="59.5" y="616.4" font-size="17" class="n" fill="#e2e2e2">550</text>
<text x="59.5" y="667.1" font-size="17" class="n" fill="#e2e2e2">200</text>
<text transform="translate(28.8,574.5) rotate(-90)" font-size="17" style="letter-spacing:.45px" fill="#e2e2e2" text-anchor="middle">Radial Velocity (km/s)</text>
<rect x="51.3" y="407.2" width="13" height="1.9" fill="#dedede"/>
<text x="920.5" y="104.3" font-size="17" fill="#e2e2e2" text-anchor="middle">Plasma Density (/cm<tspan font-size="10.5" dy="-7.5">3</tspan><tspan dy="7.5">)</tspan></text>
<text x="920" y="433" font-size="17" fill="#e2e2e2" text-anchor="middle">Radial Velocity (km/s)</text>
<path d="M665.8 204.1h7M1175.0 204.1h-6M665.8 181.7h7M1175.0 181.7h-6M665.8 159.3h7M1175.0 159.3h-6M665.8 136.9h7M1175.0 136.9h-6M696.0 226.5v-6M768.9 226.5v-6M841.7 226.5v-6M914.6 226.5v-6M987.5 226.5v-6M1060.4 226.5v-6M1133.3 226.5v-6" stroke="#f2f2f2" stroke-width="1.4" fill="none"/>
<path d="M665.5 171.5H669.5V170.5H673.5V169.5H677.5V168.5H681.5V167.5H685.5V166.5H691.5V165.5H695.5V164.5H703.5V163.5H709.5V162.5H715.5V161.5H723.5V160.5H729.5V159.5H735.5V158.5H741.5V157.5H747.5V156.5H751.5V155.5H755.5V154.5H759.5V153.5H763.5V152.5H769.5V151.5H773.5V150.5H793.5V149.5H799.5V150.5H805.5V149.5H813.5V150.5H837.5V149.5H843.5V148.5H851.5V147.5H855.5V146.5H859.5V145.5H863.5V144.5H865.5V143.5H869.5V142.5H871.5V141.5H873.5V140.5H875.5V139.5H879.5V138.5H881.5V137.5H883.5V136.5H887.5V135.5H895.5V134.5H899.5V135.5H913.5V136.5H915.5V137.5H917.5V138.5H919.5V139.5H921.5V140.5H925.5V143.5H927.5V146.5H929.5V148.5H931.5V150.5H933.5V152.5H935.5V154.5H937.5V156.5H939.5V158.5H941.5V160.5H943.5V162.5H945.5V164.5H947.5V166.5H949.5V168.5H951.5V170.5H953.5V171.5H955.5V173.5H957.5V174.5H959.5V176.5H961.5V177.5H963.5V178.5H965.5V179.5H967.5V180.5H971.5V181.5H973.5V182.5H975.5V183.5H977.5V184.5H979.5V185.5H983.5V186.5H989.5V185.5H993.5V187.5H995.5V188.5H997.5V190.5H999.5V192.5H1001.5V194.5H1003.5V195.5H1019.5V196.5H1023.5V197.5H1031.5V198.5H1069.5V199.5H1081.5V198.5H1083.5V197.5H1085.5V198.5H1097.5V197.5H1101.5V198.5H1113.5V197.5H1127.5V196.5H1135.5V195.5H1139.5V194.5H1143.5V193.5H1147.5V192.5H1153.5V191.5H1157.5V190.5H1161.5V189.5H1165.5V188.5H1173.5V187.5H1173.5" stroke="#90ee90" stroke-width="1.15" fill="none"/>
<rect x="665.8" y="114.5" width="509.2" height="112.0" fill="none" stroke="#f2f2f2" stroke-width="1.5"/>
<text x="679.3" y="135.0" font-size="17" fill="#e2e2e2">EARTH</text>
<text x="653.3" y="120.3" font-size="17" class="n" fill="#e2e2e2" text-anchor="end">10</text>
<text x="653.3" y="165.1" font-size="17" class="n" fill="#e2e2e2" text-anchor="end">6</text>
<text x="653.3" y="209.9" font-size="17" class="n" fill="#e2e2e2" text-anchor="end">2</text>
<rect x="1068.1" y="112.5" width="3" height="114.5" fill="#ffff66"/>
<circle cx="1069.6" cy="199.0" r="2.7" fill="#f0f032"/>
<path d="M665.8 332.0h7M1175.0 332.0h-6M665.8 309.6h7M1175.0 309.6h-6M665.8 287.1h7M1175.0 287.1h-6M665.8 264.7h7M1175.0 264.7h-6M696.0 354.4v-6M768.9 354.4v-6M841.7 354.4v-6M914.6 354.4v-6M987.5 354.4v-6M1060.4 354.4v-6M1133.3 354.4v-6" stroke="#f2f2f2" stroke-width="1.4" fill="none"/>
<path d="M665.5 313.5H707.5V314.5H715.5V315.5H727.5V316.5H741.5V317.5H801.5V316.5H813.5V315.5H817.5V314.5H829.5V313.5H831.5V312.5H833.5V310.5H841.5V309.5H843.5V307.5H845.5V306.5H851.5V305.5H853.5V304.5H855.5V303.5H857.5V302.5H859.5V301.5H863.5V300.5H865.5V299.5H867.5V298.5H869.5V297.5H873.5V296.5H875.5V295.5H877.5V294.5H879.5V293.5H883.5V292.5H887.5V291.5H891.5V290.5H895.5V289.5H899.5V288.5H905.5V287.5H909.5V286.5H923.5V285.5H929.5V284.5H935.5V283.5H951.5V282.5H957.5V281.5H961.5V280.5H967.5V279.5H973.5V278.5H979.5V277.5H987.5V276.5H993.5V275.5H999.5V274.5H1007.5V275.5H1011.5V274.5H1029.5V273.5H1033.5V272.5H1043.5V273.5H1045.5V274.5H1047.5V273.5H1049.5V272.5H1051.5V273.5H1055.5V274.5H1067.5V273.5H1069.5V272.5H1075.5V271.5H1081.5V270.5H1087.5V269.5H1093.5V268.5H1099.5V267.5H1101.5V266.5H1103.5V265.5H1105.5V264.5H1109.5V263.5H1113.5V261.5H1115.5V260.5H1125.5V259.5H1137.5V260.5H1139.5V261.5H1141.5V260.5H1149.5V262.5H1151.5V264.5H1153.5V265.5H1155.5V267.5H1157.5V268.5H1159.5V269.5H1161.5V272.5H1163.5V274.5H1165.5V276.5H1167.5V278.5H1169.5V280.5H1171.5V283.5H1171.5" stroke="#f08080" stroke-width="1.15" fill="none"/>
<rect x="665.8" y="242.3" width="509.2" height="112.1" fill="none" stroke="#f2f2f2" stroke-width="1.5"/>
<text x="679.3" y="262.8" font-size="17" fill="#e2e2e2">STEREO A</text>
<text x="653.3" y="248.1" font-size="17" class="n" fill="#e2e2e2" text-anchor="end">10</text>
<text x="653.3" y="292.9" font-size="17" class="n" fill="#e2e2e2" text-anchor="end">6</text>
<text x="653.3" y="337.8" font-size="17" class="n" fill="#e2e2e2" text-anchor="end">2</text>
<rect x="1068.1" y="240.3" width="3" height="114.6" fill="#ffff66"/>
<circle cx="1069.6" cy="272.4" r="2.7" fill="#f0f032"/>
<path d="M665.8 527.4h7M1175.0 527.4h-6M665.8 499.4h7M1175.0 499.4h-6M665.8 471.3h7M1175.0 471.3h-6M696.0 555.4v-6M768.9 555.4v-6M841.7 555.4v-6M914.6 555.4v-6M987.5 555.4v-6M1060.4 555.4v-6M1133.3 555.4v-6" stroke="#f2f2f2" stroke-width="1.4" fill="none"/>
<path d="M665.5 513.5H671.5V514.5H677.5V515.5H687.5V516.5H695.5V517.5H701.5V518.5H709.5V519.5H715.5V520.5H729.5V521.5H743.5V522.5H757.5V523.5H769.5V522.5H777.5V521.5H787.5V520.5H799.5V519.5H807.5V518.5H815.5V517.5H831.5V516.5H847.5V515.5H861.5V514.5H871.5V513.5H879.5V512.5H887.5V511.5H891.5V510.5H897.5V509.5H901.5V508.5H903.5V507.5H907.5V506.5H909.5V505.5H911.5V504.5H913.5V503.5H917.5V502.5H919.5V501.5H921.5V499.5H923.5V498.5H925.5V496.5H927.5V495.5H929.5V493.5H931.5V491.5H933.5V490.5H935.5V488.5H937.5V486.5H939.5V485.5H941.5V483.5H943.5V482.5H945.5V480.5H947.5V479.5H949.5V478.5H951.5V477.5H953.5V476.5H955.5V475.5H957.5V474.5H959.5V473.5H961.5V472.5H965.5V471.5H967.5V470.5H971.5V469.5H975.5V468.5H981.5V467.5H987.5V466.5H993.5V465.5H1005.5V466.5H1017.5V467.5H1031.5V468.5H1039.5V469.5H1043.5V470.5H1047.5V471.5H1051.5V472.5H1057.5V473.5H1061.5V474.5H1067.5V475.5H1071.5V476.5H1075.5V477.5H1079.5V478.5H1083.5V479.5H1085.5V480.5H1089.5V481.5H1093.5V482.5H1095.5V483.5H1099.5V484.5H1103.5V485.5H1105.5V486.5H1109.5V487.5H1113.5V488.5H1115.5V489.5H1119.5V490.5H1123.5V491.5H1125.5V492.5H1129.5V493.5H1133.5V494.5H1137.5V495.5H1141.5V496.5H1145.5V497.5H1149.5V498.5H1155.5V499.5H1159.5V500.5H1163.5V501.5H1169.5V502.5H1173.5" stroke="#90ee90" stroke-width="1.15" fill="none"/>
<rect x="665.8" y="443.3" width="509.2" height="112.1" fill="none" stroke="#f2f2f2" stroke-width="1.5"/>
<text x="679.3" y="463.8" font-size="17" fill="#e2e2e2">EARTH</text>
<text x="653.3" y="477.1" font-size="17" class="n" fill="#e2e2e2" text-anchor="end">500</text>
<text x="653.3" y="533.2" font-size="17" class="n" fill="#e2e2e2" text-anchor="end">300</text>
<rect x="1068.1" y="441.3" width="3" height="114.6" fill="#ffff66"/>
<circle cx="1069.6" cy="475.6" r="2.7" fill="#f0f032"/>
<path d="M665.8 654.7h7M1175.0 654.7h-6M665.8 626.8h7M1175.0 626.8h-6M665.8 598.8h7M1175.0 598.8h-6M696.0 682.6v-6M768.9 682.6v-6M841.7 682.6v-6M914.6 682.6v-6M987.5 682.6v-6M1060.4 682.6v-6M1133.3 682.6v-6" stroke="#f2f2f2" stroke-width="1.4" fill="none"/>
<path d="M665.5 614.5H695.5V615.5H737.5V616.5H743.5V617.5H749.5V618.5H755.5V619.5H761.5V620.5H767.5V621.5H773.5V622.5H777.5V623.5H783.5V624.5H789.5V625.5H795.5V626.5H801.5V627.5H807.5V628.5H813.5V629.5H817.5V630.5H821.5V631.5H825.5V632.5H829.5V633.5H833.5V634.5H837.5V635.5H841.5V636.5H849.5V637.5H859.5V638.5H867.5V639.5H875.5V640.5H889.5V641.5H901.5V642.5H909.5V643.5H925.5V644.5H935.5V645.5H949.5V646.5H961.5V647.5H1013.5V646.5H1025.5V645.5H1035.5V644.5H1055.5V643.5H1069.5V642.5H1099.5V641.5H1109.5V640.5H1115.5V639.5H1121.5V638.5H1125.5V637.5H1129.5V636.5H1133.5V635.5H1137.5V634.5H1141.5V633.5H1143.5V632.5H1147.5V631.5H1149.5V630.5H1151.5V629.5H1153.5V627.5H1155.5V625.5H1157.5V624.5H1159.5V622.5H1161.5V620.5H1163.5V619.5H1165.5V617.5H1167.5V615.5H1169.5V613.5H1171.5V611.5H1173.5V610.5H1173.5" stroke="#f08080" stroke-width="1.15" fill="none"/>
<rect x="665.8" y="570.9" width="509.2" height="111.7" fill="none" stroke="#f2f2f2" stroke-width="1.5"/>
<text x="679.3" y="591.4" font-size="17" fill="#e2e2e2">STEREO A</text>
<text x="653.3" y="604.6" font-size="17" class="n" fill="#e2e2e2" text-anchor="end">500</text>
<text x="653.3" y="660.5" font-size="17" class="n" fill="#e2e2e2" text-anchor="end">300</text>
<rect x="1068.1" y="568.9" width="3" height="114.2" fill="#ffff66"/>
<circle cx="1069.6" cy="642.9" r="2.7" fill="#f0f032"/>
<text x="696.5" y="374.8" font-size="17" class="n" fill="#e2e2e2" text-anchor="middle">29</text>
<text x="769.4" y="374.8" font-size="17" class="n" fill="#e2e2e2" text-anchor="middle">30</text>
<text x="842.2" y="374.8" font-size="17" class="n" fill="#e2e2e2" text-anchor="middle">31</text>
<text x="915.1" y="374.8" font-size="17" class="n" fill="#e2e2e2" text-anchor="middle">01</text>
<text x="988.0" y="374.8" font-size="17" class="n" fill="#e2e2e2" text-anchor="middle">02</text>
<text x="1060.9" y="374.8" font-size="17" class="n" fill="#e2e2e2" text-anchor="middle">03</text>
<text x="1133.8" y="374.8" font-size="17" class="n" fill="#e2e2e2" text-anchor="middle">04</text>
<text x="696.5" y="703.7" font-size="17" class="n" fill="#e2e2e2" text-anchor="middle">29</text>
<text x="769.4" y="703.7" font-size="17" class="n" fill="#e2e2e2" text-anchor="middle">30</text>
<text x="842.2" y="703.7" font-size="17" class="n" fill="#e2e2e2" text-anchor="middle">31</text>
<text x="915.1" y="703.7" font-size="17" class="n" fill="#e2e2e2" text-anchor="middle">01</text>
<text x="988.0" y="703.7" font-size="17" class="n" fill="#e2e2e2" text-anchor="middle">02</text>
<text x="1060.9" y="703.7" font-size="17" class="n" fill="#e2e2e2" text-anchor="middle">03</text>
<text x="1133.8" y="703.7" font-size="17" class="n" fill="#e2e2e2" text-anchor="middle">04</text>
<text x="5" y="744.5" font-size="17" style="letter-spacing:.49px" fill="#e2e2e2">Space Weather Prediction Center</text>
<text x="470" y="744.5" font-size="17" style="letter-spacing:.66px" fill="#e2e2e2" xml:space="preserve">Run Time: 2025-07-30 14:00Z  Mode: CME</text>
<text x="909" y="744.5" font-size="17" style="letter-spacing:.66px" fill="#e2e2e2">Image Created: 2025-07-30 16:07Z</text>
</svg>
</body></html>
